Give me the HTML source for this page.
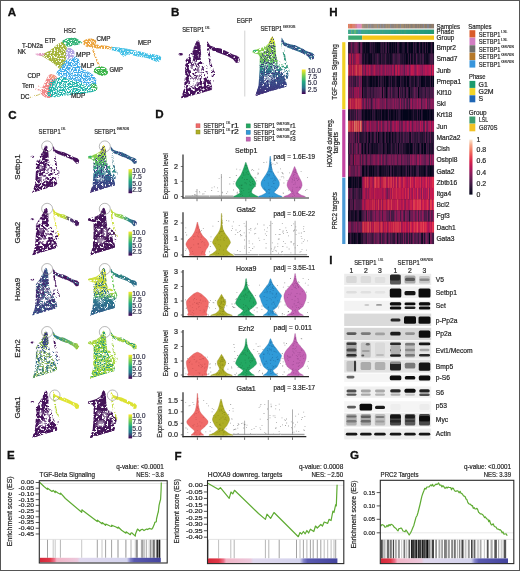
<!DOCTYPE html>
<html><head><meta charset="utf-8"><title>Figure</title>
<style>
html,body{margin:0;padding:0;background:#fff;overflow:hidden;}
svg{display:block;will-change:transform;}
text{font-family:"Liberation Sans", sans-serif;}
</style></head><body>
<svg width="520" height="571" viewBox="0 0 520 571" shape-rendering="geometricPrecision">
<defs>
<filter id="d0" x="-5%" y="-5%" width="110%" height="110%" color-interpolation-filters="sRGB"><feTurbulence type="fractalNoise" baseFrequency="0.45" numOctaves="2" seed="4" result="n"/><feColorMatrix in="n" type="matrix" values="0 0 0 0 0  0 0 0 0 0  0 0 0 0 0  7 0 0 0 -3.920" result="m"/><feComposite in="SourceGraphic" in2="m" operator="in" result="c"/><feGaussianBlur in="c" stdDeviation="0.28"/></filter>
<filter id="d1" x="-5%" y="-5%" width="110%" height="110%" color-interpolation-filters="sRGB"><feTurbulence type="fractalNoise" baseFrequency="0.45" numOctaves="2" seed="4" result="n"/><feColorMatrix in="n" type="matrix" values="0 0 0 0 0  0 0 0 0 0  0 0 0 0 0  7 0 0 0 -3.570" result="m"/><feComposite in="SourceGraphic" in2="m" operator="in" result="c"/><feGaussianBlur in="c" stdDeviation="0.28"/></filter>
<filter id="d2" x="-5%" y="-5%" width="110%" height="110%" color-interpolation-filters="sRGB"><feTurbulence type="fractalNoise" baseFrequency="0.45" numOctaves="2" seed="4" result="n"/><feColorMatrix in="n" type="matrix" values="0 0 0 0 0  0 0 0 0 0  0 0 0 0 0  7 0 0 0 -3.150" result="m"/><feComposite in="SourceGraphic" in2="m" operator="in" result="c"/><feGaussianBlur in="c" stdDeviation="0.28"/></filter>
<filter id="d3" x="-5%" y="-5%" width="110%" height="110%" color-interpolation-filters="sRGB"><feTurbulence type="fractalNoise" baseFrequency="0.45" numOctaves="2" seed="4" result="n"/><feColorMatrix in="n" type="matrix" values="0 0 0 0 0  0 0 0 0 0  0 0 0 0 0  7 0 0 0 -2.380" result="m"/><feComposite in="SourceGraphic" in2="m" operator="in" result="c"/><feGaussianBlur in="c" stdDeviation="0.28"/></filter>
<filter id="d4" x="-5%" y="-5%" width="110%" height="110%" color-interpolation-filters="sRGB"><feTurbulence type="fractalNoise" baseFrequency="0.45" numOctaves="2" seed="4" result="n"/><feColorMatrix in="n" type="matrix" values="0 0 0 0 0  0 0 0 0 0  0 0 0 0 0  7 0 0 0 -1.890" result="m"/><feComposite in="SourceGraphic" in2="m" operator="in" result="c"/><feGaussianBlur in="c" stdDeviation="0.28"/></filter>
<filter id="holesA" x="-5%" y="-5%" width="110%" height="110%" color-interpolation-filters="sRGB"><feTurbulence type="fractalNoise" baseFrequency="0.7" numOctaves="2" seed="7" result="n"/><feColorMatrix in="n" type="matrix" values="0 0 0 0 0  0 0 0 0 0  0 0 0 0 0  7 0 0 0 -2.450" result="m"/><feComposite in="SourceGraphic" in2="m" operator="in" result="c"/><feGaussianBlur in="c" stdDeviation="0.35"/></filter>
<filter id="holesB" x="-5%" y="-5%" width="110%" height="110%" color-interpolation-filters="sRGB"><feTurbulence type="fractalNoise" baseFrequency="0.8" numOctaves="2" seed="9" result="n"/><feColorMatrix in="n" type="matrix" values="0 0 0 0 0  0 0 0 0 0  0 0 0 0 0  7 0 0 0 -2.800" result="m"/><feComposite in="SourceGraphic" in2="m" operator="in" result="c"/><feGaussianBlur in="c" stdDeviation="0.3"/></filter>
<filter id="speck" x="-5%" y="-5%" width="110%" height="110%" color-interpolation-filters="sRGB"><feTurbulence type="fractalNoise" baseFrequency="0.9" numOctaves="2" seed="11" result="n"/><feColorMatrix in="n" type="matrix" values="0 0 0 0 0  0 0 0 0 0  0 0 0 0 0  7 0 0 0 -3.500" result="m"/><feComposite in="SourceGraphic" in2="m" operator="in" result="c"/><feGaussianBlur in="c" stdDeviation="0.28"/></filter>
<filter id="speck2" x="-5%" y="-5%" width="110%" height="110%" color-interpolation-filters="sRGB"><feTurbulence type="fractalNoise" baseFrequency="0.9" numOctaves="2" seed="13" result="n"/><feColorMatrix in="n" type="matrix" values="0 0 0 0 0  0 0 0 0 0  0 0 0 0 0  7 0 0 0 -3.080" result="m"/><feComposite in="SourceGraphic" in2="m" operator="in" result="c"/><feGaussianBlur in="c" stdDeviation="0.28"/></filter>
<filter id="blur3"><feGaussianBlur stdDeviation="0.35"/></filter>
<filter id="blur6"><feGaussianBlur stdDeviation="0.6"/></filter>
<filter id="blur10"><feGaussianBlur stdDeviation="1.0"/></filter>
<filter id="blur15"><feGaussianBlur stdDeviation="1.5"/></filter>
</defs>
<rect x="0.5" y="0.5" width="519" height="570" fill="none" stroke="#555" stroke-width="1"/>
<text x="7.8" y="16.4" font-size="11.6" font-weight="bold" fill="#111" stroke="#111" stroke-width="0.3">A</text>
<text x="171.1" y="15.8" font-size="11.6" font-weight="bold" fill="#111" stroke="#111" stroke-width="0.3">B</text>
<text x="329.2" y="16.2" font-size="11.6" font-weight="bold" fill="#111" stroke="#111" stroke-width="0.3">H</text>
<text x="8.2" y="118.8" font-size="11.6" font-weight="bold" fill="#111" stroke="#111" stroke-width="0.3">C</text>
<text x="155.2" y="118.0" font-size="11.6" font-weight="bold" fill="#111" stroke="#111" stroke-width="0.3">D</text>
<text x="329.3" y="263.6" font-size="11.6" font-weight="bold" fill="#111" stroke="#111" stroke-width="0.3">I</text>
<text x="7.0" y="459.2" font-size="11.6" font-weight="bold" fill="#111" stroke="#111" stroke-width="0.3">E</text>
<text x="174.6" y="459.5" font-size="11.6" font-weight="bold" fill="#111" stroke="#111" stroke-width="0.3">F</text>
<text x="349.9" y="459.3" font-size="11.6" font-weight="bold" fill="#111" stroke="#111" stroke-width="0.3">G</text>
<g filter="url(#holesA)">
<path d="M64.30,40.10 C65.02,40.67 66.27,42.22 66.60,44.80 C66.93,47.38 66.68,52.23 66.30,55.60 C65.92,58.97 65.18,62.73 64.30,65.00 C63.42,67.27 62.23,68.93 61.00,69.20 C59.77,69.47 58.70,67.97 56.90,66.60 C55.10,65.23 52.43,62.62 50.20,61.00 C47.97,59.38 45.18,57.92 43.50,56.90 C41.82,55.88 39.88,55.57 40.10,54.90 C40.32,54.23 43.12,53.68 44.80,52.90 C46.48,52.12 48.18,51.55 50.20,50.20 C52.22,48.85 54.88,46.27 56.90,44.80 C58.92,43.33 61.07,42.18 62.30,41.40 C63.53,40.62 63.58,39.53 64.30,40.10Z" fill="#a4b43a"/>
<path d="M62.00,41.50 C62.05,40.73 63.30,39.95 64.30,39.40 C65.30,38.85 66.32,38.47 68.00,38.20 C69.68,37.93 72.57,37.50 74.40,37.80 C76.23,38.10 77.73,39.17 79.00,40.00 C80.27,40.83 82.00,42.05 82.00,42.80 C82.00,43.55 80.03,44.10 79.00,44.50 C77.97,44.90 77.13,44.92 75.80,45.20 C74.47,45.48 72.47,45.98 71.00,46.20 C69.53,46.42 68.17,46.87 67.00,46.50 C65.83,46.13 64.83,44.83 64.00,44.00 C63.17,43.17 61.95,42.27 62.00,41.50Z" fill="#34b478"/>
<path d="M67.00,48.80 C67.78,47.77 69.17,47.55 70.40,48.00 C71.63,48.45 73.85,50.02 74.40,51.50 C74.95,52.98 74.37,55.55 73.70,56.90 C73.03,58.25 71.52,59.37 70.40,59.60 C69.28,59.83 67.78,59.20 67.00,58.30 C66.22,57.40 65.70,55.78 65.70,54.20 C65.70,52.62 66.22,49.83 67.00,48.80Z" fill="#b2a4e4"/>
<path d="M50.20,74.40 C51.55,74.18 54.48,75.12 55.60,75.80 C56.72,76.48 57.35,77.17 56.90,78.50 C56.45,79.83 54.02,82.02 52.90,83.80 C51.78,85.58 50.43,86.95 50.20,89.20 C49.97,91.45 52.40,95.95 51.50,97.30 C50.60,98.65 46.58,97.97 44.80,97.30 C43.02,96.63 41.25,94.87 40.80,93.30 C40.35,91.73 41.43,89.70 42.10,87.90 C42.77,86.10 43.90,84.30 44.80,82.50 C45.70,80.70 46.60,78.45 47.50,77.10 C48.40,75.75 48.85,74.62 50.20,74.40Z" fill="#f28686"/>
<path d="M35.40,53.80 C35.73,53.35 38.43,52.93 40.00,52.90 C41.57,52.87 44.22,53.15 44.80,53.60 C45.38,54.05 44.63,55.27 43.50,55.60 C42.37,55.93 39.35,55.90 38.00,55.60 C36.65,55.30 35.07,54.25 35.40,53.80Z" fill="#e294c2"/>
<path d="M83.00,41.50 C83.58,40.58 85.50,39.50 87.00,39.00 C88.50,38.50 90.50,38.25 92.00,38.50 C93.50,38.75 95.42,39.58 96.00,40.50 C96.58,41.42 96.17,42.83 95.50,44.00 C94.83,45.17 93.42,47.00 92.00,47.50 C90.58,48.00 88.42,47.50 87.00,47.00 C85.58,46.50 84.17,45.42 83.50,44.50 C82.83,43.58 82.42,42.42 83.00,41.50Z" fill="#eca43e"/>
<path d="M94.00,44.50 C95.50,44.08 100.83,45.08 104.00,45.50 C107.17,45.92 111.33,46.33 113.00,47.00 C114.67,47.67 115.50,49.17 114.00,49.50 C112.50,49.83 107.17,49.25 104.00,49.00 C100.83,48.75 96.67,48.75 95.00,48.00 C93.33,47.25 92.50,44.92 94.00,44.50Z" fill="#eca43e"/>
<path d="M94.00,69.00 C94.83,68.08 97.33,66.83 99.00,66.50 C100.67,66.17 102.58,66.42 104.00,67.00 C105.42,67.58 106.92,68.83 107.50,70.00 C108.08,71.17 108.25,73.00 107.50,74.00 C106.75,75.00 104.58,75.92 103.00,76.00 C101.42,76.08 99.50,75.17 98.00,74.50 C96.50,73.83 94.67,72.92 94.00,72.00 C93.33,71.08 93.17,69.92 94.00,69.00Z" fill="#3cb54a"/>
<path d="M112.00,47.30 C113.00,46.80 116.00,47.35 118.00,47.50 C120.00,47.65 121.50,47.78 124.00,48.20 C126.50,48.62 130.00,49.37 133.00,50.00 C136.00,50.63 139.33,51.37 142.00,52.00 C144.67,52.63 146.83,53.38 149.00,53.80 C151.17,54.22 153.17,54.13 155.00,54.50 C156.83,54.87 158.95,55.25 160.00,56.00 C161.05,56.75 161.63,58.00 161.30,59.00 C160.97,60.00 159.55,61.83 158.00,62.00 C156.45,62.17 154.00,60.70 152.00,60.00 C150.00,59.30 148.33,58.38 146.00,57.80 C143.67,57.22 141.00,57.05 138.00,56.50 C135.00,55.95 130.25,54.45 128.00,54.50 C125.75,54.55 125.58,56.72 124.50,56.80 C123.42,56.88 122.58,55.88 121.50,55.00 C120.42,54.12 119.58,52.25 118.00,51.50 C116.42,50.75 113.00,51.20 112.00,50.50 C111.00,49.80 111.00,47.80 112.00,47.30Z" fill="#42c0e6"/>
</g><g filter="url(#holesB)">
<path d="M65.00,60.50 C66.80,58.87 68.95,59.75 70.40,59.20 C71.85,58.65 72.68,57.65 73.70,57.20 C74.72,56.75 75.62,56.03 76.50,56.50 C77.38,56.97 78.42,58.75 79.00,60.00 C79.58,61.25 79.50,62.58 80.00,64.00 C80.50,65.42 80.83,67.33 82.00,68.50 C83.17,69.67 85.33,70.08 87.00,71.00 C88.67,71.92 90.50,72.67 92.00,74.00 C93.50,75.33 95.25,77.33 96.00,79.00 C96.75,80.67 97.00,82.75 96.50,84.00 C96.00,85.25 94.22,86.08 93.00,86.50 C91.78,86.92 91.18,87.17 89.20,86.50 C87.22,85.83 84.23,83.62 81.10,82.50 C77.97,81.38 73.75,80.70 70.40,79.80 C67.05,78.90 63.37,78.22 61.00,77.10 C58.63,75.98 56.43,74.45 56.20,73.10 C55.97,71.75 58.13,71.10 59.60,69.00 C61.07,66.90 63.20,62.13 65.00,60.50Z" fill="#3eaaea"/>
<path d="M50.20,81.10 C51.40,79.77 54.20,79.17 56.00,78.50 C57.80,77.83 58.60,76.88 61.00,77.10 C63.40,77.32 67.05,78.90 70.40,79.80 C73.75,80.70 77.97,81.38 81.10,82.50 C84.23,83.62 86.72,85.60 89.20,86.50 C91.68,87.40 94.77,87.22 96.00,87.90 C97.23,88.58 98.18,89.70 96.60,90.60 C95.02,91.50 90.20,92.63 86.50,93.30 C82.80,93.97 78.22,94.15 74.40,94.60 C70.58,95.05 67.42,95.55 63.60,96.00 C59.78,96.45 54.18,97.53 51.50,97.30 C48.82,97.07 47.95,96.40 47.50,94.60 C47.05,92.80 48.35,88.75 48.80,86.50 C49.25,84.25 49.00,82.43 50.20,81.10Z" fill="#20b4aa"/>
<polyline points="92.0,47.0 95.5,57.0 99.5,66.5" fill="none" stroke="#eca43e" stroke-width="1.6"/>
<polyline points="30.0,97.4 35.5,95.6 40.8,94.0" fill="none" stroke="#c8b858" stroke-width="1.1"/>
<polyline points="35.4,89.2 42.0,90.5" fill="none" stroke="#f28686" stroke-width="1.2"/>
<polyline points="38.0,86.0 44.0,88.0" fill="none" stroke="#f28686" stroke-width="0.8"/>
<path d="M50.20,74.60 C50.70,74.02 53.28,74.43 54.00,75.00 C54.72,75.57 55.00,77.42 54.50,78.00 C54.00,78.58 51.72,79.07 51.00,78.50 C50.28,77.93 49.70,75.18 50.20,74.60Z" fill="#f2a070"/>
<path d="M90.60,84.50 C91.10,83.55 93.88,83.38 95.00,83.80 C96.12,84.22 97.05,85.93 97.30,87.00 C97.55,88.07 97.38,89.78 96.50,90.20 C95.62,90.62 92.98,90.45 92.00,89.50 C91.02,88.55 90.10,85.45 90.60,84.50Z" fill="#3cb45a"/>
</g>
<text x="63.8" y="32.5" font-size="6.82" textLength="12.2" lengthAdjust="spacingAndGlyphs" fill="#222" stroke="#222" stroke-width="0.2">HSC</text>
<text x="44.7" y="43.2" font-size="6.82" textLength="10.9" lengthAdjust="spacingAndGlyphs" fill="#222" stroke="#222" stroke-width="0.2">ETP</text>
<text x="22" y="47.6" font-size="6.82" textLength="21" lengthAdjust="spacingAndGlyphs" fill="#222" stroke="#222" stroke-width="0.2">T-DN2a</text>
<text x="17.4" y="53.8" font-size="6.82" textLength="8.6" lengthAdjust="spacingAndGlyphs" fill="#222" stroke="#222" stroke-width="0.2">NK</text>
<text x="96.4" y="40.6" font-size="6.82" textLength="14" lengthAdjust="spacingAndGlyphs" fill="#222" stroke="#222" stroke-width="0.2">CMP</text>
<text x="138" y="44.8" font-size="6.82" textLength="13.2" lengthAdjust="spacingAndGlyphs" fill="#222" stroke="#222" stroke-width="0.2">MEP</text>
<text x="76" y="57" font-size="6.82" textLength="14.5" lengthAdjust="spacingAndGlyphs" fill="#222" stroke="#222" stroke-width="0.2">MPP</text>
<text x="81" y="68" font-size="6.82" textLength="13.5" lengthAdjust="spacingAndGlyphs" fill="#222" stroke="#222" stroke-width="0.2">MLP</text>
<text x="109.5" y="72.2" font-size="6.82" textLength="13.3" lengthAdjust="spacingAndGlyphs" fill="#222" stroke="#222" stroke-width="0.2">GMP</text>
<text x="27.4" y="78" font-size="6.82" textLength="13" lengthAdjust="spacingAndGlyphs" fill="#222" stroke="#222" stroke-width="0.2">CDP</text>
<text x="22" y="88" font-size="6.82" textLength="12" lengthAdjust="spacingAndGlyphs" fill="#222" stroke="#222" stroke-width="0.2">Tem</text>
<text x="20.5" y="98.8" font-size="6.82" textLength="9" lengthAdjust="spacingAndGlyphs" fill="#222" stroke="#222" stroke-width="0.2">DC</text>
<text x="71" y="98.2" font-size="6.82" textLength="14.2" lengthAdjust="spacingAndGlyphs" fill="#222" stroke="#222" stroke-width="0.2">MDP</text>
<text x="244.5" y="22.9" font-size="6.82" text-anchor="middle" textLength="15.6" lengthAdjust="spacingAndGlyphs" fill="#262626" stroke="#262626" stroke-width="0.2">EGFP</text>
<text x="182.2" y="32.4" font-size="6.82" textLength="22.0" lengthAdjust="spacingAndGlyphs" fill="#262626" stroke="#262626" stroke-width="0.2">SETBP1</text><text x="204.9" y="28.9" font-size="3.52" textLength="5.4" lengthAdjust="spacingAndGlyphs" fill="#262626" stroke="#262626" stroke-width="0.16">LSL</text>
<text x="260.5" y="30.9" font-size="6.82" textLength="21.7" lengthAdjust="spacingAndGlyphs" fill="#262626" stroke="#262626" stroke-width="0.2">SETBP1</text><text x="283.1" y="27.5" font-size="3.52" textLength="12.2" lengthAdjust="spacingAndGlyphs" fill="#262626" stroke="#262626" stroke-width="0.16">G870S</text>
<line x1="244.8" y1="30.6" x2="244.8" y2="96.5" stroke="#ccc" stroke-width="0.9"/>
<polygon points="197.7,39.5 199.5,41.5 200.7,47.0 201.5,57.7 203.0,67.0 207.0,74.6 210.8,82.3 212.3,88.5 211.5,90.0 200.8,93.0 190.0,96.2 180.8,99.2 183.7,91.5 185.7,84.0 186.2,77.0 185.2,70.0 185.2,60.8 189.2,54.6 193.3,48.5 195.9,42.3" fill="#46125c" filter="url(#d1)"/><polygon points="201.5,57.7 202.7,63.0 208.7,67.0 212.2,70.0 214.6,75.4 213.2,82.0 210.8,82.3 207.0,74.6 203.0,67.0" fill="#46125c" filter="url(#d0)"/><polygon points="188.7,58.0 200.7,58.0 202.2,68.0 203.7,78.0 195.7,82.0 187.7,80.0" fill="#46125c" filter="url(#d2)"/><polygon points="197.7,40.0 199.2,41.5 200.5,46.0 201.0,54.0 199.7,60.0 194.7,60.0 192.2,54.0 194.2,47.0 196.5,41.5" fill="#46125c" filter="url(#d4)"/><polygon points="186.2,60.8 190.7,58.0 189.7,75.0 187.7,88.0 185.7,97.0 180.8,99.2 183.8,91.5 184.6,80.8 185.4,68.5" fill="#46125c" filter="url(#d3)"/><polygon points="183.7,90.0 193.7,87.0 199.7,82.0 206.7,78.0 210.8,82.3 212.3,88.5 211.5,90.0 200.8,93.0 190.0,96.2 180.8,99.2" fill="#46125c" filter="url(#d3)"/><ellipse cx="194.2" cy="81.0" rx="4.5" ry="3.5" fill="#fff" opacity="0.55" filter="url(#blur10)"/><ellipse cx="199.7" cy="71.0" rx="2.5" ry="5.0" fill="#fff" opacity="0.55" filter="url(#blur10)"/><ellipse cx="191.7" cy="68.0" rx="2.0" ry="3.0" fill="#fff" opacity="0.55" filter="url(#blur10)"/><polygon points="207.0,40.8 210.0,45.4 216.0,47.7 220.8,48.5 227.0,51.5 233.0,54.6 237.7,56.0 240.0,58.5 239.2,62.3 236.0,63.0 233.0,59.2 227.0,56.0 219.0,53.0 213.0,50.8 209.2,48.5 207.0,45.4" fill="#46125c" filter="url(#d4)"/><polyline points="207.7,47.0 209.2,56.0 210.8,65.4 213.8,73.0 214.6,75.4" fill="none" stroke="#46125c" stroke-width="2.20" stroke-linecap="round" filter="url(#d2)"/><ellipse cx="180.8" cy="54.2" rx="2.3" ry="1.2" fill="#46125c" filter="url(#d3)"/>
<linearGradient id="g1" gradientUnits="userSpaceOnUse" x1="0" y1="36.3" x2="0" y2="96.0"><stop offset="0" stop-color="#f0e830"/><stop offset="0.08" stop-color="#d0e038"/><stop offset="0.16" stop-color="#8ed448"/><stop offset="0.4" stop-color="#70c858"/><stop offset="0.5" stop-color="#3aa880"/><stop offset="0.58" stop-color="#2c7a8c"/><stop offset="0.7" stop-color="#365c8c"/><stop offset="0.85" stop-color="#3b4486"/><stop offset="1" stop-color="#45206a"/></linearGradient><polygon points="272.2,36.3 274.0,38.3 275.2,43.8 276.0,54.5 277.5,63.8 281.5,71.4 285.3,79.1 286.8,85.3 286.0,86.8 275.3,89.8 264.5,93.0 255.3,96.0 258.2,88.3 260.2,80.8 260.7,73.8 259.7,66.8 259.7,57.6 263.7,51.4 267.8,45.3 270.4,39.1" fill="url(#g1)" filter="url(#d3)"/><polygon points="276.0,54.5 277.2,59.8 283.2,63.8 286.7,66.8 289.1,72.2 287.7,78.8 285.3,79.1 281.5,71.4 277.5,63.8" fill="url(#g1)" filter="url(#d2)"/><polygon points="263.2,54.8 275.2,54.8 276.7,64.8 278.2,74.8 270.2,78.8 262.2,76.8" fill="url(#g1)" filter="url(#d3)"/><polygon points="272.2,36.8 273.7,38.3 275.0,42.8 275.5,50.8 274.2,56.8 269.2,56.8 266.7,50.8 268.7,43.8 271.0,38.3" fill="url(#g1)" filter="url(#d4)"/><polygon points="260.7,57.6 265.2,54.8 264.2,71.8 262.2,84.8 260.2,93.8 255.3,96.0 258.3,88.3 259.1,77.6 259.9,65.3" fill="url(#g1)" filter="url(#d4)"/><polygon points="258.2,86.8 268.2,83.8 274.2,78.8 281.2,74.8 285.3,79.1 286.8,85.3 286.0,86.8 275.3,89.8 264.5,93.0 255.3,96.0" fill="url(#g1)" filter="url(#d4)"/><polygon points="268.7,43.8 263.2,47.3 257.2,49.3 252.7,50.6 252.4,52.8 258.2,54.3 260.2,57.6 263.7,51.4" fill="url(#g1)" filter="url(#d3)"/><ellipse cx="268.7" cy="77.8" rx="4.5" ry="3.5" fill="#fff" opacity="0.55" filter="url(#blur10)"/><ellipse cx="274.2" cy="67.8" rx="2.5" ry="5.0" fill="#fff" opacity="0.55" filter="url(#blur10)"/><ellipse cx="266.2" cy="64.8" rx="2.0" ry="3.0" fill="#fff" opacity="0.55" filter="url(#blur10)"/><polygon points="281.5,37.6 284.5,42.2 290.5,44.5 295.3,45.3 301.5,48.3 307.5,51.4 312.2,52.8 314.5,55.3 313.7,59.1 310.5,59.8 307.5,56.0 301.5,52.8 293.5,49.8 287.5,47.6 283.7,45.3 281.5,42.2" fill="#2f6d8e" filter="url(#d4)"/><polyline points="282.2,43.8 283.7,52.8 285.3,62.2 288.3,69.8 289.1,72.2" fill="none" stroke="#3a9a80" stroke-width="2.20" stroke-linecap="round" filter="url(#d2)"/><ellipse cx="255.3" cy="51.0" rx="2.3" ry="1.2" fill="#35b779" filter="url(#d3)"/><g filter="url(#speck)"><polygon points="272.2,36.3 274.0,38.3 275.2,43.8 276.0,54.5 277.5,63.8 281.5,71.4 285.3,79.1 286.8,85.3 286.0,86.8 275.3,89.8 264.5,93.0 255.3,96.0 258.2,88.3 260.2,80.8 260.7,73.8 259.7,66.8 259.7,57.6 263.7,51.4 267.8,45.3 270.4,39.1" fill="#3b3a80"/><polygon points="281.5,37.6 284.5,42.2 290.5,44.5 295.3,45.3 301.5,48.3 307.5,51.4 312.2,52.8 314.5,55.3 313.7,59.1 310.5,59.8 307.5,56.0 301.5,52.8 293.5,49.8 287.5,47.6 283.7,45.3 281.5,42.2" fill="#3b3a80"/></g>
<linearGradient id="g2" gradientUnits="userSpaceOnUse" x1="0" y1="69.5" x2="0" y2="94.0"><stop offset="0" stop-color="#fde725"/><stop offset="0.25" stop-color="#7ad151"/><stop offset="0.5" stop-color="#22a884"/><stop offset="0.75" stop-color="#2a788e"/><stop offset="1" stop-color="#440154"/></linearGradient><rect x="301.8" y="69.5" width="3.8" height="24.5" fill="url(#g2)"/><text x="307.7" y="72.6" font-size="6.82" fill="#33334a" stroke="#33334a" stroke-width="0.2">10.0</text><text x="307.7" y="79" font-size="6.82" fill="#33334a" stroke="#33334a" stroke-width="0.2">7.5</text><text x="307.7" y="85.3" font-size="6.82" fill="#33334a" stroke="#33334a" stroke-width="0.2">5.0</text><text x="307.7" y="91.6" font-size="6.82" fill="#33334a" stroke="#33334a" stroke-width="0.2">2.5</text>
<rect x="348.2" y="42.2" width="85.8" height="201.8" fill="#1a0a1e"/>
<rect x="348.20" y="42.20" width="1.05" height="11.26" fill="#2e1639"/>
<rect x="349.20" y="42.20" width="1.05" height="11.26" fill="#36183d"/>
<rect x="350.20" y="42.20" width="1.05" height="11.26" fill="#501d4b"/>
<rect x="351.19" y="42.20" width="1.05" height="11.26" fill="#871d5a"/>
<rect x="352.19" y="42.20" width="1.05" height="11.26" fill="#511d4c"/>
<rect x="353.19" y="42.20" width="1.05" height="11.26" fill="#491c49"/>
<rect x="354.19" y="42.20" width="1.05" height="11.26" fill="#701f57"/>
<rect x="355.18" y="42.20" width="1.05" height="11.26" fill="#7e1e58"/>
<rect x="356.18" y="42.20" width="1.05" height="11.26" fill="#8a1d5a"/>
<rect x="357.18" y="42.20" width="1.05" height="11.26" fill="#6c1f56"/>
<rect x="358.18" y="42.20" width="1.05" height="11.26" fill="#4c1d4a"/>
<rect x="359.17" y="42.20" width="1.05" height="11.26" fill="#140d27"/>
<rect x="360.17" y="42.20" width="1.05" height="11.26" fill="#661f54"/>
<rect x="361.17" y="42.20" width="1.05" height="11.26" fill="#741e57"/>
<rect x="362.17" y="42.20" width="1.05" height="11.26" fill="#2a1536"/>
<rect x="363.17" y="42.20" width="1.05" height="11.26" fill="#110b24"/>
<rect x="364.16" y="42.20" width="1.05" height="11.26" fill="#0d0921"/>
<rect x="365.16" y="42.20" width="1.05" height="11.26" fill="#20122f"/>
<rect x="366.16" y="42.20" width="1.05" height="11.26" fill="#03051a"/>
<rect x="367.16" y="42.20" width="1.05" height="11.26" fill="#0e0a22"/>
<rect x="368.15" y="42.20" width="1.05" height="11.26" fill="#03051a"/>
<rect x="369.15" y="42.20" width="1.05" height="11.26" fill="#180e29"/>
<rect x="370.15" y="42.20" width="1.05" height="11.26" fill="#3e1a43"/>
<rect x="371.15" y="42.20" width="1.05" height="11.26" fill="#241332"/>
<rect x="372.14" y="42.20" width="1.05" height="11.26" fill="#2f1639"/>
<rect x="373.14" y="42.20" width="1.05" height="11.26" fill="#180f2a"/>
<rect x="374.14" y="42.20" width="1.05" height="11.26" fill="#2d1638"/>
<rect x="375.14" y="42.20" width="1.05" height="11.26" fill="#0b0920"/>
<rect x="376.13" y="42.20" width="1.05" height="11.26" fill="#100b24"/>
<rect x="377.13" y="42.20" width="1.05" height="11.26" fill="#03051a"/>
<rect x="378.13" y="42.20" width="1.05" height="11.26" fill="#09081e"/>
<rect x="379.13" y="42.20" width="1.05" height="11.26" fill="#03051a"/>
<rect x="380.13" y="42.20" width="1.05" height="11.26" fill="#251433"/>
<rect x="381.12" y="42.20" width="1.05" height="11.26" fill="#3a1940"/>
<rect x="382.12" y="42.20" width="1.05" height="11.26" fill="#261433"/>
<rect x="383.12" y="42.20" width="1.05" height="11.26" fill="#3a1940"/>
<rect x="384.12" y="42.20" width="1.05" height="11.26" fill="#140c26"/>
<rect x="385.11" y="42.20" width="2.05" height="11.26" fill="#3e1a43"/>
<rect x="387.11" y="42.20" width="1.05" height="11.26" fill="#03051a"/>
<rect x="388.11" y="42.20" width="1.05" height="11.26" fill="#36183e"/>
<rect x="389.10" y="42.20" width="1.05" height="11.26" fill="#0e0a22"/>
<rect x="390.10" y="42.20" width="1.05" height="11.26" fill="#03051a"/>
<rect x="391.10" y="42.20" width="1.05" height="11.26" fill="#1c102c"/>
<rect x="392.10" y="42.20" width="1.05" height="11.26" fill="#04061b"/>
<rect x="393.10" y="42.20" width="1.05" height="11.26" fill="#1a102b"/>
<rect x="394.09" y="42.20" width="1.05" height="11.26" fill="#08071d"/>
<rect x="395.09" y="42.20" width="1.05" height="11.26" fill="#271434"/>
<rect x="396.09" y="42.20" width="1.05" height="11.26" fill="#03051a"/>
<rect x="397.09" y="42.20" width="1.05" height="11.26" fill="#3e1a43"/>
<rect x="398.08" y="42.20" width="1.05" height="11.26" fill="#34183c"/>
<rect x="399.08" y="42.20" width="1.05" height="11.26" fill="#130c26"/>
<rect x="400.08" y="42.20" width="1.05" height="11.26" fill="#04051b"/>
<rect x="401.08" y="42.20" width="1.05" height="11.26" fill="#0e0a22"/>
<rect x="402.07" y="42.20" width="1.05" height="11.26" fill="#221331"/>
<rect x="403.07" y="42.20" width="1.05" height="11.26" fill="#281535"/>
<rect x="404.07" y="42.20" width="1.05" height="11.26" fill="#1e112e"/>
<rect x="405.07" y="42.20" width="2.05" height="11.26" fill="#03051a"/>
<rect x="407.06" y="42.20" width="1.05" height="11.26" fill="#37183e"/>
<rect x="408.06" y="42.20" width="1.05" height="11.26" fill="#1b102c"/>
<rect x="409.06" y="42.20" width="1.05" height="11.26" fill="#03051a"/>
<rect x="410.06" y="42.20" width="1.05" height="11.26" fill="#0f0a23"/>
<rect x="411.05" y="42.20" width="2.05" height="11.26" fill="#03051a"/>
<rect x="413.05" y="42.20" width="1.05" height="11.26" fill="#3b1a41"/>
<rect x="414.05" y="42.20" width="1.05" height="11.26" fill="#130c26"/>
<rect x="415.04" y="42.20" width="1.05" height="11.26" fill="#32173b"/>
<rect x="416.04" y="42.20" width="1.05" height="11.26" fill="#221331"/>
<rect x="417.04" y="42.20" width="1.05" height="11.26" fill="#03051a"/>
<rect x="418.04" y="42.20" width="1.05" height="11.26" fill="#0b0820"/>
<rect x="419.03" y="42.20" width="1.05" height="11.26" fill="#3e1a43"/>
<rect x="420.03" y="42.20" width="1.05" height="11.26" fill="#140d26"/>
<rect x="421.03" y="42.20" width="1.05" height="11.26" fill="#03051a"/>
<rect x="422.03" y="42.20" width="1.05" height="11.26" fill="#30173a"/>
<rect x="423.03" y="42.20" width="1.05" height="11.26" fill="#1e112e"/>
<rect x="424.02" y="42.20" width="1.05" height="11.26" fill="#09081e"/>
<rect x="425.02" y="42.20" width="1.05" height="11.26" fill="#39193f"/>
<rect x="426.02" y="42.20" width="1.05" height="11.26" fill="#03051a"/>
<rect x="427.02" y="42.20" width="1.05" height="11.26" fill="#281535"/>
<rect x="428.01" y="42.20" width="2.05" height="11.26" fill="#03051a"/>
<rect x="430.01" y="42.20" width="1.05" height="11.26" fill="#140d27"/>
<rect x="431.01" y="42.20" width="1.05" height="11.26" fill="#38193f"/>
<rect x="432.00" y="42.20" width="1.05" height="11.26" fill="#180f2a"/>
<rect x="433.00" y="42.20" width="1.05" height="11.26" fill="#03051a"/>
<rect x="348.20" y="53.41" width="1.05" height="11.26" fill="#731e57"/>
<rect x="349.20" y="53.41" width="1.05" height="11.26" fill="#c11a54"/>
<rect x="350.20" y="53.41" width="1.05" height="11.26" fill="#c91d51"/>
<rect x="351.19" y="53.41" width="1.05" height="11.26" fill="#641f54"/>
<rect x="352.19" y="53.41" width="1.05" height="11.26" fill="#ce204f"/>
<rect x="353.19" y="53.41" width="1.05" height="11.26" fill="#7a1e58"/>
<rect x="354.19" y="53.41" width="1.05" height="11.26" fill="#911c5b"/>
<rect x="355.18" y="53.41" width="1.05" height="11.26" fill="#a41959"/>
<rect x="356.18" y="53.41" width="1.05" height="11.26" fill="#ce204f"/>
<rect x="357.18" y="53.41" width="1.05" height="11.26" fill="#ca1e51"/>
<rect x="358.18" y="53.41" width="1.05" height="11.26" fill="#c61c52"/>
<rect x="359.17" y="53.41" width="1.05" height="11.26" fill="#951c5b"/>
<rect x="360.17" y="53.41" width="1.05" height="11.26" fill="#8a1d5a"/>
<rect x="361.17" y="53.41" width="1.05" height="11.26" fill="#7b1e58"/>
<rect x="362.17" y="53.41" width="1.05" height="11.26" fill="#1c102d"/>
<rect x="363.17" y="53.41" width="1.05" height="11.26" fill="#170e29"/>
<rect x="364.16" y="53.41" width="1.05" height="11.26" fill="#36183e"/>
<rect x="365.16" y="53.41" width="1.05" height="11.26" fill="#0b0820"/>
<rect x="366.16" y="53.41" width="1.05" height="11.26" fill="#190f2a"/>
<rect x="367.16" y="53.41" width="1.05" height="11.26" fill="#251433"/>
<rect x="368.15" y="53.41" width="1.05" height="11.26" fill="#0c0921"/>
<rect x="369.15" y="53.41" width="1.05" height="11.26" fill="#07071d"/>
<rect x="370.15" y="53.41" width="1.05" height="11.26" fill="#110b25"/>
<rect x="371.15" y="53.41" width="1.05" height="11.26" fill="#08071e"/>
<rect x="372.14" y="53.41" width="1.05" height="11.26" fill="#35183d"/>
<rect x="373.14" y="53.41" width="1.05" height="11.26" fill="#281535"/>
<rect x="374.14" y="53.41" width="1.05" height="11.26" fill="#190f2a"/>
<rect x="375.14" y="53.41" width="1.05" height="11.26" fill="#37183e"/>
<rect x="376.13" y="53.41" width="1.05" height="11.26" fill="#32173b"/>
<rect x="377.13" y="53.41" width="1.05" height="11.26" fill="#541d4d"/>
<rect x="378.13" y="53.41" width="1.05" height="11.26" fill="#36183e"/>
<rect x="379.13" y="53.41" width="1.05" height="11.26" fill="#211331"/>
<rect x="380.13" y="53.41" width="1.05" height="11.26" fill="#130c26"/>
<rect x="381.12" y="53.41" width="1.05" height="11.26" fill="#431b46"/>
<rect x="382.12" y="53.41" width="1.05" height="11.26" fill="#291535"/>
<rect x="383.12" y="53.41" width="1.05" height="11.26" fill="#2a1536"/>
<rect x="384.12" y="53.41" width="1.05" height="11.26" fill="#281535"/>
<rect x="385.11" y="53.41" width="1.05" height="11.26" fill="#4d1d4a"/>
<rect x="386.11" y="53.41" width="1.05" height="11.26" fill="#231331"/>
<rect x="387.11" y="53.41" width="1.05" height="11.26" fill="#1a102b"/>
<rect x="388.11" y="53.41" width="1.05" height="11.26" fill="#170e29"/>
<rect x="389.10" y="53.41" width="1.05" height="11.26" fill="#2a1536"/>
<rect x="390.10" y="53.41" width="1.05" height="11.26" fill="#0d0a22"/>
<rect x="391.10" y="53.41" width="1.05" height="11.26" fill="#180e29"/>
<rect x="392.10" y="53.41" width="1.05" height="11.26" fill="#2f1639"/>
<rect x="393.10" y="53.41" width="1.05" height="11.26" fill="#541d4d"/>
<rect x="394.09" y="53.41" width="1.05" height="11.26" fill="#401b44"/>
<rect x="395.09" y="53.41" width="1.05" height="11.26" fill="#35183d"/>
<rect x="396.09" y="53.41" width="1.05" height="11.26" fill="#32173b"/>
<rect x="397.09" y="53.41" width="1.05" height="11.26" fill="#441c46"/>
<rect x="398.08" y="53.41" width="1.05" height="11.26" fill="#4a1c49"/>
<rect x="399.08" y="53.41" width="1.05" height="11.26" fill="#511d4c"/>
<rect x="400.08" y="53.41" width="1.05" height="11.26" fill="#281535"/>
<rect x="401.08" y="53.41" width="1.05" height="11.26" fill="#251433"/>
<rect x="402.07" y="53.41" width="1.05" height="11.26" fill="#1d112d"/>
<rect x="403.07" y="53.41" width="1.05" height="11.26" fill="#2b1537"/>
<rect x="404.07" y="53.41" width="1.05" height="11.26" fill="#130c26"/>
<rect x="405.07" y="53.41" width="1.05" height="11.26" fill="#20122f"/>
<rect x="406.07" y="53.41" width="1.05" height="11.26" fill="#03051a"/>
<rect x="407.06" y="53.41" width="1.05" height="11.26" fill="#0b0920"/>
<rect x="408.06" y="53.41" width="1.05" height="11.26" fill="#34183d"/>
<rect x="409.06" y="53.41" width="1.05" height="11.26" fill="#03051a"/>
<rect x="410.06" y="53.41" width="1.05" height="11.26" fill="#481c48"/>
<rect x="411.05" y="53.41" width="1.05" height="11.26" fill="#0b0920"/>
<rect x="412.05" y="53.41" width="1.05" height="11.26" fill="#180f2a"/>
<rect x="413.05" y="53.41" width="1.05" height="11.26" fill="#3d1a42"/>
<rect x="414.05" y="53.41" width="1.05" height="11.26" fill="#120c25"/>
<rect x="415.04" y="53.41" width="1.05" height="11.26" fill="#170e29"/>
<rect x="416.04" y="53.41" width="1.05" height="11.26" fill="#541d4d"/>
<rect x="417.04" y="53.41" width="1.05" height="11.26" fill="#2b1537"/>
<rect x="418.04" y="53.41" width="1.05" height="11.26" fill="#1c102c"/>
<rect x="419.03" y="53.41" width="1.05" height="11.26" fill="#281535"/>
<rect x="420.03" y="53.41" width="1.05" height="11.26" fill="#3e1a42"/>
<rect x="421.03" y="53.41" width="1.05" height="11.26" fill="#1f122f"/>
<rect x="422.03" y="53.41" width="1.05" height="11.26" fill="#3f1a43"/>
<rect x="423.03" y="53.41" width="1.05" height="11.26" fill="#451c47"/>
<rect x="424.02" y="53.41" width="1.05" height="11.26" fill="#110b24"/>
<rect x="425.02" y="53.41" width="1.05" height="11.26" fill="#1e112e"/>
<rect x="426.02" y="53.41" width="1.05" height="11.26" fill="#110b24"/>
<rect x="427.02" y="53.41" width="1.05" height="11.26" fill="#0d0a21"/>
<rect x="428.01" y="53.41" width="1.05" height="11.26" fill="#1b102c"/>
<rect x="429.01" y="53.41" width="1.05" height="11.26" fill="#2b1537"/>
<rect x="430.01" y="53.41" width="1.05" height="11.26" fill="#421b45"/>
<rect x="431.01" y="53.41" width="1.05" height="11.26" fill="#441c46"/>
<rect x="432.00" y="53.41" width="1.05" height="11.26" fill="#4a1c49"/>
<rect x="433.00" y="53.41" width="1.05" height="11.26" fill="#291535"/>
<rect x="348.20" y="64.62" width="1.05" height="11.26" fill="#eb4f54"/>
<rect x="349.20" y="64.62" width="1.05" height="11.26" fill="#bd1856"/>
<rect x="350.20" y="64.62" width="1.05" height="11.26" fill="#d1214e"/>
<rect x="351.19" y="64.62" width="1.05" height="11.26" fill="#af1858"/>
<rect x="352.19" y="64.62" width="1.05" height="11.26" fill="#e64151"/>
<rect x="353.19" y="64.62" width="1.05" height="11.26" fill="#b81657"/>
<rect x="354.19" y="64.62" width="1.05" height="11.26" fill="#d3224d"/>
<rect x="355.18" y="64.62" width="1.05" height="11.26" fill="#df334e"/>
<rect x="356.18" y="64.62" width="1.05" height="11.26" fill="#ec5256"/>
<rect x="357.18" y="64.62" width="1.05" height="11.26" fill="#ce204f"/>
<rect x="358.18" y="64.62" width="1.05" height="11.26" fill="#d6244c"/>
<rect x="359.17" y="64.62" width="1.05" height="11.26" fill="#e53e50"/>
<rect x="360.17" y="64.62" width="1.05" height="11.26" fill="#e0344f"/>
<rect x="361.17" y="64.62" width="1.05" height="11.26" fill="#e64051"/>
<rect x="362.17" y="64.62" width="1.05" height="11.26" fill="#791e58"/>
<rect x="363.17" y="64.62" width="1.05" height="11.26" fill="#a51959"/>
<rect x="364.16" y="64.62" width="1.05" height="11.26" fill="#b61657"/>
<rect x="365.16" y="64.62" width="1.05" height="11.26" fill="#6c1f56"/>
<rect x="366.16" y="64.62" width="1.05" height="11.26" fill="#be1855"/>
<rect x="367.16" y="64.62" width="1.05" height="11.26" fill="#c11a54"/>
<rect x="368.15" y="64.62" width="1.05" height="11.26" fill="#981b5a"/>
<rect x="369.15" y="64.62" width="1.05" height="11.26" fill="#cb1e50"/>
<rect x="370.15" y="64.62" width="1.05" height="11.26" fill="#a81959"/>
<rect x="371.15" y="64.62" width="1.05" height="11.26" fill="#841d59"/>
<rect x="372.14" y="64.62" width="1.05" height="11.26" fill="#9a1b5a"/>
<rect x="373.14" y="64.62" width="1.05" height="11.26" fill="#ae1858"/>
<rect x="374.14" y="64.62" width="1.05" height="11.26" fill="#cb1e50"/>
<rect x="375.14" y="64.62" width="1.05" height="11.26" fill="#a01a5a"/>
<rect x="376.13" y="64.62" width="1.05" height="11.26" fill="#8a1d5a"/>
<rect x="377.13" y="64.62" width="1.05" height="11.26" fill="#961b5b"/>
<rect x="378.13" y="64.62" width="1.05" height="11.26" fill="#a51959"/>
<rect x="379.13" y="64.62" width="1.05" height="11.26" fill="#7f1d59"/>
<rect x="380.13" y="64.62" width="1.05" height="11.26" fill="#981b5a"/>
<rect x="381.12" y="64.62" width="1.05" height="11.26" fill="#b51757"/>
<rect x="382.12" y="64.62" width="1.05" height="11.26" fill="#8f1c5b"/>
<rect x="383.12" y="64.62" width="1.05" height="11.26" fill="#831d59"/>
<rect x="384.12" y="64.62" width="1.05" height="11.26" fill="#911c5b"/>
<rect x="385.11" y="64.62" width="1.05" height="11.26" fill="#bb1756"/>
<rect x="386.11" y="64.62" width="1.05" height="11.26" fill="#8a1d5a"/>
<rect x="387.11" y="64.62" width="1.05" height="11.26" fill="#a21a59"/>
<rect x="388.11" y="64.62" width="1.05" height="11.26" fill="#901c5b"/>
<rect x="389.10" y="64.62" width="1.05" height="11.26" fill="#a01a5a"/>
<rect x="390.10" y="64.62" width="1.05" height="11.26" fill="#9b1b5a"/>
<rect x="391.10" y="64.62" width="1.05" height="11.26" fill="#811d59"/>
<rect x="392.10" y="64.62" width="1.05" height="11.26" fill="#ba1757"/>
<rect x="393.10" y="64.62" width="1.05" height="11.26" fill="#ab1858"/>
<rect x="394.09" y="64.62" width="1.05" height="11.26" fill="#5d1e51"/>
<rect x="395.09" y="64.62" width="1.05" height="11.26" fill="#c31a53"/>
<rect x="396.09" y="64.62" width="1.05" height="11.26" fill="#cb1e50"/>
<rect x="397.09" y="64.62" width="1.05" height="11.26" fill="#8a1d5a"/>
<rect x="398.08" y="64.62" width="1.05" height="11.26" fill="#c91d51"/>
<rect x="399.08" y="64.62" width="1.05" height="11.26" fill="#b01758"/>
<rect x="400.08" y="64.62" width="1.05" height="11.26" fill="#861d59"/>
<rect x="401.08" y="64.62" width="1.05" height="11.26" fill="#a41959"/>
<rect x="402.07" y="64.62" width="1.05" height="11.26" fill="#901c5b"/>
<rect x="403.07" y="64.62" width="1.05" height="11.26" fill="#881d5a"/>
<rect x="404.07" y="64.62" width="1.05" height="11.26" fill="#601e52"/>
<rect x="405.07" y="64.62" width="1.05" height="11.26" fill="#a41959"/>
<rect x="406.07" y="64.62" width="1.05" height="11.26" fill="#8f1c5b"/>
<rect x="407.06" y="64.62" width="1.05" height="11.26" fill="#b41757"/>
<rect x="408.06" y="64.62" width="1.05" height="11.26" fill="#ad1858"/>
<rect x="409.06" y="64.62" width="1.05" height="11.26" fill="#771e58"/>
<rect x="410.06" y="64.62" width="1.05" height="11.26" fill="#aa1859"/>
<rect x="411.05" y="64.62" width="1.05" height="11.26" fill="#cb1e50"/>
<rect x="412.05" y="64.62" width="1.05" height="11.26" fill="#c51b53"/>
<rect x="413.05" y="64.62" width="1.05" height="11.26" fill="#c31b53"/>
<rect x="414.05" y="64.62" width="1.05" height="11.26" fill="#9b1b5a"/>
<rect x="415.04" y="64.62" width="1.05" height="11.26" fill="#841d59"/>
<rect x="416.04" y="64.62" width="1.05" height="11.26" fill="#a51959"/>
<rect x="417.04" y="64.62" width="1.05" height="11.26" fill="#cb1e50"/>
<rect x="418.04" y="64.62" width="1.05" height="11.26" fill="#b71657"/>
<rect x="419.03" y="64.62" width="1.05" height="11.26" fill="#af1858"/>
<rect x="420.03" y="64.62" width="1.05" height="11.26" fill="#9b1b5a"/>
<rect x="421.03" y="64.62" width="1.05" height="11.26" fill="#981b5a"/>
<rect x="422.03" y="64.62" width="1.05" height="11.26" fill="#801d59"/>
<rect x="423.03" y="64.62" width="1.05" height="11.26" fill="#ad1858"/>
<rect x="424.02" y="64.62" width="1.05" height="11.26" fill="#a01a5a"/>
<rect x="425.02" y="64.62" width="1.05" height="11.26" fill="#bd1856"/>
<rect x="426.02" y="64.62" width="1.05" height="11.26" fill="#b81657"/>
<rect x="427.02" y="64.62" width="1.05" height="11.26" fill="#a61959"/>
<rect x="428.01" y="64.62" width="1.05" height="11.26" fill="#b01758"/>
<rect x="429.01" y="64.62" width="1.05" height="11.26" fill="#bc1756"/>
<rect x="430.01" y="64.62" width="1.05" height="11.26" fill="#c91d51"/>
<rect x="431.01" y="64.62" width="1.05" height="11.26" fill="#7f1d59"/>
<rect x="432.00" y="64.62" width="1.05" height="11.26" fill="#cb1e50"/>
<rect x="433.00" y="64.62" width="1.05" height="11.26" fill="#b01758"/>
<rect x="348.20" y="75.83" width="1.05" height="11.26" fill="#921c5b"/>
<rect x="349.20" y="75.83" width="1.05" height="11.26" fill="#481c48"/>
<rect x="350.20" y="75.83" width="1.05" height="11.26" fill="#681f55"/>
<rect x="351.19" y="75.83" width="1.05" height="11.26" fill="#401b44"/>
<rect x="352.19" y="75.83" width="1.05" height="11.26" fill="#6c1f56"/>
<rect x="353.19" y="75.83" width="1.05" height="11.26" fill="#391940"/>
<rect x="354.19" y="75.83" width="1.05" height="11.26" fill="#451c47"/>
<rect x="355.18" y="75.83" width="1.05" height="11.26" fill="#30173a"/>
<rect x="356.18" y="75.83" width="1.05" height="11.26" fill="#6f1f57"/>
<rect x="357.18" y="75.83" width="1.05" height="11.26" fill="#4e1d4b"/>
<rect x="358.18" y="75.83" width="1.05" height="11.26" fill="#571d4e"/>
<rect x="359.17" y="75.83" width="1.05" height="11.26" fill="#921c5b"/>
<rect x="360.17" y="75.83" width="1.05" height="11.26" fill="#711e57"/>
<rect x="361.17" y="75.83" width="1.05" height="11.26" fill="#851d59"/>
<rect x="362.17" y="75.83" width="1.05" height="11.26" fill="#03051a"/>
<rect x="363.17" y="75.83" width="1.05" height="11.26" fill="#1a0f2b"/>
<rect x="364.16" y="75.83" width="1.05" height="11.26" fill="#160e28"/>
<rect x="365.16" y="75.83" width="1.05" height="11.26" fill="#110b25"/>
<rect x="366.16" y="75.83" width="1.05" height="11.26" fill="#241433"/>
<rect x="367.16" y="75.83" width="1.05" height="11.26" fill="#37183e"/>
<rect x="368.15" y="75.83" width="1.05" height="11.26" fill="#1d112d"/>
<rect x="369.15" y="75.83" width="1.05" height="11.26" fill="#150d27"/>
<rect x="370.15" y="75.83" width="2.05" height="11.26" fill="#03051a"/>
<rect x="372.14" y="75.83" width="1.05" height="11.26" fill="#1c102c"/>
<rect x="373.14" y="75.83" width="1.05" height="11.26" fill="#0a081f"/>
<rect x="374.14" y="75.83" width="1.05" height="11.26" fill="#120c25"/>
<rect x="375.14" y="75.83" width="1.05" height="11.26" fill="#1e112e"/>
<rect x="376.13" y="75.83" width="1.05" height="11.26" fill="#03051a"/>
<rect x="377.13" y="75.83" width="1.05" height="11.26" fill="#0b0920"/>
<rect x="378.13" y="75.83" width="1.05" height="11.26" fill="#3d1a42"/>
<rect x="379.13" y="75.83" width="1.05" height="11.26" fill="#0b0920"/>
<rect x="380.13" y="75.83" width="1.05" height="11.26" fill="#35183d"/>
<rect x="381.12" y="75.83" width="1.05" height="11.26" fill="#37183e"/>
<rect x="382.12" y="75.83" width="1.05" height="11.26" fill="#1e112e"/>
<rect x="383.12" y="75.83" width="1.05" height="11.26" fill="#2f1639"/>
<rect x="384.12" y="75.83" width="1.05" height="11.26" fill="#03051a"/>
<rect x="385.11" y="75.83" width="1.05" height="11.26" fill="#251433"/>
<rect x="386.11" y="75.83" width="2.05" height="11.26" fill="#03051a"/>
<rect x="388.11" y="75.83" width="1.05" height="11.26" fill="#180f2a"/>
<rect x="389.10" y="75.83" width="1.05" height="11.26" fill="#31173a"/>
<rect x="390.10" y="75.83" width="1.05" height="11.26" fill="#120c25"/>
<rect x="391.10" y="75.83" width="1.05" height="11.26" fill="#3e1a43"/>
<rect x="392.10" y="75.83" width="1.05" height="11.26" fill="#0b0920"/>
<rect x="393.10" y="75.83" width="1.05" height="11.26" fill="#160e28"/>
<rect x="394.09" y="75.83" width="1.05" height="11.26" fill="#150d27"/>
<rect x="395.09" y="75.83" width="1.05" height="11.26" fill="#38193f"/>
<rect x="396.09" y="75.83" width="1.05" height="11.26" fill="#20122f"/>
<rect x="397.09" y="75.83" width="1.05" height="11.26" fill="#07071d"/>
<rect x="398.08" y="75.83" width="1.05" height="11.26" fill="#0a0820"/>
<rect x="399.08" y="75.83" width="1.05" height="11.26" fill="#03051a"/>
<rect x="400.08" y="75.83" width="1.05" height="11.26" fill="#3a1940"/>
<rect x="401.08" y="75.83" width="1.05" height="11.26" fill="#1f122f"/>
<rect x="402.07" y="75.83" width="1.05" height="11.26" fill="#1c102d"/>
<rect x="403.07" y="75.83" width="1.05" height="11.26" fill="#241432"/>
<rect x="404.07" y="75.83" width="1.05" height="11.26" fill="#07071d"/>
<rect x="405.07" y="75.83" width="1.05" height="11.26" fill="#0a081f"/>
<rect x="406.07" y="75.83" width="1.05" height="11.26" fill="#2b1537"/>
<rect x="407.06" y="75.83" width="2.05" height="11.26" fill="#03051a"/>
<rect x="409.06" y="75.83" width="1.05" height="11.26" fill="#2e1638"/>
<rect x="410.06" y="75.83" width="1.05" height="11.26" fill="#3e1a43"/>
<rect x="411.05" y="75.83" width="1.05" height="11.26" fill="#1e112e"/>
<rect x="412.05" y="75.83" width="1.05" height="11.26" fill="#1c102c"/>
<rect x="413.05" y="75.83" width="1.05" height="11.26" fill="#211331"/>
<rect x="414.05" y="75.83" width="1.05" height="11.26" fill="#3d1a42"/>
<rect x="415.04" y="75.83" width="1.05" height="11.26" fill="#0b0920"/>
<rect x="416.04" y="75.83" width="1.05" height="11.26" fill="#1f122f"/>
<rect x="417.04" y="75.83" width="1.05" height="11.26" fill="#34183c"/>
<rect x="418.04" y="75.83" width="1.05" height="11.26" fill="#3e1a43"/>
<rect x="419.03" y="75.83" width="1.05" height="11.26" fill="#1c102c"/>
<rect x="420.03" y="75.83" width="1.05" height="11.26" fill="#2d1638"/>
<rect x="421.03" y="75.83" width="2.05" height="11.26" fill="#03051a"/>
<rect x="423.03" y="75.83" width="1.05" height="11.26" fill="#0c0921"/>
<rect x="424.02" y="75.83" width="1.05" height="11.26" fill="#0b0820"/>
<rect x="425.02" y="75.83" width="1.05" height="11.26" fill="#291536"/>
<rect x="426.02" y="75.83" width="1.05" height="11.26" fill="#0f0a23"/>
<rect x="427.02" y="75.83" width="1.05" height="11.26" fill="#0f0b23"/>
<rect x="428.01" y="75.83" width="1.05" height="11.26" fill="#100b24"/>
<rect x="429.01" y="75.83" width="1.05" height="11.26" fill="#100b23"/>
<rect x="430.01" y="75.83" width="1.05" height="11.26" fill="#3a1940"/>
<rect x="431.01" y="75.83" width="1.05" height="11.26" fill="#03051a"/>
<rect x="432.00" y="75.83" width="1.05" height="11.26" fill="#241332"/>
<rect x="433.00" y="75.83" width="1.05" height="11.26" fill="#03051a"/>
<rect x="348.20" y="87.04" width="1.05" height="11.26" fill="#9f1a5a"/>
<rect x="349.20" y="87.04" width="1.05" height="11.26" fill="#6d1f56"/>
<rect x="350.20" y="87.04" width="1.05" height="11.26" fill="#831d59"/>
<rect x="351.19" y="87.04" width="1.05" height="11.26" fill="#651f54"/>
<rect x="352.19" y="87.04" width="1.05" height="11.26" fill="#961b5b"/>
<rect x="353.19" y="87.04" width="1.05" height="11.26" fill="#5d1e51"/>
<rect x="354.19" y="87.04" width="1.05" height="11.26" fill="#af1858"/>
<rect x="355.18" y="87.04" width="1.05" height="11.26" fill="#a11a59"/>
<rect x="356.18" y="87.04" width="1.05" height="11.26" fill="#af1858"/>
<rect x="357.18" y="87.04" width="1.05" height="11.26" fill="#9b1b5a"/>
<rect x="358.18" y="87.04" width="1.05" height="11.26" fill="#b91657"/>
<rect x="359.17" y="87.04" width="1.05" height="11.26" fill="#801d59"/>
<rect x="360.17" y="87.04" width="1.05" height="11.26" fill="#901c5b"/>
<rect x="361.17" y="87.04" width="1.05" height="11.26" fill="#9b1b5a"/>
<rect x="362.17" y="87.04" width="1.05" height="11.26" fill="#03051a"/>
<rect x="363.17" y="87.04" width="1.05" height="11.26" fill="#451c47"/>
<rect x="364.16" y="87.04" width="1.05" height="11.26" fill="#30173a"/>
<rect x="365.16" y="87.04" width="1.05" height="11.26" fill="#2c1537"/>
<rect x="366.16" y="87.04" width="1.05" height="11.26" fill="#2e1639"/>
<rect x="367.16" y="87.04" width="1.05" height="11.26" fill="#571d4e"/>
<rect x="368.15" y="87.04" width="1.05" height="11.26" fill="#471c48"/>
<rect x="369.15" y="87.04" width="1.05" height="11.26" fill="#451c47"/>
<rect x="370.15" y="87.04" width="1.05" height="11.26" fill="#2d1638"/>
<rect x="371.15" y="87.04" width="1.05" height="11.26" fill="#4c1d4a"/>
<rect x="372.14" y="87.04" width="1.05" height="11.26" fill="#451c47"/>
<rect x="373.14" y="87.04" width="1.05" height="11.26" fill="#30173a"/>
<rect x="374.14" y="87.04" width="1.05" height="11.26" fill="#521d4c"/>
<rect x="375.14" y="87.04" width="1.05" height="11.26" fill="#541d4d"/>
<rect x="376.13" y="87.04" width="1.05" height="11.26" fill="#4b1d4a"/>
<rect x="377.13" y="87.04" width="1.05" height="11.26" fill="#581e4f"/>
<rect x="378.13" y="87.04" width="1.05" height="11.26" fill="#551d4e"/>
<rect x="379.13" y="87.04" width="1.05" height="11.26" fill="#5b1e50"/>
<rect x="380.13" y="87.04" width="1.05" height="11.26" fill="#6a1f56"/>
<rect x="381.12" y="87.04" width="1.05" height="11.26" fill="#641e53"/>
<rect x="382.12" y="87.04" width="1.05" height="11.26" fill="#09081e"/>
<rect x="383.12" y="87.04" width="1.05" height="11.26" fill="#6a1f56"/>
<rect x="384.12" y="87.04" width="1.05" height="11.26" fill="#36183d"/>
<rect x="385.11" y="87.04" width="1.05" height="11.26" fill="#30173a"/>
<rect x="386.11" y="87.04" width="1.05" height="11.26" fill="#03051a"/>
<rect x="387.11" y="87.04" width="1.05" height="11.26" fill="#31173b"/>
<rect x="388.11" y="87.04" width="1.05" height="11.26" fill="#631e53"/>
<rect x="389.10" y="87.04" width="1.05" height="11.26" fill="#541d4d"/>
<rect x="390.10" y="87.04" width="1.05" height="11.26" fill="#30173a"/>
<rect x="391.10" y="87.04" width="1.05" height="11.26" fill="#6a1f56"/>
<rect x="392.10" y="87.04" width="1.05" height="11.26" fill="#3e1a43"/>
<rect x="393.10" y="87.04" width="1.05" height="11.26" fill="#31173b"/>
<rect x="394.09" y="87.04" width="1.05" height="11.26" fill="#3c1a41"/>
<rect x="395.09" y="87.04" width="1.05" height="11.26" fill="#511d4c"/>
<rect x="396.09" y="87.04" width="1.05" height="11.26" fill="#4f1d4b"/>
<rect x="397.09" y="87.04" width="1.05" height="11.26" fill="#491c49"/>
<rect x="398.08" y="87.04" width="1.05" height="11.26" fill="#04051b"/>
<rect x="399.08" y="87.04" width="1.05" height="11.26" fill="#6a1f56"/>
<rect x="400.08" y="87.04" width="1.05" height="11.26" fill="#34183c"/>
<rect x="401.08" y="87.04" width="1.05" height="11.26" fill="#451c47"/>
<rect x="402.07" y="87.04" width="1.05" height="11.26" fill="#251433"/>
<rect x="403.07" y="87.04" width="1.05" height="11.26" fill="#4d1d4a"/>
<rect x="404.07" y="87.04" width="1.05" height="11.26" fill="#38193f"/>
<rect x="405.07" y="87.04" width="1.05" height="11.26" fill="#130c26"/>
<rect x="406.07" y="87.04" width="1.05" height="11.26" fill="#4a1c49"/>
<rect x="407.06" y="87.04" width="1.05" height="11.26" fill="#4f1d4b"/>
<rect x="408.06" y="87.04" width="1.05" height="11.26" fill="#211230"/>
<rect x="409.06" y="87.04" width="1.05" height="11.26" fill="#03051a"/>
<rect x="410.06" y="87.04" width="1.05" height="11.26" fill="#3e1a43"/>
<rect x="411.05" y="87.04" width="1.05" height="11.26" fill="#2a1536"/>
<rect x="412.05" y="87.04" width="1.05" height="11.26" fill="#38193f"/>
<rect x="413.05" y="87.04" width="1.05" height="11.26" fill="#471c48"/>
<rect x="414.05" y="87.04" width="1.05" height="11.26" fill="#6a1f56"/>
<rect x="415.04" y="87.04" width="1.05" height="11.26" fill="#501d4b"/>
<rect x="416.04" y="87.04" width="1.05" height="11.26" fill="#421b45"/>
<rect x="417.04" y="87.04" width="1.05" height="11.26" fill="#591e4f"/>
<rect x="418.04" y="87.04" width="1.05" height="11.26" fill="#03051a"/>
<rect x="419.03" y="87.04" width="1.05" height="11.26" fill="#36183d"/>
<rect x="420.03" y="87.04" width="1.05" height="11.26" fill="#3b1941"/>
<rect x="421.03" y="87.04" width="1.05" height="11.26" fill="#31173b"/>
<rect x="422.03" y="87.04" width="1.05" height="11.26" fill="#411b45"/>
<rect x="423.03" y="87.04" width="1.05" height="11.26" fill="#4c1d4a"/>
<rect x="424.02" y="87.04" width="1.05" height="11.26" fill="#461c47"/>
<rect x="425.02" y="87.04" width="1.05" height="11.26" fill="#291536"/>
<rect x="426.02" y="87.04" width="1.05" height="11.26" fill="#531d4d"/>
<rect x="427.02" y="87.04" width="1.05" height="11.26" fill="#451c47"/>
<rect x="428.01" y="87.04" width="1.05" height="11.26" fill="#441c46"/>
<rect x="429.01" y="87.04" width="1.05" height="11.26" fill="#34183c"/>
<rect x="430.01" y="87.04" width="1.05" height="11.26" fill="#4e1d4b"/>
<rect x="431.01" y="87.04" width="1.05" height="11.26" fill="#491c49"/>
<rect x="432.00" y="87.04" width="1.05" height="11.26" fill="#451c47"/>
<rect x="433.00" y="87.04" width="1.05" height="11.26" fill="#5f1e52"/>
<rect x="348.20" y="98.26" width="1.05" height="11.26" fill="#c01954"/>
<rect x="349.20" y="98.26" width="1.05" height="11.26" fill="#ca1e51"/>
<rect x="350.20" y="98.26" width="1.05" height="11.26" fill="#ea4852"/>
<rect x="351.19" y="98.26" width="1.05" height="11.26" fill="#c41b53"/>
<rect x="352.19" y="98.26" width="1.05" height="11.26" fill="#d9294d"/>
<rect x="353.19" y="98.26" width="1.05" height="11.26" fill="#ce204f"/>
<rect x="354.19" y="98.26" width="1.05" height="11.26" fill="#c81d52"/>
<rect x="355.18" y="98.26" width="1.05" height="11.26" fill="#df334e"/>
<rect x="356.18" y="98.26" width="1.05" height="11.26" fill="#e84551"/>
<rect x="357.18" y="98.26" width="1.05" height="11.26" fill="#d5234d"/>
<rect x="358.18" y="98.26" width="1.05" height="11.26" fill="#e43d50"/>
<rect x="359.17" y="98.26" width="1.05" height="11.26" fill="#dc2e4e"/>
<rect x="360.17" y="98.26" width="1.05" height="11.26" fill="#df324e"/>
<rect x="361.17" y="98.26" width="1.05" height="11.26" fill="#c41b53"/>
<rect x="362.17" y="98.26" width="1.05" height="11.26" fill="#771e58"/>
<rect x="363.17" y="98.26" width="1.05" height="11.26" fill="#651f54"/>
<rect x="364.16" y="98.26" width="1.05" height="11.26" fill="#a81959"/>
<rect x="365.16" y="98.26" width="1.05" height="11.26" fill="#7f1d59"/>
<rect x="366.16" y="98.26" width="1.05" height="11.26" fill="#501d4b"/>
<rect x="367.16" y="98.26" width="1.05" height="11.26" fill="#9a1b5a"/>
<rect x="368.15" y="98.26" width="1.05" height="11.26" fill="#5e1e51"/>
<rect x="369.15" y="98.26" width="1.05" height="11.26" fill="#901c5b"/>
<rect x="370.15" y="98.26" width="1.05" height="11.26" fill="#721e57"/>
<rect x="371.15" y="98.26" width="1.05" height="11.26" fill="#37183e"/>
<rect x="372.14" y="98.26" width="1.05" height="11.26" fill="#691f56"/>
<rect x="373.14" y="98.26" width="1.05" height="11.26" fill="#941c5b"/>
<rect x="374.14" y="98.26" width="1.05" height="11.26" fill="#9e1a5a"/>
<rect x="375.14" y="98.26" width="1.05" height="11.26" fill="#681f55"/>
<rect x="376.13" y="98.26" width="1.05" height="11.26" fill="#901c5b"/>
<rect x="377.13" y="98.26" width="1.05" height="11.26" fill="#941c5b"/>
<rect x="378.13" y="98.26" width="1.05" height="11.26" fill="#a91859"/>
<rect x="379.13" y="98.26" width="1.05" height="11.26" fill="#921c5b"/>
<rect x="380.13" y="98.26" width="1.05" height="11.26" fill="#7d1e58"/>
<rect x="381.12" y="98.26" width="1.05" height="11.26" fill="#831d59"/>
<rect x="382.12" y="98.26" width="1.05" height="11.26" fill="#6f1f57"/>
<rect x="383.12" y="98.26" width="1.05" height="11.26" fill="#7e1d59"/>
<rect x="384.12" y="98.26" width="1.05" height="11.26" fill="#831d59"/>
<rect x="385.11" y="98.26" width="1.05" height="11.26" fill="#a41959"/>
<rect x="386.11" y="98.26" width="1.05" height="11.26" fill="#4d1d4a"/>
<rect x="387.11" y="98.26" width="1.05" height="11.26" fill="#6b1f56"/>
<rect x="388.11" y="98.26" width="1.05" height="11.26" fill="#831d59"/>
<rect x="389.10" y="98.26" width="1.05" height="11.26" fill="#7e1e58"/>
<rect x="390.10" y="98.26" width="1.05" height="11.26" fill="#721e57"/>
<rect x="391.10" y="98.26" width="1.05" height="11.26" fill="#771e58"/>
<rect x="392.10" y="98.26" width="1.05" height="11.26" fill="#851d59"/>
<rect x="393.10" y="98.26" width="1.05" height="11.26" fill="#951c5b"/>
<rect x="394.09" y="98.26" width="1.05" height="11.26" fill="#6b1f56"/>
<rect x="395.09" y="98.26" width="1.05" height="11.26" fill="#951c5b"/>
<rect x="396.09" y="98.26" width="1.05" height="11.26" fill="#771e58"/>
<rect x="397.09" y="98.26" width="1.05" height="11.26" fill="#871d5a"/>
<rect x="398.08" y="98.26" width="1.05" height="11.26" fill="#751e57"/>
<rect x="399.08" y="98.26" width="1.05" height="11.26" fill="#5e1e51"/>
<rect x="400.08" y="98.26" width="1.05" height="11.26" fill="#a31959"/>
<rect x="401.08" y="98.26" width="1.05" height="11.26" fill="#541d4d"/>
<rect x="402.07" y="98.26" width="1.05" height="11.26" fill="#761e58"/>
<rect x="403.07" y="98.26" width="1.05" height="11.26" fill="#611e52"/>
<rect x="404.07" y="98.26" width="1.05" height="11.26" fill="#481c48"/>
<rect x="405.07" y="98.26" width="1.05" height="11.26" fill="#891d5a"/>
<rect x="406.07" y="98.26" width="1.05" height="11.26" fill="#551d4d"/>
<rect x="407.06" y="98.26" width="1.05" height="11.26" fill="#3f1b44"/>
<rect x="408.06" y="98.26" width="1.05" height="11.26" fill="#741e57"/>
<rect x="409.06" y="98.26" width="1.05" height="11.26" fill="#37193f"/>
<rect x="410.06" y="98.26" width="1.05" height="11.26" fill="#8b1d5a"/>
<rect x="411.05" y="98.26" width="1.05" height="11.26" fill="#a91859"/>
<rect x="412.05" y="98.26" width="1.05" height="11.26" fill="#631e53"/>
<rect x="413.05" y="98.26" width="1.05" height="11.26" fill="#911c5b"/>
<rect x="414.05" y="98.26" width="1.05" height="11.26" fill="#8f1c5b"/>
<rect x="415.04" y="98.26" width="1.05" height="11.26" fill="#821d59"/>
<rect x="416.04" y="98.26" width="1.05" height="11.26" fill="#841d59"/>
<rect x="417.04" y="98.26" width="1.05" height="11.26" fill="#a91859"/>
<rect x="418.04" y="98.26" width="1.05" height="11.26" fill="#7f1d59"/>
<rect x="419.03" y="98.26" width="2.05" height="11.26" fill="#991b5a"/>
<rect x="421.03" y="98.26" width="1.05" height="11.26" fill="#491c49"/>
<rect x="422.03" y="98.26" width="1.05" height="11.26" fill="#7d1e58"/>
<rect x="423.03" y="98.26" width="1.05" height="11.26" fill="#861d59"/>
<rect x="424.02" y="98.26" width="1.05" height="11.26" fill="#771e58"/>
<rect x="425.02" y="98.26" width="1.05" height="11.26" fill="#8b1d5a"/>
<rect x="426.02" y="98.26" width="1.05" height="11.26" fill="#a91859"/>
<rect x="427.02" y="98.26" width="1.05" height="11.26" fill="#511d4c"/>
<rect x="428.01" y="98.26" width="1.05" height="11.26" fill="#711e57"/>
<rect x="429.01" y="98.26" width="1.05" height="11.26" fill="#551d4d"/>
<rect x="430.01" y="98.26" width="1.05" height="11.26" fill="#7f1d59"/>
<rect x="431.01" y="98.26" width="1.05" height="11.26" fill="#8e1c5a"/>
<rect x="432.00" y="98.26" width="1.05" height="11.26" fill="#821d59"/>
<rect x="433.00" y="98.26" width="1.05" height="11.26" fill="#851d59"/>
<rect x="348.20" y="109.47" width="1.05" height="11.26" fill="#170e29"/>
<rect x="349.20" y="109.47" width="1.05" height="11.26" fill="#271434"/>
<rect x="350.20" y="109.47" width="1.05" height="11.26" fill="#521d4c"/>
<rect x="351.19" y="109.47" width="1.05" height="11.26" fill="#291535"/>
<rect x="352.19" y="109.47" width="1.05" height="11.26" fill="#3b1941"/>
<rect x="353.19" y="109.47" width="1.05" height="11.26" fill="#32173b"/>
<rect x="354.19" y="109.47" width="1.05" height="11.26" fill="#511d4c"/>
<rect x="355.18" y="109.47" width="1.05" height="11.26" fill="#32173b"/>
<rect x="356.18" y="109.47" width="1.05" height="11.26" fill="#7a1e58"/>
<rect x="357.18" y="109.47" width="1.05" height="11.26" fill="#35183d"/>
<rect x="358.18" y="109.47" width="1.05" height="11.26" fill="#631e53"/>
<rect x="359.17" y="109.47" width="1.05" height="11.26" fill="#5a1e4f"/>
<rect x="360.17" y="109.47" width="1.05" height="11.26" fill="#5f1e52"/>
<rect x="361.17" y="109.47" width="1.05" height="11.26" fill="#3f1a43"/>
<rect x="362.17" y="109.47" width="1.05" height="11.26" fill="#03051a"/>
<rect x="363.17" y="109.47" width="1.05" height="11.26" fill="#170e29"/>
<rect x="364.16" y="109.47" width="1.05" height="11.26" fill="#1b102b"/>
<rect x="365.16" y="109.47" width="2.05" height="11.26" fill="#03051a"/>
<rect x="367.16" y="109.47" width="1.05" height="11.26" fill="#130c26"/>
<rect x="368.15" y="109.47" width="1.05" height="11.26" fill="#07071d"/>
<rect x="369.15" y="109.47" width="1.05" height="11.26" fill="#05061b"/>
<rect x="370.15" y="109.47" width="1.05" height="11.26" fill="#1a0f2b"/>
<rect x="371.15" y="109.47" width="1.05" height="11.26" fill="#03051a"/>
<rect x="372.14" y="109.47" width="1.05" height="11.26" fill="#37183e"/>
<rect x="373.14" y="109.47" width="1.05" height="11.26" fill="#221331"/>
<rect x="374.14" y="109.47" width="1.05" height="11.26" fill="#37183e"/>
<rect x="375.14" y="109.47" width="1.05" height="11.26" fill="#160d28"/>
<rect x="376.13" y="109.47" width="1.05" height="11.26" fill="#03051a"/>
<rect x="377.13" y="109.47" width="1.05" height="11.26" fill="#1a0f2b"/>
<rect x="378.13" y="109.47" width="1.05" height="11.26" fill="#120c25"/>
<rect x="379.13" y="109.47" width="1.05" height="11.26" fill="#180e29"/>
<rect x="380.13" y="109.47" width="1.05" height="11.26" fill="#08071e"/>
<rect x="381.12" y="109.47" width="1.05" height="11.26" fill="#33173c"/>
<rect x="382.12" y="109.47" width="1.05" height="11.26" fill="#03051a"/>
<rect x="383.12" y="109.47" width="1.05" height="11.26" fill="#04061b"/>
<rect x="384.12" y="109.47" width="1.05" height="11.26" fill="#140d27"/>
<rect x="385.11" y="109.47" width="1.05" height="11.26" fill="#0f0a23"/>
<rect x="386.11" y="109.47" width="1.05" height="11.26" fill="#03051a"/>
<rect x="387.11" y="109.47" width="1.05" height="11.26" fill="#0c0920"/>
<rect x="388.11" y="109.47" width="1.05" height="11.26" fill="#37183e"/>
<rect x="389.10" y="109.47" width="1.05" height="11.26" fill="#07071d"/>
<rect x="390.10" y="109.47" width="1.05" height="11.26" fill="#1f122f"/>
<rect x="391.10" y="109.47" width="1.05" height="11.26" fill="#03051a"/>
<rect x="392.10" y="109.47" width="1.05" height="11.26" fill="#07071d"/>
<rect x="393.10" y="109.47" width="1.05" height="11.26" fill="#190f2a"/>
<rect x="394.09" y="109.47" width="1.05" height="11.26" fill="#190f2b"/>
<rect x="395.09" y="109.47" width="1.05" height="11.26" fill="#03051a"/>
<rect x="396.09" y="109.47" width="1.05" height="11.26" fill="#291535"/>
<rect x="397.09" y="109.47" width="1.05" height="11.26" fill="#130c26"/>
<rect x="398.08" y="109.47" width="2.05" height="11.26" fill="#2b1537"/>
<rect x="400.08" y="109.47" width="1.05" height="11.26" fill="#1f122f"/>
<rect x="401.08" y="109.47" width="1.05" height="11.26" fill="#03051a"/>
<rect x="402.07" y="109.47" width="1.05" height="11.26" fill="#120c25"/>
<rect x="403.07" y="109.47" width="5.04" height="11.26" fill="#03051a"/>
<rect x="408.06" y="109.47" width="1.05" height="11.26" fill="#0d0a21"/>
<rect x="409.06" y="109.47" width="1.05" height="11.26" fill="#04051a"/>
<rect x="410.06" y="109.47" width="1.05" height="11.26" fill="#03051a"/>
<rect x="411.05" y="109.47" width="1.05" height="11.26" fill="#0f0a23"/>
<rect x="412.05" y="109.47" width="1.05" height="11.26" fill="#120c25"/>
<rect x="413.05" y="109.47" width="1.05" height="11.26" fill="#2d1638"/>
<rect x="414.05" y="109.47" width="1.05" height="11.26" fill="#0f0b23"/>
<rect x="415.04" y="109.47" width="1.05" height="11.26" fill="#140d27"/>
<rect x="416.04" y="109.47" width="1.05" height="11.26" fill="#0e0a22"/>
<rect x="417.04" y="109.47" width="1.05" height="11.26" fill="#37183e"/>
<rect x="418.04" y="109.47" width="1.05" height="11.26" fill="#03051a"/>
<rect x="419.03" y="109.47" width="1.05" height="11.26" fill="#201230"/>
<rect x="420.03" y="109.47" width="1.05" height="11.26" fill="#03051a"/>
<rect x="421.03" y="109.47" width="1.05" height="11.26" fill="#31173a"/>
<rect x="422.03" y="109.47" width="1.05" height="11.26" fill="#211230"/>
<rect x="423.03" y="109.47" width="4.04" height="11.26" fill="#03051a"/>
<rect x="427.02" y="109.47" width="1.05" height="11.26" fill="#0e0a22"/>
<rect x="428.01" y="109.47" width="1.05" height="11.26" fill="#03051a"/>
<rect x="429.01" y="109.47" width="1.05" height="11.26" fill="#190f2a"/>
<rect x="430.01" y="109.47" width="1.05" height="11.26" fill="#150d27"/>
<rect x="431.01" y="109.47" width="1.05" height="11.26" fill="#03051a"/>
<rect x="432.00" y="109.47" width="1.05" height="11.26" fill="#130c26"/>
<rect x="433.00" y="109.47" width="1.05" height="11.26" fill="#1c102d"/>
<rect x="348.20" y="120.68" width="1.05" height="11.26" fill="#ee605b"/>
<rect x="349.20" y="120.68" width="1.05" height="11.26" fill="#ec5557"/>
<rect x="350.20" y="120.68" width="1.05" height="11.26" fill="#e23950"/>
<rect x="351.19" y="120.68" width="1.05" height="11.26" fill="#d0214f"/>
<rect x="352.19" y="120.68" width="1.05" height="11.26" fill="#ec5255"/>
<rect x="353.19" y="120.68" width="1.05" height="11.26" fill="#d0214f"/>
<rect x="354.19" y="120.68" width="1.05" height="11.26" fill="#f48e74"/>
<rect x="355.18" y="120.68" width="1.05" height="11.26" fill="#ec5456"/>
<rect x="356.18" y="120.68" width="1.05" height="11.26" fill="#f37763"/>
<rect x="357.18" y="120.68" width="1.05" height="11.26" fill="#e84451"/>
<rect x="358.18" y="120.68" width="1.05" height="11.26" fill="#ef665d"/>
<rect x="359.17" y="120.68" width="1.05" height="11.26" fill="#da2a4d"/>
<rect x="360.17" y="120.68" width="1.05" height="11.26" fill="#f5967a"/>
<rect x="361.17" y="120.68" width="1.05" height="11.26" fill="#ea4a53"/>
<rect x="362.17" y="120.68" width="1.05" height="11.26" fill="#6b1f56"/>
<rect x="363.17" y="120.68" width="1.05" height="11.26" fill="#5a1e4f"/>
<rect x="364.16" y="120.68" width="1.05" height="11.26" fill="#981b5a"/>
<rect x="365.16" y="120.68" width="1.05" height="11.26" fill="#6a1f56"/>
<rect x="366.16" y="120.68" width="1.05" height="11.26" fill="#961b5b"/>
<rect x="367.16" y="120.68" width="1.05" height="11.26" fill="#bf1955"/>
<rect x="368.15" y="120.68" width="1.05" height="11.26" fill="#a41959"/>
<rect x="369.15" y="120.68" width="1.05" height="11.26" fill="#7c1e58"/>
<rect x="370.15" y="120.68" width="1.05" height="11.26" fill="#b81657"/>
<rect x="371.15" y="120.68" width="1.05" height="11.26" fill="#851d59"/>
<rect x="372.14" y="120.68" width="1.05" height="11.26" fill="#8b1d5a"/>
<rect x="373.14" y="120.68" width="1.05" height="11.26" fill="#8f1c5b"/>
<rect x="374.14" y="120.68" width="1.05" height="11.26" fill="#9f1a5a"/>
<rect x="375.14" y="120.68" width="1.05" height="11.26" fill="#9e1a5a"/>
<rect x="376.13" y="120.68" width="1.05" height="11.26" fill="#701f57"/>
<rect x="377.13" y="120.68" width="1.05" height="11.26" fill="#671f55"/>
<rect x="378.13" y="120.68" width="1.05" height="11.26" fill="#bf1955"/>
<rect x="379.13" y="120.68" width="1.05" height="11.26" fill="#791e58"/>
<rect x="380.13" y="120.68" width="1.05" height="11.26" fill="#7e1d59"/>
<rect x="381.12" y="120.68" width="1.05" height="11.26" fill="#bc1756"/>
<rect x="382.12" y="120.68" width="1.05" height="11.26" fill="#701f57"/>
<rect x="383.12" y="120.68" width="1.05" height="11.26" fill="#6a1f56"/>
<rect x="384.12" y="120.68" width="3.04" height="11.26" fill="#951c5b"/>
<rect x="387.11" y="120.68" width="1.05" height="11.26" fill="#631e53"/>
<rect x="388.11" y="120.68" width="1.05" height="11.26" fill="#931c5b"/>
<rect x="389.10" y="120.68" width="1.05" height="11.26" fill="#a11a59"/>
<rect x="390.10" y="120.68" width="1.05" height="11.26" fill="#5f1e52"/>
<rect x="391.10" y="120.68" width="1.05" height="11.26" fill="#6c1f56"/>
<rect x="392.10" y="120.68" width="1.05" height="11.26" fill="#aa1859"/>
<rect x="393.10" y="120.68" width="1.05" height="11.26" fill="#ba1657"/>
<rect x="394.09" y="120.68" width="1.05" height="11.26" fill="#8e1c5b"/>
<rect x="395.09" y="120.68" width="1.05" height="11.26" fill="#8f1c5b"/>
<rect x="396.09" y="120.68" width="1.05" height="11.26" fill="#bf1955"/>
<rect x="397.09" y="120.68" width="1.05" height="11.26" fill="#a11a59"/>
<rect x="398.08" y="120.68" width="1.05" height="11.26" fill="#a91859"/>
<rect x="399.08" y="120.68" width="1.05" height="11.26" fill="#661f55"/>
<rect x="400.08" y="120.68" width="1.05" height="11.26" fill="#941c5b"/>
<rect x="401.08" y="120.68" width="1.05" height="11.26" fill="#651f54"/>
<rect x="402.07" y="120.68" width="1.05" height="11.26" fill="#6b1f56"/>
<rect x="403.07" y="120.68" width="1.05" height="11.26" fill="#b01758"/>
<rect x="404.07" y="120.68" width="1.05" height="11.26" fill="#a51959"/>
<rect x="405.07" y="120.68" width="1.05" height="11.26" fill="#7f1d59"/>
<rect x="406.07" y="120.68" width="1.05" height="11.26" fill="#8d1c5a"/>
<rect x="407.06" y="120.68" width="1.05" height="11.26" fill="#b91657"/>
<rect x="408.06" y="120.68" width="1.05" height="11.26" fill="#a41959"/>
<rect x="409.06" y="120.68" width="1.05" height="11.26" fill="#731e57"/>
<rect x="410.06" y="120.68" width="1.05" height="11.26" fill="#b81657"/>
<rect x="411.05" y="120.68" width="1.05" height="11.26" fill="#971b5a"/>
<rect x="412.05" y="120.68" width="1.05" height="11.26" fill="#611e52"/>
<rect x="413.05" y="120.68" width="1.05" height="11.26" fill="#901c5b"/>
<rect x="414.05" y="120.68" width="1.05" height="11.26" fill="#9e1a5a"/>
<rect x="415.04" y="120.68" width="1.05" height="11.26" fill="#a41959"/>
<rect x="416.04" y="120.68" width="1.05" height="11.26" fill="#7d1e58"/>
<rect x="417.04" y="120.68" width="1.05" height="11.26" fill="#991b5a"/>
<rect x="418.04" y="120.68" width="1.05" height="11.26" fill="#881d5a"/>
<rect x="419.03" y="120.68" width="1.05" height="11.26" fill="#7b1e58"/>
<rect x="420.03" y="120.68" width="1.05" height="11.26" fill="#bf1955"/>
<rect x="421.03" y="120.68" width="1.05" height="11.26" fill="#911c5b"/>
<rect x="422.03" y="120.68" width="1.05" height="11.26" fill="#b01758"/>
<rect x="423.03" y="120.68" width="1.05" height="11.26" fill="#5d1e51"/>
<rect x="424.02" y="120.68" width="1.05" height="11.26" fill="#631e53"/>
<rect x="425.02" y="120.68" width="1.05" height="11.26" fill="#bf1955"/>
<rect x="426.02" y="120.68" width="1.05" height="11.26" fill="#7a1e58"/>
<rect x="427.02" y="120.68" width="1.05" height="11.26" fill="#6a1f56"/>
<rect x="428.01" y="120.68" width="1.05" height="11.26" fill="#a01a5a"/>
<rect x="429.01" y="120.68" width="1.05" height="11.26" fill="#a51959"/>
<rect x="430.01" y="120.68" width="1.05" height="11.26" fill="#bf1955"/>
<rect x="431.01" y="120.68" width="1.05" height="11.26" fill="#7d1e58"/>
<rect x="432.00" y="120.68" width="1.05" height="11.26" fill="#ac1858"/>
<rect x="433.00" y="120.68" width="1.05" height="11.26" fill="#a41959"/>
<rect x="348.20" y="131.89" width="1.05" height="11.26" fill="#511d4c"/>
<rect x="349.20" y="131.89" width="1.05" height="11.26" fill="#551d4d"/>
<rect x="350.20" y="131.89" width="1.05" height="11.26" fill="#761e58"/>
<rect x="351.19" y="131.89" width="1.05" height="11.26" fill="#5d1e51"/>
<rect x="352.19" y="131.89" width="1.05" height="11.26" fill="#7c1e58"/>
<rect x="353.19" y="131.89" width="1.05" height="11.26" fill="#5b1e50"/>
<rect x="354.19" y="131.89" width="1.05" height="11.26" fill="#5f1e52"/>
<rect x="355.18" y="131.89" width="1.05" height="11.26" fill="#281535"/>
<rect x="356.18" y="131.89" width="1.05" height="11.26" fill="#761e57"/>
<rect x="357.18" y="131.89" width="1.05" height="11.26" fill="#2a1536"/>
<rect x="358.18" y="131.89" width="1.05" height="11.26" fill="#861d5a"/>
<rect x="359.17" y="131.89" width="1.05" height="11.26" fill="#35183d"/>
<rect x="360.17" y="131.89" width="1.05" height="11.26" fill="#1f122f"/>
<rect x="361.17" y="131.89" width="1.05" height="11.26" fill="#281535"/>
<rect x="362.17" y="131.89" width="1.05" height="11.26" fill="#2b1536"/>
<rect x="363.17" y="131.89" width="1.05" height="11.26" fill="#31173a"/>
<rect x="364.16" y="131.89" width="1.05" height="11.26" fill="#431c46"/>
<rect x="365.16" y="131.89" width="1.05" height="11.26" fill="#34183c"/>
<rect x="366.16" y="131.89" width="1.05" height="11.26" fill="#160d28"/>
<rect x="367.16" y="131.89" width="1.05" height="11.26" fill="#561d4e"/>
<rect x="368.15" y="131.89" width="1.05" height="11.26" fill="#1c102c"/>
<rect x="369.15" y="131.89" width="1.05" height="11.26" fill="#04051b"/>
<rect x="370.15" y="131.89" width="1.05" height="11.26" fill="#451c47"/>
<rect x="371.15" y="131.89" width="1.05" height="11.26" fill="#35183d"/>
<rect x="372.14" y="131.89" width="1.05" height="11.26" fill="#120c25"/>
<rect x="373.14" y="131.89" width="1.05" height="11.26" fill="#221331"/>
<rect x="374.14" y="131.89" width="1.05" height="11.26" fill="#581e4e"/>
<rect x="375.14" y="131.89" width="1.05" height="11.26" fill="#451c47"/>
<rect x="376.13" y="131.89" width="1.05" height="11.26" fill="#140d27"/>
<rect x="377.13" y="131.89" width="1.05" height="11.26" fill="#501d4b"/>
<rect x="378.13" y="131.89" width="1.05" height="11.26" fill="#03051a"/>
<rect x="379.13" y="131.89" width="1.05" height="11.26" fill="#2c1637"/>
<rect x="380.13" y="131.89" width="1.05" height="11.26" fill="#30173a"/>
<rect x="381.12" y="131.89" width="1.05" height="11.26" fill="#401b44"/>
<rect x="382.12" y="131.89" width="1.05" height="11.26" fill="#221331"/>
<rect x="383.12" y="131.89" width="1.05" height="11.26" fill="#03051a"/>
<rect x="384.12" y="131.89" width="1.05" height="11.26" fill="#2f1639"/>
<rect x="385.11" y="131.89" width="1.05" height="11.26" fill="#4f1d4b"/>
<rect x="386.11" y="131.89" width="1.05" height="11.26" fill="#0e0a22"/>
<rect x="387.11" y="131.89" width="1.05" height="11.26" fill="#1a102b"/>
<rect x="388.11" y="131.89" width="1.05" height="11.26" fill="#2e1639"/>
<rect x="389.10" y="131.89" width="1.05" height="11.26" fill="#03051a"/>
<rect x="390.10" y="131.89" width="1.05" height="11.26" fill="#1a0f2b"/>
<rect x="391.10" y="131.89" width="1.05" height="11.26" fill="#3f1b44"/>
<rect x="392.10" y="131.89" width="1.05" height="11.26" fill="#09081f"/>
<rect x="393.10" y="131.89" width="1.05" height="11.26" fill="#301639"/>
<rect x="394.09" y="131.89" width="1.05" height="11.26" fill="#31173a"/>
<rect x="395.09" y="131.89" width="1.05" height="11.26" fill="#180f2a"/>
<rect x="396.09" y="131.89" width="1.05" height="11.26" fill="#34183c"/>
<rect x="397.09" y="131.89" width="1.05" height="11.26" fill="#441c46"/>
<rect x="398.08" y="131.89" width="1.05" height="11.26" fill="#3b1941"/>
<rect x="399.08" y="131.89" width="1.05" height="11.26" fill="#1a102b"/>
<rect x="400.08" y="131.89" width="1.05" height="11.26" fill="#4b1d4a"/>
<rect x="401.08" y="131.89" width="2.05" height="11.26" fill="#2b1537"/>
<rect x="403.07" y="131.89" width="1.05" height="11.26" fill="#581e4e"/>
<rect x="404.07" y="131.89" width="1.05" height="11.26" fill="#3e1a43"/>
<rect x="405.07" y="131.89" width="1.05" height="11.26" fill="#33173c"/>
<rect x="406.07" y="131.89" width="1.05" height="11.26" fill="#471c48"/>
<rect x="407.06" y="131.89" width="1.05" height="11.26" fill="#3d1a42"/>
<rect x="408.06" y="131.89" width="1.05" height="11.26" fill="#4e1d4a"/>
<rect x="409.06" y="131.89" width="1.05" height="11.26" fill="#190f2a"/>
<rect x="410.06" y="131.89" width="1.05" height="11.26" fill="#110b24"/>
<rect x="411.05" y="131.89" width="1.05" height="11.26" fill="#571d4e"/>
<rect x="412.05" y="131.89" width="1.05" height="11.26" fill="#39193f"/>
<rect x="413.05" y="131.89" width="1.05" height="11.26" fill="#431b46"/>
<rect x="414.05" y="131.89" width="1.05" height="11.26" fill="#30173a"/>
<rect x="415.04" y="131.89" width="1.05" height="11.26" fill="#2a1536"/>
<rect x="416.04" y="131.89" width="1.05" height="11.26" fill="#39193f"/>
<rect x="417.04" y="131.89" width="1.05" height="11.26" fill="#291535"/>
<rect x="418.04" y="131.89" width="1.05" height="11.26" fill="#451c47"/>
<rect x="419.03" y="131.89" width="1.05" height="11.26" fill="#3d1a42"/>
<rect x="420.03" y="131.89" width="1.05" height="11.26" fill="#281434"/>
<rect x="421.03" y="131.89" width="1.05" height="11.26" fill="#2a1536"/>
<rect x="422.03" y="131.89" width="1.05" height="11.26" fill="#1f122f"/>
<rect x="423.03" y="131.89" width="1.05" height="11.26" fill="#33173c"/>
<rect x="424.02" y="131.89" width="1.05" height="11.26" fill="#2b1536"/>
<rect x="425.02" y="131.89" width="1.05" height="11.26" fill="#581e4e"/>
<rect x="426.02" y="131.89" width="1.05" height="11.26" fill="#1d112e"/>
<rect x="427.02" y="131.89" width="1.05" height="11.26" fill="#411b44"/>
<rect x="428.01" y="131.89" width="1.05" height="11.26" fill="#441c46"/>
<rect x="429.01" y="131.89" width="1.05" height="11.26" fill="#261433"/>
<rect x="430.01" y="131.89" width="1.05" height="11.26" fill="#581e4e"/>
<rect x="431.01" y="131.89" width="1.05" height="11.26" fill="#261434"/>
<rect x="432.00" y="131.89" width="1.05" height="11.26" fill="#2b1537"/>
<rect x="433.00" y="131.89" width="1.05" height="11.26" fill="#31173a"/>
<rect x="348.20" y="143.10" width="1.05" height="11.26" fill="#31173a"/>
<rect x="349.20" y="143.10" width="1.05" height="11.26" fill="#741e57"/>
<rect x="350.20" y="143.10" width="1.05" height="11.26" fill="#481c48"/>
<rect x="351.19" y="143.10" width="1.05" height="11.26" fill="#571d4e"/>
<rect x="352.19" y="143.10" width="1.05" height="11.26" fill="#841d59"/>
<rect x="353.19" y="143.10" width="1.05" height="11.26" fill="#33173c"/>
<rect x="354.19" y="143.10" width="1.05" height="11.26" fill="#6a1f56"/>
<rect x="355.18" y="143.10" width="1.05" height="11.26" fill="#5f1e52"/>
<rect x="356.18" y="143.10" width="1.05" height="11.26" fill="#921c5b"/>
<rect x="357.18" y="143.10" width="1.05" height="11.26" fill="#641f54"/>
<rect x="358.18" y="143.10" width="1.05" height="11.26" fill="#38193f"/>
<rect x="359.17" y="143.10" width="1.05" height="11.26" fill="#7e1d59"/>
<rect x="360.17" y="143.10" width="1.05" height="11.26" fill="#771e58"/>
<rect x="361.17" y="143.10" width="1.05" height="11.26" fill="#2f1639"/>
<rect x="362.17" y="143.10" width="1.05" height="11.26" fill="#03051a"/>
<rect x="363.17" y="143.10" width="1.05" height="11.26" fill="#451c47"/>
<rect x="364.16" y="143.10" width="1.05" height="11.26" fill="#231332"/>
<rect x="365.16" y="143.10" width="1.05" height="11.26" fill="#03051a"/>
<rect x="366.16" y="143.10" width="1.05" height="11.26" fill="#33173c"/>
<rect x="367.16" y="143.10" width="1.05" height="11.26" fill="#451c47"/>
<rect x="368.15" y="143.10" width="1.05" height="11.26" fill="#03051a"/>
<rect x="369.15" y="143.10" width="1.05" height="11.26" fill="#37183e"/>
<rect x="370.15" y="143.10" width="1.05" height="11.26" fill="#2f1639"/>
<rect x="371.15" y="143.10" width="1.05" height="11.26" fill="#170e29"/>
<rect x="372.14" y="143.10" width="1.05" height="11.26" fill="#09081e"/>
<rect x="373.14" y="143.10" width="1.05" height="11.26" fill="#221331"/>
<rect x="374.14" y="143.10" width="1.05" height="11.26" fill="#190f2a"/>
<rect x="375.14" y="143.10" width="1.05" height="11.26" fill="#20122f"/>
<rect x="376.13" y="143.10" width="2.05" height="11.26" fill="#170e29"/>
<rect x="378.13" y="143.10" width="1.05" height="11.26" fill="#3b1941"/>
<rect x="379.13" y="143.10" width="1.05" height="11.26" fill="#32173b"/>
<rect x="380.13" y="143.10" width="1.05" height="11.26" fill="#2d1638"/>
<rect x="381.12" y="143.10" width="1.05" height="11.26" fill="#3c1a41"/>
<rect x="382.12" y="143.10" width="1.05" height="11.26" fill="#3a1940"/>
<rect x="383.12" y="143.10" width="1.05" height="11.26" fill="#03051a"/>
<rect x="384.12" y="143.10" width="1.05" height="11.26" fill="#221331"/>
<rect x="385.11" y="143.10" width="1.05" height="11.26" fill="#34183c"/>
<rect x="386.11" y="143.10" width="1.05" height="11.26" fill="#32173b"/>
<rect x="387.11" y="143.10" width="1.05" height="11.26" fill="#03051a"/>
<rect x="388.11" y="143.10" width="1.05" height="11.26" fill="#170e29"/>
<rect x="389.10" y="143.10" width="1.05" height="11.26" fill="#100b24"/>
<rect x="390.10" y="143.10" width="1.05" height="11.26" fill="#1d112d"/>
<rect x="391.10" y="143.10" width="1.05" height="11.26" fill="#451c47"/>
<rect x="392.10" y="143.10" width="1.05" height="11.26" fill="#231332"/>
<rect x="393.10" y="143.10" width="1.05" height="11.26" fill="#1c102c"/>
<rect x="394.09" y="143.10" width="1.05" height="11.26" fill="#221331"/>
<rect x="395.09" y="143.10" width="1.05" height="11.26" fill="#401b44"/>
<rect x="396.09" y="143.10" width="1.05" height="11.26" fill="#241332"/>
<rect x="397.09" y="143.10" width="1.05" height="11.26" fill="#451c47"/>
<rect x="398.08" y="143.10" width="1.05" height="11.26" fill="#03051a"/>
<rect x="399.08" y="143.10" width="1.05" height="11.26" fill="#421b45"/>
<rect x="400.08" y="143.10" width="1.05" height="11.26" fill="#31173b"/>
<rect x="401.08" y="143.10" width="1.05" height="11.26" fill="#2c1637"/>
<rect x="402.07" y="143.10" width="1.05" height="11.26" fill="#3f1b43"/>
<rect x="403.07" y="143.10" width="1.05" height="11.26" fill="#1e112e"/>
<rect x="404.07" y="143.10" width="1.05" height="11.26" fill="#251433"/>
<rect x="405.07" y="143.10" width="1.05" height="11.26" fill="#1f122f"/>
<rect x="406.07" y="143.10" width="1.05" height="11.26" fill="#0f0b23"/>
<rect x="407.06" y="143.10" width="2.05" height="11.26" fill="#0a081f"/>
<rect x="409.06" y="143.10" width="1.05" height="11.26" fill="#201230"/>
<rect x="410.06" y="143.10" width="2.05" height="11.26" fill="#03051a"/>
<rect x="412.05" y="143.10" width="1.05" height="11.26" fill="#170e29"/>
<rect x="413.05" y="143.10" width="1.05" height="11.26" fill="#451c47"/>
<rect x="414.05" y="143.10" width="1.05" height="11.26" fill="#1c102c"/>
<rect x="415.04" y="143.10" width="1.05" height="11.26" fill="#3c1a41"/>
<rect x="416.04" y="143.10" width="1.05" height="11.26" fill="#221331"/>
<rect x="417.04" y="143.10" width="1.05" height="11.26" fill="#211230"/>
<rect x="418.04" y="143.10" width="1.05" height="11.26" fill="#03051a"/>
<rect x="419.03" y="143.10" width="1.05" height="11.26" fill="#2e1638"/>
<rect x="420.03" y="143.10" width="1.05" height="11.26" fill="#451c47"/>
<rect x="421.03" y="143.10" width="1.05" height="11.26" fill="#160e28"/>
<rect x="422.03" y="143.10" width="1.05" height="11.26" fill="#03051a"/>
<rect x="423.03" y="143.10" width="1.05" height="11.26" fill="#31173a"/>
<rect x="424.02" y="143.10" width="2.05" height="11.26" fill="#03051a"/>
<rect x="426.02" y="143.10" width="1.05" height="11.26" fill="#431c46"/>
<rect x="427.02" y="143.10" width="1.05" height="11.26" fill="#2f1639"/>
<rect x="428.01" y="143.10" width="1.05" height="11.26" fill="#391940"/>
<rect x="429.01" y="143.10" width="1.05" height="11.26" fill="#130c26"/>
<rect x="430.01" y="143.10" width="1.05" height="11.26" fill="#2c1638"/>
<rect x="431.01" y="143.10" width="1.05" height="11.26" fill="#241432"/>
<rect x="432.00" y="143.10" width="1.05" height="11.26" fill="#1a0f2b"/>
<rect x="433.00" y="143.10" width="1.05" height="11.26" fill="#3b1941"/>
<rect x="348.20" y="154.31" width="1.05" height="11.26" fill="#551d4e"/>
<rect x="349.20" y="154.31" width="1.05" height="11.26" fill="#451c47"/>
<rect x="350.20" y="154.31" width="1.05" height="11.26" fill="#7a1e58"/>
<rect x="351.19" y="154.31" width="1.05" height="11.26" fill="#861d59"/>
<rect x="352.19" y="154.31" width="1.05" height="11.26" fill="#781e58"/>
<rect x="353.19" y="154.31" width="1.05" height="11.26" fill="#2d1638"/>
<rect x="354.19" y="154.31" width="1.05" height="11.26" fill="#b91657"/>
<rect x="355.18" y="154.31" width="1.05" height="11.26" fill="#711e57"/>
<rect x="356.18" y="154.31" width="1.05" height="11.26" fill="#961b5b"/>
<rect x="357.18" y="154.31" width="1.05" height="11.26" fill="#941c5b"/>
<rect x="358.18" y="154.31" width="1.05" height="11.26" fill="#9a1b5a"/>
<rect x="359.17" y="154.31" width="1.05" height="11.26" fill="#811d59"/>
<rect x="360.17" y="154.31" width="1.05" height="11.26" fill="#531d4d"/>
<rect x="361.17" y="154.31" width="1.05" height="11.26" fill="#9b1b5a"/>
<rect x="362.17" y="154.31" width="1.05" height="11.26" fill="#4b1c49"/>
<rect x="363.17" y="154.31" width="1.05" height="11.26" fill="#6c1f56"/>
<rect x="364.16" y="154.31" width="1.05" height="11.26" fill="#951b5b"/>
<rect x="365.16" y="154.31" width="1.05" height="11.26" fill="#6b1f56"/>
<rect x="366.16" y="154.31" width="1.05" height="11.26" fill="#3f1a43"/>
<rect x="367.16" y="154.31" width="1.05" height="11.26" fill="#801d59"/>
<rect x="368.15" y="154.31" width="1.05" height="11.26" fill="#891d5a"/>
<rect x="369.15" y="154.31" width="1.05" height="11.26" fill="#841d59"/>
<rect x="370.15" y="154.31" width="1.05" height="11.26" fill="#531d4d"/>
<rect x="371.15" y="154.31" width="1.05" height="11.26" fill="#711f57"/>
<rect x="372.14" y="154.31" width="1.05" height="11.26" fill="#7a1e58"/>
<rect x="373.14" y="154.31" width="1.05" height="11.26" fill="#911c5b"/>
<rect x="374.14" y="154.31" width="1.05" height="11.26" fill="#9c1a5a"/>
<rect x="375.14" y="154.31" width="1.05" height="11.26" fill="#7b1e58"/>
<rect x="376.13" y="154.31" width="1.05" height="11.26" fill="#6f1f57"/>
<rect x="377.13" y="154.31" width="1.05" height="11.26" fill="#8d1c5a"/>
<rect x="378.13" y="154.31" width="1.05" height="11.26" fill="#a61959"/>
<rect x="379.13" y="154.31" width="1.05" height="11.26" fill="#6e1f57"/>
<rect x="380.13" y="154.31" width="1.05" height="11.26" fill="#661f54"/>
<rect x="381.12" y="154.31" width="1.05" height="11.26" fill="#a61959"/>
<rect x="382.12" y="154.31" width="1.05" height="11.26" fill="#621e53"/>
<rect x="383.12" y="154.31" width="1.05" height="11.26" fill="#5b1e50"/>
<rect x="384.12" y="154.31" width="1.05" height="11.26" fill="#931c5b"/>
<rect x="385.11" y="154.31" width="1.05" height="11.26" fill="#6f1f57"/>
<rect x="386.11" y="154.31" width="1.05" height="11.26" fill="#4c1d4a"/>
<rect x="387.11" y="154.31" width="1.05" height="11.26" fill="#721e57"/>
<rect x="388.11" y="154.31" width="1.05" height="11.26" fill="#7f1d59"/>
<rect x="389.10" y="154.31" width="1.05" height="11.26" fill="#871d5a"/>
<rect x="390.10" y="154.31" width="1.05" height="11.26" fill="#881d5a"/>
<rect x="391.10" y="154.31" width="1.05" height="11.26" fill="#661f54"/>
<rect x="392.10" y="154.31" width="1.05" height="11.26" fill="#881d5a"/>
<rect x="393.10" y="154.31" width="1.05" height="11.26" fill="#6f1f57"/>
<rect x="394.09" y="154.31" width="1.05" height="11.26" fill="#771e58"/>
<rect x="395.09" y="154.31" width="1.05" height="11.26" fill="#8e1c5b"/>
<rect x="396.09" y="154.31" width="1.05" height="11.26" fill="#871d5a"/>
<rect x="397.09" y="154.31" width="1.05" height="11.26" fill="#521d4c"/>
<rect x="398.08" y="154.31" width="1.05" height="11.26" fill="#791e58"/>
<rect x="399.08" y="154.31" width="1.05" height="11.26" fill="#801d59"/>
<rect x="400.08" y="154.31" width="1.05" height="11.26" fill="#8c1c5a"/>
<rect x="401.08" y="154.31" width="1.05" height="11.26" fill="#4c1d4a"/>
<rect x="402.07" y="154.31" width="1.05" height="11.26" fill="#761e57"/>
<rect x="403.07" y="154.31" width="1.05" height="11.26" fill="#7d1e58"/>
<rect x="404.07" y="154.31" width="1.05" height="11.26" fill="#681f55"/>
<rect x="405.07" y="154.31" width="1.05" height="11.26" fill="#6a1f56"/>
<rect x="406.07" y="154.31" width="1.05" height="11.26" fill="#711e57"/>
<rect x="407.06" y="154.31" width="1.05" height="11.26" fill="#4f1d4b"/>
<rect x="408.06" y="154.31" width="1.05" height="11.26" fill="#661f54"/>
<rect x="409.06" y="154.31" width="1.05" height="11.26" fill="#511d4c"/>
<rect x="410.06" y="154.31" width="1.05" height="11.26" fill="#9a1b5a"/>
<rect x="411.05" y="154.31" width="1.05" height="11.26" fill="#741e57"/>
<rect x="412.05" y="154.31" width="2.05" height="11.26" fill="#941c5b"/>
<rect x="414.05" y="154.31" width="1.05" height="11.26" fill="#831d59"/>
<rect x="415.04" y="154.31" width="1.05" height="11.26" fill="#7c1e58"/>
<rect x="416.04" y="154.31" width="1.05" height="11.26" fill="#5b1e50"/>
<rect x="417.04" y="154.31" width="1.05" height="11.26" fill="#9e1a5a"/>
<rect x="418.04" y="154.31" width="1.05" height="11.26" fill="#a21a59"/>
<rect x="419.03" y="154.31" width="1.05" height="11.26" fill="#6c1f56"/>
<rect x="420.03" y="154.31" width="1.05" height="11.26" fill="#a61959"/>
<rect x="421.03" y="154.31" width="1.05" height="11.26" fill="#7b1e58"/>
<rect x="422.03" y="154.31" width="1.05" height="11.26" fill="#781e58"/>
<rect x="423.03" y="154.31" width="1.05" height="11.26" fill="#731e57"/>
<rect x="424.02" y="154.31" width="1.05" height="11.26" fill="#611e52"/>
<rect x="425.02" y="154.31" width="1.05" height="11.26" fill="#5c1e51"/>
<rect x="426.02" y="154.31" width="1.05" height="11.26" fill="#861d5a"/>
<rect x="427.02" y="154.31" width="1.05" height="11.26" fill="#851d59"/>
<rect x="428.01" y="154.31" width="1.05" height="11.26" fill="#7f1d59"/>
<rect x="429.01" y="154.31" width="1.05" height="11.26" fill="#3d1a42"/>
<rect x="430.01" y="154.31" width="1.05" height="11.26" fill="#a61959"/>
<rect x="431.01" y="154.31" width="1.05" height="11.26" fill="#6a1f56"/>
<rect x="432.00" y="154.31" width="1.05" height="11.26" fill="#8c1c5a"/>
<rect x="433.00" y="154.31" width="1.05" height="11.26" fill="#8e1c5a"/>
<rect x="348.20" y="165.52" width="1.05" height="11.26" fill="#611e52"/>
<rect x="349.20" y="165.52" width="1.05" height="11.26" fill="#a61959"/>
<rect x="350.20" y="165.52" width="1.05" height="11.26" fill="#821d59"/>
<rect x="351.19" y="165.52" width="1.05" height="11.26" fill="#651f54"/>
<rect x="352.19" y="165.52" width="1.05" height="11.26" fill="#6d1f56"/>
<rect x="353.19" y="165.52" width="1.05" height="11.26" fill="#631e53"/>
<rect x="354.19" y="165.52" width="1.05" height="11.26" fill="#601e52"/>
<rect x="355.18" y="165.52" width="1.05" height="11.26" fill="#8c1c5a"/>
<rect x="356.18" y="165.52" width="1.05" height="11.26" fill="#7d1e58"/>
<rect x="357.18" y="165.52" width="1.05" height="11.26" fill="#611e52"/>
<rect x="358.18" y="165.52" width="1.05" height="11.26" fill="#921c5b"/>
<rect x="359.17" y="165.52" width="1.05" height="11.26" fill="#8d1c5a"/>
<rect x="360.17" y="165.52" width="1.05" height="11.26" fill="#611e52"/>
<rect x="361.17" y="165.52" width="1.05" height="11.26" fill="#5b1e50"/>
<rect x="362.17" y="165.52" width="2.05" height="11.26" fill="#03051a"/>
<rect x="364.16" y="165.52" width="1.05" height="11.26" fill="#2e1638"/>
<rect x="365.16" y="165.52" width="1.05" height="11.26" fill="#2c1637"/>
<rect x="366.16" y="165.52" width="1.05" height="11.26" fill="#03051a"/>
<rect x="367.16" y="165.52" width="1.05" height="11.26" fill="#2f1639"/>
<rect x="368.15" y="165.52" width="1.05" height="11.26" fill="#37183e"/>
<rect x="369.15" y="165.52" width="1.05" height="11.26" fill="#06061c"/>
<rect x="370.15" y="165.52" width="1.05" height="11.26" fill="#100b24"/>
<rect x="371.15" y="165.52" width="1.05" height="11.26" fill="#03051a"/>
<rect x="372.14" y="165.52" width="1.05" height="11.26" fill="#221331"/>
<rect x="373.14" y="165.52" width="1.05" height="11.26" fill="#03051a"/>
<rect x="374.14" y="165.52" width="1.05" height="11.26" fill="#291536"/>
<rect x="375.14" y="165.52" width="1.05" height="11.26" fill="#271434"/>
<rect x="376.13" y="165.52" width="1.05" height="11.26" fill="#1c102c"/>
<rect x="377.13" y="165.52" width="1.05" height="11.26" fill="#3a1940"/>
<rect x="378.13" y="165.52" width="1.05" height="11.26" fill="#3c1a42"/>
<rect x="379.13" y="165.52" width="1.05" height="11.26" fill="#0e0a22"/>
<rect x="380.13" y="165.52" width="1.05" height="11.26" fill="#03051a"/>
<rect x="381.12" y="165.52" width="1.05" height="11.26" fill="#170e29"/>
<rect x="382.12" y="165.52" width="1.05" height="11.26" fill="#1c102c"/>
<rect x="383.12" y="165.52" width="1.05" height="11.26" fill="#160e28"/>
<rect x="384.12" y="165.52" width="1.05" height="11.26" fill="#241332"/>
<rect x="385.11" y="165.52" width="1.05" height="11.26" fill="#190f2a"/>
<rect x="386.11" y="165.52" width="1.05" height="11.26" fill="#30173a"/>
<rect x="387.11" y="165.52" width="1.05" height="11.26" fill="#1d112d"/>
<rect x="388.11" y="165.52" width="1.05" height="11.26" fill="#34183c"/>
<rect x="389.10" y="165.52" width="1.05" height="11.26" fill="#03051a"/>
<rect x="390.10" y="165.52" width="1.05" height="11.26" fill="#451c47"/>
<rect x="391.10" y="165.52" width="1.05" height="11.26" fill="#35183d"/>
<rect x="392.10" y="165.52" width="1.05" height="11.26" fill="#05061b"/>
<rect x="393.10" y="165.52" width="1.05" height="11.26" fill="#36183e"/>
<rect x="394.09" y="165.52" width="1.05" height="11.26" fill="#160d28"/>
<rect x="395.09" y="165.52" width="1.05" height="11.26" fill="#140d27"/>
<rect x="396.09" y="165.52" width="1.05" height="11.26" fill="#160e28"/>
<rect x="397.09" y="165.52" width="1.05" height="11.26" fill="#281535"/>
<rect x="398.08" y="165.52" width="1.05" height="11.26" fill="#1f122f"/>
<rect x="399.08" y="165.52" width="1.05" height="11.26" fill="#271434"/>
<rect x="400.08" y="165.52" width="1.05" height="11.26" fill="#1b102b"/>
<rect x="401.08" y="165.52" width="1.05" height="11.26" fill="#03051a"/>
<rect x="402.07" y="165.52" width="2.05" height="11.26" fill="#1e112e"/>
<rect x="404.07" y="165.52" width="1.05" height="11.26" fill="#160e28"/>
<rect x="405.07" y="165.52" width="1.05" height="11.26" fill="#281435"/>
<rect x="406.07" y="165.52" width="1.05" height="11.26" fill="#451c47"/>
<rect x="407.06" y="165.52" width="1.05" height="11.26" fill="#0d0a22"/>
<rect x="408.06" y="165.52" width="1.05" height="11.26" fill="#34183c"/>
<rect x="409.06" y="165.52" width="1.05" height="11.26" fill="#03051a"/>
<rect x="410.06" y="165.52" width="1.05" height="11.26" fill="#401b44"/>
<rect x="411.05" y="165.52" width="1.05" height="11.26" fill="#2d1638"/>
<rect x="412.05" y="165.52" width="1.05" height="11.26" fill="#160e28"/>
<rect x="413.05" y="165.52" width="1.05" height="11.26" fill="#2a1536"/>
<rect x="414.05" y="165.52" width="1.05" height="11.26" fill="#0d0921"/>
<rect x="415.04" y="165.52" width="1.05" height="11.26" fill="#140d27"/>
<rect x="416.04" y="165.52" width="1.05" height="11.26" fill="#3d1a42"/>
<rect x="417.04" y="165.52" width="1.05" height="11.26" fill="#421b45"/>
<rect x="418.04" y="165.52" width="1.05" height="11.26" fill="#451c47"/>
<rect x="419.03" y="165.52" width="1.05" height="11.26" fill="#110b24"/>
<rect x="420.03" y="165.52" width="1.05" height="11.26" fill="#221331"/>
<rect x="421.03" y="165.52" width="1.05" height="11.26" fill="#160e28"/>
<rect x="422.03" y="165.52" width="1.05" height="11.26" fill="#190f2a"/>
<rect x="423.03" y="165.52" width="1.05" height="11.26" fill="#160e28"/>
<rect x="424.02" y="165.52" width="1.05" height="11.26" fill="#05061c"/>
<rect x="425.02" y="165.52" width="1.05" height="11.26" fill="#170e29"/>
<rect x="426.02" y="165.52" width="1.05" height="11.26" fill="#451c47"/>
<rect x="427.02" y="165.52" width="1.05" height="11.26" fill="#221331"/>
<rect x="428.01" y="165.52" width="1.05" height="11.26" fill="#0f0a23"/>
<rect x="429.01" y="165.52" width="1.05" height="11.26" fill="#140d27"/>
<rect x="430.01" y="165.52" width="1.05" height="11.26" fill="#03051a"/>
<rect x="431.01" y="165.52" width="1.05" height="11.26" fill="#0c0921"/>
<rect x="432.00" y="165.52" width="1.05" height="11.26" fill="#130c26"/>
<rect x="433.00" y="165.52" width="1.05" height="11.26" fill="#271434"/>
<rect x="348.20" y="176.73" width="3.04" height="11.26" fill="#03051a"/>
<rect x="351.19" y="176.73" width="1.05" height="11.26" fill="#150d27"/>
<rect x="352.19" y="176.73" width="1.05" height="11.26" fill="#201230"/>
<rect x="353.19" y="176.73" width="1.05" height="11.26" fill="#03051a"/>
<rect x="354.19" y="176.73" width="1.05" height="11.26" fill="#221331"/>
<rect x="355.18" y="176.73" width="1.05" height="11.26" fill="#03051a"/>
<rect x="356.18" y="176.73" width="1.05" height="11.26" fill="#1e112e"/>
<rect x="357.18" y="176.73" width="1.05" height="11.26" fill="#120c25"/>
<rect x="358.18" y="176.73" width="1.05" height="11.26" fill="#2c1537"/>
<rect x="359.17" y="176.73" width="1.05" height="11.26" fill="#04051a"/>
<rect x="360.17" y="176.73" width="1.05" height="11.26" fill="#03051a"/>
<rect x="361.17" y="176.73" width="1.05" height="11.26" fill="#231331"/>
<rect x="362.17" y="176.73" width="1.05" height="11.26" fill="#9e1a5a"/>
<rect x="363.17" y="176.73" width="1.05" height="11.26" fill="#bb1756"/>
<rect x="364.16" y="176.73" width="1.05" height="11.26" fill="#cb1f50"/>
<rect x="365.16" y="176.73" width="1.05" height="11.26" fill="#e64151"/>
<rect x="366.16" y="176.73" width="1.05" height="11.26" fill="#c51c53"/>
<rect x="367.16" y="176.73" width="1.05" height="11.26" fill="#e64151"/>
<rect x="368.15" y="176.73" width="1.05" height="11.26" fill="#cd1f50"/>
<rect x="369.15" y="176.73" width="1.05" height="11.26" fill="#a01a5a"/>
<rect x="370.15" y="176.73" width="1.05" height="11.26" fill="#d7244c"/>
<rect x="371.15" y="176.73" width="1.05" height="11.26" fill="#d0214f"/>
<rect x="372.14" y="176.73" width="1.05" height="11.26" fill="#ba1757"/>
<rect x="373.14" y="176.73" width="1.05" height="11.26" fill="#9f1a5a"/>
<rect x="374.14" y="176.73" width="2.05" height="11.26" fill="#e64151"/>
<rect x="376.13" y="176.73" width="1.05" height="11.26" fill="#d6244c"/>
<rect x="377.13" y="176.73" width="1.05" height="11.26" fill="#db2b4d"/>
<rect x="378.13" y="176.73" width="1.05" height="11.26" fill="#e64151"/>
<rect x="379.13" y="176.73" width="1.05" height="11.26" fill="#d5234d"/>
<rect x="380.13" y="176.73" width="1.05" height="11.26" fill="#9d1a5a"/>
<rect x="381.12" y="176.73" width="1.05" height="11.26" fill="#ca1e51"/>
<rect x="382.12" y="176.73" width="1.05" height="11.26" fill="#cc1f50"/>
<rect x="383.12" y="176.73" width="1.05" height="11.26" fill="#e0344f"/>
<rect x="384.12" y="176.73" width="1.05" height="11.26" fill="#e33b50"/>
<rect x="385.11" y="176.73" width="1.05" height="11.26" fill="#e64151"/>
<rect x="386.11" y="176.73" width="1.05" height="11.26" fill="#c01955"/>
<rect x="387.11" y="176.73" width="1.05" height="11.26" fill="#c31b53"/>
<rect x="388.11" y="176.73" width="1.05" height="11.26" fill="#e64151"/>
<rect x="389.10" y="176.73" width="1.05" height="11.26" fill="#d0214e"/>
<rect x="390.10" y="176.73" width="1.05" height="11.26" fill="#de314e"/>
<rect x="391.10" y="176.73" width="1.05" height="11.26" fill="#e43c50"/>
<rect x="392.10" y="176.73" width="1.05" height="11.26" fill="#be1855"/>
<rect x="393.10" y="176.73" width="1.05" height="11.26" fill="#e2394f"/>
<rect x="394.09" y="176.73" width="1.05" height="11.26" fill="#b41758"/>
<rect x="395.09" y="176.73" width="1.05" height="11.26" fill="#c61c52"/>
<rect x="396.09" y="176.73" width="1.05" height="11.26" fill="#e64151"/>
<rect x="397.09" y="176.73" width="1.05" height="11.26" fill="#a21a59"/>
<rect x="398.08" y="176.73" width="1.05" height="11.26" fill="#c21a54"/>
<rect x="399.08" y="176.73" width="1.05" height="11.26" fill="#e1384f"/>
<rect x="400.08" y="176.73" width="1.05" height="11.26" fill="#d8274c"/>
<rect x="401.08" y="176.73" width="1.05" height="11.26" fill="#b61757"/>
<rect x="402.07" y="176.73" width="1.05" height="11.26" fill="#af1858"/>
<rect x="403.07" y="176.73" width="1.05" height="11.26" fill="#de324e"/>
<rect x="404.07" y="176.73" width="1.05" height="11.26" fill="#d6234d"/>
<rect x="405.07" y="176.73" width="1.05" height="11.26" fill="#c51c52"/>
<rect x="406.07" y="176.73" width="1.05" height="11.26" fill="#b81657"/>
<rect x="407.06" y="176.73" width="1.05" height="11.26" fill="#a71959"/>
<rect x="408.06" y="176.73" width="1.05" height="11.26" fill="#cb1e50"/>
<rect x="409.06" y="176.73" width="1.05" height="11.26" fill="#b11758"/>
<rect x="410.06" y="176.73" width="1.05" height="11.26" fill="#e64151"/>
<rect x="411.05" y="176.73" width="1.05" height="11.26" fill="#c71c52"/>
<rect x="412.05" y="176.73" width="1.05" height="11.26" fill="#d5234d"/>
<rect x="413.05" y="176.73" width="1.05" height="11.26" fill="#bc1756"/>
<rect x="414.05" y="176.73" width="1.05" height="11.26" fill="#a41959"/>
<rect x="415.04" y="176.73" width="1.05" height="11.26" fill="#dd2e4e"/>
<rect x="416.04" y="176.73" width="1.05" height="11.26" fill="#ce204f"/>
<rect x="417.04" y="176.73" width="1.05" height="11.26" fill="#d3224d"/>
<rect x="418.04" y="176.73" width="1.05" height="11.26" fill="#ce204f"/>
<rect x="419.03" y="176.73" width="1.05" height="11.26" fill="#c31b53"/>
<rect x="420.03" y="176.73" width="1.05" height="11.26" fill="#db2b4d"/>
<rect x="421.03" y="176.73" width="1.05" height="11.26" fill="#9a1b5a"/>
<rect x="422.03" y="176.73" width="1.05" height="11.26" fill="#c91d51"/>
<rect x="423.03" y="176.73" width="1.05" height="11.26" fill="#c71d52"/>
<rect x="424.02" y="176.73" width="1.05" height="11.26" fill="#b51757"/>
<rect x="425.02" y="176.73" width="1.05" height="11.26" fill="#c81d52"/>
<rect x="426.02" y="176.73" width="1.05" height="11.26" fill="#df344f"/>
<rect x="427.02" y="176.73" width="1.05" height="11.26" fill="#b01758"/>
<rect x="428.01" y="176.73" width="1.05" height="11.26" fill="#d5234d"/>
<rect x="429.01" y="176.73" width="1.05" height="11.26" fill="#ac1858"/>
<rect x="430.01" y="176.73" width="1.05" height="11.26" fill="#ce204f"/>
<rect x="431.01" y="176.73" width="1.05" height="11.26" fill="#cc1f50"/>
<rect x="432.00" y="176.73" width="1.05" height="11.26" fill="#dc2e4e"/>
<rect x="433.00" y="176.73" width="1.05" height="11.26" fill="#da294d"/>
<rect x="348.20" y="187.94" width="1.05" height="11.26" fill="#761e58"/>
<rect x="349.20" y="187.94" width="1.05" height="11.26" fill="#38193f"/>
<rect x="350.20" y="187.94" width="1.05" height="11.26" fill="#571d4e"/>
<rect x="351.19" y="187.94" width="1.05" height="11.26" fill="#681f55"/>
<rect x="352.19" y="187.94" width="1.05" height="11.26" fill="#3b1a41"/>
<rect x="353.19" y="187.94" width="1.05" height="11.26" fill="#201230"/>
<rect x="354.19" y="187.94" width="1.05" height="11.26" fill="#4c1d4a"/>
<rect x="355.18" y="187.94" width="1.05" height="11.26" fill="#3f1a43"/>
<rect x="356.18" y="187.94" width="1.05" height="11.26" fill="#5a1e50"/>
<rect x="357.18" y="187.94" width="1.05" height="11.26" fill="#4b1c49"/>
<rect x="358.18" y="187.94" width="1.05" height="11.26" fill="#3d1a42"/>
<rect x="359.17" y="187.94" width="1.05" height="11.26" fill="#2c1637"/>
<rect x="360.17" y="187.94" width="1.05" height="11.26" fill="#431c46"/>
<rect x="361.17" y="187.94" width="1.05" height="11.26" fill="#2e1639"/>
<rect x="362.17" y="187.94" width="1.05" height="11.26" fill="#971b5a"/>
<rect x="363.17" y="187.94" width="1.05" height="11.26" fill="#c31a53"/>
<rect x="364.16" y="187.94" width="1.05" height="11.26" fill="#c51c53"/>
<rect x="365.16" y="187.94" width="1.05" height="11.26" fill="#a61959"/>
<rect x="366.16" y="187.94" width="1.05" height="11.26" fill="#921c5b"/>
<rect x="367.16" y="187.94" width="1.05" height="11.26" fill="#c21a54"/>
<rect x="368.15" y="187.94" width="1.05" height="11.26" fill="#981b5a"/>
<rect x="369.15" y="187.94" width="1.05" height="11.26" fill="#c41b53"/>
<rect x="370.15" y="187.94" width="1.05" height="11.26" fill="#d1214e"/>
<rect x="371.15" y="187.94" width="1.05" height="11.26" fill="#c01955"/>
<rect x="372.14" y="187.94" width="1.05" height="11.26" fill="#c11a54"/>
<rect x="373.14" y="187.94" width="1.05" height="11.26" fill="#ae1858"/>
<rect x="374.14" y="187.94" width="1.05" height="11.26" fill="#d9274d"/>
<rect x="375.14" y="187.94" width="1.05" height="11.26" fill="#c11a54"/>
<rect x="376.13" y="187.94" width="1.05" height="11.26" fill="#c21a54"/>
<rect x="377.13" y="187.94" width="1.05" height="11.26" fill="#bc1756"/>
<rect x="378.13" y="187.94" width="1.05" height="11.26" fill="#bf1955"/>
<rect x="379.13" y="187.94" width="1.05" height="11.26" fill="#c31b53"/>
<rect x="380.13" y="187.94" width="1.05" height="11.26" fill="#c01954"/>
<rect x="381.12" y="187.94" width="1.05" height="11.26" fill="#c31b53"/>
<rect x="382.12" y="187.94" width="1.05" height="11.26" fill="#a51959"/>
<rect x="383.12" y="187.94" width="1.05" height="11.26" fill="#ba1757"/>
<rect x="384.12" y="187.94" width="1.05" height="11.26" fill="#d1214e"/>
<rect x="385.11" y="187.94" width="1.05" height="11.26" fill="#b31758"/>
<rect x="386.11" y="187.94" width="1.05" height="11.26" fill="#8b1d5a"/>
<rect x="387.11" y="187.94" width="1.05" height="11.26" fill="#751e57"/>
<rect x="388.11" y="187.94" width="1.05" height="11.26" fill="#a81959"/>
<rect x="389.10" y="187.94" width="1.05" height="11.26" fill="#9b1b5a"/>
<rect x="390.10" y="187.94" width="1.05" height="11.26" fill="#cd1f50"/>
<rect x="391.10" y="187.94" width="1.05" height="11.26" fill="#a71959"/>
<rect x="392.10" y="187.94" width="1.05" height="11.26" fill="#df324e"/>
<rect x="393.10" y="187.94" width="1.05" height="11.26" fill="#c81d51"/>
<rect x="394.09" y="187.94" width="1.05" height="11.26" fill="#c91e51"/>
<rect x="395.09" y="187.94" width="1.05" height="11.26" fill="#cd1f50"/>
<rect x="396.09" y="187.94" width="1.05" height="11.26" fill="#df324e"/>
<rect x="397.09" y="187.94" width="1.05" height="11.26" fill="#c81d52"/>
<rect x="398.08" y="187.94" width="1.05" height="11.26" fill="#cb1f50"/>
<rect x="399.08" y="187.94" width="1.05" height="11.26" fill="#d4234d"/>
<rect x="400.08" y="187.94" width="1.05" height="11.26" fill="#d2224e"/>
<rect x="401.08" y="187.94" width="1.05" height="11.26" fill="#bc1756"/>
<rect x="402.07" y="187.94" width="1.05" height="11.26" fill="#d2214e"/>
<rect x="403.07" y="187.94" width="1.05" height="11.26" fill="#cb1f50"/>
<rect x="404.07" y="187.94" width="1.05" height="11.26" fill="#b11758"/>
<rect x="405.07" y="187.94" width="1.05" height="11.26" fill="#db2c4d"/>
<rect x="406.07" y="187.94" width="1.05" height="11.26" fill="#b61657"/>
<rect x="407.06" y="187.94" width="1.05" height="11.26" fill="#c71d52"/>
<rect x="408.06" y="187.94" width="1.05" height="11.26" fill="#df324e"/>
<rect x="409.06" y="187.94" width="1.05" height="11.26" fill="#921c5b"/>
<rect x="410.06" y="187.94" width="1.05" height="11.26" fill="#cd1f50"/>
<rect x="411.05" y="187.94" width="1.05" height="11.26" fill="#b11758"/>
<rect x="412.05" y="187.94" width="1.05" height="11.26" fill="#9a1b5a"/>
<rect x="413.05" y="187.94" width="1.05" height="11.26" fill="#d8264c"/>
<rect x="414.05" y="187.94" width="1.05" height="11.26" fill="#be1855"/>
<rect x="415.04" y="187.94" width="1.05" height="11.26" fill="#c21a54"/>
<rect x="416.04" y="187.94" width="1.05" height="11.26" fill="#a01a5a"/>
<rect x="417.04" y="187.94" width="1.05" height="11.26" fill="#df324e"/>
<rect x="418.04" y="187.94" width="1.05" height="11.26" fill="#b51757"/>
<rect x="419.03" y="187.94" width="1.05" height="11.26" fill="#a21a59"/>
<rect x="420.03" y="187.94" width="1.05" height="11.26" fill="#c81d51"/>
<rect x="421.03" y="187.94" width="1.05" height="11.26" fill="#841d59"/>
<rect x="422.03" y="187.94" width="1.05" height="11.26" fill="#da294d"/>
<rect x="423.03" y="187.94" width="1.05" height="11.26" fill="#9d1a5a"/>
<rect x="424.02" y="187.94" width="1.05" height="11.26" fill="#b01758"/>
<rect x="425.02" y="187.94" width="1.05" height="11.26" fill="#a01a5a"/>
<rect x="426.02" y="187.94" width="1.05" height="11.26" fill="#bc1756"/>
<rect x="427.02" y="187.94" width="1.05" height="11.26" fill="#ac1858"/>
<rect x="428.01" y="187.94" width="1.05" height="11.26" fill="#dd2f4e"/>
<rect x="429.01" y="187.94" width="1.05" height="11.26" fill="#851d59"/>
<rect x="430.01" y="187.94" width="1.05" height="11.26" fill="#cc1f50"/>
<rect x="431.01" y="187.94" width="1.05" height="11.26" fill="#ca1e51"/>
<rect x="432.00" y="187.94" width="1.05" height="11.26" fill="#c01955"/>
<rect x="433.00" y="187.94" width="1.05" height="11.26" fill="#d4224d"/>
<rect x="348.20" y="199.16" width="1.05" height="11.26" fill="#2d1638"/>
<rect x="349.20" y="199.16" width="1.05" height="11.26" fill="#190f2a"/>
<rect x="350.20" y="199.16" width="1.05" height="11.26" fill="#601e52"/>
<rect x="351.19" y="199.16" width="1.05" height="11.26" fill="#541d4d"/>
<rect x="352.19" y="199.16" width="1.05" height="11.26" fill="#591e4f"/>
<rect x="353.19" y="199.16" width="1.05" height="11.26" fill="#201230"/>
<rect x="354.19" y="199.16" width="1.05" height="11.26" fill="#791e58"/>
<rect x="355.18" y="199.16" width="1.05" height="11.26" fill="#641e53"/>
<rect x="356.18" y="199.16" width="1.05" height="11.26" fill="#511d4c"/>
<rect x="357.18" y="199.16" width="1.05" height="11.26" fill="#531d4d"/>
<rect x="358.18" y="199.16" width="1.05" height="11.26" fill="#501d4b"/>
<rect x="359.17" y="199.16" width="1.05" height="11.26" fill="#4c1d4a"/>
<rect x="360.17" y="199.16" width="1.05" height="11.26" fill="#561d4e"/>
<rect x="361.17" y="199.16" width="1.05" height="11.26" fill="#651f54"/>
<rect x="362.17" y="199.16" width="1.05" height="11.26" fill="#be1855"/>
<rect x="363.17" y="199.16" width="1.05" height="11.26" fill="#c81d51"/>
<rect x="364.16" y="199.16" width="1.05" height="11.26" fill="#951c5b"/>
<rect x="365.16" y="199.16" width="1.05" height="11.26" fill="#ba1757"/>
<rect x="366.16" y="199.16" width="1.05" height="11.26" fill="#d0214e"/>
<rect x="367.16" y="199.16" width="1.05" height="11.26" fill="#d4224d"/>
<rect x="368.15" y="199.16" width="1.05" height="11.26" fill="#d4234d"/>
<rect x="369.15" y="199.16" width="1.05" height="11.26" fill="#c01954"/>
<rect x="370.15" y="199.16" width="1.05" height="11.26" fill="#ce204f"/>
<rect x="371.15" y="199.16" width="1.05" height="11.26" fill="#c71d52"/>
<rect x="372.14" y="199.16" width="1.05" height="11.26" fill="#df324e"/>
<rect x="373.14" y="199.16" width="1.05" height="11.26" fill="#d2224e"/>
<rect x="374.14" y="199.16" width="1.05" height="11.26" fill="#df344f"/>
<rect x="375.14" y="199.16" width="1.05" height="11.26" fill="#af1758"/>
<rect x="376.13" y="199.16" width="1.05" height="11.26" fill="#d5234d"/>
<rect x="377.13" y="199.16" width="1.05" height="11.26" fill="#bc1756"/>
<rect x="378.13" y="199.16" width="1.05" height="11.26" fill="#e64151"/>
<rect x="379.13" y="199.16" width="1.05" height="11.26" fill="#b91657"/>
<rect x="380.13" y="199.16" width="1.05" height="11.26" fill="#b51757"/>
<rect x="381.12" y="199.16" width="1.05" height="11.26" fill="#e0354f"/>
<rect x="382.12" y="199.16" width="1.05" height="11.26" fill="#9e1a5a"/>
<rect x="383.12" y="199.16" width="1.05" height="11.26" fill="#d1214e"/>
<rect x="384.12" y="199.16" width="1.05" height="11.26" fill="#d9284d"/>
<rect x="385.11" y="199.16" width="1.05" height="11.26" fill="#d7244c"/>
<rect x="386.11" y="199.16" width="1.05" height="11.26" fill="#b31758"/>
<rect x="387.11" y="199.16" width="1.05" height="11.26" fill="#d6244c"/>
<rect x="388.11" y="199.16" width="1.05" height="11.26" fill="#e43d50"/>
<rect x="389.10" y="199.16" width="1.05" height="11.26" fill="#d1214e"/>
<rect x="390.10" y="199.16" width="1.05" height="11.26" fill="#cd1f50"/>
<rect x="391.10" y="199.16" width="1.05" height="11.26" fill="#e64151"/>
<rect x="392.10" y="199.16" width="1.05" height="11.26" fill="#c51c52"/>
<rect x="393.10" y="199.16" width="1.05" height="11.26" fill="#c91d51"/>
<rect x="394.09" y="199.16" width="2.05" height="11.26" fill="#c31b53"/>
<rect x="396.09" y="199.16" width="1.05" height="11.26" fill="#ca1e51"/>
<rect x="397.09" y="199.16" width="1.05" height="11.26" fill="#e64151"/>
<rect x="398.08" y="199.16" width="1.05" height="11.26" fill="#c91e51"/>
<rect x="399.08" y="199.16" width="1.05" height="11.26" fill="#c11a54"/>
<rect x="400.08" y="199.16" width="1.05" height="11.26" fill="#cc1f50"/>
<rect x="401.08" y="199.16" width="1.05" height="11.26" fill="#b31758"/>
<rect x="402.07" y="199.16" width="1.05" height="11.26" fill="#bc1856"/>
<rect x="403.07" y="199.16" width="1.05" height="11.26" fill="#d6244c"/>
<rect x="404.07" y="199.16" width="1.05" height="11.26" fill="#a61959"/>
<rect x="405.07" y="199.16" width="1.05" height="11.26" fill="#991b5a"/>
<rect x="406.07" y="199.16" width="1.05" height="11.26" fill="#c91e51"/>
<rect x="407.06" y="199.16" width="1.05" height="11.26" fill="#c61c52"/>
<rect x="408.06" y="199.16" width="2.05" height="11.26" fill="#b01758"/>
<rect x="410.06" y="199.16" width="1.05" height="11.26" fill="#d4224d"/>
<rect x="411.05" y="199.16" width="1.05" height="11.26" fill="#d2224e"/>
<rect x="412.05" y="199.16" width="1.05" height="11.26" fill="#bc1856"/>
<rect x="413.05" y="199.16" width="1.05" height="11.26" fill="#e64051"/>
<rect x="414.05" y="199.16" width="1.05" height="11.26" fill="#e53e50"/>
<rect x="415.04" y="199.16" width="1.05" height="11.26" fill="#d9274d"/>
<rect x="416.04" y="199.16" width="1.05" height="11.26" fill="#d8254c"/>
<rect x="417.04" y="199.16" width="1.05" height="11.26" fill="#e64151"/>
<rect x="418.04" y="199.16" width="1.05" height="11.26" fill="#de314e"/>
<rect x="419.03" y="199.16" width="1.05" height="11.26" fill="#e2384f"/>
<rect x="420.03" y="199.16" width="1.05" height="11.26" fill="#e64151"/>
<rect x="421.03" y="199.16" width="1.05" height="11.26" fill="#b71657"/>
<rect x="422.03" y="199.16" width="1.05" height="11.26" fill="#d6234c"/>
<rect x="423.03" y="199.16" width="1.05" height="11.26" fill="#dd2f4e"/>
<rect x="424.02" y="199.16" width="1.05" height="11.26" fill="#c01954"/>
<rect x="425.02" y="199.16" width="1.05" height="11.26" fill="#c51b53"/>
<rect x="426.02" y="199.16" width="1.05" height="11.26" fill="#d2224e"/>
<rect x="427.02" y="199.16" width="1.05" height="11.26" fill="#df344f"/>
<rect x="428.01" y="199.16" width="1.05" height="11.26" fill="#c71d52"/>
<rect x="429.01" y="199.16" width="1.05" height="11.26" fill="#961b5b"/>
<rect x="430.01" y="199.16" width="1.05" height="11.26" fill="#e64151"/>
<rect x="431.01" y="199.16" width="1.05" height="11.26" fill="#e43d50"/>
<rect x="432.00" y="199.16" width="1.05" height="11.26" fill="#c41b53"/>
<rect x="433.00" y="199.16" width="1.05" height="11.26" fill="#e64151"/>
<rect x="348.20" y="210.37" width="1.05" height="11.26" fill="#03051a"/>
<rect x="349.20" y="210.37" width="1.05" height="11.26" fill="#211230"/>
<rect x="350.20" y="210.37" width="1.05" height="11.26" fill="#32173b"/>
<rect x="351.19" y="210.37" width="1.05" height="11.26" fill="#100b24"/>
<rect x="352.19" y="210.37" width="1.05" height="11.26" fill="#170e29"/>
<rect x="353.19" y="210.37" width="1.05" height="11.26" fill="#1c102d"/>
<rect x="354.19" y="210.37" width="1.05" height="11.26" fill="#32173b"/>
<rect x="355.18" y="210.37" width="1.05" height="11.26" fill="#05061b"/>
<rect x="356.18" y="210.37" width="1.05" height="11.26" fill="#160e28"/>
<rect x="357.18" y="210.37" width="1.05" height="11.26" fill="#30173a"/>
<rect x="358.18" y="210.37" width="1.05" height="11.26" fill="#32173b"/>
<rect x="359.17" y="210.37" width="2.05" height="11.26" fill="#03051a"/>
<rect x="361.17" y="210.37" width="1.05" height="11.26" fill="#281435"/>
<rect x="362.17" y="210.37" width="1.05" height="11.26" fill="#461c47"/>
<rect x="363.17" y="210.37" width="1.05" height="11.26" fill="#531d4d"/>
<rect x="364.16" y="210.37" width="1.05" height="11.26" fill="#651f54"/>
<rect x="365.16" y="210.37" width="1.05" height="11.26" fill="#721e57"/>
<rect x="366.16" y="210.37" width="1.05" height="11.26" fill="#31173b"/>
<rect x="367.16" y="210.37" width="1.05" height="11.26" fill="#9a1b5a"/>
<rect x="368.15" y="210.37" width="1.05" height="11.26" fill="#621e53"/>
<rect x="369.15" y="210.37" width="1.05" height="11.26" fill="#7d1e58"/>
<rect x="370.15" y="210.37" width="1.05" height="11.26" fill="#4e1d4b"/>
<rect x="371.15" y="210.37" width="1.05" height="11.26" fill="#4d1d4a"/>
<rect x="372.14" y="210.37" width="1.05" height="11.26" fill="#741e57"/>
<rect x="373.14" y="210.37" width="2.05" height="11.26" fill="#831d59"/>
<rect x="375.14" y="210.37" width="1.05" height="11.26" fill="#621e53"/>
<rect x="376.13" y="210.37" width="1.05" height="11.26" fill="#931c5b"/>
<rect x="377.13" y="210.37" width="1.05" height="11.26" fill="#921c5b"/>
<rect x="378.13" y="210.37" width="1.05" height="11.26" fill="#8d1c5a"/>
<rect x="379.13" y="210.37" width="1.05" height="11.26" fill="#621e53"/>
<rect x="380.13" y="210.37" width="1.05" height="11.26" fill="#871d5a"/>
<rect x="381.12" y="210.37" width="1.05" height="11.26" fill="#9a1b5a"/>
<rect x="382.12" y="210.37" width="1.05" height="11.26" fill="#501d4c"/>
<rect x="383.12" y="210.37" width="1.05" height="11.26" fill="#901c5b"/>
<rect x="384.12" y="210.37" width="1.05" height="11.26" fill="#931c5b"/>
<rect x="385.11" y="210.37" width="1.05" height="11.26" fill="#8e1c5a"/>
<rect x="386.11" y="210.37" width="1.05" height="11.26" fill="#6c1f56"/>
<rect x="387.11" y="210.37" width="1.05" height="11.26" fill="#631e53"/>
<rect x="388.11" y="210.37" width="1.05" height="11.26" fill="#661f54"/>
<rect x="389.10" y="210.37" width="1.05" height="11.26" fill="#451c47"/>
<rect x="390.10" y="210.37" width="1.05" height="11.26" fill="#881d5a"/>
<rect x="391.10" y="210.37" width="2.05" height="11.26" fill="#451c47"/>
<rect x="393.10" y="210.37" width="1.05" height="11.26" fill="#491c48"/>
<rect x="394.09" y="210.37" width="1.05" height="11.26" fill="#741e57"/>
<rect x="395.09" y="210.37" width="1.05" height="11.26" fill="#991b5a"/>
<rect x="396.09" y="210.37" width="1.05" height="11.26" fill="#6b1f56"/>
<rect x="397.09" y="210.37" width="1.05" height="11.26" fill="#901c5b"/>
<rect x="398.08" y="210.37" width="1.05" height="11.26" fill="#941c5b"/>
<rect x="399.08" y="210.37" width="1.05" height="11.26" fill="#9a1b5a"/>
<rect x="400.08" y="210.37" width="1.05" height="11.26" fill="#4e1d4b"/>
<rect x="401.08" y="210.37" width="1.05" height="11.26" fill="#831d59"/>
<rect x="402.07" y="210.37" width="1.05" height="11.26" fill="#9a1b5a"/>
<rect x="403.07" y="210.37" width="1.05" height="11.26" fill="#5f1e52"/>
<rect x="404.07" y="210.37" width="1.05" height="11.26" fill="#3f1a43"/>
<rect x="405.07" y="210.37" width="1.05" height="11.26" fill="#8c1c5a"/>
<rect x="406.07" y="210.37" width="1.05" height="11.26" fill="#7d1e58"/>
<rect x="407.06" y="210.37" width="2.05" height="11.26" fill="#691f56"/>
<rect x="409.06" y="210.37" width="1.05" height="11.26" fill="#281535"/>
<rect x="410.06" y="210.37" width="1.05" height="11.26" fill="#691f56"/>
<rect x="411.05" y="210.37" width="1.05" height="11.26" fill="#731e57"/>
<rect x="412.05" y="210.37" width="1.05" height="11.26" fill="#6d1f56"/>
<rect x="413.05" y="210.37" width="1.05" height="11.26" fill="#921c5b"/>
<rect x="414.05" y="210.37" width="1.05" height="11.26" fill="#8a1d5a"/>
<rect x="415.04" y="210.37" width="1.05" height="11.26" fill="#5f1e51"/>
<rect x="416.04" y="210.37" width="1.05" height="11.26" fill="#761e57"/>
<rect x="417.04" y="210.37" width="1.05" height="11.26" fill="#9a1b5a"/>
<rect x="418.04" y="210.37" width="1.05" height="11.26" fill="#4d1d4a"/>
<rect x="419.03" y="210.37" width="1.05" height="11.26" fill="#8e1c5a"/>
<rect x="420.03" y="210.37" width="1.05" height="11.26" fill="#6e1f56"/>
<rect x="421.03" y="210.37" width="1.05" height="11.26" fill="#651f54"/>
<rect x="422.03" y="210.37" width="1.05" height="11.26" fill="#991b5a"/>
<rect x="423.03" y="210.37" width="1.05" height="11.26" fill="#801d59"/>
<rect x="424.02" y="210.37" width="1.05" height="11.26" fill="#4b1c49"/>
<rect x="425.02" y="210.37" width="1.05" height="11.26" fill="#551d4e"/>
<rect x="426.02" y="210.37" width="1.05" height="11.26" fill="#541d4d"/>
<rect x="427.02" y="210.37" width="1.05" height="11.26" fill="#771e58"/>
<rect x="428.01" y="210.37" width="1.05" height="11.26" fill="#36183e"/>
<rect x="429.01" y="210.37" width="1.05" height="11.26" fill="#531d4d"/>
<rect x="430.01" y="210.37" width="1.05" height="11.26" fill="#8c1c5a"/>
<rect x="431.01" y="210.37" width="1.05" height="11.26" fill="#591e4f"/>
<rect x="432.00" y="210.37" width="1.05" height="11.26" fill="#5f1e51"/>
<rect x="433.00" y="210.37" width="1.05" height="11.26" fill="#931c5b"/>
<rect x="348.20" y="221.58" width="1.05" height="11.26" fill="#801d59"/>
<rect x="349.20" y="221.58" width="1.05" height="11.26" fill="#971b5a"/>
<rect x="350.20" y="221.58" width="1.05" height="11.26" fill="#941c5b"/>
<rect x="351.19" y="221.58" width="1.05" height="11.26" fill="#581e4f"/>
<rect x="352.19" y="221.58" width="1.05" height="11.26" fill="#631e53"/>
<rect x="353.19" y="221.58" width="1.05" height="11.26" fill="#721e57"/>
<rect x="354.19" y="221.58" width="1.05" height="11.26" fill="#8c1c5a"/>
<rect x="355.18" y="221.58" width="1.05" height="11.26" fill="#731e57"/>
<rect x="356.18" y="221.58" width="1.05" height="11.26" fill="#9a1b5a"/>
<rect x="357.18" y="221.58" width="1.05" height="11.26" fill="#611e52"/>
<rect x="358.18" y="221.58" width="1.05" height="11.26" fill="#751e57"/>
<rect x="359.17" y="221.58" width="1.05" height="11.26" fill="#871d5a"/>
<rect x="360.17" y="221.58" width="1.05" height="11.26" fill="#701f57"/>
<rect x="361.17" y="221.58" width="1.05" height="11.26" fill="#6f1f57"/>
<rect x="362.17" y="221.58" width="1.05" height="11.26" fill="#d8274c"/>
<rect x="363.17" y="221.58" width="1.05" height="11.26" fill="#ea4852"/>
<rect x="364.16" y="221.58" width="1.05" height="11.26" fill="#d3224d"/>
<rect x="365.16" y="221.58" width="1.05" height="11.26" fill="#de304e"/>
<rect x="366.16" y="221.58" width="1.05" height="11.26" fill="#d6244c"/>
<rect x="367.16" y="221.58" width="1.05" height="11.26" fill="#e74151"/>
<rect x="368.15" y="221.58" width="1.05" height="11.26" fill="#ea4852"/>
<rect x="369.15" y="221.58" width="1.05" height="11.26" fill="#c91d51"/>
<rect x="370.15" y="221.58" width="1.05" height="11.26" fill="#ea4852"/>
<rect x="371.15" y="221.58" width="1.05" height="11.26" fill="#b51757"/>
<rect x="372.14" y="221.58" width="1.05" height="11.26" fill="#d0214f"/>
<rect x="373.14" y="221.58" width="1.05" height="11.26" fill="#bc1756"/>
<rect x="374.14" y="221.58" width="1.05" height="11.26" fill="#e84451"/>
<rect x="375.14" y="221.58" width="1.05" height="11.26" fill="#dd304e"/>
<rect x="376.13" y="221.58" width="1.05" height="11.26" fill="#dd2f4e"/>
<rect x="377.13" y="221.58" width="1.05" height="11.26" fill="#dc2d4e"/>
<rect x="378.13" y="221.58" width="1.05" height="11.26" fill="#df344f"/>
<rect x="379.13" y="221.58" width="1.05" height="11.26" fill="#b31758"/>
<rect x="380.13" y="221.58" width="1.05" height="11.26" fill="#db2b4d"/>
<rect x="381.12" y="221.58" width="1.05" height="11.26" fill="#e74251"/>
<rect x="382.12" y="221.58" width="1.05" height="11.26" fill="#d8274c"/>
<rect x="383.12" y="221.58" width="1.05" height="11.26" fill="#a41959"/>
<rect x="384.12" y="221.58" width="1.05" height="11.26" fill="#d4234d"/>
<rect x="385.11" y="221.58" width="1.05" height="11.26" fill="#c81d51"/>
<rect x="386.11" y="221.58" width="1.05" height="11.26" fill="#db2c4d"/>
<rect x="387.11" y="221.58" width="1.05" height="11.26" fill="#9f1a5a"/>
<rect x="388.11" y="221.58" width="1.05" height="11.26" fill="#c31b53"/>
<rect x="389.10" y="221.58" width="1.05" height="11.26" fill="#dc2d4d"/>
<rect x="390.10" y="221.58" width="1.05" height="11.26" fill="#cb1e50"/>
<rect x="391.10" y="221.58" width="1.05" height="11.26" fill="#db2b4d"/>
<rect x="392.10" y="221.58" width="1.05" height="11.26" fill="#d2224e"/>
<rect x="393.10" y="221.58" width="1.05" height="11.26" fill="#e53f50"/>
<rect x="394.09" y="221.58" width="1.05" height="11.26" fill="#d3224e"/>
<rect x="395.09" y="221.58" width="1.05" height="11.26" fill="#e1374f"/>
<rect x="396.09" y="221.58" width="1.05" height="11.26" fill="#df334e"/>
<rect x="397.09" y="221.58" width="1.05" height="11.26" fill="#e1374f"/>
<rect x="398.08" y="221.58" width="1.05" height="11.26" fill="#e0344f"/>
<rect x="399.08" y="221.58" width="1.05" height="11.26" fill="#d3224e"/>
<rect x="400.08" y="221.58" width="1.05" height="11.26" fill="#e33b50"/>
<rect x="401.08" y="221.58" width="1.05" height="11.26" fill="#9f1a5a"/>
<rect x="402.07" y="221.58" width="1.05" height="11.26" fill="#bb1756"/>
<rect x="403.07" y="221.58" width="1.05" height="11.26" fill="#d3224e"/>
<rect x="404.07" y="221.58" width="1.05" height="11.26" fill="#c01954"/>
<rect x="405.07" y="221.58" width="1.05" height="11.26" fill="#d8274c"/>
<rect x="406.07" y="221.58" width="1.05" height="11.26" fill="#b51757"/>
<rect x="407.06" y="221.58" width="1.05" height="11.26" fill="#ad1858"/>
<rect x="408.06" y="221.58" width="1.05" height="11.26" fill="#d6234c"/>
<rect x="409.06" y="221.58" width="1.05" height="11.26" fill="#a21959"/>
<rect x="410.06" y="221.58" width="1.05" height="11.26" fill="#e2384f"/>
<rect x="411.05" y="221.58" width="1.05" height="11.26" fill="#d6234c"/>
<rect x="412.05" y="221.58" width="1.05" height="11.26" fill="#b81657"/>
<rect x="413.05" y="221.58" width="1.05" height="11.26" fill="#d5234d"/>
<rect x="414.05" y="221.58" width="1.05" height="11.26" fill="#e2384f"/>
<rect x="415.04" y="221.58" width="1.05" height="11.26" fill="#d2224e"/>
<rect x="416.04" y="221.58" width="1.05" height="11.26" fill="#dc2e4e"/>
<rect x="417.04" y="221.58" width="1.05" height="11.26" fill="#ea4852"/>
<rect x="418.04" y="221.58" width="1.05" height="11.26" fill="#c81d51"/>
<rect x="419.03" y="221.58" width="1.05" height="11.26" fill="#ca1e51"/>
<rect x="420.03" y="221.58" width="1.05" height="11.26" fill="#df334f"/>
<rect x="421.03" y="221.58" width="1.05" height="11.26" fill="#e23950"/>
<rect x="422.03" y="221.58" width="1.05" height="11.26" fill="#d8264c"/>
<rect x="423.03" y="221.58" width="1.05" height="11.26" fill="#ea4852"/>
<rect x="424.02" y="221.58" width="1.05" height="11.26" fill="#d3224e"/>
<rect x="425.02" y="221.58" width="1.05" height="11.26" fill="#de324e"/>
<rect x="426.02" y="221.58" width="1.05" height="11.26" fill="#d6244c"/>
<rect x="427.02" y="221.58" width="1.05" height="11.26" fill="#ba1756"/>
<rect x="428.01" y="221.58" width="1.05" height="11.26" fill="#a61959"/>
<rect x="429.01" y="221.58" width="1.05" height="11.26" fill="#be1855"/>
<rect x="430.01" y="221.58" width="1.05" height="11.26" fill="#d5234d"/>
<rect x="431.01" y="221.58" width="1.05" height="11.26" fill="#bf1955"/>
<rect x="432.00" y="221.58" width="1.05" height="11.26" fill="#e1374f"/>
<rect x="433.00" y="221.58" width="1.05" height="11.26" fill="#db2c4d"/>
<rect x="348.20" y="232.79" width="1.05" height="11.26" fill="#03051a"/>
<rect x="349.20" y="232.79" width="1.05" height="11.26" fill="#190f2a"/>
<rect x="350.20" y="232.79" width="1.05" height="11.26" fill="#451c47"/>
<rect x="351.19" y="232.79" width="1.05" height="11.26" fill="#20122f"/>
<rect x="352.19" y="232.79" width="1.05" height="11.26" fill="#0c0920"/>
<rect x="353.19" y="232.79" width="1.05" height="11.26" fill="#201230"/>
<rect x="354.19" y="232.79" width="1.05" height="11.26" fill="#03051a"/>
<rect x="355.18" y="232.79" width="1.05" height="11.26" fill="#170e29"/>
<rect x="356.18" y="232.79" width="1.05" height="11.26" fill="#1d112d"/>
<rect x="357.18" y="232.79" width="1.05" height="11.26" fill="#36183e"/>
<rect x="358.18" y="232.79" width="1.05" height="11.26" fill="#04061b"/>
<rect x="359.17" y="232.79" width="1.05" height="11.26" fill="#05061b"/>
<rect x="360.17" y="232.79" width="1.05" height="11.26" fill="#0f0a23"/>
<rect x="361.17" y="232.79" width="1.05" height="11.26" fill="#30173a"/>
<rect x="362.17" y="232.79" width="1.05" height="11.26" fill="#231332"/>
<rect x="363.17" y="232.79" width="1.05" height="11.26" fill="#571d4e"/>
<rect x="364.16" y="232.79" width="1.05" height="11.26" fill="#521d4c"/>
<rect x="365.16" y="232.79" width="1.05" height="11.26" fill="#491c48"/>
<rect x="366.16" y="232.79" width="1.05" height="11.26" fill="#2f1639"/>
<rect x="367.16" y="232.79" width="1.05" height="11.26" fill="#791e58"/>
<rect x="368.15" y="232.79" width="2.05" height="11.26" fill="#591e4f"/>
<rect x="370.15" y="232.79" width="1.05" height="11.26" fill="#5b1e50"/>
<rect x="371.15" y="232.79" width="1.05" height="11.26" fill="#4c1d4a"/>
<rect x="372.14" y="232.79" width="1.05" height="11.26" fill="#39193f"/>
<rect x="373.14" y="232.79" width="1.05" height="11.26" fill="#501d4c"/>
<rect x="374.14" y="232.79" width="1.05" height="11.26" fill="#811d59"/>
<rect x="375.14" y="232.79" width="1.05" height="11.26" fill="#581e4f"/>
<rect x="376.13" y="232.79" width="1.05" height="11.26" fill="#651f54"/>
<rect x="377.13" y="232.79" width="2.05" height="11.26" fill="#741e57"/>
<rect x="379.13" y="232.79" width="1.05" height="11.26" fill="#4b1d4a"/>
<rect x="380.13" y="232.79" width="1.05" height="11.26" fill="#34183d"/>
<rect x="381.12" y="232.79" width="1.05" height="11.26" fill="#821d59"/>
<rect x="382.12" y="232.79" width="1.05" height="11.26" fill="#401b44"/>
<rect x="383.12" y="232.79" width="1.05" height="11.26" fill="#4c1d4a"/>
<rect x="384.12" y="232.79" width="1.05" height="11.26" fill="#5e1e51"/>
<rect x="385.11" y="232.79" width="1.05" height="11.26" fill="#821d59"/>
<rect x="386.11" y="232.79" width="1.05" height="11.26" fill="#611e52"/>
<rect x="387.11" y="232.79" width="1.05" height="11.26" fill="#281535"/>
<rect x="388.11" y="232.79" width="1.05" height="11.26" fill="#5a1e4f"/>
<rect x="389.10" y="232.79" width="1.05" height="11.26" fill="#6e1f57"/>
<rect x="390.10" y="232.79" width="1.05" height="11.26" fill="#401b44"/>
<rect x="391.10" y="232.79" width="1.05" height="11.26" fill="#5a1e50"/>
<rect x="392.10" y="232.79" width="1.05" height="11.26" fill="#401b44"/>
<rect x="393.10" y="232.79" width="1.05" height="11.26" fill="#32173b"/>
<rect x="394.09" y="232.79" width="1.05" height="11.26" fill="#2e1639"/>
<rect x="395.09" y="232.79" width="1.05" height="11.26" fill="#671f55"/>
<rect x="396.09" y="232.79" width="1.05" height="11.26" fill="#6e1f56"/>
<rect x="397.09" y="232.79" width="1.05" height="11.26" fill="#140d27"/>
<rect x="398.08" y="232.79" width="1.05" height="11.26" fill="#481c48"/>
<rect x="399.08" y="232.79" width="1.05" height="11.26" fill="#561d4e"/>
<rect x="400.08" y="232.79" width="1.05" height="11.26" fill="#31173b"/>
<rect x="401.08" y="232.79" width="1.05" height="11.26" fill="#471c48"/>
<rect x="402.07" y="232.79" width="1.05" height="11.26" fill="#3b1941"/>
<rect x="403.07" y="232.79" width="1.05" height="11.26" fill="#821d59"/>
<rect x="404.07" y="232.79" width="1.05" height="11.26" fill="#391940"/>
<rect x="405.07" y="232.79" width="1.05" height="11.26" fill="#6d1f56"/>
<rect x="406.07" y="232.79" width="1.05" height="11.26" fill="#38193f"/>
<rect x="407.06" y="232.79" width="1.05" height="11.26" fill="#39193f"/>
<rect x="408.06" y="232.79" width="1.05" height="11.26" fill="#7c1e58"/>
<rect x="409.06" y="232.79" width="1.05" height="11.26" fill="#2c1638"/>
<rect x="410.06" y="232.79" width="1.05" height="11.26" fill="#5c1e50"/>
<rect x="411.05" y="232.79" width="1.05" height="11.26" fill="#2d1638"/>
<rect x="412.05" y="232.79" width="1.05" height="11.26" fill="#4f1d4b"/>
<rect x="413.05" y="232.79" width="1.05" height="11.26" fill="#821d59"/>
<rect x="414.05" y="232.79" width="1.05" height="11.26" fill="#501d4b"/>
<rect x="415.04" y="232.79" width="1.05" height="11.26" fill="#4d1d4a"/>
<rect x="416.04" y="232.79" width="1.05" height="11.26" fill="#601e52"/>
<rect x="417.04" y="232.79" width="1.05" height="11.26" fill="#591e4f"/>
<rect x="418.04" y="232.79" width="1.05" height="11.26" fill="#39193f"/>
<rect x="419.03" y="232.79" width="1.05" height="11.26" fill="#671f55"/>
<rect x="420.03" y="232.79" width="1.05" height="11.26" fill="#631e53"/>
<rect x="421.03" y="232.79" width="1.05" height="11.26" fill="#1d112d"/>
<rect x="422.03" y="232.79" width="1.05" height="11.26" fill="#130c26"/>
<rect x="423.03" y="232.79" width="1.05" height="11.26" fill="#691f56"/>
<rect x="424.02" y="232.79" width="1.05" height="11.26" fill="#221331"/>
<rect x="425.02" y="232.79" width="1.05" height="11.26" fill="#5d1e51"/>
<rect x="426.02" y="232.79" width="1.05" height="11.26" fill="#7c1e58"/>
<rect x="427.02" y="232.79" width="1.05" height="11.26" fill="#5e1e51"/>
<rect x="428.01" y="232.79" width="1.05" height="11.26" fill="#4b1c49"/>
<rect x="429.01" y="232.79" width="1.05" height="11.26" fill="#03051a"/>
<rect x="430.01" y="232.79" width="1.05" height="11.26" fill="#821d59"/>
<rect x="431.01" y="232.79" width="1.05" height="11.26" fill="#731e57"/>
<rect x="432.00" y="232.79" width="1.05" height="11.26" fill="#481c48"/>
<rect x="433.00" y="232.79" width="1.05" height="11.26" fill="#3d1a42"/>
<rect x="348.20" y="23.9" width="1.05" height="4.5" fill="#d8603a"/>
<rect x="348.20" y="29.6" width="1.05" height="4.4" fill="#1f9a78"/>
<rect x="349.20" y="23.9" width="1.05" height="4.5" fill="#d2705a"/>
<rect x="349.20" y="29.6" width="1.05" height="4.4" fill="#1f9a78"/>
<rect x="350.20" y="23.9" width="1.05" height="4.5" fill="#d8603a"/>
<rect x="350.20" y="29.6" width="1.05" height="4.4" fill="#2a8aa0"/>
<rect x="351.19" y="23.9" width="1.05" height="4.5" fill="#d8603a"/>
<rect x="351.19" y="29.6" width="1.05" height="4.4" fill="#4aa860"/>
<rect x="352.19" y="23.9" width="1.05" height="4.5" fill="#d86a5a"/>
<rect x="352.19" y="29.6" width="1.05" height="4.4" fill="#1f9a78"/>
<rect x="353.19" y="23.9" width="1.05" height="4.5" fill="#d2705a"/>
<rect x="353.19" y="29.6" width="1.05" height="4.4" fill="#1f9a78"/>
<rect x="354.19" y="23.9" width="1.05" height="4.5" fill="#d2705a"/>
<rect x="354.19" y="29.6" width="1.05" height="4.4" fill="#4aa860"/>
<rect x="355.18" y="23.9" width="1.05" height="4.5" fill="#d06c80"/>
<rect x="355.18" y="29.6" width="1.05" height="4.4" fill="#4aa860"/>
<rect x="356.18" y="23.9" width="1.05" height="4.5" fill="#d06c80"/>
<rect x="356.18" y="29.6" width="1.05" height="4.4" fill="#1f9a78"/>
<rect x="357.18" y="23.9" width="1.05" height="4.5" fill="#d47cb0"/>
<rect x="357.18" y="29.6" width="1.05" height="4.4" fill="#1f9a78"/>
<rect x="358.18" y="23.9" width="1.05" height="4.5" fill="#d47cb0"/>
<rect x="358.18" y="29.6" width="1.05" height="4.4" fill="#2a8aa0"/>
<rect x="359.17" y="23.9" width="1.05" height="4.5" fill="#d47cb0"/>
<rect x="359.17" y="29.6" width="1.05" height="4.4" fill="#2a8aa0"/>
<rect x="360.17" y="23.9" width="1.05" height="4.5" fill="#d47cb0"/>
<rect x="360.17" y="29.6" width="1.05" height="4.4" fill="#2a8aa0"/>
<rect x="361.17" y="23.9" width="1.05" height="4.5" fill="#d98090"/>
<rect x="361.17" y="29.6" width="1.05" height="4.4" fill="#1f9a78"/>
<rect x="362.17" y="23.9" width="1.05" height="4.5" fill="#9a8466"/>
<rect x="362.17" y="29.6" width="1.05" height="4.4" fill="#1f9a78"/>
<rect x="363.17" y="23.9" width="1.05" height="4.5" fill="#96806a"/>
<rect x="363.17" y="29.6" width="1.05" height="4.4" fill="#1f9a78"/>
<rect x="364.16" y="23.9" width="1.05" height="4.5" fill="#8c7c6c"/>
<rect x="364.16" y="29.6" width="1.05" height="4.4" fill="#2a9a70"/>
<rect x="365.16" y="23.9" width="1.05" height="4.5" fill="#8c7c6c"/>
<rect x="365.16" y="29.6" width="1.05" height="4.4" fill="#22967a"/>
<rect x="366.16" y="23.9" width="1.05" height="4.5" fill="#847870"/>
<rect x="366.16" y="29.6" width="1.05" height="4.4" fill="#1f9a78"/>
<rect x="367.16" y="23.9" width="1.05" height="4.5" fill="#9a8466"/>
<rect x="367.16" y="29.6" width="1.05" height="4.4" fill="#1f9a78"/>
<rect x="368.15" y="23.9" width="1.05" height="4.5" fill="#80808a"/>
<rect x="368.15" y="29.6" width="1.05" height="4.4" fill="#1f9a78"/>
<rect x="369.15" y="23.9" width="1.05" height="4.5" fill="#8a7a70"/>
<rect x="369.15" y="29.6" width="1.05" height="4.4" fill="#1f9a78"/>
<rect x="370.15" y="23.9" width="1.05" height="4.5" fill="#80808a"/>
<rect x="370.15" y="29.6" width="1.05" height="4.4" fill="#1f9a78"/>
<rect x="371.15" y="23.9" width="1.05" height="4.5" fill="#8a7a70"/>
<rect x="371.15" y="29.6" width="1.05" height="4.4" fill="#2a9a70"/>
<rect x="372.14" y="23.9" width="1.05" height="4.5" fill="#847870"/>
<rect x="372.14" y="29.6" width="1.05" height="4.4" fill="#22967a"/>
<rect x="373.14" y="23.9" width="1.05" height="4.5" fill="#8a7a70"/>
<rect x="373.14" y="29.6" width="1.05" height="4.4" fill="#1f9a78"/>
<rect x="374.14" y="23.9" width="1.05" height="4.5" fill="#96806a"/>
<rect x="374.14" y="29.6" width="1.05" height="4.4" fill="#1f9a78"/>
<rect x="375.14" y="23.9" width="1.05" height="4.5" fill="#96806a"/>
<rect x="375.14" y="29.6" width="1.05" height="4.4" fill="#1f9a78"/>
<rect x="376.13" y="23.9" width="1.05" height="4.5" fill="#9a8466"/>
<rect x="376.13" y="29.6" width="1.05" height="4.4" fill="#2a9a70"/>
<rect x="377.13" y="23.9" width="1.05" height="4.5" fill="#80808a"/>
<rect x="377.13" y="29.6" width="1.05" height="4.4" fill="#1f9a78"/>
<rect x="378.13" y="23.9" width="1.05" height="4.5" fill="#9a8466"/>
<rect x="378.13" y="29.6" width="1.05" height="4.4" fill="#1f9a78"/>
<rect x="379.13" y="23.9" width="1.05" height="4.5" fill="#8a7a70"/>
<rect x="379.13" y="29.6" width="1.05" height="4.4" fill="#1f9a78"/>
<rect x="380.13" y="23.9" width="1.05" height="4.5" fill="#80808a"/>
<rect x="380.13" y="29.6" width="1.05" height="4.4" fill="#22967a"/>
<rect x="381.12" y="23.9" width="1.05" height="4.5" fill="#847870"/>
<rect x="381.12" y="29.6" width="1.05" height="4.4" fill="#22967a"/>
<rect x="382.12" y="23.9" width="1.05" height="4.5" fill="#8c7c6c"/>
<rect x="382.12" y="29.6" width="1.05" height="4.4" fill="#2a9a70"/>
<rect x="383.12" y="23.9" width="1.05" height="4.5" fill="#80808a"/>
<rect x="383.12" y="29.6" width="1.05" height="4.4" fill="#1f9a78"/>
<rect x="384.12" y="23.9" width="1.05" height="4.5" fill="#847870"/>
<rect x="384.12" y="29.6" width="1.05" height="4.4" fill="#22967a"/>
<rect x="385.11" y="23.9" width="1.05" height="4.5" fill="#8c7c6c"/>
<rect x="385.11" y="29.6" width="1.05" height="4.4" fill="#22967a"/>
<rect x="386.11" y="23.9" width="1.05" height="4.5" fill="#9a8466"/>
<rect x="386.11" y="29.6" width="1.05" height="4.4" fill="#1f9a78"/>
<rect x="387.11" y="23.9" width="1.05" height="4.5" fill="#8c7c6c"/>
<rect x="387.11" y="29.6" width="1.05" height="4.4" fill="#22967a"/>
<rect x="388.11" y="23.9" width="1.05" height="4.5" fill="#96806a"/>
<rect x="388.11" y="29.6" width="1.05" height="4.4" fill="#1f9a78"/>
<rect x="389.10" y="23.9" width="1.05" height="4.5" fill="#96806a"/>
<rect x="389.10" y="29.6" width="1.05" height="4.4" fill="#1f9a78"/>
<rect x="390.10" y="23.9" width="1.05" height="4.5" fill="#80808a"/>
<rect x="390.10" y="29.6" width="1.05" height="4.4" fill="#2a9a70"/>
<rect x="391.10" y="23.9" width="1.05" height="4.5" fill="#847870"/>
<rect x="391.10" y="29.6" width="1.05" height="4.4" fill="#1f9a78"/>
<rect x="392.10" y="23.9" width="1.05" height="4.5" fill="#847870"/>
<rect x="392.10" y="29.6" width="1.05" height="4.4" fill="#1f9a78"/>
<rect x="393.10" y="23.9" width="1.05" height="4.5" fill="#847870"/>
<rect x="393.10" y="29.6" width="1.05" height="4.4" fill="#22967a"/>
<rect x="394.09" y="23.9" width="1.05" height="4.5" fill="#96806a"/>
<rect x="394.09" y="29.6" width="1.05" height="4.4" fill="#1f9a78"/>
<rect x="395.09" y="23.9" width="1.05" height="4.5" fill="#8a7a70"/>
<rect x="395.09" y="29.6" width="1.05" height="4.4" fill="#1f9a78"/>
<rect x="396.09" y="23.9" width="1.05" height="4.5" fill="#96806a"/>
<rect x="396.09" y="29.6" width="1.05" height="4.4" fill="#2a9a70"/>
<rect x="397.09" y="23.9" width="1.05" height="4.5" fill="#9a8466"/>
<rect x="397.09" y="29.6" width="1.05" height="4.4" fill="#1f9a78"/>
<rect x="398.08" y="23.9" width="1.05" height="4.5" fill="#8a7a70"/>
<rect x="398.08" y="29.6" width="1.05" height="4.4" fill="#2a9a70"/>
<rect x="399.08" y="23.9" width="1.05" height="4.5" fill="#8c7c6c"/>
<rect x="399.08" y="29.6" width="1.05" height="4.4" fill="#2a9a70"/>
<rect x="400.08" y="23.9" width="1.05" height="4.5" fill="#80808a"/>
<rect x="400.08" y="29.6" width="1.05" height="4.4" fill="#22967a"/>
<rect x="401.08" y="23.9" width="1.05" height="4.5" fill="#9a8466"/>
<rect x="401.08" y="29.6" width="1.05" height="4.4" fill="#2a9a70"/>
<rect x="402.07" y="23.9" width="1.05" height="4.5" fill="#9a8466"/>
<rect x="402.07" y="29.6" width="1.05" height="4.4" fill="#1f9a78"/>
<rect x="403.07" y="23.9" width="1.05" height="4.5" fill="#96806a"/>
<rect x="403.07" y="29.6" width="1.05" height="4.4" fill="#22967a"/>
<rect x="404.07" y="23.9" width="1.05" height="4.5" fill="#847870"/>
<rect x="404.07" y="29.6" width="1.05" height="4.4" fill="#2a9a70"/>
<rect x="405.07" y="23.9" width="1.05" height="4.5" fill="#9a8466"/>
<rect x="405.07" y="29.6" width="1.05" height="4.4" fill="#2a9a70"/>
<rect x="406.07" y="23.9" width="1.05" height="4.5" fill="#847870"/>
<rect x="406.07" y="29.6" width="1.05" height="4.4" fill="#1f9a78"/>
<rect x="407.06" y="23.9" width="1.05" height="4.5" fill="#96806a"/>
<rect x="407.06" y="29.6" width="1.05" height="4.4" fill="#1f9a78"/>
<rect x="408.06" y="23.9" width="1.05" height="4.5" fill="#847870"/>
<rect x="408.06" y="29.6" width="1.05" height="4.4" fill="#1f9a78"/>
<rect x="409.06" y="23.9" width="1.05" height="4.5" fill="#9a8466"/>
<rect x="409.06" y="29.6" width="1.05" height="4.4" fill="#1f9a78"/>
<rect x="410.06" y="23.9" width="1.05" height="4.5" fill="#8c7c6c"/>
<rect x="410.06" y="29.6" width="1.05" height="4.4" fill="#1f9a78"/>
<rect x="411.05" y="23.9" width="1.05" height="4.5" fill="#847870"/>
<rect x="411.05" y="29.6" width="1.05" height="4.4" fill="#1f9a78"/>
<rect x="412.05" y="23.9" width="1.05" height="4.5" fill="#8c7c6c"/>
<rect x="412.05" y="29.6" width="1.05" height="4.4" fill="#2a9a70"/>
<rect x="413.05" y="23.9" width="1.05" height="4.5" fill="#96806a"/>
<rect x="413.05" y="29.6" width="1.05" height="4.4" fill="#22967a"/>
<rect x="414.05" y="23.9" width="1.05" height="4.5" fill="#96806a"/>
<rect x="414.05" y="29.6" width="1.05" height="4.4" fill="#22967a"/>
<rect x="415.04" y="23.9" width="1.05" height="4.5" fill="#847870"/>
<rect x="415.04" y="29.6" width="1.05" height="4.4" fill="#1f9a78"/>
<rect x="416.04" y="23.9" width="1.05" height="4.5" fill="#847870"/>
<rect x="416.04" y="29.6" width="1.05" height="4.4" fill="#22967a"/>
<rect x="417.04" y="23.9" width="1.05" height="4.5" fill="#96806a"/>
<rect x="417.04" y="29.6" width="1.05" height="4.4" fill="#1f9a78"/>
<rect x="418.04" y="23.9" width="1.05" height="4.5" fill="#847870"/>
<rect x="418.04" y="29.6" width="1.05" height="4.4" fill="#2a9a70"/>
<rect x="419.03" y="23.9" width="1.05" height="4.5" fill="#96806a"/>
<rect x="419.03" y="29.6" width="1.05" height="4.4" fill="#1f9a78"/>
<rect x="420.03" y="23.9" width="1.05" height="4.5" fill="#847870"/>
<rect x="420.03" y="29.6" width="1.05" height="4.4" fill="#1f9a78"/>
<rect x="421.03" y="23.9" width="1.05" height="4.5" fill="#8c7c6c"/>
<rect x="421.03" y="29.6" width="1.05" height="4.4" fill="#22967a"/>
<rect x="422.03" y="23.9" width="1.05" height="4.5" fill="#8a7a70"/>
<rect x="422.03" y="29.6" width="1.05" height="4.4" fill="#1f9a78"/>
<rect x="423.03" y="23.9" width="1.05" height="4.5" fill="#80808a"/>
<rect x="423.03" y="29.6" width="1.05" height="4.4" fill="#1f9a78"/>
<rect x="424.02" y="23.9" width="1.05" height="4.5" fill="#9a8466"/>
<rect x="424.02" y="29.6" width="1.05" height="4.4" fill="#1f9a78"/>
<rect x="425.02" y="23.9" width="1.05" height="4.5" fill="#847870"/>
<rect x="425.02" y="29.6" width="1.05" height="4.4" fill="#22967a"/>
<rect x="426.02" y="23.9" width="1.05" height="4.5" fill="#8c7c6c"/>
<rect x="426.02" y="29.6" width="1.05" height="4.4" fill="#22967a"/>
<rect x="427.02" y="23.9" width="1.05" height="4.5" fill="#80808a"/>
<rect x="427.02" y="29.6" width="1.05" height="4.4" fill="#1f9a78"/>
<rect x="428.01" y="23.9" width="1.05" height="4.5" fill="#80808a"/>
<rect x="428.01" y="29.6" width="1.05" height="4.4" fill="#1f9a78"/>
<rect x="429.01" y="23.9" width="1.05" height="4.5" fill="#8a7a70"/>
<rect x="429.01" y="29.6" width="1.05" height="4.4" fill="#1f9a78"/>
<rect x="430.01" y="23.9" width="1.05" height="4.5" fill="#847870"/>
<rect x="430.01" y="29.6" width="1.05" height="4.4" fill="#1f9a78"/>
<rect x="431.01" y="23.9" width="1.05" height="4.5" fill="#8c7c6c"/>
<rect x="431.01" y="29.6" width="1.05" height="4.4" fill="#2a9a70"/>
<rect x="432.00" y="23.9" width="1.05" height="4.5" fill="#96806a"/>
<rect x="432.00" y="29.6" width="1.05" height="4.4" fill="#2a9a70"/>
<rect x="433.00" y="23.9" width="1.05" height="4.5" fill="#8a7a70"/>
<rect x="433.00" y="29.6" width="1.05" height="4.4" fill="#2a9a70"/>
<rect x="348.2" y="35.5" width="13.97" height="4.3" fill="#3aa872"/>
<rect x="362.17" y="35.5" width="71.83" height="4.3" fill="#f5c518"/>
<text x="436.6" y="28.7" font-size="6.93" textLength="23.5" lengthAdjust="spacingAndGlyphs" fill="#262626" stroke="#262626" stroke-width="0.2">Samples</text>
<text x="436.6" y="34.3" font-size="6.93" textLength="17.5" lengthAdjust="spacingAndGlyphs" fill="#262626" stroke="#262626" stroke-width="0.2">Phase</text>
<text x="436.6" y="39.6" font-size="6.93" textLength="17.8" lengthAdjust="spacingAndGlyphs" fill="#262626" stroke="#262626" stroke-width="0.2">Group</text>
<rect x="342.2" y="42.2" width="3.2" height="66.9" fill="#f2d224"/>
<rect x="342.2" y="109.6" width="3.2" height="67.6" fill="#c445a2"/>
<rect x="342.2" y="177.7" width="3.2" height="66.3" fill="#4a9ad6"/>
<text x="0" y="0" transform="translate(336.9,72.0) rotate(-90)" font-size="6.71" text-anchor="middle" textLength="55.3" lengthAdjust="spacingAndGlyphs" fill="#262626" stroke="#262626" stroke-width="0.2">TGF-Beta Signaling</text>
<text x="0" y="0" transform="translate(331.9,143.1) rotate(-90)" font-size="6.71" text-anchor="middle" textLength="49" lengthAdjust="spacingAndGlyphs" fill="#262626" stroke="#262626" stroke-width="0.2">HOXA9 downreg.</text>
<text x="0" y="0" transform="translate(338.3,142.8) rotate(-90)" font-size="6.71" text-anchor="middle" textLength="21.5" lengthAdjust="spacingAndGlyphs" fill="#262626" stroke="#262626" stroke-width="0.2">targets</text>
<text x="0" y="0" transform="translate(337.0,210.9) rotate(-90)" font-size="6.71" text-anchor="middle" textLength="37.4" lengthAdjust="spacingAndGlyphs" fill="#262626" stroke="#262626" stroke-width="0.2">PRC2 targets</text>
<text x="436.4" y="50.205555555555556" font-size="6.66" fill="#262626" stroke="#262626" stroke-width="0.2">Bmpr2</text>
<text x="436.4" y="61.41666666666667" font-size="6.66" fill="#262626" stroke="#262626" stroke-width="0.2">Smad7</text>
<text x="436.4" y="72.6277777777778" font-size="6.66" fill="#262626" stroke="#262626" stroke-width="0.2">Junb</text>
<text x="436.4" y="83.8388888888889" font-size="6.66" fill="#262626" stroke="#262626" stroke-width="0.2">Pmepa1</text>
<text x="436.4" y="95.05000000000001" font-size="6.66" fill="#262626" stroke="#262626" stroke-width="0.2">Klf10</text>
<text x="436.4" y="106.26111111111112" font-size="6.66" fill="#262626" stroke="#262626" stroke-width="0.2">Ski</text>
<text x="436.4" y="117.47222222222224" font-size="6.66" fill="#262626" stroke="#262626" stroke-width="0.2">Krt18</text>
<text x="436.4" y="128.68333333333334" font-size="6.66" fill="#262626" stroke="#262626" stroke-width="0.2">Jun</text>
<text x="436.4" y="139.89444444444447" font-size="6.66" fill="#262626" stroke="#262626" stroke-width="0.2">Man2a2</text>
<text x="436.4" y="151.10555555555558" font-size="6.66" fill="#262626" stroke="#262626" stroke-width="0.2">Cish</text>
<text x="436.4" y="162.3166666666667" font-size="6.66" fill="#262626" stroke="#262626" stroke-width="0.2">Osbpl8</text>
<text x="436.4" y="173.5277777777778" font-size="6.66" fill="#262626" stroke="#262626" stroke-width="0.2">Gata2</text>
<text x="436.4" y="184.7388888888889" font-size="6.66" fill="#262626" stroke="#262626" stroke-width="0.2">Zbtb16</text>
<text x="436.4" y="195.95000000000002" font-size="6.66" fill="#262626" stroke="#262626" stroke-width="0.2">Itga4</text>
<text x="436.4" y="207.16111111111113" font-size="6.66" fill="#262626" stroke="#262626" stroke-width="0.2">Bcl2</text>
<text x="436.4" y="218.37222222222223" font-size="6.66" fill="#262626" stroke="#262626" stroke-width="0.2">Fgf3</text>
<text x="436.4" y="229.58333333333334" font-size="6.66" fill="#262626" stroke="#262626" stroke-width="0.2">Dach1</text>
<text x="436.4" y="240.79444444444445" font-size="6.66" fill="#262626" stroke="#262626" stroke-width="0.2">Gata3</text>
<text x="468.2" y="28.6" font-size="6.93" textLength="23.4" lengthAdjust="spacingAndGlyphs" fill="#262626" stroke="#262626" stroke-width="0.2">Samples</text>
<rect x="469.5" y="30.20" width="5.8" height="7.3" fill="#d95b2b"/>
<text x="478.8" y="36.8" font-size="6.82" textLength="21.7" lengthAdjust="spacingAndGlyphs" fill="#262626" stroke="#262626" stroke-width="0.2">SETBP1</text><text x="501.2" y="33.3" font-size="3.52" textLength="6.4" lengthAdjust="spacingAndGlyphs" fill="#262626" stroke="#262626" stroke-width="0.16">LSL</text>
<rect x="469.5" y="37.72" width="5.8" height="7.3" fill="#d27dc3"/>
<text x="478.8" y="44.32" font-size="6.82" textLength="21.7" lengthAdjust="spacingAndGlyphs" fill="#262626" stroke="#262626" stroke-width="0.2">SETBP1</text><text x="501.2" y="40.82" font-size="3.52" textLength="6.4" lengthAdjust="spacingAndGlyphs" fill="#262626" stroke="#262626" stroke-width="0.16">LSL</text>
<rect x="469.5" y="45.24" width="5.8" height="7.3" fill="#6e6e6e"/>
<text x="478.8" y="51.839999999999996" font-size="6.82" textLength="21.7" lengthAdjust="spacingAndGlyphs" fill="#262626" stroke="#262626" stroke-width="0.2">SETBP1</text><text x="501.2" y="48.339999999999996" font-size="3.52" textLength="12.8" lengthAdjust="spacingAndGlyphs" fill="#262626" stroke="#262626" stroke-width="0.16">G870S</text>
<rect x="469.5" y="52.76" width="5.8" height="7.3" fill="#b5782a"/>
<text x="478.8" y="59.36" font-size="6.82" textLength="21.7" lengthAdjust="spacingAndGlyphs" fill="#262626" stroke="#262626" stroke-width="0.2">SETBP1</text><text x="501.2" y="55.86" font-size="3.52" textLength="12.8" lengthAdjust="spacingAndGlyphs" fill="#262626" stroke="#262626" stroke-width="0.16">G870S</text>
<rect x="469.5" y="60.28" width="5.8" height="7.3" fill="#3895dc"/>
<text x="478.8" y="66.88" font-size="6.82" textLength="21.7" lengthAdjust="spacingAndGlyphs" fill="#262626" stroke="#262626" stroke-width="0.2">SETBP1</text><text x="501.2" y="63.38" font-size="3.52" textLength="12.8" lengthAdjust="spacingAndGlyphs" fill="#262626" stroke="#262626" stroke-width="0.16">G870S</text>
<text x="469" y="79.4" font-size="6.93" textLength="16.5" lengthAdjust="spacingAndGlyphs" fill="#262626" stroke="#262626" stroke-width="0.2">Phase</text>
<rect x="469.5" y="80.90" width="5.8" height="7.0" fill="#1c9a6c"/>
<text x="478.6" y="86.9" font-size="6.93" fill="#262626" stroke="#262626" stroke-width="0.2">G1</text>
<rect x="469.5" y="88.10" width="5.8" height="7.0" fill="#f2d42a"/>
<text x="478.6" y="94.10000000000001" font-size="6.93" fill="#262626" stroke="#262626" stroke-width="0.2">G2M</text>
<rect x="469.5" y="95.30" width="5.8" height="7.0" fill="#1f66b5"/>
<text x="478.6" y="101.30000000000001" font-size="6.93" fill="#262626" stroke="#262626" stroke-width="0.2">S</text>
<text x="468.8" y="114.6" font-size="6.93" textLength="17.8" lengthAdjust="spacingAndGlyphs" fill="#262626" stroke="#262626" stroke-width="0.2">Group</text>
<rect x="469.4" y="116.5" width="5.9" height="7.1" fill="#3b9c6e"/>
<rect x="469.4" y="123.8" width="5.9" height="7.5" fill="#f2c224"/>
<text x="479" y="122.1" font-size="6.93" textLength="9" lengthAdjust="spacingAndGlyphs" fill="#262626" stroke="#262626" stroke-width="0.2">LSL</text>
<text x="479" y="129.7" font-size="6.93" textLength="18.6" lengthAdjust="spacingAndGlyphs" fill="#262626" stroke="#262626" stroke-width="0.2">G870S</text>
<linearGradient id="g3" gradientUnits="userSpaceOnUse" x1="0" y1="139.5" x2="0" y2="194.6"><stop offset="0" stop-color="#faebd7"/><stop offset="0.1" stop-color="#f6a888"/><stop offset="0.2" stop-color="#f37a64"/><stop offset="0.3" stop-color="#ea4852"/><stop offset="0.4" stop-color="#d7244c"/><stop offset="0.5" stop-color="#b91657"/><stop offset="0.6" stop-color="#921c5b"/><stop offset="0.7" stop-color="#6a1f56"/><stop offset="0.8" stop-color="#451c47"/><stop offset="0.9" stop-color="#221331"/><stop offset="1" stop-color="#03051a"/></linearGradient><rect x="469.3" y="139.5" width="3.2" height="55.1" fill="url(#g3)"/>
<text x="476.6" y="141.6" font-size="6.93" fill="#262626" stroke="#262626" stroke-width="0.2">1</text>
<text x="476.6" y="152.2" font-size="6.93" fill="#262626" stroke="#262626" stroke-width="0.2">0.8</text>
<text x="476.6" y="163.4" font-size="6.93" fill="#262626" stroke="#262626" stroke-width="0.2">0.6</text>
<text x="476.6" y="174.6" font-size="6.93" fill="#262626" stroke="#262626" stroke-width="0.2">0.4</text>
<text x="476.6" y="185.6" font-size="6.93" fill="#262626" stroke="#262626" stroke-width="0.2">0.2</text>
<text x="476.6" y="196.7" font-size="6.93" fill="#262626" stroke="#262626" stroke-width="0.2">0</text>
<text x="38.6" y="134.1" font-size="6.82" textLength="22.0" lengthAdjust="spacingAndGlyphs" fill="#262626" stroke="#262626" stroke-width="0.2">SETBP1</text><text x="61.1" y="130.4" font-size="3.52" textLength="4.9" lengthAdjust="spacingAndGlyphs" fill="#262626" stroke="#262626" stroke-width="0.16">LSL</text>
<text x="94.2" y="133.5" font-size="6.82" textLength="22.0" lengthAdjust="spacingAndGlyphs" fill="#262626" stroke="#262626" stroke-width="0.2">SETBP1</text><text x="116.7" y="129.8" font-size="3.52" textLength="12.5" lengthAdjust="spacingAndGlyphs" fill="#262626" stroke="#262626" stroke-width="0.16">G870S</text>
<text x="0" y="0" transform="translate(19.9,167) rotate(-90)" font-size="8.03" text-anchor="middle" fill="#262626" stroke="#262626" stroke-width="0.2">Setbp1</text>
<polygon points="45.8,145.0 47.2,146.6 48.2,151.0 48.8,159.6 50.0,167.0 53.1,173.1 56.1,179.2 57.3,184.2 56.7,185.4 48.2,187.8 39.7,190.4 32.4,192.8 34.7,186.6 36.3,180.6 36.7,175.0 35.9,169.4 35.9,162.0 39.1,157.1 42.3,152.2 44.4,147.2" fill="#46125c" filter="url(#d2)"/><polygon points="48.8,159.6 49.8,163.8 54.5,167.0 57.3,169.4 59.2,173.7 58.0,179.0 56.1,179.2 53.1,173.1 50.0,167.0" fill="#46125c" filter="url(#d0)"/><polygon points="38.7,159.8 48.2,159.8 49.4,167.8 50.5,175.8 44.2,179.0 37.9,177.4" fill="#46125c" filter="url(#d1)"/><polygon points="45.8,145.4 47.0,146.6 48.0,150.2 48.4,156.6 47.4,161.4 43.4,161.4 41.5,156.6 43.0,151.0 44.9,146.6" fill="#46125c" filter="url(#d4)"/><polygon points="43.4,156.6 47.8,159.0 46.6,166.2 43.4,174.2 39.5,183.0 35.5,190.2 33.9,191.0 36.3,183.8 38.7,174.2 41.1,164.6" fill="#46125c" filter="url(#d3)"/><polygon points="36.7,162.0 40.3,159.8 39.5,173.4 37.9,183.8 36.3,191.0 32.4,192.8 34.8,186.6 35.5,178.0 36.1,168.2" fill="#46125c" filter="url(#d3)"/><polygon points="34.7,185.4 42.6,183.0 47.4,179.0 52.9,175.8 56.1,179.2 57.3,184.2 56.7,185.4 48.2,187.8 39.7,190.4 32.4,192.8" fill="#46125c" filter="url(#d3)"/><ellipse cx="43.0" cy="178.2" rx="3.6" ry="2.8" fill="#fff" opacity="0.55" filter="url(#blur10)"/><ellipse cx="47.4" cy="170.2" rx="2.0" ry="4.0" fill="#fff" opacity="0.55" filter="url(#blur10)"/><ellipse cx="41.1" cy="167.8" rx="1.6" ry="2.4" fill="#fff" opacity="0.55" filter="url(#blur10)"/><polygon points="53.1,146.0 55.5,149.7 60.3,151.6 64.0,152.2 68.9,154.6 73.7,157.1 77.4,158.2 79.2,160.2 78.6,163.2 76.1,163.8 73.7,160.8 68.9,158.2 62.6,155.8 57.9,154.0 54.9,152.2 53.1,149.7" fill="#46125c" filter="url(#d4)"/><polyline points="53.7,151.0 54.9,158.2 56.1,165.7 58.5,171.8 59.2,173.7" fill="none" stroke="#46125c" stroke-width="1.74" stroke-linecap="round" filter="url(#d2)"/><ellipse cx="32.4" cy="156.8" rx="1.8" ry="1.0" fill="#46125c" filter="url(#d3)"/>
<linearGradient id="g4" gradientUnits="userSpaceOnUse" x1="0" y1="145.0" x2="0" y2="192.8"><stop offset="0" stop-color="#f0e830"/><stop offset="0.1" stop-color="#d8e234"/><stop offset="0.18" stop-color="#9ad442"/><stop offset="0.35" stop-color="#5ec45e"/><stop offset="0.5" stop-color="#2f9c86"/><stop offset="0.65" stop-color="#2c6e8e"/><stop offset="0.82" stop-color="#3b4a88"/><stop offset="1" stop-color="#46246e"/></linearGradient><polygon points="103.5,145.0 104.9,146.6 105.9,151.0 106.5,159.6 107.7,167.0 110.8,173.1 113.8,179.2 115.0,184.2 114.4,185.4 105.9,187.8 97.4,190.4 90.1,192.8 92.4,186.6 94.0,180.6 94.4,175.0 93.6,169.4 93.6,162.0 96.8,157.1 100.0,152.2 102.1,147.2" fill="url(#g4)" filter="url(#d3)"/><polygon points="106.5,159.6 107.5,163.8 112.2,167.0 115.0,169.4 116.9,173.7 115.7,179.0 113.8,179.2 110.8,173.1 107.7,167.0" fill="url(#g4)" filter="url(#d2)"/><polygon points="96.4,159.8 105.9,159.8 107.1,167.8 108.2,175.8 101.9,179.0 95.6,177.4" fill="url(#g4)" filter="url(#d3)"/><polygon points="103.5,145.4 104.7,146.6 105.7,150.2 106.1,156.6 105.1,161.4 101.1,161.4 99.2,156.6 100.7,151.0 102.6,146.6" fill="url(#g4)" filter="url(#d4)"/><polygon points="94.4,162.0 98.0,159.8 97.2,173.4 95.6,183.8 94.0,191.0 90.1,192.8 92.5,186.6 93.2,178.0 93.8,168.2" fill="url(#g4)" filter="url(#d3)"/><polygon points="92.4,185.4 100.3,183.0 105.1,179.0 110.6,175.8 113.8,179.2 115.0,184.2 114.4,185.4 105.9,187.8 97.4,190.4 90.1,192.8" fill="url(#g4)" filter="url(#d3)"/><polygon points="100.7,151.0 96.4,153.8 91.7,155.4 88.1,156.4 87.9,158.2 92.4,159.4 94.0,162.0 96.8,157.1" fill="url(#g4)" filter="url(#d3)"/><ellipse cx="100.7" cy="178.2" rx="3.6" ry="2.8" fill="#fff" opacity="0.55" filter="url(#blur10)"/><ellipse cx="105.1" cy="170.2" rx="2.0" ry="4.0" fill="#fff" opacity="0.55" filter="url(#blur10)"/><ellipse cx="98.8" cy="167.8" rx="1.6" ry="2.4" fill="#fff" opacity="0.55" filter="url(#blur10)"/><polygon points="110.8,146.0 113.2,149.7 118.0,151.6 121.7,152.2 126.6,154.6 131.4,157.1 135.1,158.2 136.9,160.2 136.3,163.2 133.8,163.8 131.4,160.8 126.6,158.2 120.3,155.8 115.6,154.0 112.6,152.2 110.8,149.7" fill="#2e6a8c" filter="url(#d4)"/><polyline points="111.4,151.0 112.6,158.2 113.8,165.7 116.2,171.8 116.9,173.7" fill="none" stroke="#3c7a8a" stroke-width="1.74" stroke-linecap="round" filter="url(#d2)"/><ellipse cx="90.1" cy="156.8" rx="1.8" ry="1.0" fill="#35b779" filter="url(#d3)"/><g filter="url(#speck)"><polygon points="103.5,145.0 104.9,146.6 105.9,151.0 106.5,159.6 107.7,167.0 110.8,173.1 113.8,179.2 115.0,184.2 114.4,185.4 105.9,187.8 97.4,190.4 90.1,192.8 92.4,186.6 94.0,180.6 94.4,175.0 93.6,169.4 93.6,162.0 96.8,157.1 100.0,152.2 102.1,147.2" fill="#3a3a80"/><polygon points="110.8,146.0 113.2,149.7 118.0,151.6 121.7,152.2 126.6,154.6 131.4,157.1 135.1,158.2 136.9,160.2 136.3,163.2 133.8,163.8 131.4,160.8 126.6,158.2 120.3,155.8 115.6,154.0 112.6,152.2 110.8,149.7" fill="#3a3a80"/></g>
<circle cx="47.1" cy="146.4" r="5.5" fill="none" stroke="#8a8a8a" stroke-width="0.6"/>
<circle cx="104.8" cy="146.4" r="5.5" fill="none" stroke="#8a8a8a" stroke-width="0.6"/>
<linearGradient id="g5" gradientUnits="userSpaceOnUse" x1="0" y1="169.2" x2="0" y2="193.2"><stop offset="0" stop-color="#fde725"/><stop offset="0.25" stop-color="#7ad151"/><stop offset="0.5" stop-color="#22a884"/><stop offset="0.75" stop-color="#2a788e"/><stop offset="1" stop-color="#440154"/></linearGradient><rect x="128.5" y="169.2" width="3.6" height="24.0" fill="url(#g5)"/><text x="132.3" y="173.0" font-size="6.82" fill="#33334a" stroke="#33334a" stroke-width="0.2">10.0</text><text x="132.3" y="179.2" font-size="6.82" fill="#33334a" stroke="#33334a" stroke-width="0.2">7.5</text><text x="132.3" y="185.5" font-size="6.82" fill="#33334a" stroke="#33334a" stroke-width="0.2">5.0</text><text x="132.3" y="191.79999999999998" font-size="6.82" fill="#33334a" stroke="#33334a" stroke-width="0.2">2.5</text>
<text x="0" y="0" transform="translate(19.9,232.6) rotate(-90)" font-size="8.03" text-anchor="middle" fill="#262626" stroke="#262626" stroke-width="0.2">Gata2</text>
<linearGradient id="g6" gradientUnits="userSpaceOnUse" x1="53.1" y1="0.0" x2="79.2" y2="0.0"><stop offset="0" stop-color="#d8e030"/><stop offset="0.45" stop-color="#b8d838"/><stop offset="0.6" stop-color="#5a4a7a"/><stop offset="1" stop-color="#46125c"/></linearGradient><polygon points="45.8,207.4 47.2,209.0 48.2,213.4 48.8,222.0 50.0,229.4 53.1,235.5 56.1,241.6 57.3,246.6 56.7,247.8 48.2,250.2 39.7,252.8 32.4,255.2 34.7,249.0 36.3,243.0 36.7,237.4 35.9,231.8 35.9,224.4 39.1,219.5 42.3,214.6 44.4,209.6" fill="#46125c" filter="url(#d2)"/><polygon points="48.8,222.0 49.8,226.2 54.5,229.4 57.3,231.8 59.2,236.1 58.0,241.4 56.1,241.6 53.1,235.5 50.0,229.4" fill="#46125c" filter="url(#d0)"/><polygon points="38.7,222.2 48.2,222.2 49.4,230.2 50.5,238.2 44.2,241.4 37.9,239.8" fill="#46125c" filter="url(#d1)"/><polygon points="45.8,207.8 47.0,209.0 48.0,212.6 48.4,219.0 47.4,223.8 43.4,223.8 41.5,219.0 43.0,213.4 44.9,209.0" fill="#46125c" filter="url(#d4)"/><polygon points="43.4,219.0 47.8,221.4 46.6,228.6 43.4,236.6 39.5,245.4 35.5,252.6 33.9,253.4 36.3,246.2 38.7,236.6 41.1,227.0" fill="#46125c" filter="url(#d3)"/><polygon points="36.7,224.4 40.3,222.2 39.5,235.8 37.9,246.2 36.3,253.4 32.4,255.2 34.8,249.0 35.5,240.4 36.1,230.6" fill="#46125c" filter="url(#d3)"/><polygon points="34.7,247.8 42.6,245.4 47.4,241.4 52.9,238.2 56.1,241.6 57.3,246.6 56.7,247.8 48.2,250.2 39.7,252.8 32.4,255.2" fill="#46125c" filter="url(#d3)"/><ellipse cx="43.0" cy="240.6" rx="3.6" ry="2.8" fill="#fff" opacity="0.55" filter="url(#blur10)"/><ellipse cx="47.4" cy="232.6" rx="2.0" ry="4.0" fill="#fff" opacity="0.55" filter="url(#blur10)"/><ellipse cx="41.1" cy="230.2" rx="1.6" ry="2.4" fill="#fff" opacity="0.55" filter="url(#blur10)"/><polygon points="53.1,208.4 55.5,212.1 60.3,214.0 64.0,214.6 68.9,217.0 73.7,219.5 77.4,220.6 79.2,222.6 78.6,225.6 76.1,226.2 73.7,223.2 68.9,220.6 62.6,218.2 57.9,216.4 54.9,214.6 53.1,212.1" fill="url(#g6)" filter="url(#d4)"/><polyline points="53.7,213.4 54.9,220.6 56.1,228.1 58.5,234.2 59.2,236.1" fill="none" stroke="#e2e232" stroke-width="1.74" stroke-linecap="round" filter="url(#d2)"/><ellipse cx="32.4" cy="219.2" rx="1.8" ry="1.0" fill="#46125c" filter="url(#d3)"/>
<linearGradient id="g7" gradientUnits="userSpaceOnUse" x1="110.8" y1="0.0" x2="136.9" y2="0.0"><stop offset="0" stop-color="#c8e03a"/><stop offset="0.4" stop-color="#8cd050"/><stop offset="0.7" stop-color="#2a8a8c"/><stop offset="1" stop-color="#3a3c80"/></linearGradient><polygon points="103.5,207.4 104.9,209.0 105.9,213.4 106.5,222.0 107.7,229.4 110.8,235.5 113.8,241.6 115.0,246.6 114.4,247.8 105.9,250.2 97.4,252.8 90.1,255.2 92.4,249.0 94.0,243.0 94.4,237.4 93.6,231.8 93.6,224.4 96.8,219.5 100.0,214.6 102.1,209.6" fill="#441458" filter="url(#d3)"/><polygon points="106.5,222.0 107.5,226.2 112.2,229.4 115.0,231.8 116.9,236.1 115.7,241.4 113.8,241.6 110.8,235.5 107.7,229.4" fill="#441458" filter="url(#d2)"/><polygon points="96.4,222.2 105.9,222.2 107.1,230.2 108.2,238.2 101.9,241.4 95.6,239.8" fill="#441458" filter="url(#d3)"/><polygon points="103.5,207.8 104.7,209.0 105.7,212.6 106.1,219.0 105.1,223.8 101.1,223.8 99.2,219.0 100.7,213.4 102.6,209.0" fill="#441458" filter="url(#d4)"/><polygon points="94.4,224.4 98.0,222.2 97.2,235.8 95.6,246.2 94.0,253.4 90.1,255.2 92.5,249.0 93.2,240.4 93.8,230.6" fill="#441458" filter="url(#d3)"/><polygon points="92.4,247.8 100.3,245.4 105.1,241.4 110.6,238.2 113.8,241.6 115.0,246.6 114.4,247.8 105.9,250.2 97.4,252.8 90.1,255.2" fill="#441458" filter="url(#d3)"/><polygon points="100.7,213.4 96.4,216.2 91.7,217.8 88.1,218.8 87.9,220.6 92.4,221.8 94.0,224.4 96.8,219.5" fill="#441458" filter="url(#d3)"/><ellipse cx="100.7" cy="240.6" rx="3.6" ry="2.8" fill="#fff" opacity="0.55" filter="url(#blur10)"/><ellipse cx="105.1" cy="232.6" rx="2.0" ry="4.0" fill="#fff" opacity="0.55" filter="url(#blur10)"/><ellipse cx="98.8" cy="230.2" rx="1.6" ry="2.4" fill="#fff" opacity="0.55" filter="url(#blur10)"/><polygon points="110.8,208.4 113.2,212.1 118.0,214.0 121.7,214.6 126.6,217.0 131.4,219.5 135.1,220.6 136.9,222.6 136.3,225.6 133.8,226.2 131.4,223.2 126.6,220.6 120.3,218.2 115.6,216.4 112.6,214.6 110.8,212.1" fill="url(#g7)" filter="url(#d4)"/><polyline points="111.4,213.4 112.6,220.6 113.8,228.1 116.2,234.2 116.9,236.1" fill="none" stroke="#c8dc38" stroke-width="1.74" stroke-linecap="round" filter="url(#d2)"/><ellipse cx="90.1" cy="219.2" rx="1.8" ry="1.0" fill="#441458" filter="url(#d3)"/>
<circle cx="47.1" cy="208.8" r="5.5" fill="none" stroke="#8a8a8a" stroke-width="0.6"/>
<circle cx="104.8" cy="208.8" r="5.5" fill="none" stroke="#8a8a8a" stroke-width="0.6"/>
<linearGradient id="g8" gradientUnits="userSpaceOnUse" x1="0" y1="231.6" x2="0" y2="255.6"><stop offset="0" stop-color="#fde725"/><stop offset="0.25" stop-color="#7ad151"/><stop offset="0.5" stop-color="#22a884"/><stop offset="0.75" stop-color="#2a788e"/><stop offset="1" stop-color="#440154"/></linearGradient><rect x="128.5" y="231.6" width="3.6" height="24.0" fill="url(#g8)"/><text x="132.3" y="235.4" font-size="6.82" fill="#33334a" stroke="#33334a" stroke-width="0.2">10.0</text><text x="132.3" y="241.6" font-size="6.82" fill="#33334a" stroke="#33334a" stroke-width="0.2">7.5</text><text x="132.3" y="247.9" font-size="6.82" fill="#33334a" stroke="#33334a" stroke-width="0.2">5.0</text><text x="132.3" y="254.2" font-size="6.82" fill="#33334a" stroke="#33334a" stroke-width="0.2">2.5</text>
<text x="0" y="0" transform="translate(19.9,289.5) rotate(-90)" font-size="8.03" text-anchor="middle" fill="#262626" stroke="#262626" stroke-width="0.2">Hoxa9</text>
<linearGradient id="g9" gradientUnits="userSpaceOnUse" x1="0" y1="267.6" x2="0" y2="315.4"><stop offset="0" stop-color="#3b4a88"/><stop offset="0.5" stop-color="#45206a"/><stop offset="1" stop-color="#3a4486"/></linearGradient><polygon points="45.8,267.6 47.2,269.2 48.2,273.6 48.8,282.2 50.0,289.6 53.1,295.7 56.1,301.8 57.3,306.8 56.7,308.0 48.2,310.4 39.7,313.0 32.4,315.4 34.7,309.2 36.3,303.2 36.7,297.6 35.9,292.0 35.9,284.6 39.1,279.7 42.3,274.8 44.4,269.8" fill="url(#g9)" filter="url(#d2)"/><polygon points="48.8,282.2 49.8,286.4 54.5,289.6 57.3,292.0 59.2,296.3 58.0,301.6 56.1,301.8 53.1,295.7 50.0,289.6" fill="url(#g9)" filter="url(#d0)"/><polygon points="38.7,282.4 48.2,282.4 49.4,290.4 50.5,298.4 44.2,301.6 37.9,300.0" fill="url(#g9)" filter="url(#d1)"/><polygon points="45.8,268.0 47.0,269.2 48.0,272.8 48.4,279.2 47.4,284.0 43.4,284.0 41.5,279.2 43.0,273.6 44.9,269.2" fill="url(#g9)" filter="url(#d4)"/><polygon points="43.4,279.2 47.8,281.6 46.6,288.8 43.4,296.8 39.5,305.6 35.5,312.8 33.9,313.6 36.3,306.4 38.7,296.8 41.1,287.2" fill="url(#g9)" filter="url(#d3)"/><polygon points="36.7,284.6 40.3,282.4 39.5,296.0 37.9,306.4 36.3,313.6 32.4,315.4 34.8,309.2 35.5,300.6 36.1,290.8" fill="url(#g9)" filter="url(#d3)"/><polygon points="34.7,308.0 42.6,305.6 47.4,301.6 52.9,298.4 56.1,301.8 57.3,306.8 56.7,308.0 48.2,310.4 39.7,313.0 32.4,315.4" fill="url(#g9)" filter="url(#d3)"/><ellipse cx="43.0" cy="300.8" rx="3.6" ry="2.8" fill="#fff" opacity="0.55" filter="url(#blur10)"/><ellipse cx="47.4" cy="292.8" rx="2.0" ry="4.0" fill="#fff" opacity="0.55" filter="url(#blur10)"/><ellipse cx="41.1" cy="290.4" rx="1.6" ry="2.4" fill="#fff" opacity="0.55" filter="url(#blur10)"/><polygon points="53.1,268.6 55.5,272.3 60.3,274.2 64.0,274.8 68.9,277.2 73.7,279.7 77.4,280.8 79.2,282.8 78.6,285.8 76.1,286.4 73.7,283.4 68.9,280.8 62.6,278.4 57.9,276.6 54.9,274.8 53.1,272.3" fill="#46125c" filter="url(#d4)"/><polyline points="53.7,273.6 54.9,280.8 56.1,288.3 58.5,294.4 59.2,296.3" fill="none" stroke="#46125c" stroke-width="1.74" stroke-linecap="round" filter="url(#d2)"/><ellipse cx="32.4" cy="279.4" rx="1.8" ry="1.0" fill="#46125c" filter="url(#d3)"/><g filter="url(#speck)"><polygon points="45.8,267.6 47.2,269.2 48.2,273.6 48.8,282.2 50.0,289.6 53.1,295.7 56.1,301.8 57.3,306.8 56.7,308.0 48.2,310.4 39.7,313.0 32.4,315.4 34.7,309.2 36.3,303.2 36.7,297.6 35.9,292.0 35.9,284.6 39.1,279.7 42.3,274.8 44.4,269.8" fill="#3d6a8a"/><polygon points="53.1,268.6 55.5,272.3 60.3,274.2 64.0,274.8 68.9,277.2 73.7,279.7 77.4,280.8 79.2,282.8 78.6,285.8 76.1,286.4 73.7,283.4 68.9,280.8 62.6,278.4 57.9,276.6 54.9,274.8 53.1,272.3" fill="#3d6a8a"/></g>
<linearGradient id="g10" gradientUnits="userSpaceOnUse" x1="0" y1="267.6" x2="0" y2="315.4"><stop offset="0" stop-color="#d8e238"/><stop offset="0.5" stop-color="#c4dc3c"/><stop offset="0.6" stop-color="#6ac060"/><stop offset="0.68" stop-color="#2c7a8c"/><stop offset="1" stop-color="#34558a"/></linearGradient><linearGradient id="g11" gradientUnits="userSpaceOnUse" x1="110.8" y1="0.0" x2="136.9" y2="0.0"><stop offset="0" stop-color="#3aa07a"/><stop offset="1" stop-color="#2a6a8a"/></linearGradient><polygon points="103.5,267.6 104.9,269.2 105.9,273.6 106.5,282.2 107.7,289.6 110.8,295.7 113.8,301.8 115.0,306.8 114.4,308.0 105.9,310.4 97.4,313.0 90.1,315.4 92.4,309.2 94.0,303.2 94.4,297.6 93.6,292.0 93.6,284.6 96.8,279.7 100.0,274.8 102.1,269.8" fill="url(#g10)" filter="url(#d3)"/><polygon points="106.5,282.2 107.5,286.4 112.2,289.6 115.0,292.0 116.9,296.3 115.7,301.6 113.8,301.8 110.8,295.7 107.7,289.6" fill="url(#g10)" filter="url(#d2)"/><polygon points="96.4,282.4 105.9,282.4 107.1,290.4 108.2,298.4 101.9,301.6 95.6,300.0" fill="url(#g10)" filter="url(#d3)"/><polygon points="103.5,268.0 104.7,269.2 105.7,272.8 106.1,279.2 105.1,284.0 101.1,284.0 99.2,279.2 100.7,273.6 102.6,269.2" fill="url(#g10)" filter="url(#d4)"/><polygon points="94.4,284.6 98.0,282.4 97.2,296.0 95.6,306.4 94.0,313.6 90.1,315.4 92.5,309.2 93.2,300.6 93.8,290.8" fill="url(#g10)" filter="url(#d3)"/><polygon points="92.4,308.0 100.3,305.6 105.1,301.6 110.6,298.4 113.8,301.8 115.0,306.8 114.4,308.0 105.9,310.4 97.4,313.0 90.1,315.4" fill="url(#g10)" filter="url(#d3)"/><polygon points="100.7,273.6 96.4,276.4 91.7,278.0 88.1,279.0 87.9,280.8 92.4,282.0 94.0,284.6 96.8,279.7" fill="url(#g10)" filter="url(#d3)"/><ellipse cx="100.7" cy="300.8" rx="3.6" ry="2.8" fill="#fff" opacity="0.55" filter="url(#blur10)"/><ellipse cx="105.1" cy="292.8" rx="2.0" ry="4.0" fill="#fff" opacity="0.55" filter="url(#blur10)"/><ellipse cx="98.8" cy="290.4" rx="1.6" ry="2.4" fill="#fff" opacity="0.55" filter="url(#blur10)"/><polygon points="110.8,268.6 113.2,272.3 118.0,274.2 121.7,274.8 126.6,277.2 131.4,279.7 135.1,280.8 136.9,282.8 136.3,285.8 133.8,286.4 131.4,283.4 126.6,280.8 120.3,278.4 115.6,276.6 112.6,274.8 110.8,272.3" fill="url(#g11)" filter="url(#d4)"/><polyline points="111.4,273.6 112.6,280.8 113.8,288.3 116.2,294.4 116.9,296.3" fill="none" stroke="#6cc85a" stroke-width="1.74" stroke-linecap="round" filter="url(#d2)"/><ellipse cx="90.1" cy="279.4" rx="1.8" ry="1.0" fill="#c4dc3c" filter="url(#d3)"/><g filter="url(#speck)"><polygon points="103.5,267.6 104.9,269.2 105.9,273.6 106.5,282.2 107.7,289.6 110.8,295.7 113.8,301.8 115.0,306.8 114.4,308.0 105.9,310.4 97.4,313.0 90.1,315.4 92.4,309.2 94.0,303.2 94.4,297.6 93.6,292.0 93.6,284.6 96.8,279.7 100.0,274.8 102.1,269.8" fill="#2c6e8e"/><polygon points="110.8,268.6 113.2,272.3 118.0,274.2 121.7,274.8 126.6,277.2 131.4,279.7 135.1,280.8 136.9,282.8 136.3,285.8 133.8,286.4 131.4,283.4 126.6,280.8 120.3,278.4 115.6,276.6 112.6,274.8 110.8,272.3" fill="#2c6e8e"/></g>
<circle cx="47.1" cy="269.0" r="5.5" fill="none" stroke="#8a8a8a" stroke-width="0.6"/>
<circle cx="104.8" cy="269.0" r="5.5" fill="none" stroke="#8a8a8a" stroke-width="0.6"/>
<linearGradient id="g12" gradientUnits="userSpaceOnUse" x1="0" y1="291.8" x2="0" y2="315.8"><stop offset="0" stop-color="#fde725"/><stop offset="0.25" stop-color="#7ad151"/><stop offset="0.5" stop-color="#22a884"/><stop offset="0.75" stop-color="#2a788e"/><stop offset="1" stop-color="#440154"/></linearGradient><rect x="128.5" y="291.79999999999995" width="3.6" height="24.0" fill="url(#g12)"/><text x="132.3" y="295.59999999999997" font-size="6.82" fill="#33334a" stroke="#33334a" stroke-width="0.2">10.0</text><text x="132.3" y="301.79999999999995" font-size="6.82" fill="#33334a" stroke="#33334a" stroke-width="0.2">7.5</text><text x="132.3" y="308.09999999999997" font-size="6.82" fill="#33334a" stroke="#33334a" stroke-width="0.2">5.0</text><text x="132.3" y="314.4" font-size="6.82" fill="#33334a" stroke="#33334a" stroke-width="0.2">2.5</text>
<text x="0" y="0" transform="translate(19.9,348.5) rotate(-90)" font-size="8.03" text-anchor="middle" fill="#262626" stroke="#262626" stroke-width="0.2">Ezh2</text>
<linearGradient id="g13" gradientUnits="userSpaceOnUse" x1="0" y1="330.6" x2="0" y2="378.4"><stop offset="0" stop-color="#2e2a70"/><stop offset="0.3" stop-color="#3b4a88"/><stop offset="0.7" stop-color="#2c6e8a"/><stop offset="1" stop-color="#4a8a70"/></linearGradient><linearGradient id="g14" gradientUnits="userSpaceOnUse" x1="53.1" y1="0.0" x2="79.2" y2="0.0"><stop offset="0" stop-color="#2a788e"/><stop offset="0.6" stop-color="#50b070"/><stop offset="1" stop-color="#b8dc38"/></linearGradient><polygon points="45.8,330.6 47.2,332.2 48.2,336.6 48.8,345.2 50.0,352.6 53.1,358.7 56.1,364.8 57.3,369.8 56.7,371.0 48.2,373.4 39.7,376.0 32.4,378.4 34.7,372.2 36.3,366.2 36.7,360.6 35.9,355.0 35.9,347.6 39.1,342.7 42.3,337.8 44.4,332.8" fill="url(#g13)" filter="url(#d0)"/><polygon points="48.8,345.2 49.8,349.4 54.5,352.6 57.3,355.0 59.2,359.3 58.0,364.6 56.1,364.8 53.1,358.7 50.0,352.6" fill="url(#g13)" filter="url(#d0)"/><polygon points="38.7,345.4 48.2,345.4 49.4,353.4 50.5,361.4 44.2,364.6 37.9,363.0" fill="url(#g13)" filter="url(#d1)"/><polygon points="45.8,331.0 47.0,332.2 48.0,335.8 48.4,342.2 47.4,347.0 43.4,347.0 41.5,342.2 43.0,336.6 44.9,332.2" fill="url(#g13)" filter="url(#d4)"/><polygon points="43.4,342.2 47.8,344.6 46.6,351.8 43.4,359.8 39.5,368.6 35.5,375.8 33.9,376.6 36.3,369.4 38.7,359.8 41.1,350.2" fill="url(#g13)" filter="url(#d2)"/><polygon points="36.7,347.6 40.3,345.4 39.5,359.0 37.9,369.4 36.3,376.6 32.4,378.4 34.8,372.2 35.5,363.6 36.1,353.8" fill="url(#g13)" filter="url(#d2)"/><polygon points="34.7,371.0 42.6,368.6 47.4,364.6 52.9,361.4 56.1,364.8 57.3,369.8 56.7,371.0 48.2,373.4 39.7,376.0 32.4,378.4" fill="url(#g13)" filter="url(#d2)"/><ellipse cx="43.0" cy="363.8" rx="3.6" ry="2.8" fill="#fff" opacity="0.55" filter="url(#blur10)"/><ellipse cx="47.4" cy="355.8" rx="2.0" ry="4.0" fill="#fff" opacity="0.55" filter="url(#blur10)"/><ellipse cx="41.1" cy="353.4" rx="1.6" ry="2.4" fill="#fff" opacity="0.55" filter="url(#blur10)"/><polygon points="53.1,331.6 55.5,335.3 60.3,337.2 64.0,337.8 68.9,340.2 73.7,342.7 77.4,343.8 79.2,345.8 78.6,348.8 76.1,349.4 73.7,346.4 68.9,343.8 62.6,341.4 57.9,339.6 54.9,337.8 53.1,335.3" fill="url(#g14)" filter="url(#d4)"/><polyline points="53.7,336.6 54.9,343.8 56.1,351.3 58.5,357.4 59.2,359.3" fill="none" stroke="#46125c" stroke-width="1.74" stroke-linecap="round" filter="url(#d2)"/><ellipse cx="32.4" cy="342.4" rx="1.8" ry="1.0" fill="#46125c" filter="url(#d3)"/><g filter="url(#speck)"><polygon points="45.8,330.6 47.2,332.2 48.2,336.6 48.8,345.2 50.0,352.6 53.1,358.7 56.1,364.8 57.3,369.8 56.7,371.0 48.2,373.4 39.7,376.0 32.4,378.4 34.7,372.2 36.3,366.2 36.7,360.6 35.9,355.0 35.9,347.6 39.1,342.7 42.3,337.8 44.4,332.8" fill="#8ab850"/><polygon points="53.1,331.6 55.5,335.3 60.3,337.2 64.0,337.8 68.9,340.2 73.7,342.7 77.4,343.8 79.2,345.8 78.6,348.8 76.1,349.4 73.7,346.4 68.9,343.8 62.6,341.4 57.9,339.6 54.9,337.8 53.1,335.3" fill="#8ab850"/></g>
<polygon points="103.5,330.6 104.9,332.2 105.9,336.6 106.5,345.2 107.7,352.6 110.8,358.7 113.8,364.8 115.0,369.8 114.4,371.0 105.9,373.4 97.4,376.0 90.1,378.4 92.4,372.2 94.0,366.2 94.4,360.6 93.6,355.0 93.6,347.6 96.8,342.7 100.0,337.8 102.1,332.8" fill="#a8d840" filter="url(#d3)"/><polygon points="106.5,345.2 107.5,349.4 112.2,352.6 115.0,355.0 116.9,359.3 115.7,364.6 113.8,364.8 110.8,358.7 107.7,352.6" fill="#a8d840" filter="url(#d2)"/><polygon points="96.4,345.4 105.9,345.4 107.1,353.4 108.2,361.4 101.9,364.6 95.6,363.0" fill="#a8d840" filter="url(#d3)"/><polygon points="103.5,331.0 104.7,332.2 105.7,335.8 106.1,342.2 105.1,347.0 101.1,347.0 99.2,342.2 100.7,336.6 102.6,332.2" fill="#a8d840" filter="url(#d4)"/><polygon points="94.4,347.6 98.0,345.4 97.2,359.0 95.6,369.4 94.0,376.6 90.1,378.4 92.5,372.2 93.2,363.6 93.8,353.8" fill="#a8d840" filter="url(#d3)"/><polygon points="92.4,371.0 100.3,368.6 105.1,364.6 110.6,361.4 113.8,364.8 115.0,369.8 114.4,371.0 105.9,373.4 97.4,376.0 90.1,378.4" fill="#a8d840" filter="url(#d3)"/><polygon points="100.7,336.6 96.4,339.4 91.7,341.0 88.1,342.0 87.9,343.8 92.4,345.0 94.0,347.6 96.8,342.7" fill="#a8d840" filter="url(#d3)"/><ellipse cx="100.7" cy="363.8" rx="3.6" ry="2.8" fill="#fff" opacity="0.55" filter="url(#blur10)"/><ellipse cx="105.1" cy="355.8" rx="2.0" ry="4.0" fill="#fff" opacity="0.55" filter="url(#blur10)"/><ellipse cx="98.8" cy="353.4" rx="1.6" ry="2.4" fill="#fff" opacity="0.55" filter="url(#blur10)"/><polygon points="110.8,331.6 113.2,335.3 118.0,337.2 121.7,337.8 126.6,340.2 131.4,342.7 135.1,343.8 136.9,345.8 136.3,348.8 133.8,349.4 131.4,346.4 126.6,343.8 120.3,341.4 115.6,339.6 112.6,337.8 110.8,335.3" fill="#b0d840" filter="url(#d4)"/><polyline points="111.4,336.6 112.6,343.8 113.8,351.3 116.2,357.4 116.9,359.3" fill="none" stroke="#a0d040" stroke-width="1.74" stroke-linecap="round" filter="url(#d2)"/><ellipse cx="90.1" cy="342.4" rx="1.8" ry="1.0" fill="#a0d040" filter="url(#d3)"/><g filter="url(#speck)"><polygon points="103.5,330.6 104.9,332.2 105.9,336.6 106.5,345.2 107.7,352.6 110.8,358.7 113.8,364.8 115.0,369.8 114.4,371.0 105.9,373.4 97.4,376.0 90.1,378.4 92.4,372.2 94.0,366.2 94.4,360.6 93.6,355.0 93.6,347.6 96.8,342.7 100.0,337.8 102.1,332.8" fill="#2a9a80"/><polygon points="110.8,331.6 113.2,335.3 118.0,337.2 121.7,337.8 126.6,340.2 131.4,342.7 135.1,343.8 136.9,345.8 136.3,348.8 133.8,349.4 131.4,346.4 126.6,343.8 120.3,341.4 115.6,339.6 112.6,337.8 110.8,335.3" fill="#2a9a80"/></g>
<circle cx="47.1" cy="332.0" r="5.5" fill="none" stroke="#8a8a8a" stroke-width="0.6"/>
<circle cx="104.8" cy="332.0" r="5.5" fill="none" stroke="#8a8a8a" stroke-width="0.6"/>
<linearGradient id="g15" gradientUnits="userSpaceOnUse" x1="0" y1="354.8" x2="0" y2="378.8"><stop offset="0" stop-color="#fde725"/><stop offset="0.25" stop-color="#7ad151"/><stop offset="0.5" stop-color="#22a884"/><stop offset="0.75" stop-color="#2a788e"/><stop offset="1" stop-color="#440154"/></linearGradient><rect x="128.5" y="354.79999999999995" width="3.6" height="24.0" fill="url(#g15)"/><text x="132.3" y="358.59999999999997" font-size="6.82" fill="#33334a" stroke="#33334a" stroke-width="0.2">10.0</text><text x="132.3" y="364.79999999999995" font-size="6.82" fill="#33334a" stroke="#33334a" stroke-width="0.2">7.5</text><text x="132.3" y="371.09999999999997" font-size="6.82" fill="#33334a" stroke="#33334a" stroke-width="0.2">5.0</text><text x="132.3" y="377.4" font-size="6.82" fill="#33334a" stroke="#33334a" stroke-width="0.2">2.5</text>
<text x="0" y="0" transform="translate(19.9,407.5) rotate(-90)" font-size="8.03" text-anchor="middle" fill="#262626" stroke="#262626" stroke-width="0.2">Gata1</text>
<polygon points="45.8,390.2 47.2,391.8 48.2,396.2 48.8,404.8 50.0,412.2 53.1,418.3 56.1,424.4 57.3,429.4 56.7,430.6 48.2,433.0 39.7,435.6 32.4,438.0 34.7,431.8 36.3,425.8 36.7,420.2 35.9,414.6 35.9,407.2 39.1,402.3 42.3,397.4 44.4,392.4" fill="#46125c" filter="url(#d2)"/><polygon points="48.8,404.8 49.8,409.0 54.5,412.2 57.3,414.6 59.2,418.9 58.0,424.2 56.1,424.4 53.1,418.3 50.0,412.2" fill="#46125c" filter="url(#d0)"/><polygon points="38.7,405.0 48.2,405.0 49.4,413.0 50.5,421.0 44.2,424.2 37.9,422.6" fill="#46125c" filter="url(#d1)"/><polygon points="45.8,390.6 47.0,391.8 48.0,395.4 48.4,401.8 47.4,406.6 43.4,406.6 41.5,401.8 43.0,396.2 44.9,391.8" fill="#46125c" filter="url(#d4)"/><polygon points="43.4,401.8 47.8,404.2 46.6,411.4 43.4,419.4 39.5,428.2 35.5,435.4 33.9,436.2 36.3,429.0 38.7,419.4 41.1,409.8" fill="#46125c" filter="url(#d3)"/><polygon points="36.7,407.2 40.3,405.0 39.5,418.6 37.9,429.0 36.3,436.2 32.4,438.0 34.8,431.8 35.5,423.2 36.1,413.4" fill="#46125c" filter="url(#d3)"/><polygon points="34.7,430.6 42.6,428.2 47.4,424.2 52.9,421.0 56.1,424.4 57.3,429.4 56.7,430.6 48.2,433.0 39.7,435.6 32.4,438.0" fill="#46125c" filter="url(#d3)"/><ellipse cx="43.0" cy="423.4" rx="3.6" ry="2.8" fill="#fff" opacity="0.55" filter="url(#blur10)"/><ellipse cx="47.4" cy="415.4" rx="2.0" ry="4.0" fill="#fff" opacity="0.55" filter="url(#blur10)"/><ellipse cx="41.1" cy="413.0" rx="1.6" ry="2.4" fill="#fff" opacity="0.55" filter="url(#blur10)"/><polygon points="53.1,391.2 55.5,394.9 60.3,396.8 64.0,397.4 68.9,399.8 73.7,402.3 77.4,403.4 79.2,405.4 78.6,408.4 76.1,409.0 73.7,406.0 68.9,403.4 62.6,401.0 57.9,399.2 54.9,397.4 53.1,394.9" fill="#e0e434" filter="url(#d4)"/><polyline points="53.7,396.2 54.9,403.4 56.1,410.9 58.5,417.0 59.2,418.9" fill="none" stroke="#b8d838" stroke-width="1.74" stroke-linecap="round" filter="url(#d2)"/><ellipse cx="32.4" cy="402.0" rx="1.8" ry="1.0" fill="#46125c" filter="url(#d3)"/>
<polygon points="103.5,390.2 104.9,391.8 105.9,396.2 106.5,404.8 107.7,412.2 110.8,418.3 113.8,424.4 115.0,429.4 114.4,430.6 105.9,433.0 97.4,435.6 90.1,438.0 92.4,431.8 94.0,425.8 94.4,420.2 93.6,414.6 93.6,407.2 96.8,402.3 100.0,397.4 102.1,392.4" fill="#441458" filter="url(#d3)"/><polygon points="106.5,404.8 107.5,409.0 112.2,412.2 115.0,414.6 116.9,418.9 115.7,424.2 113.8,424.4 110.8,418.3 107.7,412.2" fill="#441458" filter="url(#d2)"/><polygon points="96.4,405.0 105.9,405.0 107.1,413.0 108.2,421.0 101.9,424.2 95.6,422.6" fill="#441458" filter="url(#d3)"/><polygon points="103.5,390.6 104.7,391.8 105.7,395.4 106.1,401.8 105.1,406.6 101.1,406.6 99.2,401.8 100.7,396.2 102.6,391.8" fill="#441458" filter="url(#d4)"/><polygon points="94.4,407.2 98.0,405.0 97.2,418.6 95.6,429.0 94.0,436.2 90.1,438.0 92.5,431.8 93.2,423.2 93.8,413.4" fill="#441458" filter="url(#d3)"/><polygon points="92.4,430.6 100.3,428.2 105.1,424.2 110.6,421.0 113.8,424.4 115.0,429.4 114.4,430.6 105.9,433.0 97.4,435.6 90.1,438.0" fill="#441458" filter="url(#d3)"/><polygon points="100.7,396.2 96.4,399.0 91.7,400.6 88.1,401.6 87.9,403.4 92.4,404.6 94.0,407.2 96.8,402.3" fill="#441458" filter="url(#d3)"/><ellipse cx="100.7" cy="423.4" rx="3.6" ry="2.8" fill="#fff" opacity="0.55" filter="url(#blur10)"/><ellipse cx="105.1" cy="415.4" rx="2.0" ry="4.0" fill="#fff" opacity="0.55" filter="url(#blur10)"/><ellipse cx="98.8" cy="413.0" rx="1.6" ry="2.4" fill="#fff" opacity="0.55" filter="url(#blur10)"/><polygon points="110.8,391.2 113.2,394.9 118.0,396.8 121.7,397.4 126.6,399.8 131.4,402.3 135.1,403.4 136.9,405.4 136.3,408.4 133.8,409.0 131.4,406.0 126.6,403.4 120.3,401.0 115.6,399.2 112.6,397.4 110.8,394.9" fill="#dce234" filter="url(#d4)"/><polyline points="111.4,396.2 112.6,403.4 113.8,410.9 116.2,417.0 116.9,418.9" fill="none" stroke="#c0d838" stroke-width="1.74" stroke-linecap="round" filter="url(#d2)"/><ellipse cx="90.1" cy="402.0" rx="1.8" ry="1.0" fill="#441458" filter="url(#d3)"/>
<circle cx="54.8" cy="395.2" r="5.2" fill="none" stroke="#8a8a8a" stroke-width="0.6"/>
<circle cx="112.5" cy="395.2" r="5.2" fill="none" stroke="#8a8a8a" stroke-width="0.6"/>
<linearGradient id="g16" gradientUnits="userSpaceOnUse" x1="0" y1="414.4" x2="0" y2="438.4"><stop offset="0" stop-color="#fde725"/><stop offset="0.25" stop-color="#7ad151"/><stop offset="0.5" stop-color="#22a884"/><stop offset="0.75" stop-color="#2a788e"/><stop offset="1" stop-color="#440154"/></linearGradient><rect x="128.5" y="414.4" width="3.6" height="24.0" fill="url(#g16)"/><text x="132.3" y="418.2" font-size="6.82" fill="#33334a" stroke="#33334a" stroke-width="0.2">10.0</text><text x="132.3" y="424.4" font-size="6.82" fill="#33334a" stroke="#33334a" stroke-width="0.2">7.5</text><text x="132.3" y="430.7" font-size="6.82" fill="#33334a" stroke="#33334a" stroke-width="0.2">5.0</text><text x="132.3" y="437.0" font-size="6.82" fill="#33334a" stroke="#33334a" stroke-width="0.2">2.5</text>
<rect x="196.0" y="123.8" width="4.0" height="4.0" fill="#f06a68" stroke="#c85050" stroke-width="0.5"/>
<text x="203.6" y="128.05" font-size="6.82" textLength="21.6" lengthAdjust="spacingAndGlyphs" fill="#262626" stroke="#262626" stroke-width="0.2">SETBP1</text>
<text x="226.0" y="124.39999999999999" font-size="3.63" textLength="4.6" lengthAdjust="spacingAndGlyphs" fill="#262626" stroke="#262626" stroke-width="0.16">LSL</text><text x="231.2" y="128.05" font-size="6.82" textLength="7.6" lengthAdjust="spacingAndGlyphs" fill="#262626" stroke="#262626" stroke-width="0.2">r1</text>
<rect x="196.0" y="130.0" width="4.0" height="4.0" fill="#aeae26" stroke="#8a8a18" stroke-width="0.5"/>
<text x="203.6" y="134.25" font-size="6.82" textLength="21.6" lengthAdjust="spacingAndGlyphs" fill="#262626" stroke="#262626" stroke-width="0.2">SETBP1</text>
<text x="226.0" y="130.6" font-size="3.63" textLength="4.6" lengthAdjust="spacingAndGlyphs" fill="#262626" stroke="#262626" stroke-width="0.16">LSL</text><text x="231.2" y="134.25" font-size="6.82" textLength="7.6" lengthAdjust="spacingAndGlyphs" fill="#262626" stroke="#262626" stroke-width="0.2">r2</text>
<rect x="246.2" y="123.9" width="4.0" height="4.0" fill="#22a862" stroke="#1a8048" stroke-width="0.5"/>
<text x="253.6" y="128.15" font-size="6.82" textLength="21.6" lengthAdjust="spacingAndGlyphs" fill="#262626" stroke="#262626" stroke-width="0.2">SETBP1</text>
<text x="276.4" y="124.5" font-size="3.74" textLength="13.2" lengthAdjust="spacingAndGlyphs" fill="#262626" stroke="#262626" stroke-width="0.16">G870S</text><text x="290.2" y="128.15" font-size="6.82" textLength="5.4" lengthAdjust="spacingAndGlyphs" fill="#262626" stroke="#262626" stroke-width="0.2">r1</text>
<rect x="246.2" y="130.3" width="4.0" height="4.0" fill="#2f9ad8" stroke="#2070a8" stroke-width="0.5"/>
<text x="253.6" y="134.55" font-size="6.82" textLength="21.6" lengthAdjust="spacingAndGlyphs" fill="#262626" stroke="#262626" stroke-width="0.2">SETBP1</text>
<text x="276.4" y="130.9" font-size="3.74" textLength="13.2" lengthAdjust="spacingAndGlyphs" fill="#262626" stroke="#262626" stroke-width="0.16">G870S</text><text x="290.2" y="134.55" font-size="6.82" textLength="5.4" lengthAdjust="spacingAndGlyphs" fill="#262626" stroke="#262626" stroke-width="0.2">r2</text>
<rect x="246.2" y="137.1" width="4.0" height="4.0" fill="#c463b4" stroke="#9a4890" stroke-width="0.5"/>
<text x="253.6" y="141.35" font-size="6.82" textLength="21.6" lengthAdjust="spacingAndGlyphs" fill="#262626" stroke="#262626" stroke-width="0.2">SETBP1</text>
<text x="276.4" y="137.7" font-size="3.74" textLength="13.2" lengthAdjust="spacingAndGlyphs" fill="#262626" stroke="#262626" stroke-width="0.16">G870S</text><text x="290.2" y="141.35" font-size="6.82" textLength="5.4" lengthAdjust="spacingAndGlyphs" fill="#262626" stroke="#262626" stroke-width="0.2">r3</text>
<line x1="183" y1="154.6" x2="183" y2="198.5" stroke="#262626" stroke-width="1.2"/>
<line x1="182.5" y1="198" x2="309" y2="198" stroke="#262626" stroke-width="1.2"/>
<line x1="180.8" y1="196.5" x2="183" y2="196.5" stroke="#3a3a3a" stroke-width="0.7"/>
<text x="178" y="198.8" font-size="7.15" text-anchor="end" fill="#262626" stroke="#262626" stroke-width="0.2">0</text>
<line x1="180.8" y1="181.4" x2="183" y2="181.4" stroke="#3a3a3a" stroke-width="0.7"/>
<text x="178" y="183.70000000000002" font-size="7.15" text-anchor="end" fill="#262626" stroke="#262626" stroke-width="0.2">1</text>
<line x1="180.8" y1="166.5" x2="183" y2="166.5" stroke="#3a3a3a" stroke-width="0.7"/>
<text x="178" y="168.8" font-size="7.15" text-anchor="end" fill="#262626" stroke="#262626" stroke-width="0.2">2</text>
<text x="0" y="0" transform="translate(167.7,176.3) rotate(-90)" font-size="7.15" text-anchor="middle" textLength="46.5" lengthAdjust="spacingAndGlyphs" fill="#262626" stroke="#262626" stroke-width="0.2">Expression level</text>
<text x="246.2" y="153.0" font-size="7.04" text-anchor="middle" fill="#262626" stroke="#262626" stroke-width="0.2">Setbp1</text>
<text x="273.5" y="159.0" font-size="7.04" textLength="41.5" lengthAdjust="spacingAndGlyphs" fill="#262626" stroke="#262626" stroke-width="0.2">padj = 1.6E-19</text>
<line x1="197" y1="198.6" x2="197" y2="201.2" stroke="#3a3a3a" stroke-width="0.7"/>
<path d="M189.6,196.1h0.8v0.8h-0.8zM193.9,195.6h0.8v0.8h-0.8zM195.6,191.0h0.8v0.8h-0.8zM195.8,195.3h0.8v0.8h-0.8zM195.2,194.6h0.8v0.8h-0.8zM199.1,191.3h0.8v0.8h-0.8zM203.6,193.5h0.8v0.8h-0.8zM204.7,191.3h0.8v0.8h-0.8zM194.2,194.0h0.8v0.8h-0.8zM202.4,193.6h0.8v0.8h-0.8zM199.4,192.4h0.8v0.8h-0.8zM191.9,195.2h0.8v0.8h-0.8z" fill="#8e8e8e"/>
<rect x="185.0" y="195.5" width="24" height="1.4" fill="#a0a0a0"/><line x1="197.0" y1="196.5" x2="197.0" y2="189.0" stroke="#7a7a7a" stroke-width="0.6"/>
<line x1="221.4" y1="198.6" x2="221.4" y2="201.2" stroke="#3a3a3a" stroke-width="0.7"/>
<path d="M217.7,191.2h0.8v0.8h-0.8zM211.6,187.5h0.8v0.8h-0.8zM221.0,176.8h0.8v0.8h-0.8zM221.8,191.7h0.8v0.8h-0.8zM229.5,177.1h0.8v0.8h-0.8zM217.0,187.4h0.8v0.8h-0.8zM218.7,178.2h0.8v0.8h-0.8zM213.9,186.4h0.8v0.8h-0.8zM233.2,189.6h0.8v0.8h-0.8zM227.3,191.5h0.8v0.8h-0.8zM229.4,183.6h0.8v0.8h-0.8zM233.7,180.9h0.8v0.8h-0.8zM211.3,190.1h0.8v0.8h-0.8zM219.0,195.4h0.8v0.8h-0.8zM221.9,192.4h0.8v0.8h-0.8zM226.2,193.2h0.8v0.8h-0.8z" fill="#8e8e8e"/>
<rect x="209.4" y="195.5" width="24" height="1.4" fill="#a0a0a0"/><line x1="221.4" y1="196.5" x2="221.4" y2="174.0" stroke="#7a7a7a" stroke-width="0.6"/>
<line x1="245.8" y1="198.6" x2="245.8" y2="201.2" stroke="#3a3a3a" stroke-width="0.7"/>
<path d="M258.2,173.4h0.8v0.8h-0.8zM252.4,194.1h0.8v0.8h-0.8zM245.5,168.7h0.8v0.8h-0.8zM256.3,180.4h0.8v0.8h-0.8zM239.6,169.5h0.8v0.8h-0.8zM257.6,172.6h0.8v0.8h-0.8zM254.7,177.0h0.8v0.8h-0.8zM239.1,191.0h0.8v0.8h-0.8zM236.7,191.9h0.8v0.8h-0.8zM246.3,173.7h0.8v0.8h-0.8zM232.9,183.4h0.8v0.8h-0.8zM240.8,188.1h0.8v0.8h-0.8zM246.4,178.4h0.8v0.8h-0.8zM245.7,166.7h0.8v0.8h-0.8zM236.8,193.3h0.8v0.8h-0.8zM235.9,175.1h0.8v0.8h-0.8zM252.1,169.3h0.8v0.8h-0.8zM242.3,194.1h0.8v0.8h-0.8zM255.0,186.0h0.8v0.8h-0.8zM243.7,181.6h0.8v0.8h-0.8zM241.2,187.5h0.8v0.8h-0.8zM253.3,170.2h0.8v0.8h-0.8zM244.8,169.1h0.8v0.8h-0.8zM251.1,169.8h0.8v0.8h-0.8zM236.3,168.8h0.8v0.8h-0.8zM255.5,177.8h0.8v0.8h-0.8zM237.1,191.7h0.8v0.8h-0.8zM258.4,168.8h0.8v0.8h-0.8z" fill="#8e8e8e"/>
<path d="M257.30,197.00 C259.69,196.83 256.41,195.94 255.80,195.50 C255.19,195.06 252.19,193.67 251.80,193.00 C251.41,192.33 251.91,190.28 252.30,189.50 C252.69,188.72 254.91,186.72 255.30,186.00 C255.69,185.28 255.97,183.78 255.80,183.00 C255.63,182.22 254.36,179.89 253.80,179.00 C253.24,178.11 251.38,176.00 250.80,175.00 C250.22,174.00 249.00,171.00 248.60,170.00 C248.20,169.00 247.49,166.83 247.20,166.00 C246.91,165.17 246.18,162.89 246.00,162.50 C245.82,162.11 245.78,162.11 245.60,162.50 C245.42,162.89 244.69,165.17 244.40,166.00 C244.11,166.83 243.40,169.00 243.00,170.00 C242.60,171.00 241.38,174.00 240.80,175.00 C240.22,176.00 238.36,178.11 237.80,179.00 C237.24,179.89 235.97,182.22 235.80,183.00 C235.63,183.78 235.91,185.28 236.30,186.00 C236.69,186.72 238.91,188.72 239.30,189.50 C239.69,190.28 240.19,192.33 239.80,193.00 C239.41,193.67 236.41,195.06 235.80,195.50 C235.19,195.94 231.91,196.83 234.30,197.00 C236.69,197.17 254.91,197.17 257.30,197.00Z" fill="#22a862" stroke="#1a8048" stroke-width="0.35"/>
<path d="M248.5,192.2h.8v.8h-.8zM250.1,182.0h.8v.8h-.8zM245.9,172.2h.8v.8h-.8zM240.5,194.0h.8v.8h-.8zM252.0,183.2h.8v.8h-.8zM243.0,173.8h.8v.8h-.8zM249.1,194.7h.8v.8h-.8zM246.3,179.1h.8v.8h-.8zM243.3,190.2h.8v.8h-.8zM245.7,168.4h.8v.8h-.8zM243.0,171.9h.8v.8h-.8zM251.0,177.1h.8v.8h-.8zM251.8,187.9h.8v.8h-.8zM249.1,184.5h.8v.8h-.8zM242.1,177.2h.8v.8h-.8zM244.7,174.5h.8v.8h-.8zM244.2,179.1h.8v.8h-.8zM242.4,188.2h.8v.8h-.8zM253.4,184.2h.8v.8h-.8zM241.2,188.1h.8v.8h-.8zM241.6,184.5h.8v.8h-.8zM246.0,183.5h.8v.8h-.8zM241.5,185.2h.8v.8h-.8zM245.0,164.9h.8v.8h-.8zM247.8,174.1h.8v.8h-.8zM240.7,184.8h.8v.8h-.8zM250.1,184.9h.8v.8h-.8zM243.4,174.9h.8v.8h-.8zM242.0,195.1h.8v.8h-.8zM249.9,190.9h.8v.8h-.8zM246.9,168.3h.8v.8h-.8zM252.2,181.1h.8v.8h-.8zM240.0,194.2h.8v.8h-.8zM245.5,164.9h.8v.8h-.8zM246.6,173.4h.8v.8h-.8zM247.5,171.1h.8v.8h-.8zM252.8,183.7h.8v.8h-.8zM250.2,176.1h.8v.8h-.8zM245.3,182.4h.8v.8h-.8zM239.1,185.5h.8v.8h-.8zM244.7,168.6h.8v.8h-.8zM240.8,185.2h.8v.8h-.8zM247.1,178.9h.8v.8h-.8zM245.3,165.3h.8v.8h-.8zM246.5,165.0h.8v.8h-.8zM249.2,180.7h.8v.8h-.8zM246.3,166.5h.8v.8h-.8zM243.0,173.2h.8v.8h-.8zM250.6,184.6h.8v.8h-.8zM248.5,188.8h.8v.8h-.8zM241.0,191.3h.8v.8h-.8zM241.5,192.7h.8v.8h-.8zM241.7,177.8h.8v.8h-.8zM240.6,186.7h.8v.8h-.8zM246.9,167.0h.8v.8h-.8zM244.4,182.4h.8v.8h-.8z" fill="#1a8048" opacity="0.85"/>
<line x1="270.2" y1="198.6" x2="270.2" y2="201.2" stroke="#3a3a3a" stroke-width="0.7"/>
<path d="M270.9,181.5h0.8v0.8h-0.8zM266.3,161.7h0.8v0.8h-0.8zM277.7,171.8h0.8v0.8h-0.8zM264.9,177.6h0.8v0.8h-0.8zM274.7,164.0h0.8v0.8h-0.8zM271.6,191.7h0.8v0.8h-0.8zM257.3,173.7h0.8v0.8h-0.8zM272.7,190.6h0.8v0.8h-0.8zM280.9,176.5h0.8v0.8h-0.8zM281.7,172.1h0.8v0.8h-0.8zM272.5,163.5h0.8v0.8h-0.8zM277.0,162.8h0.8v0.8h-0.8zM280.0,168.4h0.8v0.8h-0.8zM283.0,193.0h0.8v0.8h-0.8zM268.5,177.9h0.8v0.8h-0.8zM271.2,169.4h0.8v0.8h-0.8zM283.4,177.4h0.8v0.8h-0.8zM263.5,162.1h0.8v0.8h-0.8zM269.0,191.7h0.8v0.8h-0.8zM269.0,190.2h0.8v0.8h-0.8zM282.8,192.6h0.8v0.8h-0.8zM271.0,163.9h0.8v0.8h-0.8zM282.2,173.0h0.8v0.8h-0.8zM279.6,179.5h0.8v0.8h-0.8zM272.4,171.9h0.8v0.8h-0.8zM276.0,162.4h0.8v0.8h-0.8zM275.3,196.1h0.8v0.8h-0.8zM270.0,183.2h0.8v0.8h-0.8zM269.6,161.5h0.8v0.8h-0.8zM269.6,195.4h0.8v0.8h-0.8zM277.2,194.9h0.8v0.8h-0.8zM265.1,182.7h0.8v0.8h-0.8z" fill="#8e8e8e"/>
<path d="M281.70,197.00 C283.87,196.78 279.03,195.50 278.20,195.00 C277.37,194.50 274.31,193.17 274.20,192.50 C274.09,191.83 276.64,189.78 277.20,189.00 C277.76,188.22 278.98,186.28 279.20,185.50 C279.42,184.72 279.42,182.78 279.20,182.00 C278.98,181.22 277.76,179.39 277.20,178.50 C276.64,177.61 274.76,174.94 274.20,174.00 C273.64,173.06 272.54,171.00 272.20,170.00 C271.86,169.00 271.27,166.11 271.10,165.00 C270.93,163.89 270.78,160.96 270.70,160.00 C270.62,159.04 270.48,156.80 270.40,156.40 C270.32,156.00 270.08,156.00 270.00,156.40 C269.92,156.80 269.78,159.04 269.70,160.00 C269.62,160.96 269.47,163.89 269.30,165.00 C269.13,166.11 268.54,169.00 268.20,170.00 C267.86,171.00 266.76,173.06 266.20,174.00 C265.64,174.94 263.76,177.61 263.20,178.50 C262.64,179.39 261.42,181.22 261.20,182.00 C260.98,182.78 260.98,184.72 261.20,185.50 C261.42,186.28 262.64,188.22 263.20,189.00 C263.76,189.78 266.31,191.83 266.20,192.50 C266.09,193.17 263.03,194.50 262.20,195.00 C261.37,195.50 256.53,196.78 258.70,197.00 C260.87,197.22 279.53,197.22 281.70,197.00Z" fill="#2f9ad8" stroke="#2070a8" stroke-width="0.35"/>
<path d="M273.2,183.1h.8v.8h-.8zM270.1,163.7h.8v.8h-.8zM271.4,168.0h.8v.8h-.8zM269.7,163.8h.8v.8h-.8zM274.9,180.2h.8v.8h-.8zM267.9,182.7h.8v.8h-.8zM269.3,196.0h.8v.8h-.8zM269.5,168.5h.8v.8h-.8zM267.6,175.5h.8v.8h-.8zM269.8,169.4h.8v.8h-.8zM271.5,186.3h.8v.8h-.8zM269.2,175.4h.8v.8h-.8zM269.2,192.6h.8v.8h-.8zM270.6,178.0h.8v.8h-.8zM270.2,158.8h.8v.8h-.8zM273.5,180.3h.8v.8h-.8zM270.4,166.9h.8v.8h-.8zM268.7,171.1h.8v.8h-.8zM269.1,189.6h.8v.8h-.8zM272.0,195.9h.8v.8h-.8zM266.4,190.7h.8v.8h-.8zM270.6,171.4h.8v.8h-.8zM270.6,161.9h.8v.8h-.8zM272.4,177.7h.8v.8h-.8zM266.6,176.4h.8v.8h-.8zM267.9,192.7h.8v.8h-.8zM270.3,158.9h.8v.8h-.8zM270.8,166.3h.8v.8h-.8zM264.1,179.9h.8v.8h-.8zM264.1,187.7h.8v.8h-.8zM275.1,188.0h.8v.8h-.8zM270.2,160.2h.8v.8h-.8zM269.8,168.4h.8v.8h-.8zM270.2,166.4h.8v.8h-.8zM267.2,174.1h.8v.8h-.8zM269.6,188.8h.8v.8h-.8zM270.0,162.2h.8v.8h-.8zM270.4,166.8h.8v.8h-.8zM268.1,189.1h.8v.8h-.8zM273.7,183.0h.8v.8h-.8zM271.0,166.7h.8v.8h-.8zM270.2,165.1h.8v.8h-.8zM268.4,174.6h.8v.8h-.8zM269.0,173.9h.8v.8h-.8zM269.9,162.9h.8v.8h-.8zM271.6,169.0h.8v.8h-.8zM272.5,181.4h.8v.8h-.8zM274.0,178.7h.8v.8h-.8zM270.2,171.2h.8v.8h-.8zM271.0,167.4h.8v.8h-.8zM273.0,174.8h.8v.8h-.8zM274.4,176.6h.8v.8h-.8zM270.3,164.4h.8v.8h-.8zM274.7,190.2h.8v.8h-.8zM270.7,165.1h.8v.8h-.8zM271.4,171.5h.8v.8h-.8zM275.3,178.5h.8v.8h-.8zM268.3,184.7h.8v.8h-.8zM270.5,162.9h.8v.8h-.8zM273.0,173.2h.8v.8h-.8zM269.5,165.4h.8v.8h-.8zM270.8,164.4h.8v.8h-.8zM264.7,189.1h.8v.8h-.8zM273.7,186.8h.8v.8h-.8z" fill="#2070a8" opacity="0.85"/>
<line x1="294.6" y1="198.6" x2="294.6" y2="201.2" stroke="#3a3a3a" stroke-width="0.7"/>
<path d="M282.8,173.5h0.8v0.8h-0.8zM286.7,179.9h0.8v0.8h-0.8zM293.0,194.8h0.8v0.8h-0.8zM294.5,189.1h0.8v0.8h-0.8zM296.1,180.8h0.8v0.8h-0.8zM300.7,171.2h0.8v0.8h-0.8zM294.9,189.6h0.8v0.8h-0.8zM283.5,182.6h0.8v0.8h-0.8zM299.1,187.2h0.8v0.8h-0.8zM306.5,189.0h0.8v0.8h-0.8zM296.7,173.4h0.8v0.8h-0.8zM288.0,189.7h0.8v0.8h-0.8zM282.6,176.0h0.8v0.8h-0.8zM293.9,184.0h0.8v0.8h-0.8zM295.4,187.2h0.8v0.8h-0.8zM307.2,176.9h0.8v0.8h-0.8zM289.7,177.8h0.8v0.8h-0.8zM292.6,193.6h0.8v0.8h-0.8zM289.2,172.4h0.8v0.8h-0.8zM295.1,187.5h0.8v0.8h-0.8zM298.2,189.1h0.8v0.8h-0.8zM300.4,184.2h0.8v0.8h-0.8zM305.0,190.2h0.8v0.8h-0.8zM293.1,177.7h0.8v0.8h-0.8z" fill="#8e8e8e"/>
<path d="M305.10,197.00 C306.99,196.78 301.91,195.50 301.10,195.00 C300.29,194.50 297.86,193.17 297.80,192.50 C297.74,191.83 300.12,189.78 300.60,189.00 C301.08,188.22 301.99,186.28 302.10,185.50 C302.21,184.72 301.88,182.83 301.60,182.00 C301.32,181.17 300.04,178.89 299.60,178.00 C299.16,177.11 297.99,174.89 297.60,174.00 C297.21,173.11 296.41,170.80 296.10,170.00 C295.79,169.20 294.99,167.16 294.80,166.80 C294.61,166.44 294.59,166.44 294.40,166.80 C294.21,167.16 293.41,169.20 293.10,170.00 C292.79,170.80 291.99,173.11 291.60,174.00 C291.21,174.89 290.04,177.11 289.60,178.00 C289.16,178.89 287.88,181.17 287.60,182.00 C287.32,182.83 286.99,184.72 287.10,185.50 C287.21,186.28 288.12,188.22 288.60,189.00 C289.08,189.78 291.46,191.83 291.40,192.50 C291.34,193.17 288.91,194.50 288.10,195.00 C287.29,195.50 282.21,196.78 284.10,197.00 C285.99,197.22 303.21,197.22 305.10,197.00Z" fill="#c463b4" stroke="#9a4890" stroke-width="0.35"/>
<path d="M295.0,170.5h.8v.8h-.8zM295.4,169.0h.8v.8h-.8zM294.1,179.7h.8v.8h-.8zM293.9,178.4h.8v.8h-.8zM294.9,171.6h.8v.8h-.8zM292.1,190.7h.8v.8h-.8zM292.1,189.6h.8v.8h-.8zM294.3,174.3h.8v.8h-.8zM293.3,192.4h.8v.8h-.8zM292.5,191.2h.8v.8h-.8zM294.1,180.2h.8v.8h-.8zM292.5,176.5h.8v.8h-.8zM294.3,172.3h.8v.8h-.8zM295.3,172.3h.8v.8h-.8zM293.4,193.8h.8v.8h-.8zM297.0,180.1h.8v.8h-.8zM291.4,190.8h.8v.8h-.8zM298.9,187.3h.8v.8h-.8zM294.7,183.6h.8v.8h-.8zM299.8,187.2h.8v.8h-.8zM294.9,181.8h.8v.8h-.8zM294.5,169.6h.8v.8h-.8zM293.0,175.1h.8v.8h-.8zM297.3,192.8h.8v.8h-.8zM296.3,178.2h.8v.8h-.8zM297.8,177.8h.8v.8h-.8zM291.6,178.2h.8v.8h-.8zM293.3,171.3h.8v.8h-.8zM292.3,187.4h.8v.8h-.8zM293.6,177.3h.8v.8h-.8zM293.6,171.4h.8v.8h-.8zM297.0,186.7h.8v.8h-.8zM292.3,193.2h.8v.8h-.8zM293.3,183.9h.8v.8h-.8zM292.1,179.0h.8v.8h-.8zM295.8,187.1h.8v.8h-.8zM292.5,179.7h.8v.8h-.8zM293.4,171.5h.8v.8h-.8zM292.3,196.3h.8v.8h-.8zM299.4,186.5h.8v.8h-.8zM298.3,179.1h.8v.8h-.8zM291.7,181.6h.8v.8h-.8zM294.2,195.2h.8v.8h-.8zM295.8,177.8h.8v.8h-.8zM296.3,172.9h.8v.8h-.8zM297.8,193.5h.8v.8h-.8zM296.4,192.8h.8v.8h-.8zM293.3,173.8h.8v.8h-.8z" fill="#9a4890" opacity="0.85"/>
<line x1="183" y1="212.3" x2="183" y2="257.2" stroke="#262626" stroke-width="1.2"/>
<line x1="182.5" y1="256.7" x2="309" y2="256.7" stroke="#262626" stroke-width="1.2"/>
<line x1="180.8" y1="255" x2="183" y2="255" stroke="#3a3a3a" stroke-width="0.7"/>
<text x="178" y="257.3" font-size="7.15" text-anchor="end" fill="#262626" stroke="#262626" stroke-width="0.2">0</text>
<line x1="180.8" y1="239" x2="183" y2="239" stroke="#3a3a3a" stroke-width="0.7"/>
<text x="178" y="241.3" font-size="7.15" text-anchor="end" fill="#262626" stroke="#262626" stroke-width="0.2">1</text>
<line x1="180.8" y1="223" x2="183" y2="223" stroke="#3a3a3a" stroke-width="0.7"/>
<text x="178" y="225.3" font-size="7.15" text-anchor="end" fill="#262626" stroke="#262626" stroke-width="0.2">2</text>
<text x="0" y="0" transform="translate(167.7,234.5) rotate(-90)" font-size="7.15" text-anchor="middle" textLength="46.5" lengthAdjust="spacingAndGlyphs" fill="#262626" stroke="#262626" stroke-width="0.2">Expression level</text>
<text x="246.2" y="212.0" font-size="7.04" text-anchor="middle" fill="#262626" stroke="#262626" stroke-width="0.2">Gata2</text>
<text x="273.5" y="215.6" font-size="7.04" textLength="41.5" lengthAdjust="spacingAndGlyphs" fill="#262626" stroke="#262626" stroke-width="0.2">padj = 5.0E-22</text>
<line x1="197.4" y1="257.3" x2="197.4" y2="259.9" stroke="#3a3a3a" stroke-width="0.7"/>
<path d="M194.6,254.5h0.8v0.8h-0.8zM202.9,228.0h0.8v0.8h-0.8zM199.0,230.8h0.8v0.8h-0.8zM185.1,250.0h0.8v0.8h-0.8zM210.5,241.3h0.8v0.8h-0.8zM201.2,230.2h0.8v0.8h-0.8zM186.3,234.6h0.8v0.8h-0.8zM185.8,248.5h0.8v0.8h-0.8zM188.2,239.7h0.8v0.8h-0.8zM185.3,231.9h0.8v0.8h-0.8zM193.1,240.9h0.8v0.8h-0.8zM191.9,242.1h0.8v0.8h-0.8zM200.2,230.9h0.8v0.8h-0.8zM199.0,229.2h0.8v0.8h-0.8zM201.6,249.6h0.8v0.8h-0.8zM209.2,251.5h0.8v0.8h-0.8zM199.8,253.4h0.8v0.8h-0.8zM202.8,245.3h0.8v0.8h-0.8zM185.4,227.5h0.8v0.8h-0.8zM190.8,252.0h0.8v0.8h-0.8z" fill="#8e8e8e"/>
<path d="M204.90,255.50 C206.57,255.28 204.79,254.11 204.90,253.50 C205.01,252.89 205.57,250.72 205.90,250.00 C206.23,249.28 207.57,247.67 207.90,247.00 C208.23,246.33 209.01,244.78 208.90,244.00 C208.79,243.22 207.57,240.89 206.90,240.00 C206.23,239.11 203.62,236.89 202.90,236.00 C202.18,235.11 200.83,232.89 200.40,232.00 C199.97,231.11 199.24,228.78 199.00,228.00 C198.76,227.22 198.36,225.63 198.20,225.00 C198.04,224.37 197.71,222.60 197.60,222.30 C197.49,222.00 197.31,222.00 197.20,222.30 C197.09,222.60 196.76,224.37 196.60,225.00 C196.44,225.63 196.04,227.22 195.80,228.00 C195.56,228.78 194.83,231.11 194.40,232.00 C193.97,232.89 192.62,235.11 191.90,236.00 C191.18,236.89 188.57,239.11 187.90,240.00 C187.23,240.89 186.01,243.22 185.90,244.00 C185.79,244.78 186.57,246.33 186.90,247.00 C187.23,247.67 188.57,249.28 188.90,250.00 C189.23,250.72 189.79,252.89 189.90,253.50 C190.01,254.11 188.23,255.28 189.90,255.50 C191.57,255.72 203.23,255.72 204.90,255.50Z" fill="#f06a68" stroke="#c85050" stroke-width="0.35"/>
<path d="M201.5,251.9h.8v.8h-.8zM193.2,239.2h.8v.8h-.8zM201.2,235.8h.8v.8h-.8zM199.1,231.6h.8v.8h-.8zM198.1,243.1h.8v.8h-.8zM196.3,232.2h.8v.8h-.8zM198.9,232.0h.8v.8h-.8zM197.2,225.4h.8v.8h-.8zM193.3,244.4h.8v.8h-.8zM199.2,229.7h.8v.8h-.8zM200.6,233.7h.8v.8h-.8zM201.0,241.7h.8v.8h-.8zM197.8,236.2h.8v.8h-.8zM200.8,237.2h.8v.8h-.8zM197.2,227.7h.8v.8h-.8zM204.5,244.6h.8v.8h-.8zM198.3,226.6h.8v.8h-.8zM197.0,227.5h.8v.8h-.8zM194.6,236.3h.8v.8h-.8zM192.0,251.0h.8v.8h-.8zM197.1,235.5h.8v.8h-.8zM190.1,247.7h.8v.8h-.8zM203.7,242.4h.8v.8h-.8zM197.3,224.4h.8v.8h-.8zM192.7,253.5h.8v.8h-.8zM197.9,233.5h.8v.8h-.8zM198.3,246.8h.8v.8h-.8zM198.7,230.4h.8v.8h-.8zM191.2,246.9h.8v.8h-.8zM193.4,235.9h.8v.8h-.8zM201.1,253.4h.8v.8h-.8zM197.3,243.5h.8v.8h-.8zM197.1,225.8h.8v.8h-.8zM197.8,231.7h.8v.8h-.8zM199.8,247.2h.8v.8h-.8zM197.9,244.3h.8v.8h-.8zM198.4,236.7h.8v.8h-.8zM202.1,241.0h.8v.8h-.8zM201.9,251.1h.8v.8h-.8zM200.0,239.2h.8v.8h-.8z" fill="#c85050" opacity="0.85"/>
<line x1="221.5" y1="257.3" x2="221.5" y2="259.9" stroke="#3a3a3a" stroke-width="0.7"/>
<path d="M222.3,239.0h0.8v0.8h-0.8zM220.1,228.4h0.8v0.8h-0.8zM217.2,249.4h0.8v0.8h-0.8zM225.6,244.8h0.8v0.8h-0.8zM222.9,248.6h0.8v0.8h-0.8zM233.6,253.4h0.8v0.8h-0.8zM225.4,239.6h0.8v0.8h-0.8zM217.9,221.1h0.8v0.8h-0.8zM209.9,246.1h0.8v0.8h-0.8zM233.0,221.4h0.8v0.8h-0.8zM212.5,225.8h0.8v0.8h-0.8zM232.2,228.0h0.8v0.8h-0.8zM228.4,220.6h0.8v0.8h-0.8zM234.9,233.9h0.8v0.8h-0.8zM226.9,244.2h0.8v0.8h-0.8zM216.7,234.7h0.8v0.8h-0.8zM231.1,230.2h0.8v0.8h-0.8zM226.0,219.9h0.8v0.8h-0.8zM210.6,236.5h0.8v0.8h-0.8zM231.8,225.8h0.8v0.8h-0.8z" fill="#8e8e8e"/>
<path d="M233.00,255.50 C235.28,255.28 231.22,254.11 230.50,253.50 C229.78,252.89 226.72,250.83 226.50,250.00 C226.28,249.17 228.06,246.83 228.50,246.00 C228.94,245.17 230.50,243.39 230.50,242.50 C230.50,241.61 229.06,238.94 228.50,238.00 C227.94,237.06 226.08,234.89 225.50,234.00 C224.92,233.11 223.67,230.89 223.30,230.00 C222.93,229.11 222.36,227.11 222.20,226.00 C222.04,224.89 221.91,221.36 221.85,220.00 C221.79,218.64 221.71,214.49 221.65,213.80 C221.59,213.11 221.41,213.11 221.35,213.80 C221.29,214.49 221.21,218.64 221.15,220.00 C221.09,221.36 220.96,224.89 220.80,226.00 C220.64,227.11 220.07,229.11 219.70,230.00 C219.33,230.89 218.08,233.11 217.50,234.00 C216.92,234.89 215.06,237.06 214.50,238.00 C213.94,238.94 212.50,241.61 212.50,242.50 C212.50,243.39 214.06,245.17 214.50,246.00 C214.94,246.83 216.72,249.17 216.50,250.00 C216.28,250.83 213.22,252.89 212.50,253.50 C211.78,254.11 207.72,255.28 210.00,255.50 C212.28,255.72 230.72,255.72 233.00,255.50Z" fill="#aeae26" stroke="#8a8a18" stroke-width="0.35"/>
<path d="M221.7,222.1h.8v.8h-.8zM221.7,224.9h.8v.8h-.8zM220.3,231.1h.8v.8h-.8zM219.8,236.8h.8v.8h-.8zM226.5,245.6h.8v.8h-.8zM221.7,231.3h.8v.8h-.8zM221.0,230.9h.8v.8h-.8zM223.0,254.3h.8v.8h-.8zM223.9,237.3h.8v.8h-.8zM218.5,243.9h.8v.8h-.8zM223.7,233.3h.8v.8h-.8zM223.1,249.8h.8v.8h-.8zM221.6,215.8h.8v.8h-.8zM226.1,237.7h.8v.8h-.8zM221.6,221.2h.8v.8h-.8zM219.2,249.5h.8v.8h-.8zM219.5,231.7h.8v.8h-.8zM214.8,243.3h.8v.8h-.8zM221.4,234.9h.8v.8h-.8zM221.8,223.0h.8v.8h-.8zM218.1,253.1h.8v.8h-.8zM217.0,239.8h.8v.8h-.8zM221.4,218.8h.8v.8h-.8zM221.4,221.3h.8v.8h-.8zM219.6,232.0h.8v.8h-.8zM223.7,239.9h.8v.8h-.8zM223.3,238.6h.8v.8h-.8zM221.5,226.7h.8v.8h-.8zM223.0,230.4h.8v.8h-.8zM220.3,239.4h.8v.8h-.8zM222.0,226.5h.8v.8h-.8zM217.1,236.7h.8v.8h-.8zM222.1,231.3h.8v.8h-.8zM220.1,245.6h.8v.8h-.8zM216.5,238.6h.8v.8h-.8zM219.0,233.1h.8v.8h-.8zM221.7,227.7h.8v.8h-.8zM221.7,220.3h.8v.8h-.8zM218.5,239.5h.8v.8h-.8zM216.3,252.7h.8v.8h-.8z" fill="#8a8a18" opacity="0.85"/>
<line x1="246.4" y1="257.3" x2="246.4" y2="259.9" stroke="#3a3a3a" stroke-width="0.7"/>
<path d="M248.9,232.5h0.8v0.8h-0.8zM240.0,229.9h0.8v0.8h-0.8zM252.3,243.4h0.8v0.8h-0.8zM237.4,232.1h0.8v0.8h-0.8zM255.3,233.0h0.8v0.8h-0.8zM244.4,245.8h0.8v0.8h-0.8zM245.5,235.7h0.8v0.8h-0.8zM243.7,222.9h0.8v0.8h-0.8zM245.6,254.2h0.8v0.8h-0.8zM248.6,252.0h0.8v0.8h-0.8zM254.0,233.5h0.8v0.8h-0.8zM248.7,229.0h0.8v0.8h-0.8zM235.6,229.6h0.8v0.8h-0.8zM252.3,248.1h0.8v0.8h-0.8zM255.3,227.8h0.8v0.8h-0.8zM240.1,234.1h0.8v0.8h-0.8zM239.3,231.0h0.8v0.8h-0.8zM253.7,246.5h0.8v0.8h-0.8zM257.0,223.6h0.8v0.8h-0.8zM244.8,225.8h0.8v0.8h-0.8zM254.3,228.7h0.8v0.8h-0.8zM238.8,225.0h0.8v0.8h-0.8zM250.4,250.0h0.8v0.8h-0.8zM248.8,242.8h0.8v0.8h-0.8zM240.4,235.5h0.8v0.8h-0.8zM248.8,247.1h0.8v0.8h-0.8zM250.4,229.7h0.8v0.8h-0.8zM243.8,232.5h0.8v0.8h-0.8zM244.2,247.7h0.8v0.8h-0.8zM244.2,239.6h0.8v0.8h-0.8zM248.7,240.6h0.8v0.8h-0.8zM239.7,251.0h0.8v0.8h-0.8zM241.4,235.0h0.8v0.8h-0.8zM237.2,249.9h0.8v0.8h-0.8zM250.4,228.1h0.8v0.8h-0.8z" fill="#8e8e8e"/>
<rect x="234.4" y="254.0" width="24" height="1.4" fill="#a0a0a0"/><line x1="246.4" y1="255.0" x2="246.4" y2="220.8" stroke="#7a7a7a" stroke-width="0.6"/>
<line x1="270.8" y1="257.3" x2="270.8" y2="259.9" stroke="#3a3a3a" stroke-width="0.7"/>
<path d="M274.6,246.6h0.8v0.8h-0.8zM267.0,227.4h0.8v0.8h-0.8zM281.0,251.6h0.8v0.8h-0.8zM272.4,251.1h0.8v0.8h-0.8zM271.8,222.9h0.8v0.8h-0.8zM277.4,243.5h0.8v0.8h-0.8zM277.4,246.2h0.8v0.8h-0.8zM263.7,239.0h0.8v0.8h-0.8zM275.9,250.7h0.8v0.8h-0.8zM281.9,222.9h0.8v0.8h-0.8zM264.9,233.5h0.8v0.8h-0.8zM279.5,229.1h0.8v0.8h-0.8zM269.5,225.0h0.8v0.8h-0.8zM282.6,245.9h0.8v0.8h-0.8zM278.0,252.7h0.8v0.8h-0.8zM265.7,243.2h0.8v0.8h-0.8zM282.1,254.2h0.8v0.8h-0.8zM282.7,230.6h0.8v0.8h-0.8zM278.7,238.6h0.8v0.8h-0.8zM278.7,234.3h0.8v0.8h-0.8zM282.2,251.2h0.8v0.8h-0.8zM265.6,247.6h0.8v0.8h-0.8zM258.4,237.7h0.8v0.8h-0.8zM263.6,224.6h0.8v0.8h-0.8zM277.9,238.8h0.8v0.8h-0.8zM273.5,249.4h0.8v0.8h-0.8zM264.2,229.5h0.8v0.8h-0.8zM282.4,231.7h0.8v0.8h-0.8zM279.7,234.3h0.8v0.8h-0.8zM266.1,235.3h0.8v0.8h-0.8zM275.3,234.0h0.8v0.8h-0.8zM259.3,240.2h0.8v0.8h-0.8zM266.5,230.9h0.8v0.8h-0.8zM280.9,253.9h0.8v0.8h-0.8zM273.9,247.7h0.8v0.8h-0.8zM271.9,242.4h0.8v0.8h-0.8zM275.4,250.3h0.8v0.8h-0.8zM282.3,246.2h0.8v0.8h-0.8zM283.1,233.3h0.8v0.8h-0.8zM283.1,241.0h0.8v0.8h-0.8zM271.0,248.4h0.8v0.8h-0.8z" fill="#8e8e8e"/>
<rect x="258.8" y="254.0" width="24" height="1.4" fill="#a0a0a0"/><line x1="270.8" y1="255.0" x2="270.8" y2="220.8" stroke="#7a7a7a" stroke-width="0.6"/>
<line x1="295.1" y1="257.3" x2="295.1" y2="259.9" stroke="#3a3a3a" stroke-width="0.7"/>
<path d="M307.1,240.4h0.8v0.8h-0.8zM306.0,249.8h0.8v0.8h-0.8zM300.9,232.6h0.8v0.8h-0.8zM293.0,244.5h0.8v0.8h-0.8zM290.7,241.1h0.8v0.8h-0.8zM293.4,230.3h0.8v0.8h-0.8zM284.8,242.9h0.8v0.8h-0.8zM288.0,235.4h0.8v0.8h-0.8zM304.0,231.0h0.8v0.8h-0.8zM300.6,251.0h0.8v0.8h-0.8zM301.5,242.8h0.8v0.8h-0.8zM297.1,244.9h0.8v0.8h-0.8zM301.5,237.9h0.8v0.8h-0.8zM298.6,232.8h0.8v0.8h-0.8zM300.8,236.3h0.8v0.8h-0.8zM286.0,229.9h0.8v0.8h-0.8zM294.2,229.6h0.8v0.8h-0.8zM290.7,241.9h0.8v0.8h-0.8zM295.4,226.5h0.8v0.8h-0.8zM286.8,232.1h0.8v0.8h-0.8zM295.7,234.2h0.8v0.8h-0.8zM293.1,230.8h0.8v0.8h-0.8zM301.6,249.3h0.8v0.8h-0.8zM302.9,241.3h0.8v0.8h-0.8zM288.7,248.6h0.8v0.8h-0.8zM303.4,226.0h0.8v0.8h-0.8zM286.6,246.7h0.8v0.8h-0.8zM290.5,252.5h0.8v0.8h-0.8zM285.4,227.5h0.8v0.8h-0.8zM296.0,229.8h0.8v0.8h-0.8zM299.6,251.7h0.8v0.8h-0.8zM293.5,243.1h0.8v0.8h-0.8zM293.3,223.5h0.8v0.8h-0.8zM303.1,228.5h0.8v0.8h-0.8zM291.2,224.9h0.8v0.8h-0.8zM294.7,247.5h0.8v0.8h-0.8zM303.6,231.0h0.8v0.8h-0.8zM304.0,239.4h0.8v0.8h-0.8z" fill="#8e8e8e"/>
<rect x="283.1" y="254.0" width="24" height="1.4" fill="#a0a0a0"/><line x1="295.1" y1="255.0" x2="295.1" y2="220.8" stroke="#7a7a7a" stroke-width="0.6"/>
<line x1="183" y1="270" x2="183" y2="317.2" stroke="#262626" stroke-width="1.2"/>
<line x1="182.5" y1="316.7" x2="309" y2="316.7" stroke="#262626" stroke-width="1.2"/>
<line x1="180.8" y1="315" x2="183" y2="315" stroke="#3a3a3a" stroke-width="0.7"/>
<text x="178" y="317.3" font-size="7.15" text-anchor="end" fill="#262626" stroke="#262626" stroke-width="0.2">0</text>
<line x1="180.8" y1="301" x2="183" y2="301" stroke="#3a3a3a" stroke-width="0.7"/>
<text x="178" y="303.3" font-size="7.15" text-anchor="end" fill="#262626" stroke="#262626" stroke-width="0.2">1</text>
<line x1="180.8" y1="286.5" x2="183" y2="286.5" stroke="#3a3a3a" stroke-width="0.7"/>
<text x="178" y="288.8" font-size="7.15" text-anchor="end" fill="#262626" stroke="#262626" stroke-width="0.2">2</text>
<line x1="180.8" y1="272" x2="183" y2="272" stroke="#3a3a3a" stroke-width="0.7"/>
<text x="178" y="274.3" font-size="7.15" text-anchor="end" fill="#262626" stroke="#262626" stroke-width="0.2">3</text>
<text x="0" y="0" transform="translate(167.7,293.35) rotate(-90)" font-size="7.15" text-anchor="middle" textLength="46.5" lengthAdjust="spacingAndGlyphs" fill="#262626" stroke="#262626" stroke-width="0.2">Expression level</text>
<text x="246.2" y="270.7" font-size="7.04" text-anchor="middle" fill="#262626" stroke="#262626" stroke-width="0.2">Hoxa9</text>
<text x="273.5" y="270.4" font-size="7.04" textLength="41.5" lengthAdjust="spacingAndGlyphs" fill="#262626" stroke="#262626" stroke-width="0.2">padj = 3.5E-11</text>
<line x1="197.4" y1="317.3" x2="197.4" y2="319.9" stroke="#3a3a3a" stroke-width="0.7"/>
<path d="M206.8,303.0h0.8v0.8h-0.8zM186.0,307.4h0.8v0.8h-0.8zM192.0,307.1h0.8v0.8h-0.8zM201.3,298.9h0.8v0.8h-0.8zM206.7,305.3h0.8v0.8h-0.8zM191.8,308.6h0.8v0.8h-0.8zM207.6,306.1h0.8v0.8h-0.8zM190.8,308.6h0.8v0.8h-0.8zM195.6,313.3h0.8v0.8h-0.8zM188.9,307.0h0.8v0.8h-0.8zM204.2,297.3h0.8v0.8h-0.8zM203.9,307.4h0.8v0.8h-0.8zM200.2,310.1h0.8v0.8h-0.8zM185.1,299.5h0.8v0.8h-0.8zM192.4,312.9h0.8v0.8h-0.8zM204.2,305.6h0.8v0.8h-0.8zM192.6,303.1h0.8v0.8h-0.8zM195.8,304.6h0.8v0.8h-0.8zM208.8,302.1h0.8v0.8h-0.8zM185.8,308.1h0.8v0.8h-0.8z" fill="#8e8e8e"/>
<path d="M206.40,315.50 C208.40,315.17 206.23,313.44 206.40,312.50 C206.57,311.56 207.68,308.22 207.90,307.00 C208.12,305.78 208.68,302.56 208.40,301.50 C208.12,300.44 206.18,298.33 205.40,297.50 C204.62,296.67 202.23,294.58 201.40,294.00 C200.57,293.42 198.40,292.49 197.90,292.30 C197.40,292.11 197.40,292.11 196.90,292.30 C196.40,292.49 194.23,293.42 193.40,294.00 C192.57,294.58 190.18,296.67 189.40,297.50 C188.62,298.33 186.68,300.44 186.40,301.50 C186.12,302.56 186.68,305.78 186.90,307.00 C187.12,308.22 188.23,311.56 188.40,312.50 C188.57,313.44 186.40,315.17 188.40,315.50 C190.40,315.83 204.40,315.83 206.40,315.50Z" fill="#f06a68" stroke="#c85050" stroke-width="0.35"/>
<path d="M189.8,310.4h.8v.8h-.8zM204.9,300.7h.8v.8h-.8zM199.7,310.0h.8v.8h-.8zM203.5,309.4h.8v.8h-.8zM191.9,312.0h.8v.8h-.8zM194.2,298.1h.8v.8h-.8zM197.6,302.6h.8v.8h-.8zM202.6,300.7h.8v.8h-.8zM198.9,302.2h.8v.8h-.8zM193.4,312.9h.8v.8h-.8zM196.4,302.4h.8v.8h-.8zM190.6,314.1h.8v.8h-.8zM198.8,306.2h.8v.8h-.8zM194.1,302.0h.8v.8h-.8zM199.0,301.9h.8v.8h-.8zM192.4,303.7h.8v.8h-.8zM198.0,306.7h.8v.8h-.8zM191.9,307.2h.8v.8h-.8zM200.5,295.5h.8v.8h-.8zM200.4,295.4h.8v.8h-.8zM200.8,302.8h.8v.8h-.8zM196.0,303.0h.8v.8h-.8zM193.8,294.6h.8v.8h-.8zM200.2,299.5h.8v.8h-.8zM202.7,311.7h.8v.8h-.8zM196.2,299.3h.8v.8h-.8zM197.7,304.1h.8v.8h-.8zM196.6,303.2h.8v.8h-.8zM189.3,301.5h.8v.8h-.8zM196.2,308.5h.8v.8h-.8zM204.2,311.5h.8v.8h-.8zM203.9,310.4h.8v.8h-.8zM193.1,299.4h.8v.8h-.8zM205.7,306.2h.8v.8h-.8zM199.8,300.2h.8v.8h-.8zM193.2,310.2h.8v.8h-.8zM201.1,295.7h.8v.8h-.8zM199.9,295.4h.8v.8h-.8zM189.7,305.5h.8v.8h-.8zM192.8,314.8h.8v.8h-.8z" fill="#c85050" opacity="0.85"/>
<line x1="221.5" y1="317.3" x2="221.5" y2="319.9" stroke="#3a3a3a" stroke-width="0.7"/>
<path d="M231.6,303.6h0.8v0.8h-0.8zM215.1,300.0h0.8v0.8h-0.8zM212.7,302.2h0.8v0.8h-0.8zM215.2,308.2h0.8v0.8h-0.8zM213.5,302.5h0.8v0.8h-0.8zM234.4,307.1h0.8v0.8h-0.8zM226.4,305.4h0.8v0.8h-0.8zM221.3,311.6h0.8v0.8h-0.8zM223.6,308.5h0.8v0.8h-0.8zM220.9,314.0h0.8v0.8h-0.8zM210.1,300.0h0.8v0.8h-0.8zM225.3,300.6h0.8v0.8h-0.8zM233.2,306.7h0.8v0.8h-0.8zM224.7,299.1h0.8v0.8h-0.8zM220.1,313.4h0.8v0.8h-0.8zM208.1,314.6h0.8v0.8h-0.8zM209.1,307.5h0.8v0.8h-0.8zM232.0,306.0h0.8v0.8h-0.8zM232.9,307.3h0.8v0.8h-0.8zM220.9,311.9h0.8v0.8h-0.8zM217.9,305.3h0.8v0.8h-0.8zM218.9,298.9h0.8v0.8h-0.8zM224.1,306.9h0.8v0.8h-0.8zM216.0,314.8h0.8v0.8h-0.8z" fill="#8e8e8e"/>
<path d="M232.00,315.50 C233.83,315.28 228.38,314.06 227.50,313.50 C226.62,312.94 224.52,311.11 224.10,310.50 C223.68,309.89 223.54,308.67 223.70,308.00 C223.86,307.33 225.28,305.22 225.50,304.50 C225.72,303.78 225.87,302.17 225.70,301.50 C225.53,300.83 224.36,299.11 224.00,298.50 C223.64,297.89 222.76,296.44 222.50,296.00 C222.24,295.56 221.83,294.67 221.70,294.50 C221.57,294.33 221.43,294.33 221.30,294.50 C221.17,294.67 220.76,295.56 220.50,296.00 C220.24,296.44 219.36,297.89 219.00,298.50 C218.64,299.11 217.47,300.83 217.30,301.50 C217.13,302.17 217.28,303.78 217.50,304.50 C217.72,305.22 219.14,307.33 219.30,308.00 C219.46,308.67 219.32,309.89 218.90,310.50 C218.48,311.11 216.38,312.94 215.50,313.50 C214.62,314.06 209.17,315.28 211.00,315.50 C212.83,315.72 230.17,315.72 232.00,315.50Z" fill="#aeae26" stroke="#8a8a18" stroke-width="0.35"/>
<path d="M222.2,306.9h.8v.8h-.8zM222.3,301.4h.8v.8h-.8zM220.3,308.0h.8v.8h-.8zM223.2,308.9h.8v.8h-.8zM219.8,307.7h.8v.8h-.8zM221.9,308.8h.8v.8h-.8zM222.1,311.1h.8v.8h-.8zM221.8,314.4h.8v.8h-.8zM220.9,301.0h.8v.8h-.8zM219.0,313.4h.8v.8h-.8zM221.0,297.3h.8v.8h-.8zM221.2,301.5h.8v.8h-.8zM223.2,311.3h.8v.8h-.8zM220.3,304.2h.8v.8h-.8zM221.1,302.3h.8v.8h-.8zM222.3,313.0h.8v.8h-.8zM219.2,306.4h.8v.8h-.8zM223.0,314.0h.8v.8h-.8zM217.5,314.2h.8v.8h-.8zM223.0,299.4h.8v.8h-.8zM221.3,302.9h.8v.8h-.8zM221.2,307.5h.8v.8h-.8zM220.6,306.6h.8v.8h-.8zM223.4,304.2h.8v.8h-.8zM220.4,298.5h.8v.8h-.8zM221.3,298.5h.8v.8h-.8zM220.2,306.1h.8v.8h-.8zM220.5,300.6h.8v.8h-.8zM220.5,310.7h.8v.8h-.8zM223.2,301.1h.8v.8h-.8zM219.0,306.2h.8v.8h-.8zM219.2,305.4h.8v.8h-.8zM223.1,310.5h.8v.8h-.8zM219.6,302.3h.8v.8h-.8zM223.0,299.9h.8v.8h-.8zM223.6,310.6h.8v.8h-.8zM224.1,302.0h.8v.8h-.8zM224.0,301.4h.8v.8h-.8zM222.4,297.5h.8v.8h-.8zM220.9,314.3h.8v.8h-.8zM220.4,303.0h.8v.8h-.8zM220.8,298.2h.8v.8h-.8zM223.0,308.5h.8v.8h-.8zM222.3,297.0h.8v.8h-.8zM219.1,304.9h.8v.8h-.8zM221.4,296.7h.8v.8h-.8zM222.7,304.2h.8v.8h-.8zM220.0,312.9h.8v.8h-.8z" fill="#8a8a18" opacity="0.85"/>
<line x1="246.10000000000002" y1="317.3" x2="246.10000000000002" y2="319.9" stroke="#3a3a3a" stroke-width="0.7"/>
<path d="M253.8,309.7h0.8v0.8h-0.8zM244.4,313.2h0.8v0.8h-0.8zM255.0,295.3h0.8v0.8h-0.8zM251.6,298.7h0.8v0.8h-0.8zM244.1,292.7h0.8v0.8h-0.8zM234.1,303.5h0.8v0.8h-0.8zM248.4,285.3h0.8v0.8h-0.8zM259.2,284.7h0.8v0.8h-0.8zM256.7,311.4h0.8v0.8h-0.8zM246.5,307.9h0.8v0.8h-0.8zM249.1,299.0h0.8v0.8h-0.8zM250.3,298.2h0.8v0.8h-0.8zM249.8,294.7h0.8v0.8h-0.8zM235.6,299.1h0.8v0.8h-0.8zM245.2,312.9h0.8v0.8h-0.8zM250.7,308.0h0.8v0.8h-0.8zM236.5,292.2h0.8v0.8h-0.8zM241.5,308.5h0.8v0.8h-0.8zM244.2,302.6h0.8v0.8h-0.8zM244.2,297.0h0.8v0.8h-0.8zM243.6,290.2h0.8v0.8h-0.8zM247.2,310.0h0.8v0.8h-0.8zM236.0,298.0h0.8v0.8h-0.8zM244.5,285.8h0.8v0.8h-0.8zM249.0,293.2h0.8v0.8h-0.8zM242.0,307.0h0.8v0.8h-0.8zM241.5,296.2h0.8v0.8h-0.8zM255.8,307.4h0.8v0.8h-0.8z" fill="#8e8e8e"/>
<path d="M254.10,315.50 C255.60,315.28 252.16,314.06 251.60,313.50 C251.04,312.94 248.88,311.22 249.10,310.50 C249.32,309.78 252.77,307.78 253.60,307.00 C254.43,306.22 256.43,304.39 256.60,303.50 C256.77,302.61 255.60,300.06 255.10,299.00 C254.60,297.94 252.82,295.11 252.10,294.00 C251.38,292.89 249.16,290.00 248.60,289.00 C248.04,288.00 247.34,286.11 247.10,285.00 C246.86,283.89 246.54,279.67 246.40,279.00 C246.26,278.33 245.94,278.33 245.80,279.00 C245.66,279.67 245.34,283.89 245.10,285.00 C244.86,286.11 244.16,288.00 243.60,289.00 C243.04,290.00 240.82,292.89 240.10,294.00 C239.38,295.11 237.60,297.94 237.10,299.00 C236.60,300.06 235.43,302.61 235.60,303.50 C235.77,304.39 237.77,306.22 238.60,307.00 C239.43,307.78 242.88,309.78 243.10,310.50 C243.32,311.22 241.16,312.94 240.60,313.50 C240.04,314.06 236.60,315.28 238.10,315.50 C239.60,315.72 252.60,315.72 254.10,315.50Z" fill="#22a862" stroke="#1a8048" stroke-width="0.35"/>
<path d="M246.0,284.0h.8v.8h-.8zM244.8,294.1h.8v.8h-.8zM245.7,282.8h.8v.8h-.8zM243.1,304.0h.8v.8h-.8zM245.3,305.1h.8v.8h-.8zM248.8,290.9h.8v.8h-.8zM250.1,297.0h.8v.8h-.8zM242.6,309.2h.8v.8h-.8zM245.1,288.4h.8v.8h-.8zM253.2,301.8h.8v.8h-.8zM248.0,307.9h.8v.8h-.8zM246.6,284.1h.8v.8h-.8zM247.5,292.5h.8v.8h-.8zM242.7,296.3h.8v.8h-.8zM246.4,314.5h.8v.8h-.8zM245.6,311.0h.8v.8h-.8zM245.7,282.8h.8v.8h-.8zM245.5,295.0h.8v.8h-.8zM248.9,309.6h.8v.8h-.8zM247.8,308.4h.8v.8h-.8zM245.4,293.6h.8v.8h-.8zM251.1,306.2h.8v.8h-.8zM250.3,293.1h.8v.8h-.8zM245.0,288.9h.8v.8h-.8zM251.1,294.9h.8v.8h-.8zM245.9,285.0h.8v.8h-.8zM253.2,302.8h.8v.8h-.8zM243.4,295.1h.8v.8h-.8zM248.6,290.9h.8v.8h-.8zM246.1,282.0h.8v.8h-.8zM245.2,285.3h.8v.8h-.8zM245.5,305.6h.8v.8h-.8zM246.4,296.9h.8v.8h-.8zM248.0,291.4h.8v.8h-.8zM241.0,295.7h.8v.8h-.8zM243.6,290.5h.8v.8h-.8zM250.4,298.0h.8v.8h-.8zM247.0,306.7h.8v.8h-.8zM246.9,287.8h.8v.8h-.8zM243.1,307.1h.8v.8h-.8zM239.9,299.1h.8v.8h-.8zM244.0,296.6h.8v.8h-.8zM244.7,289.6h.8v.8h-.8zM246.8,295.4h.8v.8h-.8zM244.1,298.7h.8v.8h-.8zM249.8,298.5h.8v.8h-.8zM249.5,292.3h.8v.8h-.8zM248.1,308.3h.8v.8h-.8zM249.3,300.6h.8v.8h-.8zM243.0,314.7h.8v.8h-.8zM246.4,282.3h.8v.8h-.8zM244.2,311.9h.8v.8h-.8zM245.4,283.9h.8v.8h-.8zM247.9,309.6h.8v.8h-.8zM246.2,282.6h.8v.8h-.8zM246.3,309.9h.8v.8h-.8z" fill="#1a8048" opacity="0.85"/>
<line x1="270.5" y1="317.3" x2="270.5" y2="319.9" stroke="#3a3a3a" stroke-width="0.7"/>
<path d="M275.3,312.0h0.8v0.8h-0.8zM275.6,313.0h0.8v0.8h-0.8zM267.9,294.8h0.8v0.8h-0.8zM257.2,307.5h0.8v0.8h-0.8zM262.9,300.2h0.8v0.8h-0.8zM269.8,292.1h0.8v0.8h-0.8zM270.2,314.1h0.8v0.8h-0.8zM281.9,313.1h0.8v0.8h-0.8zM272.1,283.7h0.8v0.8h-0.8zM280.4,301.4h0.8v0.8h-0.8zM278.4,298.9h0.8v0.8h-0.8zM268.5,286.9h0.8v0.8h-0.8zM275.2,296.5h0.8v0.8h-0.8zM263.8,291.4h0.8v0.8h-0.8zM277.0,284.9h0.8v0.8h-0.8zM268.1,294.1h0.8v0.8h-0.8zM273.4,310.8h0.8v0.8h-0.8zM278.5,305.7h0.8v0.8h-0.8zM259.6,296.4h0.8v0.8h-0.8zM270.1,292.6h0.8v0.8h-0.8zM268.0,298.3h0.8v0.8h-0.8zM276.7,302.3h0.8v0.8h-0.8zM278.7,301.7h0.8v0.8h-0.8zM261.6,305.6h0.8v0.8h-0.8zM267.6,305.6h0.8v0.8h-0.8zM275.6,305.3h0.8v0.8h-0.8zM266.4,285.8h0.8v0.8h-0.8zM273.8,307.1h0.8v0.8h-0.8zM267.0,304.2h0.8v0.8h-0.8zM263.0,304.3h0.8v0.8h-0.8zM261.5,309.3h0.8v0.8h-0.8zM274.1,310.7h0.8v0.8h-0.8zM283.8,313.9h0.8v0.8h-0.8zM278.0,307.4h0.8v0.8h-0.8zM274.8,302.5h0.8v0.8h-0.8zM272.5,289.6h0.8v0.8h-0.8z" fill="#8e8e8e"/>
<path d="M277.50,315.50 C278.78,315.28 275.50,314.06 275.00,313.50 C274.50,312.94 272.78,311.22 273.00,310.50 C273.22,309.78 276.28,307.94 277.00,307.00 C277.72,306.06 279.11,302.94 279.50,302.00 C279.89,301.06 280.28,299.22 280.50,298.50 C280.72,297.78 281.72,296.28 281.50,295.50 C281.28,294.72 279.17,292.39 278.50,291.50 C277.83,290.61 276.17,288.39 275.50,287.50 C274.83,286.61 273.02,284.44 272.50,283.50 C271.98,282.56 271.06,279.50 270.80,279.00 C270.54,278.50 270.46,278.50 270.20,279.00 C269.94,279.50 269.02,282.56 268.50,283.50 C267.98,284.44 266.17,286.61 265.50,287.50 C264.83,288.39 263.17,290.61 262.50,291.50 C261.83,292.39 259.72,294.72 259.50,295.50 C259.28,296.28 260.28,297.78 260.50,298.50 C260.72,299.22 261.11,301.06 261.50,302.00 C261.89,302.94 263.28,306.06 264.00,307.00 C264.72,307.94 267.78,309.78 268.00,310.50 C268.22,311.22 266.50,312.94 266.00,313.50 C265.50,314.06 262.22,315.28 263.50,315.50 C264.78,315.72 276.22,315.72 277.50,315.50Z" fill="#2f9ad8" stroke="#2070a8" stroke-width="0.35"/>
<path d="M267.6,307.8h.8v.8h-.8zM267.4,286.6h.8v.8h-.8zM272.4,297.3h.8v.8h-.8zM276.4,295.8h.8v.8h-.8zM274.8,297.5h.8v.8h-.8zM272.7,290.1h.8v.8h-.8zM275.2,297.3h.8v.8h-.8zM274.2,303.6h.8v.8h-.8zM270.0,283.6h.8v.8h-.8zM271.6,292.8h.8v.8h-.8zM271.3,282.0h.8v.8h-.8zM272.7,302.3h.8v.8h-.8zM270.0,310.4h.8v.8h-.8zM272.8,307.6h.8v.8h-.8zM273.3,287.9h.8v.8h-.8zM270.2,310.6h.8v.8h-.8zM273.0,285.8h.8v.8h-.8zM270.5,310.7h.8v.8h-.8zM269.8,284.5h.8v.8h-.8zM276.0,293.4h.8v.8h-.8zM273.5,301.6h.8v.8h-.8zM270.5,289.3h.8v.8h-.8zM266.6,300.0h.8v.8h-.8zM271.7,312.3h.8v.8h-.8zM268.3,288.5h.8v.8h-.8zM275.6,294.2h.8v.8h-.8zM266.4,289.7h.8v.8h-.8zM271.6,311.4h.8v.8h-.8zM272.4,313.3h.8v.8h-.8zM266.5,296.9h.8v.8h-.8zM268.0,286.0h.8v.8h-.8zM269.7,291.1h.8v.8h-.8zM273.8,307.6h.8v.8h-.8zM264.0,295.9h.8v.8h-.8zM266.7,292.4h.8v.8h-.8zM272.6,311.0h.8v.8h-.8zM269.6,292.4h.8v.8h-.8zM272.2,311.1h.8v.8h-.8zM273.3,288.2h.8v.8h-.8zM263.6,295.9h.8v.8h-.8zM267.8,307.0h.8v.8h-.8zM270.4,281.4h.8v.8h-.8zM272.4,293.6h.8v.8h-.8zM270.4,312.6h.8v.8h-.8zM266.3,288.7h.8v.8h-.8zM269.8,284.5h.8v.8h-.8zM264.4,292.0h.8v.8h-.8zM265.7,291.5h.8v.8h-.8zM267.2,290.9h.8v.8h-.8zM271.9,286.5h.8v.8h-.8zM275.9,292.7h.8v.8h-.8zM272.1,287.3h.8v.8h-.8zM274.5,295.8h.8v.8h-.8zM269.9,281.7h.8v.8h-.8zM277.3,300.5h.8v.8h-.8zM271.5,303.6h.8v.8h-.8zM270.3,281.2h.8v.8h-.8zM269.6,283.9h.8v.8h-.8zM268.4,313.3h.8v.8h-.8zM269.1,285.1h.8v.8h-.8zM265.8,303.9h.8v.8h-.8zM270.4,286.7h.8v.8h-.8zM275.0,305.6h.8v.8h-.8zM272.7,312.7h.8v.8h-.8zM272.2,284.1h.8v.8h-.8zM266.9,286.8h.8v.8h-.8zM268.6,314.1h.8v.8h-.8zM269.6,298.3h.8v.8h-.8zM270.9,299.5h.8v.8h-.8zM268.1,306.6h.8v.8h-.8zM268.3,309.6h.8v.8h-.8zM271.7,288.2h.8v.8h-.8z" fill="#2070a8" opacity="0.85"/>
<line x1="295.1" y1="317.3" x2="295.1" y2="319.9" stroke="#3a3a3a" stroke-width="0.7"/>
<path d="M301.3,288.2h0.8v0.8h-0.8zM298.0,281.4h0.8v0.8h-0.8zM290.0,278.1h0.8v0.8h-0.8zM287.7,311.5h0.8v0.8h-0.8zM307.7,302.0h0.8v0.8h-0.8zM301.7,306.2h0.8v0.8h-0.8zM298.3,308.8h0.8v0.8h-0.8zM304.8,299.8h0.8v0.8h-0.8zM284.2,282.5h0.8v0.8h-0.8zM287.7,286.3h0.8v0.8h-0.8zM302.7,278.0h0.8v0.8h-0.8zM292.2,297.3h0.8v0.8h-0.8zM307.0,312.2h0.8v0.8h-0.8zM284.4,282.4h0.8v0.8h-0.8zM297.4,313.9h0.8v0.8h-0.8zM304.9,282.8h0.8v0.8h-0.8zM284.7,304.6h0.8v0.8h-0.8zM303.1,299.0h0.8v0.8h-0.8zM285.0,290.6h0.8v0.8h-0.8zM284.7,300.7h0.8v0.8h-0.8zM298.7,282.0h0.8v0.8h-0.8zM290.4,287.4h0.8v0.8h-0.8zM293.7,305.5h0.8v0.8h-0.8zM297.4,289.4h0.8v0.8h-0.8zM298.9,308.8h0.8v0.8h-0.8zM286.7,303.4h0.8v0.8h-0.8zM298.4,301.5h0.8v0.8h-0.8zM308.2,279.2h0.8v0.8h-0.8zM299.4,304.8h0.8v0.8h-0.8zM282.9,286.8h0.8v0.8h-0.8zM289.2,298.8h0.8v0.8h-0.8zM281.8,314.4h0.8v0.8h-0.8zM288.2,311.1h0.8v0.8h-0.8zM304.0,300.1h0.8v0.8h-0.8zM306.0,291.8h0.8v0.8h-0.8zM307.7,284.8h0.8v0.8h-0.8z" fill="#8e8e8e"/>
<path d="M303.10,315.50 C304.54,315.28 300.66,314.06 300.10,313.50 C299.54,312.94 297.82,311.22 298.10,310.50 C298.38,309.78 301.88,307.83 302.60,307.00 C303.32,306.17 304.21,303.94 304.60,303.00 C304.99,302.06 305.93,299.43 306.10,298.50 C306.27,297.57 306.32,295.49 306.10,294.60 C305.88,293.71 304.71,291.40 304.10,290.50 C303.49,289.60 301.38,287.44 300.60,286.50 C299.82,285.56 297.61,282.94 297.10,282.00 C296.59,281.06 296.20,278.91 296.00,278.00 C295.80,277.09 295.42,274.27 295.30,273.80 C295.18,273.33 295.02,273.33 294.90,273.80 C294.78,274.27 294.40,277.09 294.20,278.00 C294.00,278.91 293.61,281.06 293.10,282.00 C292.59,282.94 290.38,285.56 289.60,286.50 C288.82,287.44 286.71,289.60 286.10,290.50 C285.49,291.40 284.32,293.71 284.10,294.60 C283.88,295.49 283.93,297.57 284.10,298.50 C284.27,299.43 285.21,302.06 285.60,303.00 C285.99,303.94 286.88,306.17 287.60,307.00 C288.32,307.83 291.82,309.78 292.10,310.50 C292.38,311.22 290.66,312.94 290.10,313.50 C289.54,314.06 285.66,315.28 287.10,315.50 C288.54,315.72 301.66,315.72 303.10,315.50Z" fill="#c463b4" stroke="#9a4890" stroke-width="0.35"/>
<path d="M299.5,303.4h.8v.8h-.8zM292.3,306.6h.8v.8h-.8zM295.0,287.1h.8v.8h-.8zM301.9,290.9h.8v.8h-.8zM296.7,283.6h.8v.8h-.8zM297.8,299.5h.8v.8h-.8zM295.3,311.5h.8v.8h-.8zM294.5,278.8h.8v.8h-.8zM293.1,313.1h.8v.8h-.8zM295.8,280.9h.8v.8h-.8zM293.4,286.4h.8v.8h-.8zM296.7,282.6h.8v.8h-.8zM294.6,295.8h.8v.8h-.8zM296.4,305.2h.8v.8h-.8zM295.2,296.1h.8v.8h-.8zM297.8,284.2h.8v.8h-.8zM295.4,285.6h.8v.8h-.8zM295.8,283.1h.8v.8h-.8zM288.3,293.9h.8v.8h-.8zM294.5,278.0h.8v.8h-.8zM300.4,306.2h.8v.8h-.8zM297.8,301.9h.8v.8h-.8zM295.4,278.8h.8v.8h-.8zM298.3,286.6h.8v.8h-.8zM294.9,278.6h.8v.8h-.8zM295.0,276.3h.8v.8h-.8zM296.9,283.2h.8v.8h-.8zM291.9,313.7h.8v.8h-.8zM296.0,307.2h.8v.8h-.8zM292.2,309.7h.8v.8h-.8zM298.3,301.7h.8v.8h-.8zM295.2,309.5h.8v.8h-.8zM295.1,282.2h.8v.8h-.8zM292.8,285.1h.8v.8h-.8zM290.5,314.2h.8v.8h-.8zM297.5,298.2h.8v.8h-.8zM299.6,293.6h.8v.8h-.8zM297.2,285.5h.8v.8h-.8zM298.1,286.0h.8v.8h-.8zM294.4,310.3h.8v.8h-.8zM291.7,299.3h.8v.8h-.8zM298.4,301.5h.8v.8h-.8zM293.7,303.7h.8v.8h-.8zM294.4,310.2h.8v.8h-.8zM298.1,307.1h.8v.8h-.8zM294.5,300.4h.8v.8h-.8zM295.8,288.1h.8v.8h-.8zM295.2,285.5h.8v.8h-.8zM293.8,303.2h.8v.8h-.8zM294.8,305.5h.8v.8h-.8zM291.0,313.8h.8v.8h-.8zM299.2,308.0h.8v.8h-.8zM296.6,293.1h.8v.8h-.8zM287.1,297.3h.8v.8h-.8zM294.6,278.8h.8v.8h-.8zM301.4,303.9h.8v.8h-.8zM289.8,294.4h.8v.8h-.8zM293.9,280.7h.8v.8h-.8zM294.4,282.9h.8v.8h-.8zM297.2,284.6h.8v.8h-.8zM293.5,283.8h.8v.8h-.8zM299.6,307.8h.8v.8h-.8zM295.4,311.4h.8v.8h-.8zM297.9,287.3h.8v.8h-.8zM295.9,280.7h.8v.8h-.8zM294.5,280.0h.8v.8h-.8zM293.6,283.7h.8v.8h-.8zM292.2,284.3h.8v.8h-.8zM291.6,289.3h.8v.8h-.8zM290.8,292.8h.8v.8h-.8zM297.3,302.2h.8v.8h-.8zM294.3,287.3h.8v.8h-.8z" fill="#9a4890" opacity="0.85"/>
<line x1="183" y1="330" x2="183" y2="377.2" stroke="#262626" stroke-width="1.2"/>
<line x1="182.5" y1="376.7" x2="309" y2="376.7" stroke="#262626" stroke-width="1.2"/>
<line x1="180.8" y1="375" x2="183" y2="375" stroke="#3a3a3a" stroke-width="0.7"/>
<text x="178" y="377.3" font-size="7.15" text-anchor="end" fill="#262626" stroke="#262626" stroke-width="0.2">0</text>
<line x1="180.8" y1="361" x2="183" y2="361" stroke="#3a3a3a" stroke-width="0.7"/>
<text x="178" y="363.3" font-size="7.15" text-anchor="end" fill="#262626" stroke="#262626" stroke-width="0.2">1</text>
<line x1="180.8" y1="346.5" x2="183" y2="346.5" stroke="#3a3a3a" stroke-width="0.7"/>
<text x="178" y="348.8" font-size="7.15" text-anchor="end" fill="#262626" stroke="#262626" stroke-width="0.2">2</text>
<line x1="180.8" y1="332" x2="183" y2="332" stroke="#3a3a3a" stroke-width="0.7"/>
<text x="178" y="334.3" font-size="7.15" text-anchor="end" fill="#262626" stroke="#262626" stroke-width="0.2">3</text>
<text x="0" y="0" transform="translate(167.7,353.35) rotate(-90)" font-size="7.15" text-anchor="middle" textLength="46.5" lengthAdjust="spacingAndGlyphs" fill="#262626" stroke="#262626" stroke-width="0.2">Expression level</text>
<text x="246.2" y="330.7" font-size="7.04" text-anchor="middle" fill="#262626" stroke="#262626" stroke-width="0.2">Ezh2</text>
<text x="273.5" y="330.4" font-size="7.04" fill="#262626" stroke="#262626" stroke-width="0.2">padj = 0.011</text>
<line x1="197.4" y1="377.3" x2="197.4" y2="379.9" stroke="#3a3a3a" stroke-width="0.7"/>
<path d="M209.6,367.8h0.8v0.8h-0.8zM209.1,363.8h0.8v0.8h-0.8zM184.3,367.8h0.8v0.8h-0.8zM193.0,372.8h0.8v0.8h-0.8zM201.0,371.7h0.8v0.8h-0.8zM187.2,357.9h0.8v0.8h-0.8zM205.7,360.9h0.8v0.8h-0.8zM206.9,356.8h0.8v0.8h-0.8zM199.4,357.3h0.8v0.8h-0.8zM185.5,373.4h0.8v0.8h-0.8zM204.1,370.2h0.8v0.8h-0.8zM190.0,367.0h0.8v0.8h-0.8zM207.1,366.0h0.8v0.8h-0.8zM208.2,373.8h0.8v0.8h-0.8zM198.9,359.5h0.8v0.8h-0.8zM200.1,373.1h0.8v0.8h-0.8zM193.1,374.7h0.8v0.8h-0.8zM204.8,356.8h0.8v0.8h-0.8zM194.4,367.8h0.8v0.8h-0.8zM201.0,370.6h0.8v0.8h-0.8z" fill="#8e8e8e"/>
<path d="M206.40,375.50 C208.40,375.17 206.23,373.44 206.40,372.50 C206.57,371.56 207.68,368.22 207.90,367.00 C208.12,365.78 208.68,362.56 208.40,361.50 C208.12,360.44 206.18,358.33 205.40,357.50 C204.62,356.67 202.23,354.58 201.40,354.00 C200.57,353.42 198.40,352.49 197.90,352.30 C197.40,352.11 197.40,352.11 196.90,352.30 C196.40,352.49 194.23,353.42 193.40,354.00 C192.57,354.58 190.18,356.67 189.40,357.50 C188.62,358.33 186.68,360.44 186.40,361.50 C186.12,362.56 186.68,365.78 186.90,367.00 C187.12,368.22 188.23,371.56 188.40,372.50 C188.57,373.44 186.40,375.17 188.40,375.50 C190.40,375.83 204.40,375.83 206.40,375.50Z" fill="#f06a68" stroke="#c85050" stroke-width="0.35"/>
<path d="M198.2,364.9h.8v.8h-.8zM201.3,358.7h.8v.8h-.8zM204.6,370.8h.8v.8h-.8zM189.2,362.3h.8v.8h-.8zM195.6,361.6h.8v.8h-.8zM202.1,358.0h.8v.8h-.8zM204.8,370.8h.8v.8h-.8zM201.1,365.4h.8v.8h-.8zM192.2,356.4h.8v.8h-.8zM199.3,373.5h.8v.8h-.8zM203.3,358.0h.8v.8h-.8zM193.8,359.1h.8v.8h-.8zM202.2,374.6h.8v.8h-.8zM202.0,366.1h.8v.8h-.8zM199.4,359.0h.8v.8h-.8zM191.6,363.7h.8v.8h-.8zM201.7,364.5h.8v.8h-.8zM199.7,356.3h.8v.8h-.8zM198.6,365.7h.8v.8h-.8zM195.6,370.0h.8v.8h-.8zM204.2,367.6h.8v.8h-.8zM188.8,361.7h.8v.8h-.8zM204.4,364.0h.8v.8h-.8zM205.6,366.6h.8v.8h-.8zM203.0,358.4h.8v.8h-.8zM199.9,359.2h.8v.8h-.8zM200.8,367.0h.8v.8h-.8zM202.1,366.0h.8v.8h-.8zM189.8,360.7h.8v.8h-.8zM196.4,360.6h.8v.8h-.8zM197.8,372.4h.8v.8h-.8zM204.4,373.6h.8v.8h-.8zM201.9,374.7h.8v.8h-.8zM199.9,364.2h.8v.8h-.8zM204.5,363.5h.8v.8h-.8zM193.6,356.4h.8v.8h-.8zM192.4,368.1h.8v.8h-.8zM201.3,354.8h.8v.8h-.8zM198.6,362.5h.8v.8h-.8zM199.4,372.6h.8v.8h-.8z" fill="#c85050" opacity="0.85"/>
<line x1="221.5" y1="377.3" x2="221.5" y2="379.9" stroke="#3a3a3a" stroke-width="0.7"/>
<path d="M218.6,365.1h0.8v0.8h-0.8zM233.7,361.2h0.8v0.8h-0.8zM225.1,361.9h0.8v0.8h-0.8zM209.9,363.5h0.8v0.8h-0.8zM227.5,368.8h0.8v0.8h-0.8zM222.3,371.4h0.8v0.8h-0.8zM228.1,363.1h0.8v0.8h-0.8zM218.3,372.9h0.8v0.8h-0.8zM208.5,373.4h0.8v0.8h-0.8zM217.9,360.1h0.8v0.8h-0.8zM223.8,365.2h0.8v0.8h-0.8zM215.2,364.4h0.8v0.8h-0.8zM218.6,362.0h0.8v0.8h-0.8zM220.9,370.6h0.8v0.8h-0.8zM218.0,371.8h0.8v0.8h-0.8zM209.7,366.9h0.8v0.8h-0.8zM234.4,374.2h0.8v0.8h-0.8zM210.4,371.6h0.8v0.8h-0.8zM231.2,366.5h0.8v0.8h-0.8zM231.4,367.6h0.8v0.8h-0.8zM213.3,374.2h0.8v0.8h-0.8zM221.2,371.8h0.8v0.8h-0.8zM218.0,370.2h0.8v0.8h-0.8zM215.2,363.0h0.8v0.8h-0.8z" fill="#8e8e8e"/>
<path d="M232.00,375.50 C233.83,375.28 228.38,374.06 227.50,373.50 C226.62,372.94 224.52,371.11 224.10,370.50 C223.68,369.89 223.54,368.67 223.70,368.00 C223.86,367.33 225.28,365.22 225.50,364.50 C225.72,363.78 225.87,362.17 225.70,361.50 C225.53,360.83 224.36,359.11 224.00,358.50 C223.64,357.89 222.76,356.44 222.50,356.00 C222.24,355.56 221.83,354.67 221.70,354.50 C221.57,354.33 221.43,354.33 221.30,354.50 C221.17,354.67 220.76,355.56 220.50,356.00 C220.24,356.44 219.36,357.89 219.00,358.50 C218.64,359.11 217.47,360.83 217.30,361.50 C217.13,362.17 217.28,363.78 217.50,364.50 C217.72,365.22 219.14,367.33 219.30,368.00 C219.46,368.67 219.32,369.89 218.90,370.50 C218.48,371.11 216.38,372.94 215.50,373.50 C214.62,374.06 209.17,375.28 211.00,375.50 C212.83,375.72 230.17,375.72 232.00,375.50Z" fill="#aeae26" stroke="#8a8a18" stroke-width="0.35"/>
<path d="M220.6,368.2h.8v.8h-.8zM220.6,360.2h.8v.8h-.8zM222.5,356.5h.8v.8h-.8zM218.1,373.9h.8v.8h-.8zM225.0,374.9h.8v.8h-.8zM222.2,364.8h.8v.8h-.8zM220.9,359.3h.8v.8h-.8zM222.1,369.0h.8v.8h-.8zM221.4,361.1h.8v.8h-.8zM221.1,359.3h.8v.8h-.8zM223.8,360.2h.8v.8h-.8zM222.8,364.8h.8v.8h-.8zM223.2,371.0h.8v.8h-.8zM219.6,360.7h.8v.8h-.8zM220.5,370.8h.8v.8h-.8zM223.3,359.2h.8v.8h-.8zM220.3,364.6h.8v.8h-.8zM222.0,358.9h.8v.8h-.8zM222.3,360.4h.8v.8h-.8zM221.8,363.8h.8v.8h-.8zM219.0,372.4h.8v.8h-.8zM222.5,364.6h.8v.8h-.8zM219.7,367.3h.8v.8h-.8zM216.1,373.9h.8v.8h-.8zM220.2,362.5h.8v.8h-.8zM222.0,369.2h.8v.8h-.8zM223.7,359.6h.8v.8h-.8zM223.5,372.4h.8v.8h-.8zM222.9,370.9h.8v.8h-.8zM220.8,357.6h.8v.8h-.8zM222.5,370.1h.8v.8h-.8zM217.1,373.2h.8v.8h-.8zM220.9,357.5h.8v.8h-.8zM222.1,357.6h.8v.8h-.8zM219.3,373.4h.8v.8h-.8zM222.1,357.0h.8v.8h-.8zM219.9,366.4h.8v.8h-.8zM221.7,364.9h.8v.8h-.8zM222.1,360.6h.8v.8h-.8zM221.4,357.0h.8v.8h-.8zM222.2,357.5h.8v.8h-.8zM218.7,363.2h.8v.8h-.8zM222.8,361.2h.8v.8h-.8zM222.1,357.6h.8v.8h-.8zM219.9,360.9h.8v.8h-.8zM222.7,357.7h.8v.8h-.8zM220.3,360.8h.8v.8h-.8zM220.9,372.6h.8v.8h-.8z" fill="#8a8a18" opacity="0.85"/>
<line x1="246.10000000000002" y1="377.3" x2="246.10000000000002" y2="379.9" stroke="#3a3a3a" stroke-width="0.7"/>
<path d="M234.3,351.3h0.8v0.8h-0.8zM235.1,374.5h0.8v0.8h-0.8zM239.6,364.8h0.8v0.8h-0.8zM237.7,366.9h0.8v0.8h-0.8zM236.2,372.8h0.8v0.8h-0.8zM248.3,361.9h0.8v0.8h-0.8zM243.3,373.2h0.8v0.8h-0.8zM255.2,358.8h0.8v0.8h-0.8zM239.5,366.9h0.8v0.8h-0.8zM253.4,349.0h0.8v0.8h-0.8zM245.9,356.6h0.8v0.8h-0.8zM255.7,343.4h0.8v0.8h-0.8zM259.3,370.1h0.8v0.8h-0.8zM251.7,354.6h0.8v0.8h-0.8zM237.3,355.1h0.8v0.8h-0.8zM257.3,351.2h0.8v0.8h-0.8zM234.7,358.0h0.8v0.8h-0.8zM248.9,356.5h0.8v0.8h-0.8zM234.7,358.2h0.8v0.8h-0.8zM247.0,367.0h0.8v0.8h-0.8zM252.9,357.6h0.8v0.8h-0.8zM233.9,347.2h0.8v0.8h-0.8zM233.5,344.1h0.8v0.8h-0.8zM246.0,362.7h0.8v0.8h-0.8zM258.3,353.5h0.8v0.8h-0.8zM253.7,359.8h0.8v0.8h-0.8zM246.3,367.7h0.8v0.8h-0.8zM249.1,349.9h0.8v0.8h-0.8z" fill="#8e8e8e"/>
<path d="M254.10,375.50 C255.60,375.28 252.16,374.06 251.60,373.50 C251.04,372.94 248.88,371.22 249.10,370.50 C249.32,369.78 252.77,367.78 253.60,367.00 C254.43,366.22 256.43,364.39 256.60,363.50 C256.77,362.61 255.60,360.06 255.10,359.00 C254.60,357.94 252.82,355.11 252.10,354.00 C251.38,352.89 249.16,350.00 248.60,349.00 C248.04,348.00 247.34,346.11 247.10,345.00 C246.86,343.89 246.54,339.67 246.40,339.00 C246.26,338.33 245.94,338.33 245.80,339.00 C245.66,339.67 245.34,343.89 245.10,345.00 C244.86,346.11 244.16,348.00 243.60,349.00 C243.04,350.00 240.82,352.89 240.10,354.00 C239.38,355.11 237.60,357.94 237.10,359.00 C236.60,360.06 235.43,362.61 235.60,363.50 C235.77,364.39 237.77,366.22 238.60,367.00 C239.43,367.78 242.88,369.78 243.10,370.50 C243.32,371.22 241.16,372.94 240.60,373.50 C240.04,374.06 236.60,375.28 238.10,375.50 C239.60,375.72 252.60,375.72 254.10,375.50Z" fill="#22a862" stroke="#1a8048" stroke-width="0.35"/>
<path d="M245.7,369.8h.8v.8h-.8zM243.5,368.3h.8v.8h-.8zM246.7,370.9h.8v.8h-.8zM244.8,372.1h.8v.8h-.8zM249.2,352.7h.8v.8h-.8zM247.8,349.2h.8v.8h-.8zM242.2,352.5h.8v.8h-.8zM247.2,350.0h.8v.8h-.8zM244.9,354.1h.8v.8h-.8zM248.3,358.0h.8v.8h-.8zM248.7,357.0h.8v.8h-.8zM252.7,358.5h.8v.8h-.8zM249.9,374.0h.8v.8h-.8zM243.4,353.8h.8v.8h-.8zM248.9,366.8h.8v.8h-.8zM248.4,356.7h.8v.8h-.8zM240.8,362.4h.8v.8h-.8zM247.3,368.4h.8v.8h-.8zM248.5,369.0h.8v.8h-.8zM247.3,351.1h.8v.8h-.8zM246.1,369.6h.8v.8h-.8zM249.0,364.9h.8v.8h-.8zM244.7,359.7h.8v.8h-.8zM239.7,364.2h.8v.8h-.8zM245.3,346.2h.8v.8h-.8zM251.3,360.6h.8v.8h-.8zM243.1,352.8h.8v.8h-.8zM246.7,344.7h.8v.8h-.8zM244.7,349.9h.8v.8h-.8zM247.6,372.7h.8v.8h-.8zM249.3,360.7h.8v.8h-.8zM244.4,352.5h.8v.8h-.8zM247.5,367.1h.8v.8h-.8zM252.0,360.2h.8v.8h-.8zM246.1,374.8h.8v.8h-.8zM246.0,374.8h.8v.8h-.8zM245.3,362.4h.8v.8h-.8zM250.8,374.4h.8v.8h-.8zM251.3,358.2h.8v.8h-.8zM245.3,375.0h.8v.8h-.8zM241.0,366.9h.8v.8h-.8zM242.9,373.5h.8v.8h-.8zM241.5,354.1h.8v.8h-.8zM242.0,365.5h.8v.8h-.8zM245.9,344.9h.8v.8h-.8zM242.9,373.8h.8v.8h-.8zM246.2,342.5h.8v.8h-.8zM250.1,362.0h.8v.8h-.8zM240.3,366.9h.8v.8h-.8zM245.1,346.6h.8v.8h-.8zM252.2,360.4h.8v.8h-.8zM246.0,370.8h.8v.8h-.8zM245.8,344.1h.8v.8h-.8zM246.0,373.0h.8v.8h-.8zM249.9,360.0h.8v.8h-.8zM245.8,355.3h.8v.8h-.8z" fill="#1a8048" opacity="0.85"/>
<line x1="270.5" y1="377.3" x2="270.5" y2="379.9" stroke="#3a3a3a" stroke-width="0.7"/>
<path d="M279.8,360.5h0.8v0.8h-0.8zM259.6,363.4h0.8v0.8h-0.8zM258.4,371.4h0.8v0.8h-0.8zM262.6,349.2h0.8v0.8h-0.8zM260.3,364.8h0.8v0.8h-0.8zM270.8,353.8h0.8v0.8h-0.8zM268.2,366.6h0.8v0.8h-0.8zM271.6,363.7h0.8v0.8h-0.8zM264.0,365.2h0.8v0.8h-0.8zM258.8,352.9h0.8v0.8h-0.8zM262.2,372.7h0.8v0.8h-0.8zM276.7,373.1h0.8v0.8h-0.8zM271.3,348.0h0.8v0.8h-0.8zM259.6,345.7h0.8v0.8h-0.8zM282.1,365.6h0.8v0.8h-0.8zM261.0,360.5h0.8v0.8h-0.8zM267.8,361.2h0.8v0.8h-0.8zM282.8,361.4h0.8v0.8h-0.8zM262.2,373.4h0.8v0.8h-0.8zM276.8,362.3h0.8v0.8h-0.8zM282.4,365.5h0.8v0.8h-0.8zM263.4,359.5h0.8v0.8h-0.8zM280.1,363.0h0.8v0.8h-0.8zM275.0,363.8h0.8v0.8h-0.8zM272.4,351.8h0.8v0.8h-0.8zM264.9,350.5h0.8v0.8h-0.8zM271.7,362.4h0.8v0.8h-0.8zM262.3,353.4h0.8v0.8h-0.8zM268.6,369.8h0.8v0.8h-0.8zM273.3,350.5h0.8v0.8h-0.8zM277.5,360.9h0.8v0.8h-0.8zM282.5,358.0h0.8v0.8h-0.8zM270.7,346.8h0.8v0.8h-0.8zM257.7,346.1h0.8v0.8h-0.8zM280.7,357.7h0.8v0.8h-0.8zM262.6,349.1h0.8v0.8h-0.8z" fill="#8e8e8e"/>
<path d="M277.50,375.50 C278.78,375.28 275.50,374.06 275.00,373.50 C274.50,372.94 272.78,371.22 273.00,370.50 C273.22,369.78 276.28,367.94 277.00,367.00 C277.72,366.06 279.11,362.94 279.50,362.00 C279.89,361.06 280.28,359.22 280.50,358.50 C280.72,357.78 281.72,356.28 281.50,355.50 C281.28,354.72 279.17,352.39 278.50,351.50 C277.83,350.61 276.17,348.39 275.50,347.50 C274.83,346.61 273.02,344.44 272.50,343.50 C271.98,342.56 271.06,339.50 270.80,339.00 C270.54,338.50 270.46,338.50 270.20,339.00 C269.94,339.50 269.02,342.56 268.50,343.50 C267.98,344.44 266.17,346.61 265.50,347.50 C264.83,348.39 263.17,350.61 262.50,351.50 C261.83,352.39 259.72,354.72 259.50,355.50 C259.28,356.28 260.28,357.78 260.50,358.50 C260.72,359.22 261.11,361.06 261.50,362.00 C261.89,362.94 263.28,366.06 264.00,367.00 C264.72,367.94 267.78,369.78 268.00,370.50 C268.22,371.22 266.50,372.94 266.00,373.50 C265.50,374.06 262.22,375.28 263.50,375.50 C264.78,375.72 276.22,375.72 277.50,375.50Z" fill="#2f9ad8" stroke="#2070a8" stroke-width="0.35"/>
<path d="M273.3,360.0h.8v.8h-.8zM269.7,349.4h.8v.8h-.8zM270.0,371.1h.8v.8h-.8zM267.4,352.7h.8v.8h-.8zM271.1,350.5h.8v.8h-.8zM269.9,342.8h.8v.8h-.8zM273.5,366.4h.8v.8h-.8zM269.7,368.8h.8v.8h-.8zM268.1,369.2h.8v.8h-.8zM275.9,357.0h.8v.8h-.8zM270.1,369.8h.8v.8h-.8zM270.9,348.8h.8v.8h-.8zM272.7,344.6h.8v.8h-.8zM274.9,360.7h.8v.8h-.8zM274.2,347.3h.8v.8h-.8zM273.2,366.1h.8v.8h-.8zM269.9,370.7h.8v.8h-.8zM268.9,348.0h.8v.8h-.8zM270.2,369.5h.8v.8h-.8zM267.3,367.2h.8v.8h-.8zM275.7,351.8h.8v.8h-.8zM265.6,361.2h.8v.8h-.8zM277.1,356.4h.8v.8h-.8zM270.2,341.4h.8v.8h-.8zM268.4,344.5h.8v.8h-.8zM269.1,353.8h.8v.8h-.8zM264.4,363.5h.8v.8h-.8zM267.8,351.4h.8v.8h-.8zM267.3,348.4h.8v.8h-.8zM271.4,341.3h.8v.8h-.8zM266.2,360.8h.8v.8h-.8zM270.1,363.0h.8v.8h-.8zM270.0,341.8h.8v.8h-.8zM264.4,364.2h.8v.8h-.8zM269.3,368.7h.8v.8h-.8zM275.6,365.7h.8v.8h-.8zM263.1,358.5h.8v.8h-.8zM270.2,342.7h.8v.8h-.8zM271.3,373.2h.8v.8h-.8zM270.0,372.9h.8v.8h-.8zM263.1,354.2h.8v.8h-.8zM263.5,353.5h.8v.8h-.8zM274.5,351.3h.8v.8h-.8zM270.7,345.2h.8v.8h-.8zM272.8,346.3h.8v.8h-.8zM271.3,346.3h.8v.8h-.8zM267.3,350.1h.8v.8h-.8zM270.0,349.4h.8v.8h-.8zM271.9,372.2h.8v.8h-.8zM270.4,360.1h.8v.8h-.8zM271.7,346.2h.8v.8h-.8zM271.8,365.5h.8v.8h-.8zM269.8,359.5h.8v.8h-.8zM271.9,354.0h.8v.8h-.8zM269.2,344.9h.8v.8h-.8zM264.5,363.2h.8v.8h-.8zM271.7,342.0h.8v.8h-.8zM272.4,368.4h.8v.8h-.8zM277.8,358.5h.8v.8h-.8zM271.4,358.4h.8v.8h-.8zM272.6,367.2h.8v.8h-.8zM276.9,359.1h.8v.8h-.8zM266.8,362.7h.8v.8h-.8zM269.1,349.5h.8v.8h-.8zM272.1,357.1h.8v.8h-.8zM266.7,362.7h.8v.8h-.8zM263.0,356.7h.8v.8h-.8zM271.1,369.3h.8v.8h-.8zM274.8,365.4h.8v.8h-.8zM277.7,358.9h.8v.8h-.8zM263.7,354.2h.8v.8h-.8zM273.5,350.7h.8v.8h-.8z" fill="#2070a8" opacity="0.85"/>
<line x1="295.1" y1="377.3" x2="295.1" y2="379.9" stroke="#3a3a3a" stroke-width="0.7"/>
<path d="M284.5,344.8h0.8v0.8h-0.8zM299.4,356.4h0.8v0.8h-0.8zM302.0,350.0h0.8v0.8h-0.8zM296.5,371.8h0.8v0.8h-0.8zM293.7,365.3h0.8v0.8h-0.8zM297.4,362.3h0.8v0.8h-0.8zM293.0,351.9h0.8v0.8h-0.8zM300.9,353.9h0.8v0.8h-0.8zM288.8,357.2h0.8v0.8h-0.8zM300.8,337.9h0.8v0.8h-0.8zM292.6,359.5h0.8v0.8h-0.8zM303.7,357.7h0.8v0.8h-0.8zM308.2,367.7h0.8v0.8h-0.8zM281.9,353.1h0.8v0.8h-0.8zM295.3,365.0h0.8v0.8h-0.8zM286.0,343.1h0.8v0.8h-0.8zM292.6,367.3h0.8v0.8h-0.8zM307.8,361.3h0.8v0.8h-0.8zM298.3,357.5h0.8v0.8h-0.8zM285.6,364.2h0.8v0.8h-0.8zM291.6,352.4h0.8v0.8h-0.8zM296.1,350.3h0.8v0.8h-0.8zM294.2,371.3h0.8v0.8h-0.8zM298.1,354.4h0.8v0.8h-0.8zM288.3,373.8h0.8v0.8h-0.8zM283.8,371.6h0.8v0.8h-0.8zM282.5,374.0h0.8v0.8h-0.8zM299.8,345.8h0.8v0.8h-0.8zM297.8,374.4h0.8v0.8h-0.8zM288.5,369.4h0.8v0.8h-0.8zM306.9,365.8h0.8v0.8h-0.8zM288.4,356.3h0.8v0.8h-0.8zM283.6,342.6h0.8v0.8h-0.8zM293.4,351.3h0.8v0.8h-0.8zM301.4,338.5h0.8v0.8h-0.8zM293.9,371.0h0.8v0.8h-0.8z" fill="#8e8e8e"/>
<path d="M303.10,375.50 C304.54,375.28 300.66,374.06 300.10,373.50 C299.54,372.94 297.82,371.22 298.10,370.50 C298.38,369.78 301.88,367.83 302.60,367.00 C303.32,366.17 304.21,363.94 304.60,363.00 C304.99,362.06 305.93,359.43 306.10,358.50 C306.27,357.57 306.32,355.49 306.10,354.60 C305.88,353.71 304.71,351.40 304.10,350.50 C303.49,349.60 301.38,347.44 300.60,346.50 C299.82,345.56 297.61,342.94 297.10,342.00 C296.59,341.06 296.20,338.91 296.00,338.00 C295.80,337.09 295.42,334.27 295.30,333.80 C295.18,333.33 295.02,333.33 294.90,333.80 C294.78,334.27 294.40,337.09 294.20,338.00 C294.00,338.91 293.61,341.06 293.10,342.00 C292.59,342.94 290.38,345.56 289.60,346.50 C288.82,347.44 286.71,349.60 286.10,350.50 C285.49,351.40 284.32,353.71 284.10,354.60 C283.88,355.49 283.93,357.57 284.10,358.50 C284.27,359.43 285.21,362.06 285.60,363.00 C285.99,363.94 286.88,366.17 287.60,367.00 C288.32,367.83 291.82,369.78 292.10,370.50 C292.38,371.22 290.66,372.94 290.10,373.50 C289.54,374.06 285.66,375.28 287.10,375.50 C288.54,375.72 301.66,375.72 303.10,375.50Z" fill="#c463b4" stroke="#9a4890" stroke-width="0.35"/>
<path d="M296.2,346.5h.8v.8h-.8zM297.8,354.5h.8v.8h-.8zM288.9,356.4h.8v.8h-.8zM298.0,358.4h.8v.8h-.8zM292.7,344.5h.8v.8h-.8zM296.9,358.0h.8v.8h-.8zM298.2,369.1h.8v.8h-.8zM290.3,356.6h.8v.8h-.8zM291.9,364.5h.8v.8h-.8zM297.5,358.8h.8v.8h-.8zM297.1,355.9h.8v.8h-.8zM289.3,356.9h.8v.8h-.8zM293.3,372.6h.8v.8h-.8zM293.1,351.7h.8v.8h-.8zM298.8,365.2h.8v.8h-.8zM297.6,362.6h.8v.8h-.8zM295.1,338.7h.8v.8h-.8zM294.9,338.9h.8v.8h-.8zM295.2,337.7h.8v.8h-.8zM299.6,354.4h.8v.8h-.8zM295.9,355.2h.8v.8h-.8zM287.5,356.1h.8v.8h-.8zM292.4,350.8h.8v.8h-.8zM294.5,338.3h.8v.8h-.8zM299.3,352.5h.8v.8h-.8zM293.0,364.0h.8v.8h-.8zM300.9,348.7h.8v.8h-.8zM303.3,358.3h.8v.8h-.8zM301.4,350.1h.8v.8h-.8zM292.2,354.6h.8v.8h-.8zM294.3,341.3h.8v.8h-.8zM301.7,362.4h.8v.8h-.8zM293.0,344.9h.8v.8h-.8zM293.2,360.9h.8v.8h-.8zM293.3,372.3h.8v.8h-.8zM293.4,370.2h.8v.8h-.8zM294.9,337.4h.8v.8h-.8zM293.7,342.9h.8v.8h-.8zM292.2,369.1h.8v.8h-.8zM296.1,362.8h.8v.8h-.8zM287.2,355.3h.8v.8h-.8zM292.7,348.1h.8v.8h-.8zM295.6,350.5h.8v.8h-.8zM287.3,358.5h.8v.8h-.8zM295.5,373.4h.8v.8h-.8zM297.6,352.3h.8v.8h-.8zM287.9,360.3h.8v.8h-.8zM299.7,352.0h.8v.8h-.8zM301.8,355.6h.8v.8h-.8zM297.9,366.1h.8v.8h-.8zM299.6,359.9h.8v.8h-.8zM292.4,348.4h.8v.8h-.8zM296.8,342.2h.8v.8h-.8zM298.0,374.5h.8v.8h-.8zM294.9,339.0h.8v.8h-.8zM294.7,338.4h.8v.8h-.8zM296.1,342.2h.8v.8h-.8zM294.9,338.1h.8v.8h-.8zM293.8,352.7h.8v.8h-.8zM287.8,356.8h.8v.8h-.8zM303.0,354.5h.8v.8h-.8zM293.9,348.7h.8v.8h-.8zM295.3,337.2h.8v.8h-.8zM294.8,341.4h.8v.8h-.8zM300.2,355.9h.8v.8h-.8zM295.5,369.4h.8v.8h-.8zM292.6,368.5h.8v.8h-.8zM292.5,345.5h.8v.8h-.8zM298.9,362.0h.8v.8h-.8zM296.5,370.8h.8v.8h-.8zM295.0,348.3h.8v.8h-.8zM297.8,362.9h.8v.8h-.8z" fill="#9a4890" opacity="0.85"/>
<line x1="183" y1="392.3" x2="183" y2="437.2" stroke="#262626" stroke-width="1.2"/>
<line x1="182.5" y1="436.7" x2="306.3" y2="436.7" stroke="#262626" stroke-width="1.2"/>
<line x1="180.8" y1="434.8" x2="183" y2="434.8" stroke="#3a3a3a" stroke-width="0.7"/>
<text x="178" y="437.1" font-size="7.15" text-anchor="end" fill="#262626" stroke="#262626" stroke-width="0.2">0.0</text>
<line x1="180.8" y1="423.3" x2="183" y2="423.3" stroke="#3a3a3a" stroke-width="0.7"/>
<text x="178" y="425.6" font-size="7.15" text-anchor="end" fill="#262626" stroke="#262626" stroke-width="0.2">0.5</text>
<line x1="180.8" y1="411.8" x2="183" y2="411.8" stroke="#3a3a3a" stroke-width="0.7"/>
<text x="178" y="414.1" font-size="7.15" text-anchor="end" fill="#262626" stroke="#262626" stroke-width="0.2">1.0</text>
<line x1="180.8" y1="400.4" x2="183" y2="400.4" stroke="#3a3a3a" stroke-width="0.7"/>
<text x="178" y="402.7" font-size="7.15" text-anchor="end" fill="#262626" stroke="#262626" stroke-width="0.2">1.5</text>
<text x="0" y="0" transform="translate(162.4,414.5) rotate(-90)" font-size="7.15" text-anchor="middle" textLength="46.5" lengthAdjust="spacingAndGlyphs" fill="#262626" stroke="#262626" stroke-width="0.2">Expression level</text>
<text x="246.2" y="391.2" font-size="7.04" text-anchor="middle" fill="#262626" stroke="#262626" stroke-width="0.2">Gata1</text>
<text x="273.5" y="390.4" font-size="7.04" textLength="41.5" lengthAdjust="spacingAndGlyphs" fill="#262626" stroke="#262626" stroke-width="0.2">padj = 3.3E-17</text>
<line x1="197.4" y1="437.3" x2="197.4" y2="439.9" stroke="#3a3a3a" stroke-width="0.7"/>
<path d="M200.5,414.6h0.8v0.8h-0.8zM200.4,430.8h0.8v0.8h-0.8zM208.1,405.4h0.8v0.8h-0.8zM189.6,405.2h0.8v0.8h-0.8zM185.6,427.6h0.8v0.8h-0.8zM204.4,421.8h0.8v0.8h-0.8zM199.9,421.5h0.8v0.8h-0.8zM206.4,403.0h0.8v0.8h-0.8zM203.3,400.3h0.8v0.8h-0.8zM196.3,410.4h0.8v0.8h-0.8zM192.5,402.2h0.8v0.8h-0.8zM185.3,402.3h0.8v0.8h-0.8zM187.4,432.2h0.8v0.8h-0.8zM188.6,405.4h0.8v0.8h-0.8zM198.4,424.0h0.8v0.8h-0.8zM205.4,431.5h0.8v0.8h-0.8zM185.5,427.5h0.8v0.8h-0.8zM201.9,424.0h0.8v0.8h-0.8zM187.2,428.8h0.8v0.8h-0.8zM193.5,404.0h0.8v0.8h-0.8z" fill="#8e8e8e"/>
<path d="M203.40,435.30 C204.57,435.10 202.26,433.98 201.90,433.50 C201.54,433.02 200.03,431.61 200.20,431.00 C200.37,430.39 202.60,428.78 203.40,428.00 C204.20,427.22 206.90,424.78 207.40,424.00 C207.90,423.22 208.18,421.72 207.90,421.00 C207.62,420.28 205.68,418.39 204.90,417.50 C204.12,416.61 201.51,413.83 200.90,413.00 C200.29,412.17 199.68,410.89 199.40,410.00 C199.12,409.11 198.57,406.11 198.40,405.00 C198.23,403.89 197.99,401.24 197.90,400.00 C197.81,398.76 197.68,394.49 197.60,393.80 C197.52,393.11 197.28,393.11 197.20,393.80 C197.12,394.49 196.99,398.76 196.90,400.00 C196.81,401.24 196.57,403.89 196.40,405.00 C196.23,406.11 195.68,409.11 195.40,410.00 C195.12,410.89 194.51,412.17 193.90,413.00 C193.29,413.83 190.68,416.61 189.90,417.50 C189.12,418.39 187.18,420.28 186.90,421.00 C186.62,421.72 186.90,423.22 187.40,424.00 C187.90,424.78 190.60,427.22 191.40,428.00 C192.20,428.78 194.43,430.39 194.60,431.00 C194.77,431.61 193.26,433.02 192.90,433.50 C192.54,433.98 190.23,435.10 191.40,435.30 C192.57,435.50 202.23,435.50 203.40,435.30Z" fill="#f06a68" stroke="#c85050" stroke-width="0.35"/>
<path d="M197.6,400.3h.8v.8h-.8zM197.4,410.3h.8v.8h-.8zM192.5,425.0h.8v.8h-.8zM193.9,414.5h.8v.8h-.8zM197.3,399.0h.8v.8h-.8zM197.7,401.2h.8v.8h-.8zM197.3,397.9h.8v.8h-.8zM196.5,434.4h.8v.8h-.8zM193.7,424.2h.8v.8h-.8zM194.7,413.0h.8v.8h-.8zM198.2,411.7h.8v.8h-.8zM196.6,426.0h.8v.8h-.8zM197.7,400.8h.8v.8h-.8zM202.9,417.1h.8v.8h-.8zM198.5,408.6h.8v.8h-.8zM194.1,433.5h.8v.8h-.8zM199.9,425.6h.8v.8h-.8zM201.5,422.5h.8v.8h-.8zM192.8,425.6h.8v.8h-.8zM199.2,434.0h.8v.8h-.8zM197.7,425.5h.8v.8h-.8zM195.3,431.7h.8v.8h-.8zM197.5,397.9h.8v.8h-.8zM197.4,406.3h.8v.8h-.8zM197.1,407.7h.8v.8h-.8zM196.2,413.2h.8v.8h-.8zM195.6,416.9h.8v.8h-.8zM196.2,409.8h.8v.8h-.8zM198.2,411.7h.8v.8h-.8zM197.5,397.7h.8v.8h-.8zM197.3,407.0h.8v.8h-.8zM199.8,432.9h.8v.8h-.8zM197.2,423.5h.8v.8h-.8zM197.8,402.2h.8v.8h-.8zM203.7,425.8h.8v.8h-.8zM197.3,397.8h.8v.8h-.8zM196.9,430.3h.8v.8h-.8zM197.4,398.7h.8v.8h-.8zM199.4,421.5h.8v.8h-.8zM195.7,418.9h.8v.8h-.8z" fill="#c85050" opacity="0.85"/>
<line x1="221.0" y1="437.3" x2="221.0" y2="439.9" stroke="#3a3a3a" stroke-width="0.7"/>
<path d="M225.7,428.4h0.8v0.8h-0.8zM211.8,407.9h0.8v0.8h-0.8zM221.8,423.7h0.8v0.8h-0.8zM230.0,422.7h0.8v0.8h-0.8zM231.7,418.8h0.8v0.8h-0.8zM232.7,410.8h0.8v0.8h-0.8zM232.6,407.9h0.8v0.8h-0.8zM213.4,409.2h0.8v0.8h-0.8zM228.0,414.2h0.8v0.8h-0.8zM222.4,412.1h0.8v0.8h-0.8zM229.1,409.9h0.8v0.8h-0.8zM211.4,426.9h0.8v0.8h-0.8zM212.6,433.1h0.8v0.8h-0.8zM213.2,415.2h0.8v0.8h-0.8zM209.5,426.2h0.8v0.8h-0.8zM210.0,426.0h0.8v0.8h-0.8zM228.5,434.1h0.8v0.8h-0.8zM234.0,429.1h0.8v0.8h-0.8zM209.7,430.7h0.8v0.8h-0.8zM231.3,418.4h0.8v0.8h-0.8zM211.7,411.5h0.8v0.8h-0.8zM230.3,404.1h0.8v0.8h-0.8zM210.2,421.9h0.8v0.8h-0.8zM233.5,433.5h0.8v0.8h-0.8z" fill="#8e8e8e"/>
<path d="M232.50,435.30 C234.67,435.10 229.94,434.14 229.00,433.50 C228.06,432.86 224.22,430.39 224.00,429.50 C223.78,428.61 226.39,426.56 227.00,425.50 C227.61,424.44 229.33,421.06 229.50,420.00 C229.67,418.94 229.00,417.00 228.50,416.00 C228.00,415.00 225.61,412.11 225.00,411.00 C224.39,409.89 223.33,407.00 223.00,406.00 C222.67,405.00 222.20,402.76 222.00,402.00 C221.80,401.24 221.33,399.51 221.20,399.20 C221.07,398.89 220.93,398.89 220.80,399.20 C220.67,399.51 220.20,401.24 220.00,402.00 C219.80,402.76 219.33,405.00 219.00,406.00 C218.67,407.00 217.61,409.89 217.00,411.00 C216.39,412.11 214.00,415.00 213.50,416.00 C213.00,417.00 212.33,418.94 212.50,420.00 C212.67,421.06 214.39,424.44 215.00,425.50 C215.61,426.56 218.22,428.61 218.00,429.50 C217.78,430.39 213.94,432.86 213.00,433.50 C212.06,434.14 207.33,435.10 209.50,435.30 C211.67,435.50 230.33,435.50 232.50,435.30Z" fill="#aeae26" stroke="#8a8a18" stroke-width="0.35"/>
<path d="M217.7,415.0h.8v.8h-.8zM223.2,431.4h.8v.8h-.8zM222.0,428.8h.8v.8h-.8zM226.0,419.8h.8v.8h-.8zM222.8,408.0h.8v.8h-.8zM219.4,430.4h.8v.8h-.8zM225.5,417.5h.8v.8h-.8zM221.0,401.4h.8v.8h-.8zM224.8,418.9h.8v.8h-.8zM222.7,434.6h.8v.8h-.8zM219.5,410.3h.8v.8h-.8zM222.2,429.4h.8v.8h-.8zM219.5,423.8h.8v.8h-.8zM221.8,406.2h.8v.8h-.8zM221.2,409.0h.8v.8h-.8zM222.0,430.1h.8v.8h-.8zM221.8,405.4h.8v.8h-.8zM224.3,412.0h.8v.8h-.8zM224.2,431.6h.8v.8h-.8zM220.7,430.1h.8v.8h-.8zM216.5,422.0h.8v.8h-.8zM219.9,423.7h.8v.8h-.8zM223.1,432.5h.8v.8h-.8zM220.3,428.4h.8v.8h-.8zM219.0,424.1h.8v.8h-.8zM225.0,417.4h.8v.8h-.8zM215.4,416.7h.8v.8h-.8zM218.8,429.2h.8v.8h-.8zM218.9,431.2h.8v.8h-.8zM219.5,410.8h.8v.8h-.8zM219.5,409.0h.8v.8h-.8zM223.8,418.8h.8v.8h-.8zM217.5,431.8h.8v.8h-.8zM222.6,422.8h.8v.8h-.8zM220.4,425.2h.8v.8h-.8zM222.6,416.6h.8v.8h-.8zM221.8,410.9h.8v.8h-.8zM219.4,419.0h.8v.8h-.8zM221.9,413.0h.8v.8h-.8zM220.4,405.4h.8v.8h-.8zM219.3,428.2h.8v.8h-.8zM218.6,429.0h.8v.8h-.8zM224.3,414.0h.8v.8h-.8zM219.5,428.0h.8v.8h-.8zM219.3,424.6h.8v.8h-.8zM221.0,410.3h.8v.8h-.8zM223.5,412.1h.8v.8h-.8zM220.6,417.6h.8v.8h-.8z" fill="#8a8a18" opacity="0.85"/>
<line x1="244.6" y1="437.3" x2="244.6" y2="439.9" stroke="#3a3a3a" stroke-width="0.7"/>
<path d="M233.1,424.9h0.8v0.8h-0.8zM255.6,426.0h0.8v0.8h-0.8zM251.4,429.2h0.8v0.8h-0.8zM244.6,424.2h0.8v0.8h-0.8zM236.2,434.3h0.8v0.8h-0.8zM243.8,424.5h0.8v0.8h-0.8zM243.4,427.6h0.8v0.8h-0.8zM233.1,429.5h0.8v0.8h-0.8zM253.7,427.9h0.8v0.8h-0.8zM246.0,426.9h0.8v0.8h-0.8zM235.4,428.8h0.8v0.8h-0.8zM234.9,428.7h0.8v0.8h-0.8zM237.8,423.2h0.8v0.8h-0.8zM237.4,427.7h0.8v0.8h-0.8zM244.3,423.9h0.8v0.8h-0.8zM242.5,422.8h0.8v0.8h-0.8zM246.6,424.7h0.8v0.8h-0.8zM237.7,433.1h0.8v0.8h-0.8zM250.1,432.9h0.8v0.8h-0.8zM241.0,423.0h0.8v0.8h-0.8zM238.4,424.1h0.8v0.8h-0.8zM237.4,425.1h0.8v0.8h-0.8z" fill="#8e8e8e"/>
<rect x="232.6" y="433.8" width="24" height="1.4" fill="#a0a0a0"/><line x1="244.6" y1="434.8" x2="244.6" y2="420.7" stroke="#7a7a7a" stroke-width="0.6"/>
<line x1="268.3" y1="437.3" x2="268.3" y2="439.9" stroke="#3a3a3a" stroke-width="0.7"/>
<path d="M260.5,404.1h0.8v0.8h-0.8zM278.8,403.8h0.8v0.8h-0.8zM279.6,433.4h0.8v0.8h-0.8zM269.6,417.5h0.8v0.8h-0.8zM274.7,417.2h0.8v0.8h-0.8zM258.7,406.9h0.8v0.8h-0.8zM263.0,434.1h0.8v0.8h-0.8zM259.8,405.8h0.8v0.8h-0.8zM267.1,419.0h0.8v0.8h-0.8zM272.8,415.5h0.8v0.8h-0.8zM280.1,426.2h0.8v0.8h-0.8zM264.4,403.9h0.8v0.8h-0.8zM269.6,415.3h0.8v0.8h-0.8zM261.6,425.3h0.8v0.8h-0.8zM275.5,405.2h0.8v0.8h-0.8zM265.5,432.9h0.8v0.8h-0.8zM260.3,429.2h0.8v0.8h-0.8zM265.1,433.8h0.8v0.8h-0.8zM275.6,427.3h0.8v0.8h-0.8zM259.8,418.7h0.8v0.8h-0.8zM263.6,413.1h0.8v0.8h-0.8zM274.5,415.5h0.8v0.8h-0.8zM260.8,433.9h0.8v0.8h-0.8zM259.6,427.5h0.8v0.8h-0.8zM270.8,405.8h0.8v0.8h-0.8zM267.1,408.6h0.8v0.8h-0.8zM279.1,409.5h0.8v0.8h-0.8zM275.3,408.5h0.8v0.8h-0.8zM276.0,422.3h0.8v0.8h-0.8zM275.4,428.1h0.8v0.8h-0.8zM270.6,403.7h0.8v0.8h-0.8zM270.8,406.5h0.8v0.8h-0.8zM278.7,430.9h0.8v0.8h-0.8zM264.4,432.0h0.8v0.8h-0.8zM273.2,433.7h0.8v0.8h-0.8z" fill="#8e8e8e"/>
<rect x="256.3" y="433.8" width="24" height="1.4" fill="#a0a0a0"/><line x1="268.3" y1="434.8" x2="268.3" y2="400.0" stroke="#7a7a7a" stroke-width="0.6"/>
<line x1="292.5" y1="437.3" x2="292.5" y2="439.9" stroke="#3a3a3a" stroke-width="0.7"/>
<path d="M303.4,429.4h0.8v0.8h-0.8zM286.1,418.6h0.8v0.8h-0.8zM294.4,426.4h0.8v0.8h-0.8zM298.0,413.7h0.8v0.8h-0.8zM292.0,432.2h0.8v0.8h-0.8zM301.1,418.9h0.8v0.8h-0.8zM282.1,424.5h0.8v0.8h-0.8zM304.4,416.2h0.8v0.8h-0.8zM281.6,417.4h0.8v0.8h-0.8zM303.3,411.8h0.8v0.8h-0.8zM293.6,431.7h0.8v0.8h-0.8zM295.9,430.7h0.8v0.8h-0.8zM301.8,417.1h0.8v0.8h-0.8zM295.3,415.8h0.8v0.8h-0.8zM284.3,419.5h0.8v0.8h-0.8zM304.6,426.0h0.8v0.8h-0.8zM290.9,421.4h0.8v0.8h-0.8zM291.0,427.2h0.8v0.8h-0.8zM285.0,419.9h0.8v0.8h-0.8zM285.0,425.1h0.8v0.8h-0.8zM291.7,428.4h0.8v0.8h-0.8zM297.0,421.7h0.8v0.8h-0.8zM288.1,425.6h0.8v0.8h-0.8zM295.2,424.4h0.8v0.8h-0.8zM286.3,422.6h0.8v0.8h-0.8zM303.9,430.3h0.8v0.8h-0.8zM292.8,422.6h0.8v0.8h-0.8zM298.4,431.3h0.8v0.8h-0.8z" fill="#8e8e8e"/>
<rect x="280.5" y="433.8" width="24" height="1.4" fill="#a0a0a0"/><line x1="292.5" y1="434.8" x2="292.5" y2="409.4" stroke="#7a7a7a" stroke-width="0.6"/>
<text x="354.2" y="265.1" font-size="6.82" textLength="22.2" lengthAdjust="spacingAndGlyphs" fill="#262626" stroke="#262626" stroke-width="0.2">SETBP1</text><text x="378.6" y="260.6" font-size="3.52" textLength="4.9" lengthAdjust="spacingAndGlyphs" fill="#262626" stroke="#262626" stroke-width="0.16">LSL</text>
<text x="397.6" y="265.1" font-size="6.82" textLength="22.2" lengthAdjust="spacingAndGlyphs" fill="#262626" stroke="#262626" stroke-width="0.2">SETBP1</text><text x="420.3" y="260.6" font-size="3.52" textLength="12.7" lengthAdjust="spacingAndGlyphs" fill="#262626" stroke="#262626" stroke-width="0.16">G870S</text>
<text x="351.5" y="272.7" font-size="6.82" text-anchor="middle" fill="#262626" stroke="#262626" stroke-width="0.2">1</text>
<text x="365.8" y="272.7" font-size="6.82" text-anchor="middle" fill="#262626" stroke="#262626" stroke-width="0.2">2</text>
<text x="380.0" y="272.7" font-size="6.82" text-anchor="middle" fill="#262626" stroke="#262626" stroke-width="0.2">3</text>
<text x="395.5" y="272.7" font-size="6.82" text-anchor="middle" fill="#262626" stroke="#262626" stroke-width="0.2">1</text>
<text x="410.0" y="272.7" font-size="6.82" text-anchor="middle" fill="#262626" stroke="#262626" stroke-width="0.2">2</text>
<text x="424.5" y="272.7" font-size="6.82" text-anchor="middle" fill="#262626" stroke="#262626" stroke-width="0.2">3</text>
<rect x="344.2" y="273.8" width="87.0" height="11.2" fill="#ececec"/>
<rect x="344.2" y="286.6" width="87.0" height="11.4" fill="#f0f0f0"/>
<rect x="344.2" y="300.8" width="87.0" height="10.0" fill="#f3f3f3"/>
<rect x="344.2" y="313.6" width="87.0" height="12.4" fill="#dadada"/>
<rect x="344.2" y="327.8" width="87.0" height="12.4" fill="#d6d6d6"/>
<rect x="344.2" y="341.2" width="87.0" height="17.4" fill="#e6e6e6"/>
<rect x="344.2" y="359.6" width="87.0" height="13.0" fill="#e2e2e2"/>
<rect x="344.2" y="373.6" width="87.0" height="8.4" fill="#f5f5f5"/>
<rect x="344.2" y="386.5" width="87.0" height="11.3" fill="#f0f0f0"/>
<rect x="344.2" y="401.2" width="87.0" height="11.2" fill="#f5f5f5"/>
<rect x="344.2" y="413.2" width="87.0" height="13.4" fill="#e8e8e8"/>
<rect x="344.2" y="428.6" width="87.0" height="10.8" fill="#eeeeee"/>
<rect x="346.2" y="276.0" width="10.5" height="7.0" rx="1.5" fill="#d8d8d8" filter="url(#blur6)"/>
<rect x="360.6" y="276.0" width="10.5" height="7.0" rx="1.5" fill="#dcdcdc" filter="url(#blur6)"/>
<rect x="374.8" y="277.0" width="10.5" height="6.0" rx="1.5" fill="#e0e0e0" filter="url(#blur6)"/>
<rect x="390.0" y="274.6" width="11.0" height="9.8" rx="1.5" fill="#5a5a5a" filter="url(#blur6)"/>
<rect x="390.0" y="274.8" width="10.0" height="5.7" rx="1.5" fill="#262626" filter="url(#blur6)"/>
<rect x="404.5" y="275.5" width="11.0" height="8.1" rx="1.5" fill="#a8a8a8" filter="url(#blur6)"/>
<rect x="405.0" y="277.8" width="10.0" height="3.2" rx="1.5" fill="#5a5a5a" filter="url(#blur6)"/>
<rect x="419.0" y="276.0" width="11.0" height="7.6" rx="1.5" fill="#c8c8c8" filter="url(#blur6)"/>
<rect x="419.5" y="278.5" width="10.0" height="2.5" rx="1.5" fill="#8a8a8a" filter="url(#blur6)"/>
<rect x="346.2" y="291.0" width="10.5" height="2.5" rx="1.5" fill="#dedede" filter="url(#blur6)"/>
<rect x="360.6" y="291.0" width="10.5" height="2.5" rx="1.5" fill="#e0e0e0" filter="url(#blur6)"/>
<rect x="374.8" y="291.0" width="10.5" height="2.5" rx="1.5" fill="#e4e4e4" filter="url(#blur6)"/>
<rect x="389.8" y="288.4" width="11.5" height="9.0" rx="1.5" fill="#101010" filter="url(#blur6)"/>
<rect x="404.5" y="291.0" width="11.0" height="4.2" rx="1.5" fill="#141414" filter="url(#blur6)"/>
<rect x="418.5" y="288.6" width="12.0" height="8.8" rx="1.5" fill="#101010" filter="url(#blur6)"/>
<rect x="364.3" y="304.3" width="5.0" height="1.5" rx="1.5" fill="#c0c0c0" filter="url(#blur6)"/>
<rect x="376.0" y="304.0" width="6.0" height="1.8" rx="1.5" fill="#9c9c9c" filter="url(#blur6)"/>
<rect x="389.8" y="302.2" width="11.5" height="3.4" rx="1.5" fill="#080808" filter="url(#blur6)"/>
<rect x="389.8" y="306.4" width="11.5" height="3.0" rx="1.5" fill="#101010" filter="url(#blur6)"/>
<rect x="404.5" y="302.6" width="11.0" height="2.6" rx="1.5" fill="#0c0c0c" filter="url(#blur6)"/>
<rect x="404.5" y="306.6" width="11.0" height="2.4" rx="1.5" fill="#202020" filter="url(#blur6)"/>
<rect x="418.8" y="302.2" width="11.5" height="3.4" rx="1.5" fill="#080808" filter="url(#blur6)"/>
<rect x="418.8" y="306.4" width="11.5" height="3.0" rx="1.5" fill="#101010" filter="url(#blur6)"/>
<rect x="390.5" y="318.4" width="10.0" height="3.2" rx="1.5" fill="#262626" filter="url(#blur6)"/>
<rect x="404.0" y="316.2" width="12.0" height="7.6" rx="1.5" fill="#0a0a0a" filter="url(#blur6)"/>
<rect x="418.5" y="316.4" width="12.0" height="7.4" rx="1.5" fill="#0e0e0e" filter="url(#blur6)"/>
<rect x="346.5" y="332.2" width="10.0" height="2.8" rx="1.5" fill="#5a5a5a" filter="url(#blur6)"/>
<rect x="360.8" y="332.2" width="10.0" height="2.8" rx="1.5" fill="#7a7a7a" filter="url(#blur6)"/>
<rect x="375.0" y="332.6" width="10.0" height="2.6" rx="1.5" fill="#a0a0a0" filter="url(#blur6)"/>
<rect x="390.2" y="331.8" width="10.5" height="3.6" rx="1.5" fill="#1e1e1e" filter="url(#blur6)"/>
<rect x="405.0" y="332.2" width="10.0" height="2.8" rx="1.5" fill="#929292" filter="url(#blur6)"/>
<rect x="418.8" y="330.4" width="11.5" height="7.4" rx="1.5" fill="#0a0a0a" filter="url(#blur6)"/>
<rect x="346.2" y="341.8" width="10.5" height="16.0" rx="1.5" fill="#a8a8a8" filter="url(#blur6)"/>
<rect x="346.5" y="342.4" width="10.0" height="2.6" rx="1.5" fill="#3a3a3a" filter="url(#blur6)"/>
<rect x="346.5" y="348.6" width="10.0" height="3.0" rx="1.5" fill="#4a4a4a" filter="url(#blur6)"/>
<rect x="346.5" y="354.0" width="10.0" height="2.6" rx="1.5" fill="#2e2e2e" filter="url(#blur6)"/>
<rect x="360.8" y="342.5" width="10.0" height="15.0" rx="1.5" fill="#c4c4c4" filter="url(#blur6)"/>
<rect x="365.8" y="343.0" width="4.0" height="2.5" rx="1.5" fill="#6a6a6a" filter="url(#blur6)"/>
<rect x="361.3" y="354.5" width="3.0" height="2.0" rx="1.5" fill="#5a5a5a" filter="url(#blur6)"/>
<rect x="361.8" y="350.0" width="8.0" height="2.0" rx="1.5" fill="#a0a0a0" filter="url(#blur6)"/>
<rect x="375.0" y="342.5" width="10.0" height="15.0" rx="1.5" fill="#dadada" filter="url(#blur6)"/>
<rect x="376.0" y="354.0" width="8.0" height="2.0" rx="1.5" fill="#bcbcbc" filter="url(#blur6)"/>
<rect x="390.0" y="342.6" width="11.0" height="2.6" rx="1.5" fill="#2a2a2a" filter="url(#blur6)"/>
<rect x="390.0" y="349.0" width="11.0" height="2.6" rx="1.5" fill="#2e2e2e" filter="url(#blur6)"/>
<rect x="390.0" y="354.2" width="11.0" height="2.6" rx="1.5" fill="#1a1a1a" filter="url(#blur6)"/>
<rect x="390.5" y="345.0" width="10.0" height="9.0" rx="1.5" fill="#b0b0b0" filter="url(#blur6)"/>
<rect x="405.0" y="342.5" width="10.0" height="15.0" rx="1.5" fill="#bcbcbc" filter="url(#blur6)"/>
<rect x="405.0" y="343.0" width="10.0" height="2.4" rx="1.5" fill="#7a7a7a" filter="url(#blur6)"/>
<rect x="405.0" y="348.8" width="10.0" height="2.4" rx="1.5" fill="#8a8a8a" filter="url(#blur6)"/>
<rect x="405.0" y="354.0" width="10.0" height="2.4" rx="1.5" fill="#7a7a7a" filter="url(#blur6)"/>
<rect x="418.8" y="342.6" width="11.5" height="2.6" rx="1.5" fill="#121212" filter="url(#blur6)"/>
<rect x="419.5" y="348.8" width="10.0" height="2.4" rx="1.5" fill="#a8a8a8" filter="url(#blur6)"/>
<rect x="419.0" y="354.0" width="11.0" height="2.6" rx="1.5" fill="#262626" filter="url(#blur6)"/>
<rect x="346.5" y="361.0" width="10.0" height="10.5" rx="1.5" fill="#c0c0c0" filter="url(#blur6)"/>
<rect x="354.1" y="360.5" width="1.8" height="11.0" rx="1.5" fill="#2a2a2a" filter="url(#blur3)"/>
<rect x="360.6" y="362.0" width="10.5" height="8.0" rx="1.5" fill="#ababab" filter="url(#blur6)"/>
<rect x="374.8" y="362.0" width="10.5" height="8.0" rx="1.5" fill="#b0b0b0" filter="url(#blur6)"/>
<rect x="390.0" y="362.6" width="11.0" height="7.8" rx="1.5" fill="#222" filter="url(#blur6)"/>
<rect x="390.0" y="361.5" width="11.0" height="2.5" rx="1.5" fill="#888" filter="url(#blur6)"/>
<rect x="404.8" y="362.8" width="10.5" height="5.6" rx="1.5" fill="#7a7a7a" filter="url(#blur6)"/>
<rect x="418.8" y="362.4" width="11.5" height="8.4" rx="1.5" fill="#141414" filter="url(#blur6)"/>
<rect x="346.5" y="375.8" width="8.0" height="2.6" rx="1.5" fill="#666" filter="url(#blur6)"/>
<rect x="389.8" y="375.4" width="11.5" height="4.8" rx="1.5" fill="#080808" filter="url(#blur6)"/>
<rect x="404.8" y="376.0" width="10.5" height="3.6" rx="1.5" fill="#101010" filter="url(#blur6)"/>
<rect x="418.8" y="375.6" width="11.5" height="4.8" rx="1.5" fill="#0a0a0a" filter="url(#blur6)"/>
<rect x="346.5" y="389.4" width="10.0" height="3.2" rx="1.5" fill="#505050" filter="url(#blur6)"/>
<rect x="360.8" y="389.6" width="10.0" height="2.8" rx="1.5" fill="#a4a4a4" filter="url(#blur6)"/>
<rect x="375.0" y="389.6" width="10.0" height="2.8" rx="1.5" fill="#a8a8a8" filter="url(#blur6)"/>
<rect x="390.2" y="389.2" width="10.5" height="3.4" rx="1.5" fill="#2a2a2a" filter="url(#blur6)"/>
<rect x="404.5" y="388.8" width="11.0" height="4.0" rx="1.5" fill="#0a0a0a" filter="url(#blur6)"/>
<rect x="419.2" y="389.2" width="10.5" height="3.4" rx="1.5" fill="#222" filter="url(#blur6)"/>
<rect x="346.5" y="393.4" width="10.0" height="2.4" rx="1.5" fill="#5a5a5a" filter="url(#blur6)"/>
<rect x="360.8" y="393.6" width="10.0" height="2.2" rx="1.5" fill="#a8a8a8" filter="url(#blur6)"/>
<rect x="375.0" y="393.6" width="10.0" height="2.2" rx="1.5" fill="#b4b4b4" filter="url(#blur6)"/>
<rect x="390.5" y="393.6" width="10.0" height="2.2" rx="1.5" fill="#b0b0b0" filter="url(#blur6)"/>
<rect x="405.0" y="393.6" width="10.0" height="2.2" rx="1.5" fill="#c4c4c4" filter="url(#blur6)"/>
<rect x="419.2" y="393.4" width="10.5" height="2.6" rx="1.5" fill="#505050" filter="url(#blur6)"/>
<rect x="347.0" y="405.8" width="9.0" height="2.6" rx="1.5" fill="#5a5a5a" filter="url(#blur6)"/>
<rect x="359.6" y="403.8" width="12.5" height="6.8" rx="1.5" fill="#080808" filter="url(#blur6)"/>
<rect x="375.0" y="405.8" width="10.0" height="3.2" rx="1.5" fill="#1e1e1e" filter="url(#blur6)"/>
<rect x="390.5" y="404.0" width="10.0" height="6.0" rx="1.5" fill="#eeeeee" filter="url(#blur6)"/>
<rect x="419.5" y="404.0" width="10.0" height="6.0" rx="1.5" fill="#ececec" filter="url(#blur6)"/>
<rect x="346.2" y="414.0" width="10.5" height="11.5" rx="1.5" fill="#b0b0b0" filter="url(#blur6)"/>
<rect x="346.5" y="415.5" width="10.0" height="2.0" rx="1.5" fill="#6a6a6a" filter="url(#blur6)"/>
<rect x="346.5" y="420.0" width="10.0" height="2.5" rx="1.5" fill="#7a7a7a" filter="url(#blur6)"/>
<rect x="360.6" y="414.0" width="10.5" height="11.5" rx="1.5" fill="#a8a8a8" filter="url(#blur6)"/>
<rect x="360.8" y="415.5" width="10.0" height="2.5" rx="1.5" fill="#606060" filter="url(#blur6)"/>
<rect x="360.8" y="420.0" width="10.0" height="2.5" rx="1.5" fill="#6a6a6a" filter="url(#blur6)"/>
<rect x="374.8" y="414.0" width="10.5" height="11.5" rx="1.5" fill="#bcbcbc" filter="url(#blur6)"/>
<rect x="375.5" y="416.0" width="9.0" height="2.0" rx="1.5" fill="#7a7a7a" filter="url(#blur6)"/>
<rect x="375.5" y="420.5" width="9.0" height="2.0" rx="1.5" fill="#9a9a9a" filter="url(#blur6)"/>
<rect x="390.0" y="414.0" width="11.0" height="11.5" rx="1.5" fill="#4a4a4a" filter="url(#blur6)"/>
<rect x="390.0" y="415.0" width="11.0" height="3.5" rx="1.5" fill="#141414" filter="url(#blur6)"/>
<rect x="390.0" y="420.0" width="11.0" height="2.5" rx="1.5" fill="#262626" filter="url(#blur6)"/>
<rect x="404.8" y="414.0" width="10.5" height="11.5" rx="1.5" fill="#5a5a5a" filter="url(#blur6)"/>
<rect x="405.0" y="415.0" width="10.0" height="3.5" rx="1.5" fill="#1e1e1e" filter="url(#blur6)"/>
<rect x="405.0" y="420.0" width="10.0" height="2.0" rx="1.5" fill="#3a3a3a" filter="url(#blur6)"/>
<rect x="419.0" y="414.0" width="11.0" height="11.5" rx="1.5" fill="#4a4a4a" filter="url(#blur6)"/>
<rect x="419.0" y="416.0" width="11.0" height="5.5" rx="1.5" fill="#101010" filter="url(#blur6)"/>
<rect x="345.8" y="432.8" width="11.5" height="2.8" rx="1.5" fill="#161616" filter="url(#blur6)"/>
<rect x="360.1" y="432.8" width="11.5" height="2.8" rx="1.5" fill="#161616" filter="url(#blur6)"/>
<rect x="374.2" y="432.8" width="11.5" height="2.8" rx="1.5" fill="#161616" filter="url(#blur6)"/>
<rect x="389.8" y="432.8" width="11.5" height="2.8" rx="1.5" fill="#161616" filter="url(#blur6)"/>
<rect x="404.2" y="432.8" width="11.5" height="2.8" rx="1.5" fill="#161616" filter="url(#blur6)"/>
<rect x="418.8" y="432.8" width="11.5" height="2.8" rx="1.5" fill="#161616" filter="url(#blur6)"/>
<text x="435.8" y="282.0" font-size="6.71" fill="#262626" stroke="#262626" stroke-width="0.2">V5</text>
<text x="435.8" y="295.09999999999997" font-size="6.71" fill="#262626" stroke="#262626" stroke-width="0.2">Setbp1</text>
<text x="435.8" y="308.4" font-size="6.71" fill="#262626" stroke="#262626" stroke-width="0.2">Set</text>
<text x="435.8" y="322.59999999999997" font-size="6.71" fill="#262626" stroke="#262626" stroke-width="0.2">p-Pp2a</text>
<text x="435.8" y="336.09999999999997" font-size="6.71" fill="#262626" stroke="#262626" stroke-width="0.2">Pp2a</text>
<text x="435.8" y="352.5" font-size="6.71" fill="#262626" stroke="#262626" stroke-width="0.2">Evi1/Mecom</text>
<text x="435.8" y="368.9" font-size="6.71" fill="#262626" stroke="#262626" stroke-width="0.2">Bmp5</text>
<text x="435.8" y="379.59999999999997" font-size="6.71" fill="#262626" stroke="#262626" stroke-width="0.2">p-S6</text>
<text x="435.8" y="395.09999999999997" font-size="6.71" fill="#262626" stroke="#262626" stroke-width="0.2">S6</text>
<text x="435.8" y="407.9" font-size="6.71" fill="#262626" stroke="#262626" stroke-width="0.2">p53</text>
<text x="435.8" y="422.0" font-size="6.71" fill="#262626" stroke="#262626" stroke-width="0.2">Myc</text>
<text x="435.8" y="436.2" font-size="6.71" fill="#262626" stroke="#262626" stroke-width="0.2">Actin</text>
<line x1="39.3" y1="483.5" x2="167.2" y2="483.5" stroke="#d6d6d6" stroke-width="0.6"/>
<line x1="39.3" y1="539.4" x2="167.2" y2="539.4" stroke="#cfcfcf" stroke-width="0.6"/>
<line x1="47.5" y1="539.8" x2="47.5" y2="557.8" stroke="#555" stroke-width="0.55"/>
<line x1="53.2" y1="539.8" x2="53.2" y2="557.8" stroke="#999" stroke-width="0.55"/>
<line x1="55.2" y1="539.8" x2="55.2" y2="557.8" stroke="#999" stroke-width="0.55"/>
<line x1="60.4" y1="539.8" x2="60.4" y2="557.8" stroke="#777" stroke-width="0.55"/>
<line x1="81.7" y1="539.8" x2="81.7" y2="557.8" stroke="#999" stroke-width="0.55"/>
<line x1="97.3" y1="539.8" x2="97.3" y2="557.8" stroke="#555" stroke-width="0.55"/>
<line x1="102.0" y1="539.8" x2="102.0" y2="557.8" stroke="#999" stroke-width="0.55"/>
<line x1="105.6" y1="539.8" x2="105.6" y2="557.8" stroke="#555" stroke-width="0.55"/>
<line x1="111.6" y1="539.8" x2="111.6" y2="557.8" stroke="#555" stroke-width="0.55"/>
<line x1="118.0" y1="539.8" x2="118.0" y2="557.8" stroke="#3a3a3a" stroke-width="0.55"/>
<line x1="125.9" y1="539.8" x2="125.9" y2="557.8" stroke="#3a3a3a" stroke-width="0.55"/>
<line x1="131.0" y1="539.8" x2="131.0" y2="557.8" stroke="#777" stroke-width="0.55"/>
<line x1="135.3" y1="539.8" x2="135.3" y2="557.8" stroke="#999" stroke-width="0.55"/>
<line x1="136.5" y1="539.8" x2="136.5" y2="557.8" stroke="#3a3a3a" stroke-width="0.55"/>
<line x1="137.5" y1="539.8" x2="137.5" y2="557.8" stroke="#555" stroke-width="0.55"/>
<line x1="141.4" y1="539.8" x2="141.4" y2="557.8" stroke="#555" stroke-width="0.55"/>
<line x1="142.5" y1="539.8" x2="142.5" y2="557.8" stroke="#555" stroke-width="0.55"/>
<line x1="144.0" y1="539.8" x2="144.0" y2="557.8" stroke="#3a3a3a" stroke-width="0.55"/>
<line x1="146.2" y1="539.8" x2="146.2" y2="557.8" stroke="#999" stroke-width="0.55"/>
<line x1="146.6" y1="539.8" x2="146.6" y2="557.8" stroke="#999" stroke-width="0.55"/>
<line x1="149.2" y1="539.8" x2="149.2" y2="557.8" stroke="#999" stroke-width="0.55"/>
<line x1="150.5" y1="539.8" x2="150.5" y2="557.8" stroke="#3a3a3a" stroke-width="0.55"/>
<line x1="151.8" y1="539.8" x2="151.8" y2="557.8" stroke="#777" stroke-width="0.55"/>
<line x1="152.6" y1="539.8" x2="152.6" y2="557.8" stroke="#999" stroke-width="0.55"/>
<line x1="154.4" y1="539.8" x2="154.4" y2="557.8" stroke="#3a3a3a" stroke-width="0.55"/>
<line x1="154.8" y1="539.8" x2="154.8" y2="557.8" stroke="#777" stroke-width="0.55"/>
<line x1="156.5" y1="539.8" x2="156.5" y2="557.8" stroke="#3a3a3a" stroke-width="0.55"/>
<line x1="157.2" y1="539.8" x2="157.2" y2="557.8" stroke="#555" stroke-width="0.55"/>
<line x1="158.3" y1="539.8" x2="158.3" y2="557.8" stroke="#3a3a3a" stroke-width="0.55"/>
<line x1="159.1" y1="539.8" x2="159.1" y2="557.8" stroke="#3a3a3a" stroke-width="0.55"/>
<line x1="159.9" y1="539.8" x2="159.9" y2="557.8" stroke="#3a3a3a" stroke-width="0.55"/>
<line x1="160.3" y1="539.8" x2="160.3" y2="557.8" stroke="#999" stroke-width="0.55"/>
<line x1="157.6" y1="539.8" x2="157.6" y2="557.8" stroke="#111" stroke-width="0.9"/>
<line x1="159.5" y1="539.8" x2="159.5" y2="557.8" stroke="#111" stroke-width="0.9"/>
<line x1="153.6" y1="539.8" x2="153.6" y2="557.8" stroke="#444" stroke-width="0.8"/>
<linearGradient id="g17" gradientUnits="userSpaceOnUse" x1="39.8" y1="0.0" x2="160.8" y2="0.0"><stop offset="0" stop-color="#d4283a"/><stop offset="0.08399999999999999" stop-color="#e03848"/><stop offset="0.12" stop-color="#ec7088"/><stop offset="0.13999999999999999" stop-color="#f2b4c6"/><stop offset="0.31" stop-color="#ecc8dc"/><stop offset="0.33" stop-color="#e0d8ee"/><stop offset="0.72" stop-color="#d4d4ee"/><stop offset="0.75" stop-color="#8080c8"/><stop offset="0.78" stop-color="#5a5ab0"/><stop offset="1" stop-color="#44449e"/></linearGradient><rect x="39.8" y="557.8" width="121.0" height="4.6" fill="url(#g17)"/>
<polyline points="39.8,482.5 44.0,486.5 47.4,489.4 47.6,488.2 52.0,491.5 53.2,490.3 55.2,492.5 55.4,491.2 58.0,493.0 60.4,494.3 60.6,493.2 65.4,498.5 81.7,512.3 81.9,509.8 83.4,511.0 97.3,521.5 97.5,520.2 102.0,523.8 102.2,522.5 105.6,525.3 105.8,524.0 110.0,526.0 111.6,526.5 111.8,525.2 116.0,527.0 118.0,528.2 118.2,527.0 121.6,530.3 125.9,533.2 126.1,531.8 130.3,534.7 131.0,533.0 131.7,532.8 135.3,536.1 135.5,534.0 137.5,529.0 139.7,531.0 141.4,529.5 142.5,529.3 144.0,530.6 146.6,529.0 147.6,529.6 149.2,528.4 151.8,529.2 152.6,528.2 154.4,524.0 154.8,522.4 156.3,521.7 156.5,519.0 157.7,513.8 158.3,512.0 159.1,505.1 160.1,501.0 160.6,499.3 161.1,490.0 161.3,482.5" fill="none" stroke="#5eab32" stroke-width="1.2" stroke-linejoin="round"/>
<rect x="39.3" y="480.7" width="127.9" height="82.3" fill="none" stroke="#2a2a2a" stroke-width="1.1"/>
<line x1="35.7" y1="482.5" x2="39.3" y2="482.5" stroke="#2a2a2a" stroke-width="0.8"/>
<text x="34.0" y="484.4" font-size="5.83" text-anchor="end" textLength="12.9" lengthAdjust="spacingAndGlyphs" fill="#262626" stroke="#262626" stroke-width="0.2">0.00</text>
<line x1="35.7" y1="488.22" x2="39.3" y2="488.22" stroke="#2a2a2a" stroke-width="0.8"/>
<text x="34.0" y="490.12" font-size="5.83" text-anchor="end" textLength="15.5" lengthAdjust="spacingAndGlyphs" fill="#262626" stroke="#262626" stroke-width="0.2">-0.05</text>
<line x1="35.7" y1="493.94" x2="39.3" y2="493.94" stroke="#2a2a2a" stroke-width="0.8"/>
<text x="34.0" y="495.84" font-size="5.83" text-anchor="end" textLength="15.5" lengthAdjust="spacingAndGlyphs" fill="#262626" stroke="#262626" stroke-width="0.2">-0.10</text>
<line x1="35.7" y1="499.66" x2="39.3" y2="499.66" stroke="#2a2a2a" stroke-width="0.8"/>
<text x="34.0" y="501.56" font-size="5.83" text-anchor="end" textLength="15.5" lengthAdjust="spacingAndGlyphs" fill="#262626" stroke="#262626" stroke-width="0.2">-0.15</text>
<line x1="35.7" y1="505.38" x2="39.3" y2="505.38" stroke="#2a2a2a" stroke-width="0.8"/>
<text x="34.0" y="507.28" font-size="5.83" text-anchor="end" textLength="15.5" lengthAdjust="spacingAndGlyphs" fill="#262626" stroke="#262626" stroke-width="0.2">-0.20</text>
<line x1="35.7" y1="511.1" x2="39.3" y2="511.1" stroke="#2a2a2a" stroke-width="0.8"/>
<text x="34.0" y="513.0" font-size="5.83" text-anchor="end" textLength="15.5" lengthAdjust="spacingAndGlyphs" fill="#262626" stroke="#262626" stroke-width="0.2">-0.25</text>
<line x1="35.7" y1="516.82" x2="39.3" y2="516.82" stroke="#2a2a2a" stroke-width="0.8"/>
<text x="34.0" y="518.72" font-size="5.83" text-anchor="end" textLength="15.5" lengthAdjust="spacingAndGlyphs" fill="#262626" stroke="#262626" stroke-width="0.2">-0.30</text>
<line x1="35.7" y1="522.54" x2="39.3" y2="522.54" stroke="#2a2a2a" stroke-width="0.8"/>
<text x="34.0" y="524.4399999999999" font-size="5.83" text-anchor="end" textLength="15.5" lengthAdjust="spacingAndGlyphs" fill="#262626" stroke="#262626" stroke-width="0.2">-0.35</text>
<line x1="35.7" y1="528.26" x2="39.3" y2="528.26" stroke="#2a2a2a" stroke-width="0.8"/>
<text x="34.0" y="530.16" font-size="5.83" text-anchor="end" textLength="15.5" lengthAdjust="spacingAndGlyphs" fill="#262626" stroke="#262626" stroke-width="0.2">-0.40</text>
<line x1="35.7" y1="533.98" x2="39.3" y2="533.98" stroke="#2a2a2a" stroke-width="0.8"/>
<text x="34.0" y="535.88" font-size="5.83" text-anchor="end" textLength="15.5" lengthAdjust="spacingAndGlyphs" fill="#262626" stroke="#262626" stroke-width="0.2">-0.45</text>
<text x="0" y="0" transform="translate(11.9,511.3) rotate(-90)" font-size="7.04" text-anchor="middle" textLength="70" lengthAdjust="spacingAndGlyphs" fill="#262626" stroke="#262626" stroke-width="0.2">Enrichment score (ES)</text>
<text x="39.599999999999994" y="477.2" font-size="6.93" textLength="55.4" lengthAdjust="spacingAndGlyphs" fill="#262626" stroke="#262626" stroke-width="0.2">TGF-Beta Signaling</text>
<text x="163.8" y="468.6" font-size="6.82" text-anchor="end" textLength="47.5" lengthAdjust="spacingAndGlyphs" fill="#262626" stroke="#262626" stroke-width="0.2">q-value: &lt;0.0001</text>
<text x="163.8" y="476.6" font-size="6.82" text-anchor="end" textLength="27.6" lengthAdjust="spacingAndGlyphs" fill="#262626" stroke="#262626" stroke-width="0.2">NES: −3.8</text>
<line x1="207.5" y1="485.3" x2="343.8" y2="485.3" stroke="#d6d6d6" stroke-width="0.6"/>
<line x1="207.5" y1="539.4" x2="343.8" y2="539.4" stroke="#cfcfcf" stroke-width="0.6"/>
<line x1="208.3" y1="539.8" x2="208.3" y2="558.4" stroke="#555" stroke-width="0.55"/>
<line x1="218.6" y1="539.8" x2="218.6" y2="558.4" stroke="#888" stroke-width="0.55"/>
<line x1="230.8" y1="539.8" x2="230.8" y2="558.4" stroke="#888" stroke-width="0.55"/>
<line x1="234.2" y1="539.8" x2="234.2" y2="558.4" stroke="#777" stroke-width="0.55"/>
<line x1="265.4" y1="539.8" x2="265.4" y2="558.4" stroke="#777" stroke-width="0.55"/>
<line x1="268.8" y1="539.8" x2="268.8" y2="558.4" stroke="#777" stroke-width="0.55"/>
<line x1="279.2" y1="539.8" x2="279.2" y2="558.4" stroke="#555" stroke-width="0.55"/>
<line x1="296.5" y1="539.8" x2="296.5" y2="558.4" stroke="#555" stroke-width="0.55"/>
<line x1="300.0" y1="539.8" x2="300.0" y2="558.4" stroke="#888" stroke-width="0.55"/>
<line x1="303.4" y1="539.8" x2="303.4" y2="558.4" stroke="#555" stroke-width="0.55"/>
<line x1="306.9" y1="539.8" x2="306.9" y2="558.4" stroke="#777" stroke-width="0.55"/>
<line x1="310.4" y1="539.8" x2="310.4" y2="558.4" stroke="#555" stroke-width="0.55"/>
<line x1="313.2" y1="539.8" x2="313.2" y2="558.4" stroke="#555" stroke-width="0.55"/>
<line x1="317.3" y1="539.8" x2="317.3" y2="558.4" stroke="#555" stroke-width="0.55"/>
<line x1="320.8" y1="539.8" x2="320.8" y2="558.4" stroke="#555" stroke-width="0.55"/>
<line x1="324.2" y1="539.8" x2="324.2" y2="558.4" stroke="#888" stroke-width="0.55"/>
<line x1="327.7" y1="539.8" x2="327.7" y2="558.4" stroke="#888" stroke-width="0.55"/>
<line x1="331.1" y1="539.8" x2="331.1" y2="558.4" stroke="#888" stroke-width="0.55"/>
<line x1="334.0" y1="539.8" x2="334.0" y2="558.4" stroke="#888" stroke-width="0.55"/>
<line x1="335.7" y1="539.8" x2="335.7" y2="558.4" stroke="#555" stroke-width="0.55"/>
<linearGradient id="g18" gradientUnits="userSpaceOnUse" x1="208.0" y1="0.0" x2="337.4" y2="0.0"><stop offset="0" stop-color="#d4283a"/><stop offset="0.08399999999999999" stop-color="#e03848"/><stop offset="0.12" stop-color="#ec7088"/><stop offset="0.13999999999999999" stop-color="#f2b4c6"/><stop offset="0.32999999999999996" stop-color="#ecc8dc"/><stop offset="0.35" stop-color="#e0d8ee"/><stop offset="0.71" stop-color="#d4d4ee"/><stop offset="0.74" stop-color="#8080c8"/><stop offset="0.77" stop-color="#5a5ab0"/><stop offset="1" stop-color="#44449e"/></linearGradient><rect x="208.0" y="558.4" width="129.4" height="4.6" fill="url(#g18)"/>
<polyline points="207.8,483.3 218.6,489.4 220.4,487.7 229.2,498.3 231.0,492.0 232.8,493.9 234.5,490.3 258.5,513.5 265.4,519.4 267.0,514.2 270.6,518.4 274.0,512.5 298.3,536.7 300.0,532.5 301.7,534.0 303.4,531.5 305.2,533.8 306.9,530.5 308.6,533.0 310.4,529.2 313.8,531.5 315.5,526.0 317.3,528.0 320.8,524.5 322.5,526.0 324.2,522.0 327.7,523.4 329.0,519.4 331.1,520.5 332.9,511.0 334.0,512.5 335.7,504.5 336.3,506.0 337.1,484.8" fill="none" stroke="#5eab32" stroke-width="1.2" stroke-linejoin="round"/>
<rect x="207.5" y="480.6" width="136.3" height="83.0" fill="none" stroke="#2a2a2a" stroke-width="1.1"/>
<line x1="203.9" y1="485.5" x2="207.5" y2="485.5" stroke="#2a2a2a" stroke-width="0.8"/>
<text x="202.7" y="487.4" font-size="5.83" text-anchor="end" textLength="14.1" lengthAdjust="spacingAndGlyphs" fill="#262626" stroke="#262626" stroke-width="0.2">0.00</text>
<line x1="203.9" y1="491.96" x2="207.5" y2="491.96" stroke="#2a2a2a" stroke-width="0.8"/>
<text x="202.7" y="493.85999999999996" font-size="5.83" text-anchor="end" textLength="16.7" lengthAdjust="spacingAndGlyphs" fill="#262626" stroke="#262626" stroke-width="0.2">-0.05</text>
<line x1="203.9" y1="498.42" x2="207.5" y2="498.42" stroke="#2a2a2a" stroke-width="0.8"/>
<text x="202.7" y="500.32" font-size="5.83" text-anchor="end" textLength="16.7" lengthAdjust="spacingAndGlyphs" fill="#262626" stroke="#262626" stroke-width="0.2">-0.10</text>
<line x1="203.9" y1="504.88" x2="207.5" y2="504.88" stroke="#2a2a2a" stroke-width="0.8"/>
<text x="202.7" y="506.78" font-size="5.83" text-anchor="end" textLength="16.7" lengthAdjust="spacingAndGlyphs" fill="#262626" stroke="#262626" stroke-width="0.2">-0.15</text>
<line x1="203.9" y1="511.34" x2="207.5" y2="511.34" stroke="#2a2a2a" stroke-width="0.8"/>
<text x="202.7" y="513.24" font-size="5.83" text-anchor="end" textLength="16.7" lengthAdjust="spacingAndGlyphs" fill="#262626" stroke="#262626" stroke-width="0.2">-0.20</text>
<line x1="203.9" y1="517.8" x2="207.5" y2="517.8" stroke="#2a2a2a" stroke-width="0.8"/>
<text x="202.7" y="519.6999999999999" font-size="5.83" text-anchor="end" textLength="16.7" lengthAdjust="spacingAndGlyphs" fill="#262626" stroke="#262626" stroke-width="0.2">-0.25</text>
<line x1="203.9" y1="524.26" x2="207.5" y2="524.26" stroke="#2a2a2a" stroke-width="0.8"/>
<text x="202.7" y="526.16" font-size="5.83" text-anchor="end" textLength="16.7" lengthAdjust="spacingAndGlyphs" fill="#262626" stroke="#262626" stroke-width="0.2">-0.30</text>
<line x1="203.9" y1="530.72" x2="207.5" y2="530.72" stroke="#2a2a2a" stroke-width="0.8"/>
<text x="202.7" y="532.62" font-size="5.83" text-anchor="end" textLength="16.7" lengthAdjust="spacingAndGlyphs" fill="#262626" stroke="#262626" stroke-width="0.2">-0.35</text>
<line x1="203.9" y1="537.18" x2="207.5" y2="537.18" stroke="#2a2a2a" stroke-width="0.8"/>
<text x="202.7" y="539.0799999999999" font-size="5.83" text-anchor="end" textLength="16.7" lengthAdjust="spacingAndGlyphs" fill="#262626" stroke="#262626" stroke-width="0.2">-0.40</text>
<text x="0" y="0" transform="translate(179.1,511.3) rotate(-90)" font-size="6.6" text-anchor="middle" textLength="64.4" lengthAdjust="spacingAndGlyphs" fill="#262626" stroke="#262626" stroke-width="0.2">Enrichment score (ES)</text>
<text x="207.8" y="477.2" font-size="6.93" textLength="74.5" lengthAdjust="spacingAndGlyphs" fill="#262626" stroke="#262626" stroke-width="0.2">HOXA9 downreg. targets</text>
<text x="343.2" y="468.6" font-size="6.82" text-anchor="end" textLength="44.2" lengthAdjust="spacingAndGlyphs" fill="#262626" stroke="#262626" stroke-width="0.2">q-value: 0.0008</text>
<text x="343.2" y="476.6" font-size="6.82" text-anchor="end" textLength="31.8" lengthAdjust="spacingAndGlyphs" fill="#262626" stroke="#262626" stroke-width="0.2">NES: −2.50</text>
<line x1="380.3" y1="532.8" x2="513.8" y2="532.8" stroke="#d6d6d6" stroke-width="0.6"/>
<line x1="380.3" y1="539.4" x2="513.8" y2="539.4" stroke="#cfcfcf" stroke-width="0.6"/>
<line x1="381.9" y1="539.8" x2="381.9" y2="558.4" stroke="#2a2a2a" stroke-width="1.5"/>
<line x1="384.1" y1="539.8" x2="384.1" y2="558.4" stroke="#aaa" stroke-width="1.57"/>
<line x1="385.9" y1="539.8" x2="385.9" y2="558.4" stroke="#c4c4c4" stroke-width="1.08"/>
<line x1="388.0" y1="539.8" x2="388.0" y2="558.4" stroke="#555" stroke-width="1.71"/>
<line x1="390.7" y1="539.8" x2="390.7" y2="558.4" stroke="#777" stroke-width="2.23"/>
<line x1="393.4" y1="539.8" x2="393.4" y2="558.4" stroke="#444" stroke-width="1.18"/>
<line x1="395.8" y1="539.8" x2="395.8" y2="558.4" stroke="#aaa" stroke-width="2.02"/>
<line x1="398.9" y1="539.8" x2="398.9" y2="558.4" stroke="#999" stroke-width="1.97"/>
<line x1="401.7" y1="539.8" x2="401.7" y2="558.4" stroke="#c4c4c4" stroke-width="0.99"/>
<line x1="404.3" y1="539.8" x2="404.3" y2="558.4" stroke="#777" stroke-width="1.6"/>
<line x1="406.5" y1="539.8" x2="406.5" y2="558.4" stroke="#c4c4c4" stroke-width="1.75"/>
<line x1="409.2" y1="539.8" x2="409.2" y2="558.4" stroke="#444" stroke-width="1.28"/>
<line x1="411.9" y1="539.8" x2="411.9" y2="558.4" stroke="#1e1e1e" stroke-width="1.95"/>
<line x1="413.9" y1="539.8" x2="413.9" y2="558.4" stroke="#141414" stroke-width="1.51"/>
<line x1="416.2" y1="539.8" x2="416.2" y2="558.4" stroke="#1e1e1e" stroke-width="2.02"/>
<line x1="418.8" y1="539.8" x2="418.8" y2="558.4" stroke="#2a2a2a" stroke-width="2.15"/>
<line x1="420.6" y1="539.8" x2="420.6" y2="558.4" stroke="#3a3a3a" stroke-width="1.26"/>
<line x1="422.7" y1="539.8" x2="422.7" y2="558.4" stroke="#1e1e1e" stroke-width="2.17"/>
<line x1="424.9" y1="539.8" x2="424.9" y2="558.4" stroke="#3a3a3a" stroke-width="1.73"/>
<line x1="427.1" y1="539.8" x2="427.1" y2="558.4" stroke="#0a0a0a" stroke-width="1.82"/>
<line x1="429.0" y1="539.8" x2="429.0" y2="558.4" stroke="#444" stroke-width="1.43"/>
<line x1="431.0" y1="539.8" x2="431.0" y2="558.4" stroke="#888" stroke-width="1.06"/>
<line x1="433.0" y1="539.8" x2="433.0" y2="558.4" stroke="#333" stroke-width="1.84"/>
<line x1="436.1" y1="539.8" x2="436.1" y2="558.4" stroke="#888" stroke-width="1.66"/>
<line x1="439.4" y1="539.8" x2="439.4" y2="558.4" stroke="#aaa" stroke-width="1.87"/>
<line x1="442.1" y1="539.8" x2="442.1" y2="558.4" stroke="#999" stroke-width="1.67"/>
<line x1="445.0" y1="539.8" x2="445.0" y2="558.4" stroke="#333" stroke-width="1.24"/>
<line x1="446.5" y1="539.8" x2="446.5" y2="558.4" stroke="#888" stroke-width="0.96"/>
<line x1="448.8" y1="539.8" x2="448.8" y2="558.4" stroke="#999" stroke-width="2.13"/>
<line x1="452.2" y1="539.8" x2="452.2" y2="558.4" stroke="#888" stroke-width="2.1"/>
<line x1="454.9" y1="539.8" x2="454.9" y2="558.4" stroke="#666" stroke-width="1.63"/>
<line x1="457.4" y1="539.8" x2="457.4" y2="558.4" stroke="#aaa" stroke-width="1.03"/>
<line x1="459.6" y1="539.8" x2="459.6" y2="558.4" stroke="#888" stroke-width="1.46"/>
<line x1="462.5" y1="539.8" x2="462.5" y2="558.4" stroke="#444" stroke-width="2.07"/>
<line x1="465.6" y1="539.8" x2="465.6" y2="558.4" stroke="#c4c4c4" stroke-width="1.83"/>
<line x1="468.8" y1="539.8" x2="468.8" y2="558.4" stroke="#999" stroke-width="1.95"/>
<line x1="471.8" y1="539.8" x2="471.8" y2="558.4" stroke="#444" stroke-width="1.62"/>
<line x1="474.5" y1="539.8" x2="474.5" y2="558.4" stroke="#666" stroke-width="1.82"/>
<line x1="478.1" y1="539.8" x2="478.1" y2="558.4" stroke="#ccc" stroke-width="2.58"/>
<line x1="480.8" y1="539.8" x2="480.8" y2="558.4" stroke="#999" stroke-width="1.24"/>
<line x1="484.4" y1="539.8" x2="484.4" y2="558.4" stroke="#ccc" stroke-width="1.15"/>
<line x1="487.7" y1="539.8" x2="487.7" y2="558.4" stroke="#555" stroke-width="1.79"/>
<line x1="491.6" y1="539.8" x2="491.6" y2="558.4" stroke="#aaa" stroke-width="2.16"/>
<line x1="495.6" y1="539.8" x2="495.6" y2="558.4" stroke="#555" stroke-width="2.58"/>
<line x1="498.6" y1="539.8" x2="498.6" y2="558.4" stroke="#aaa" stroke-width="1.25"/>
<line x1="501.6" y1="539.8" x2="501.6" y2="558.4" stroke="#ccc" stroke-width="1.89"/>
<line x1="504.9" y1="539.8" x2="504.9" y2="558.4" stroke="#555" stroke-width="2.52"/>
<linearGradient id="g19" gradientUnits="userSpaceOnUse" x1="380.8" y1="0.0" x2="508.0" y2="0.0"><stop offset="0" stop-color="#d4283a"/><stop offset="0.077" stop-color="#e03848"/><stop offset="0.11" stop-color="#ec7088"/><stop offset="0.13" stop-color="#f2b4c6"/><stop offset="0.32" stop-color="#ecc8dc"/><stop offset="0.34" stop-color="#e0d8ee"/><stop offset="0.71" stop-color="#d4d4ee"/><stop offset="0.74" stop-color="#8080c8"/><stop offset="0.77" stop-color="#5a5ab0"/><stop offset="1" stop-color="#44449e"/></linearGradient><rect x="380.8" y="558.4" width="127.2" height="4.6" fill="url(#g19)"/>
<polyline points="380.8,526.3 381.9,524.5 383.0,525.0 384.0,525.6 385.0,527.3 386.0,527.0 387.0,525.3 388.0,526.6 389.0,524.5 390.0,525.7 391.0,524.3 392.0,524.6 393.0,525.4 394.0,527.0 395.0,527.8 396.0,528.5 397.0,529.8 398.0,530.9 399.0,528.6 400.0,528.5 401.0,527.9 402.0,528.9 403.0,531.0 404.0,531.3 405.0,531.8 406.0,530.0 407.1,531.7 408.1,533.3 409.2,535.0 410.5,533.0 411.6,530.7 412.7,528.0 413.9,525.2 415.0,521.0 416.0,517.3 417.0,515.7 418.0,512.5 419.0,508.5 420.0,504.5 421.0,500.0 421.9,496.1 422.9,493.2 423.9,490.8 424.8,488.3 425.9,489.1 426.9,487.0 428.0,487.0 428.9,487.0 429.9,485.8 430.8,484.9 431.7,485.8 432.5,484.3 433.4,486.3 434.2,486.0 435.0,485.0 435.9,484.1 436.8,484.6 437.7,484.0 438.6,483.0 439.8,485.2 441.0,485.0 441.9,486.9 442.9,485.7 443.8,486.5 444.6,488.1 445.5,488.1 446.3,487.1 447.2,488.0 448.0,487.0 448.9,487.4 449.8,487.5 450.7,487.5 451.5,489.8 452.4,488.1 453.3,488.3 454.2,490.0 455.1,491.2 456.1,491.3 457.1,490.7 458.0,491.0 459.1,492.8 460.1,491.3 461.2,493.5 462.0,493.7 462.8,494.7 463.6,496.0 464.4,496.2 465.2,496.8 466.0,499.0 466.9,499.6 467.8,502.4 468.8,503.8 469.7,504.1 470.6,504.4 471.5,505.6 472.4,505.5 473.3,508.3 474.2,507.7 475.1,509.0 476.0,509.0 476.9,508.3 477.7,509.6 478.6,512.2 479.4,512.9 480.3,513.9 481.1,513.8 482.0,514.2 482.8,514.8 483.7,516.0 484.5,517.6 485.3,516.8 486.2,518.3 487.0,519.0 487.9,519.3 488.8,521.7 489.6,520.3 490.5,523.3 491.4,525.0 492.3,524.6 493.2,523.8 494.1,526.1 495.1,526.8 496.0,527.0 497.1,529.0 498.1,529.1 499.2,529.8 500.1,529.6 501.1,530.6 502.1,532.8 503.0,532.0 504.0,534.2 505.0,534.0 506.1,533.8 507.2,535.7" fill="none" stroke="#5eab32" stroke-width="1.2" stroke-linejoin="round"/>
<rect x="380.3" y="480.3" width="133.5" height="83.3" fill="none" stroke="#2a2a2a" stroke-width="1.1"/>
<line x1="376.7" y1="492.6" x2="380.3" y2="492.6" stroke="#2a2a2a" stroke-width="0.8"/>
<text x="375.0" y="494.5" font-size="5.83" text-anchor="end" textLength="11.4" lengthAdjust="spacingAndGlyphs" fill="#262626" stroke="#262626" stroke-width="0.2">0.15</text>
<line x1="376.7" y1="505.9" x2="380.3" y2="505.9" stroke="#2a2a2a" stroke-width="0.8"/>
<text x="375.0" y="507.79999999999995" font-size="5.83" text-anchor="end" textLength="11.4" lengthAdjust="spacingAndGlyphs" fill="#262626" stroke="#262626" stroke-width="0.2">0.10</text>
<line x1="376.7" y1="519.3" x2="380.3" y2="519.3" stroke="#2a2a2a" stroke-width="0.8"/>
<text x="375.0" y="521.1999999999999" font-size="5.83" text-anchor="end" textLength="11.4" lengthAdjust="spacingAndGlyphs" fill="#262626" stroke="#262626" stroke-width="0.2">0.05</text>
<line x1="376.7" y1="532.8" x2="380.3" y2="532.8" stroke="#2a2a2a" stroke-width="0.8"/>
<text x="375.0" y="534.6999999999999" font-size="5.83" text-anchor="end" textLength="11.4" lengthAdjust="spacingAndGlyphs" fill="#262626" stroke="#262626" stroke-width="0.2">0.00</text>
<text x="0" y="0" transform="translate(356.4,514.5) rotate(-90)" font-size="6.6" text-anchor="middle" textLength="68" lengthAdjust="spacingAndGlyphs" fill="#262626" stroke="#262626" stroke-width="0.2">Enrichment score (ES)</text>
<text x="380.6" y="477.2" font-size="6.93" textLength="38" lengthAdjust="spacingAndGlyphs" fill="#262626" stroke="#262626" stroke-width="0.2">PRC2 Targets</text>
<text x="511.0" y="468.6" font-size="6.82" text-anchor="end" textLength="47.1" lengthAdjust="spacingAndGlyphs" fill="#262626" stroke="#262626" stroke-width="0.2">q-value: &lt;0.0001</text>
<text x="511.0" y="476.6" font-size="6.82" text-anchor="end" textLength="27.3" lengthAdjust="spacingAndGlyphs" fill="#262626" stroke="#262626" stroke-width="0.2">NES: 3.39</text>
</svg>
</body></html>
